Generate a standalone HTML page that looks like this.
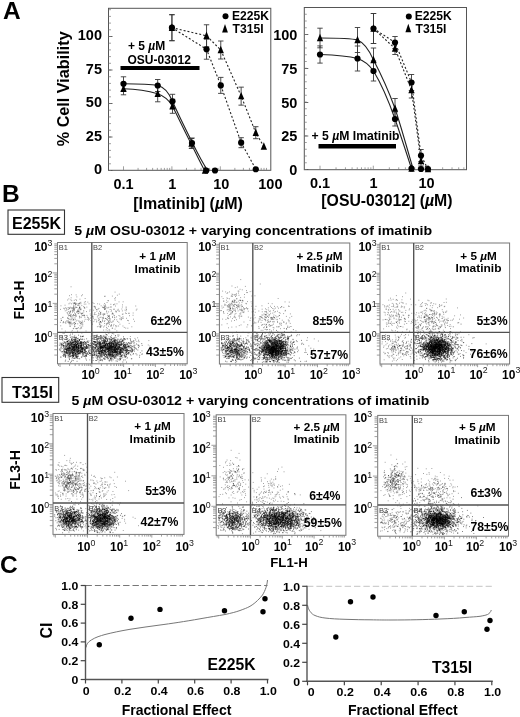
<!DOCTYPE html>
<html><head><meta charset="utf-8"><style>
html,body{margin:0;padding:0;background:#fff;overflow:hidden}
svg{display:block;font-family:"Liberation Sans",sans-serif;filter:blur(0.35px);}
</style></head><body>
<svg width="520" height="717" viewBox="0 0 520 717">
<rect width="520" height="717" fill="#fff"/>
<text x="3" y="19" font-size="24.5" font-weight="bold" text-anchor="start" fill="#000" >A</text>
<text x="2" y="201.5" font-size="24.5" font-weight="bold" text-anchor="start" fill="#000" >B</text>
<text x="0" y="573" font-size="24.5" font-weight="bold" text-anchor="start" fill="#000" >C</text>
<rect x="108.5" y="8.3" width="162.3" height="162.0" fill="none" stroke="#555" stroke-width="1"/>
<text x="102" y="40.3" font-size="14.5" font-weight="bold" text-anchor="end" fill="#000" >100</text>
<line x1="108.5" y1="36.5" x2="112.5" y2="36.5" stroke="#555" stroke-width="0.9" />
<text x="102" y="73.8" font-size="14.5" font-weight="bold" text-anchor="end" fill="#000" >75</text>
<line x1="108.5" y1="70" x2="112.5" y2="70" stroke="#555" stroke-width="0.9" />
<text x="102" y="107.3" font-size="14.5" font-weight="bold" text-anchor="end" fill="#000" >50</text>
<line x1="108.5" y1="103.5" x2="112.5" y2="103.5" stroke="#555" stroke-width="0.9" />
<text x="102" y="140.8" font-size="14.5" font-weight="bold" text-anchor="end" fill="#000" >25</text>
<line x1="108.5" y1="137" x2="112.5" y2="137" stroke="#555" stroke-width="0.9" />
<text x="102" y="174.3" font-size="14.5" font-weight="bold" text-anchor="end" fill="#000" >0</text>
<line x1="108.5" y1="170.5" x2="112.5" y2="170.5" stroke="#555" stroke-width="0.9" />
<line x1="108.5" y1="170.5" x2="111.0" y2="170.5" stroke="#777" stroke-width="0.7" />
<line x1="108.5" y1="163.8" x2="111.0" y2="163.8" stroke="#777" stroke-width="0.7" />
<line x1="108.5" y1="157.1" x2="111.0" y2="157.1" stroke="#777" stroke-width="0.7" />
<line x1="108.5" y1="150.4" x2="111.0" y2="150.4" stroke="#777" stroke-width="0.7" />
<line x1="108.5" y1="143.7" x2="111.0" y2="143.7" stroke="#777" stroke-width="0.7" />
<line x1="108.5" y1="137.0" x2="111.0" y2="137.0" stroke="#777" stroke-width="0.7" />
<line x1="108.5" y1="130.3" x2="111.0" y2="130.3" stroke="#777" stroke-width="0.7" />
<line x1="108.5" y1="123.6" x2="111.0" y2="123.6" stroke="#777" stroke-width="0.7" />
<line x1="108.5" y1="116.9" x2="111.0" y2="116.9" stroke="#777" stroke-width="0.7" />
<line x1="108.5" y1="110.19999999999999" x2="111.0" y2="110.19999999999999" stroke="#777" stroke-width="0.7" />
<line x1="108.5" y1="103.5" x2="111.0" y2="103.5" stroke="#777" stroke-width="0.7" />
<line x1="108.5" y1="96.8" x2="111.0" y2="96.8" stroke="#777" stroke-width="0.7" />
<line x1="108.5" y1="90.1" x2="111.0" y2="90.1" stroke="#777" stroke-width="0.7" />
<line x1="108.5" y1="83.39999999999999" x2="111.0" y2="83.39999999999999" stroke="#777" stroke-width="0.7" />
<line x1="108.5" y1="76.7" x2="111.0" y2="76.7" stroke="#777" stroke-width="0.7" />
<line x1="108.5" y1="70.0" x2="111.0" y2="70.0" stroke="#777" stroke-width="0.7" />
<line x1="108.5" y1="63.3" x2="111.0" y2="63.3" stroke="#777" stroke-width="0.7" />
<line x1="108.5" y1="56.599999999999994" x2="111.0" y2="56.599999999999994" stroke="#777" stroke-width="0.7" />
<line x1="108.5" y1="49.89999999999999" x2="111.0" y2="49.89999999999999" stroke="#777" stroke-width="0.7" />
<line x1="108.5" y1="43.2" x2="111.0" y2="43.2" stroke="#777" stroke-width="0.7" />
<line x1="108.5" y1="36.5" x2="111.0" y2="36.5" stroke="#777" stroke-width="0.7" />
<line x1="108.5" y1="29.799999999999983" x2="111.0" y2="29.799999999999983" stroke="#777" stroke-width="0.7" />
<line x1="108.5" y1="23.099999999999994" x2="111.0" y2="23.099999999999994" stroke="#777" stroke-width="0.7" />
<line x1="108.5" y1="16.400000000000006" x2="111.0" y2="16.400000000000006" stroke="#777" stroke-width="0.7" />
<line x1="108.5" y1="9.699999999999989" x2="111.0" y2="9.699999999999989" stroke="#777" stroke-width="0.7" />
<text x="123.5" y="189" font-size="14.5" font-weight="bold" text-anchor="middle" fill="#000" >0.1</text>
<text x="172.3" y="189" font-size="14.5" font-weight="bold" text-anchor="middle" fill="#000" >1</text>
<text x="221.3" y="189" font-size="14.5" font-weight="bold" text-anchor="middle" fill="#000" >10</text>
<text x="270.4" y="189" font-size="14.5" font-weight="bold" text-anchor="middle" fill="#000" >100</text>
<line x1="123.5" y1="170.3" x2="123.5" y2="166.3" stroke="#777" stroke-width="0.7" />
<line x1="138.06985179013668" y1="170.3" x2="138.06985179013668" y2="167.9" stroke="#777" stroke-width="0.7" />
<line x1="146.59266872843165" y1="170.3" x2="146.59266872843165" y2="167.9" stroke="#777" stroke-width="0.7" />
<line x1="152.6397035802734" y1="170.3" x2="152.6397035802734" y2="167.9" stroke="#777" stroke-width="0.7" />
<line x1="157.3301482098633" y1="170.3" x2="157.3301482098633" y2="167.9" stroke="#777" stroke-width="0.7" />
<line x1="161.16252051856836" y1="170.3" x2="161.16252051856836" y2="167.9" stroke="#777" stroke-width="0.7" />
<line x1="164.40274513669004" y1="170.3" x2="164.40274513669004" y2="167.9" stroke="#777" stroke-width="0.7" />
<line x1="167.20955537041007" y1="170.3" x2="167.20955537041007" y2="167.9" stroke="#777" stroke-width="0.7" />
<line x1="169.68533745686332" y1="170.3" x2="169.68533745686332" y2="167.9" stroke="#777" stroke-width="0.7" />
<line x1="171.9" y1="170.3" x2="171.9" y2="166.3" stroke="#777" stroke-width="0.7" />
<line x1="186.4698517901367" y1="170.3" x2="186.4698517901367" y2="167.9" stroke="#777" stroke-width="0.7" />
<line x1="194.99266872843168" y1="170.3" x2="194.99266872843168" y2="167.9" stroke="#777" stroke-width="0.7" />
<line x1="201.0397035802734" y1="170.3" x2="201.0397035802734" y2="167.9" stroke="#777" stroke-width="0.7" />
<line x1="205.73014820986333" y1="170.3" x2="205.73014820986333" y2="167.9" stroke="#777" stroke-width="0.7" />
<line x1="209.56252051856836" y1="170.3" x2="209.56252051856836" y2="167.9" stroke="#777" stroke-width="0.7" />
<line x1="212.80274513669002" y1="170.3" x2="212.80274513669002" y2="167.9" stroke="#777" stroke-width="0.7" />
<line x1="215.60955537041008" y1="170.3" x2="215.60955537041008" y2="167.9" stroke="#777" stroke-width="0.7" />
<line x1="218.08533745686333" y1="170.3" x2="218.08533745686333" y2="167.9" stroke="#777" stroke-width="0.7" />
<line x1="220.3" y1="170.3" x2="220.3" y2="166.3" stroke="#777" stroke-width="0.7" />
<line x1="234.8698517901367" y1="170.3" x2="234.8698517901367" y2="167.9" stroke="#777" stroke-width="0.7" />
<line x1="243.39266872843166" y1="170.3" x2="243.39266872843166" y2="167.9" stroke="#777" stroke-width="0.7" />
<line x1="249.4397035802734" y1="170.3" x2="249.4397035802734" y2="167.9" stroke="#777" stroke-width="0.7" />
<line x1="254.1301482098633" y1="170.3" x2="254.1301482098633" y2="167.9" stroke="#777" stroke-width="0.7" />
<line x1="257.96252051856834" y1="170.3" x2="257.96252051856834" y2="167.9" stroke="#777" stroke-width="0.7" />
<line x1="261.20274513669006" y1="170.3" x2="261.20274513669006" y2="167.9" stroke="#777" stroke-width="0.7" />
<line x1="264.00955537041006" y1="170.3" x2="264.00955537041006" y2="167.9" stroke="#777" stroke-width="0.7" />
<line x1="266.48533745686336" y1="170.3" x2="266.48533745686336" y2="167.9" stroke="#777" stroke-width="0.7" />
<text x="188" y="209" font-size="16" font-weight="bold" text-anchor="middle" fill="#000" >[Imatinib] (<tspan font-style="italic">µ</tspan>M)</text>
<text transform="translate(68.8,88.8) rotate(-90)" font-size="16.2" font-weight="bold" text-anchor="middle">% Cell Viability</text>
<polyline fill="none" stroke="#222" stroke-width="1.1" stroke-dasharray="2,2" points="171.9,27.7 206.5,49.2 220.8,85.4 241.2,142.7 255.8,169.2"/>
<polyline fill="none" stroke="#222" stroke-width="1.1" stroke-dasharray="2,2" points="171.9,27.7 206.5,35.8 220.8,50.0 241.2,96.2 255.8,132.7 263.8,146.5"/>
<path fill="none" stroke="#222" stroke-width="1.1" d="M123.5 83.8 C140 83.9,150 84.2,157.7 85.5 C165 87,169 93,172.5 101.3 C178 114,186 130,193 144 C198 154,203 163.5,207.5 170.3"/>
<path fill="none" stroke="#222" stroke-width="1.1" d="M123.5 88.8 C140 89.3,150 91.5,157.7 93.8 C164 96,169 100,172.5 106.3 C178 117,184 130,191 143.5 C196 153.5,200 162,204.5 170.3"/>
<line x1="171.9230769230769" y1="14.69230769230769" x2="171.9230769230769" y2="40.69230769230769" stroke="#383838" stroke-width="0.9" />
<line x1="169.22307692307692" y1="14.69230769230769" x2="174.6230769230769" y2="14.69230769230769" stroke="#383838" stroke-width="0.9" />
<line x1="169.22307692307692" y1="40.69230769230769" x2="174.6230769230769" y2="40.69230769230769" stroke="#383838" stroke-width="0.9" />
<line x1="206.53846153846155" y1="39.230769230769226" x2="206.53846153846155" y2="59.230769230769226" stroke="#383838" stroke-width="0.9" />
<line x1="203.83846153846156" y1="39.230769230769226" x2="209.23846153846154" y2="39.230769230769226" stroke="#383838" stroke-width="0.9" />
<line x1="203.83846153846156" y1="59.230769230769226" x2="209.23846153846154" y2="59.230769230769226" stroke="#383838" stroke-width="0.9" />
<line x1="220.76923076923077" y1="77.38461538461539" x2="220.76923076923077" y2="93.38461538461539" stroke="#383838" stroke-width="0.9" />
<line x1="218.06923076923078" y1="77.38461538461539" x2="223.46923076923076" y2="77.38461538461539" stroke="#383838" stroke-width="0.9" />
<line x1="218.06923076923078" y1="93.38461538461539" x2="223.46923076923076" y2="93.38461538461539" stroke="#383838" stroke-width="0.9" />
<line x1="241.15384615384616" y1="137.69230769230768" x2="241.15384615384616" y2="147.69230769230768" stroke="#383838" stroke-width="0.9" />
<line x1="238.45384615384617" y1="137.69230769230768" x2="243.85384615384615" y2="137.69230769230768" stroke="#383838" stroke-width="0.9" />
<line x1="238.45384615384617" y1="147.69230769230768" x2="243.85384615384615" y2="147.69230769230768" stroke="#383838" stroke-width="0.9" />
<line x1="171.9230769230769" y1="14.69230769230769" x2="171.9230769230769" y2="40.69230769230769" stroke="#383838" stroke-width="0.9" />
<line x1="169.22307692307692" y1="14.69230769230769" x2="174.6230769230769" y2="14.69230769230769" stroke="#383838" stroke-width="0.9" />
<line x1="169.22307692307692" y1="40.69230769230769" x2="174.6230769230769" y2="40.69230769230769" stroke="#383838" stroke-width="0.9" />
<line x1="206.53846153846155" y1="24.769230769230766" x2="206.53846153846155" y2="46.76923076923077" stroke="#383838" stroke-width="0.9" />
<line x1="203.83846153846156" y1="24.769230769230766" x2="209.23846153846154" y2="24.769230769230766" stroke="#383838" stroke-width="0.9" />
<line x1="203.83846153846156" y1="46.76923076923077" x2="209.23846153846154" y2="46.76923076923077" stroke="#383838" stroke-width="0.9" />
<line x1="220.76923076923077" y1="41.0" x2="220.76923076923077" y2="59.0" stroke="#383838" stroke-width="0.9" />
<line x1="218.06923076923078" y1="41.0" x2="223.46923076923076" y2="41.0" stroke="#383838" stroke-width="0.9" />
<line x1="218.06923076923078" y1="59.0" x2="223.46923076923076" y2="59.0" stroke="#383838" stroke-width="0.9" />
<line x1="241.15384615384616" y1="87.15384615384615" x2="241.15384615384616" y2="105.15384615384615" stroke="#383838" stroke-width="0.9" />
<line x1="238.45384615384617" y1="87.15384615384615" x2="243.85384615384615" y2="87.15384615384615" stroke="#383838" stroke-width="0.9" />
<line x1="238.45384615384617" y1="105.15384615384615" x2="243.85384615384615" y2="105.15384615384615" stroke="#383838" stroke-width="0.9" />
<line x1="255.76923076923077" y1="126.69230769230768" x2="255.76923076923077" y2="138.69230769230768" stroke="#383838" stroke-width="0.9" />
<line x1="253.06923076923078" y1="126.69230769230768" x2="258.46923076923076" y2="126.69230769230768" stroke="#383838" stroke-width="0.9" />
<line x1="253.06923076923078" y1="138.69230769230768" x2="258.46923076923076" y2="138.69230769230768" stroke="#383838" stroke-width="0.9" />
<line x1="123.5" y1="76.8" x2="123.5" y2="90.8" stroke="#383838" stroke-width="0.9" />
<line x1="120.8" y1="76.8" x2="126.2" y2="76.8" stroke="#383838" stroke-width="0.9" />
<line x1="120.8" y1="90.8" x2="126.2" y2="90.8" stroke="#383838" stroke-width="0.9" />
<line x1="157.7" y1="79.5" x2="157.7" y2="91.5" stroke="#383838" stroke-width="0.9" />
<line x1="155.0" y1="79.5" x2="160.39999999999998" y2="79.5" stroke="#383838" stroke-width="0.9" />
<line x1="155.0" y1="91.5" x2="160.39999999999998" y2="91.5" stroke="#383838" stroke-width="0.9" />
<line x1="172.5" y1="94.3" x2="172.5" y2="108.3" stroke="#383838" stroke-width="0.9" />
<line x1="169.8" y1="94.3" x2="175.2" y2="94.3" stroke="#383838" stroke-width="0.9" />
<line x1="169.8" y1="108.3" x2="175.2" y2="108.3" stroke="#383838" stroke-width="0.9" />
<line x1="192" y1="138" x2="192" y2="148" stroke="#383838" stroke-width="0.9" />
<line x1="189.3" y1="138" x2="194.7" y2="138" stroke="#383838" stroke-width="0.9" />
<line x1="189.3" y1="148" x2="194.7" y2="148" stroke="#383838" stroke-width="0.9" />
<line x1="123.5" y1="82.8" x2="123.5" y2="94.8" stroke="#383838" stroke-width="0.9" />
<line x1="120.8" y1="82.8" x2="126.2" y2="82.8" stroke="#383838" stroke-width="0.9" />
<line x1="120.8" y1="94.8" x2="126.2" y2="94.8" stroke="#383838" stroke-width="0.9" />
<line x1="157.7" y1="85.8" x2="157.7" y2="101.8" stroke="#383838" stroke-width="0.9" />
<line x1="155.0" y1="85.8" x2="160.39999999999998" y2="85.8" stroke="#383838" stroke-width="0.9" />
<line x1="155.0" y1="101.8" x2="160.39999999999998" y2="101.8" stroke="#383838" stroke-width="0.9" />
<line x1="172.5" y1="99.3" x2="172.5" y2="113.3" stroke="#383838" stroke-width="0.9" />
<line x1="169.8" y1="99.3" x2="175.2" y2="99.3" stroke="#383838" stroke-width="0.9" />
<line x1="169.8" y1="113.3" x2="175.2" y2="113.3" stroke="#383838" stroke-width="0.9" />
<line x1="191.5" y1="138.5" x2="191.5" y2="148.5" stroke="#383838" stroke-width="0.9" />
<line x1="188.8" y1="138.5" x2="194.2" y2="138.5" stroke="#383838" stroke-width="0.9" />
<line x1="188.8" y1="148.5" x2="194.2" y2="148.5" stroke="#383838" stroke-width="0.9" />
<circle cx="171.9230769230769" cy="27.69230769230769" r="3.1" fill="#000"/>
<circle cx="206.53846153846155" cy="49.230769230769226" r="3.1" fill="#000"/>
<circle cx="220.76923076923077" cy="85.38461538461539" r="3.1" fill="#000"/>
<circle cx="241.15384615384616" cy="142.69230769230768" r="3.1" fill="#000"/>
<circle cx="255.76923076923077" cy="169.23076923076923" r="3.1" fill="#000"/>
<path d="M171.9230769230769 23.49230769230769L175.06807692307692 30.89230769230769L168.7780769230769 30.89230769230769Z" fill="#000"/>
<path d="M206.53846153846155 31.569230769230764L209.68346153846156 38.96923076923077L203.39346153846154 38.96923076923077Z" fill="#000"/>
<path d="M220.76923076923077 45.8L223.91423076923078 53.2L217.62423076923076 53.2Z" fill="#000"/>
<path d="M241.15384615384616 91.95384615384614L244.29884615384617 99.35384615384615L238.00884615384615 99.35384615384615Z" fill="#000"/>
<path d="M255.76923076923077 128.4923076923077L258.91423076923076 135.89230769230767L252.62423076923076 135.89230769230767Z" fill="#000"/>
<path d="M263.8461538461538 142.33846153846156L266.9911538461538 149.73846153846154L260.70115384615383 149.73846153846154Z" fill="#000"/>
<circle cx="123.5" cy="83.8" r="3.1" fill="#000"/>
<circle cx="157.7" cy="85.5" r="3.1" fill="#000"/>
<circle cx="172.5" cy="101.3" r="3.1" fill="#000"/>
<circle cx="192" cy="143" r="3.1" fill="#000"/>
<circle cx="206.3" cy="170.5" r="3.1" fill="#000"/>
<circle cx="215" cy="170.5" r="3.1" fill="#000"/>
<path d="M123.5 84.6L126.645 92.0L120.355 92.0Z" fill="#000"/>
<path d="M157.7 89.6L160.845 97.0L154.55499999999998 97.0Z" fill="#000"/>
<path d="M172.5 102.1L175.645 109.5L169.355 109.5Z" fill="#000"/>
<path d="M191.5 139.3L194.645 146.7L188.355 146.7Z" fill="#000"/>
<path d="M205 166.3L208.145 173.7L201.855 173.7Z" fill="#000"/>
<rect x="120.5" y="66" width="79" height="4" fill="#000"/>
<text x="128" y="50" font-size="12" font-weight="bold" text-anchor="start" fill="#000" >+ 5 <tspan font-style="italic">µ</tspan>M</text>
<text x="127.5" y="64" font-size="12" font-weight="bold" text-anchor="start" fill="#000" >OSU-03012</text>
<circle cx="225.5" cy="16.2" r="3" fill="#000"/>
<text x="232" y="20.1" font-size="12.1" font-weight="bold" text-anchor="start" fill="#000" >E225K</text>
<path d="M225 24.1L227.9 32.5L222.1 32.5Z" fill="#000"/>
<text x="232.6" y="32.8" font-size="12.1" font-weight="bold" text-anchor="start" fill="#000" >T315I</text>
<rect x="304.3" y="7.5" width="162.2" height="162.2" fill="none" stroke="#555" stroke-width="1"/>
<text x="297.4" y="39.5" font-size="14.5" font-weight="bold" text-anchor="end" fill="#000" >100</text>
<line x1="304.3" y1="34.5" x2="308.3" y2="34.5" stroke="#555" stroke-width="0.9" />
<text x="297.4" y="73.5" font-size="14.5" font-weight="bold" text-anchor="end" fill="#000" >75</text>
<line x1="304.3" y1="68.5" x2="308.3" y2="68.5" stroke="#555" stroke-width="0.9" />
<text x="297.4" y="107.5" font-size="14.5" font-weight="bold" text-anchor="end" fill="#000" >50</text>
<line x1="304.3" y1="102.5" x2="308.3" y2="102.5" stroke="#555" stroke-width="0.9" />
<text x="297.4" y="141" font-size="14.5" font-weight="bold" text-anchor="end" fill="#000" >25</text>
<line x1="304.3" y1="136" x2="308.3" y2="136" stroke="#555" stroke-width="0.9" />
<text x="297.4" y="174.5" font-size="14.5" font-weight="bold" text-anchor="end" fill="#000" >0</text>
<line x1="304.3" y1="169.5" x2="308.3" y2="169.5" stroke="#555" stroke-width="0.9" />
<line x1="304.3" y1="169.5" x2="306.8" y2="169.5" stroke="#777" stroke-width="0.7" />
<line x1="304.3" y1="162.75" x2="306.8" y2="162.75" stroke="#777" stroke-width="0.7" />
<line x1="304.3" y1="156.0" x2="306.8" y2="156.0" stroke="#777" stroke-width="0.7" />
<line x1="304.3" y1="149.25" x2="306.8" y2="149.25" stroke="#777" stroke-width="0.7" />
<line x1="304.3" y1="142.5" x2="306.8" y2="142.5" stroke="#777" stroke-width="0.7" />
<line x1="304.3" y1="135.75" x2="306.8" y2="135.75" stroke="#777" stroke-width="0.7" />
<line x1="304.3" y1="129.0" x2="306.8" y2="129.0" stroke="#777" stroke-width="0.7" />
<line x1="304.3" y1="122.25" x2="306.8" y2="122.25" stroke="#777" stroke-width="0.7" />
<line x1="304.3" y1="115.5" x2="306.8" y2="115.5" stroke="#777" stroke-width="0.7" />
<line x1="304.3" y1="108.75" x2="306.8" y2="108.75" stroke="#777" stroke-width="0.7" />
<line x1="304.3" y1="102.0" x2="306.8" y2="102.0" stroke="#777" stroke-width="0.7" />
<line x1="304.3" y1="95.25" x2="306.8" y2="95.25" stroke="#777" stroke-width="0.7" />
<line x1="304.3" y1="88.5" x2="306.8" y2="88.5" stroke="#777" stroke-width="0.7" />
<line x1="304.3" y1="81.75" x2="306.8" y2="81.75" stroke="#777" stroke-width="0.7" />
<line x1="304.3" y1="75.0" x2="306.8" y2="75.0" stroke="#777" stroke-width="0.7" />
<line x1="304.3" y1="68.25" x2="306.8" y2="68.25" stroke="#777" stroke-width="0.7" />
<line x1="304.3" y1="61.5" x2="306.8" y2="61.5" stroke="#777" stroke-width="0.7" />
<line x1="304.3" y1="54.75" x2="306.8" y2="54.75" stroke="#777" stroke-width="0.7" />
<line x1="304.3" y1="48.0" x2="306.8" y2="48.0" stroke="#777" stroke-width="0.7" />
<line x1="304.3" y1="41.25" x2="306.8" y2="41.25" stroke="#777" stroke-width="0.7" />
<line x1="304.3" y1="34.5" x2="306.8" y2="34.5" stroke="#777" stroke-width="0.7" />
<line x1="304.3" y1="27.75" x2="306.8" y2="27.75" stroke="#777" stroke-width="0.7" />
<line x1="304.3" y1="21.0" x2="306.8" y2="21.0" stroke="#777" stroke-width="0.7" />
<line x1="304.3" y1="14.25" x2="306.8" y2="14.25" stroke="#777" stroke-width="0.7" />
<text x="320" y="188" font-size="14.5" font-weight="bold" text-anchor="middle" fill="#000" >0.1</text>
<text x="373.5" y="188" font-size="14.5" font-weight="bold" text-anchor="middle" fill="#000" >1</text>
<text x="426.5" y="188" font-size="14.5" font-weight="bold" text-anchor="middle" fill="#000" >10</text>
<line x1="320.0" y1="169.7" x2="320.0" y2="165.7" stroke="#777" stroke-width="0.7" />
<line x1="336.0448987688902" y1="169.7" x2="336.0448987688902" y2="167.29999999999998" stroke="#777" stroke-width="0.7" />
<line x1="345.430562876558" y1="169.7" x2="345.430562876558" y2="167.29999999999998" stroke="#777" stroke-width="0.7" />
<line x1="352.0897975377804" y1="169.7" x2="352.0897975377804" y2="167.29999999999998" stroke="#777" stroke-width="0.7" />
<line x1="357.2551012311098" y1="169.7" x2="357.2551012311098" y2="167.29999999999998" stroke="#777" stroke-width="0.7" />
<line x1="361.4754616454482" y1="169.7" x2="361.4754616454482" y2="167.29999999999998" stroke="#777" stroke-width="0.7" />
<line x1="365.0437255327599" y1="169.7" x2="365.0437255327599" y2="167.29999999999998" stroke="#777" stroke-width="0.7" />
<line x1="368.1346963066706" y1="169.7" x2="368.1346963066706" y2="167.29999999999998" stroke="#777" stroke-width="0.7" />
<line x1="370.861125753116" y1="169.7" x2="370.861125753116" y2="167.29999999999998" stroke="#777" stroke-width="0.7" />
<line x1="373.3" y1="169.7" x2="373.3" y2="165.7" stroke="#777" stroke-width="0.7" />
<line x1="389.34489876889023" y1="169.7" x2="389.34489876889023" y2="167.29999999999998" stroke="#777" stroke-width="0.7" />
<line x1="398.730562876558" y1="169.7" x2="398.730562876558" y2="167.29999999999998" stroke="#777" stroke-width="0.7" />
<line x1="405.3897975377804" y1="169.7" x2="405.3897975377804" y2="167.29999999999998" stroke="#777" stroke-width="0.7" />
<line x1="410.5551012311098" y1="169.7" x2="410.5551012311098" y2="167.29999999999998" stroke="#777" stroke-width="0.7" />
<line x1="414.7754616454482" y1="169.7" x2="414.7754616454482" y2="167.29999999999998" stroke="#777" stroke-width="0.7" />
<line x1="418.3437255327599" y1="169.7" x2="418.3437255327599" y2="167.29999999999998" stroke="#777" stroke-width="0.7" />
<line x1="421.4346963066706" y1="169.7" x2="421.4346963066706" y2="167.29999999999998" stroke="#777" stroke-width="0.7" />
<line x1="424.16112575311604" y1="169.7" x2="424.16112575311604" y2="167.29999999999998" stroke="#777" stroke-width="0.7" />
<line x1="426.6" y1="169.7" x2="426.6" y2="165.7" stroke="#777" stroke-width="0.7" />
<line x1="442.64489876889024" y1="169.7" x2="442.64489876889024" y2="167.29999999999998" stroke="#777" stroke-width="0.7" />
<line x1="452.030562876558" y1="169.7" x2="452.030562876558" y2="167.29999999999998" stroke="#777" stroke-width="0.7" />
<line x1="458.6897975377804" y1="169.7" x2="458.6897975377804" y2="167.29999999999998" stroke="#777" stroke-width="0.7" />
<line x1="463.8551012311098" y1="169.7" x2="463.8551012311098" y2="167.29999999999998" stroke="#777" stroke-width="0.7" />
<text x="386.9" y="206" font-size="15.8" font-weight="bold" text-anchor="middle" fill="#000" >[OSU-03012] (<tspan font-style="italic">µ</tspan>M)</text>
<polyline fill="none" stroke="#222" stroke-width="1.1" stroke-dasharray="2,2" points="373.5,28.5 395.0,42.5 411.5,82.5 421.0,155.5 428.0,169.0"/>
<polyline fill="none" stroke="#222" stroke-width="1.1" stroke-dasharray="2,2" points="373.5,28.5 395.0,48.5 411.5,90.0 421.0,161.0 428.0,169.0"/>
<path fill="none" stroke="#222" stroke-width="1.1" d="M320 54.5 C335 55,348 56,357.5 58.5 C365 61,370 66,373.5 71 C382 85,389 102,395 119 C401 136,407 155,411.5 168.5"/>
<path fill="none" stroke="#222" stroke-width="1.1" d="M320 38 C335 38,350 38,357.5 40 C365 43,370 52,373.5 60 C382 76,389 92,395 108.5 C401 126,408 152,413 168.5"/>
<line x1="373.5" y1="13.5" x2="373.5" y2="43.5" stroke="#383838" stroke-width="0.9" />
<line x1="370.8" y1="13.5" x2="376.2" y2="13.5" stroke="#383838" stroke-width="0.9" />
<line x1="370.8" y1="43.5" x2="376.2" y2="43.5" stroke="#383838" stroke-width="0.9" />
<line x1="395.0" y1="36.5" x2="395.0" y2="48.5" stroke="#383838" stroke-width="0.9" />
<line x1="392.3" y1="36.5" x2="397.7" y2="36.5" stroke="#383838" stroke-width="0.9" />
<line x1="392.3" y1="48.5" x2="397.7" y2="48.5" stroke="#383838" stroke-width="0.9" />
<line x1="411.5" y1="74.5" x2="411.5" y2="90.5" stroke="#383838" stroke-width="0.9" />
<line x1="408.8" y1="74.5" x2="414.2" y2="74.5" stroke="#383838" stroke-width="0.9" />
<line x1="408.8" y1="90.5" x2="414.2" y2="90.5" stroke="#383838" stroke-width="0.9" />
<line x1="421.0" y1="149.5" x2="421.0" y2="161.5" stroke="#383838" stroke-width="0.9" />
<line x1="418.3" y1="149.5" x2="423.7" y2="149.5" stroke="#383838" stroke-width="0.9" />
<line x1="418.3" y1="161.5" x2="423.7" y2="161.5" stroke="#383838" stroke-width="0.9" />
<line x1="373.5" y1="13.5" x2="373.5" y2="43.5" stroke="#383838" stroke-width="0.9" />
<line x1="370.8" y1="13.5" x2="376.2" y2="13.5" stroke="#383838" stroke-width="0.9" />
<line x1="370.8" y1="43.5" x2="376.2" y2="43.5" stroke="#383838" stroke-width="0.9" />
<line x1="395.0" y1="42.5" x2="395.0" y2="54.5" stroke="#383838" stroke-width="0.9" />
<line x1="392.3" y1="42.5" x2="397.7" y2="42.5" stroke="#383838" stroke-width="0.9" />
<line x1="392.3" y1="54.5" x2="397.7" y2="54.5" stroke="#383838" stroke-width="0.9" />
<line x1="411.5" y1="82.0" x2="411.5" y2="98.0" stroke="#383838" stroke-width="0.9" />
<line x1="408.8" y1="82.0" x2="414.2" y2="82.0" stroke="#383838" stroke-width="0.9" />
<line x1="408.8" y1="98.0" x2="414.2" y2="98.0" stroke="#383838" stroke-width="0.9" />
<line x1="421.0" y1="156.0" x2="421.0" y2="166.0" stroke="#383838" stroke-width="0.9" />
<line x1="418.3" y1="156.0" x2="423.7" y2="156.0" stroke="#383838" stroke-width="0.9" />
<line x1="418.3" y1="166.0" x2="423.7" y2="166.0" stroke="#383838" stroke-width="0.9" />
<line x1="320.0" y1="45.9" x2="320.0" y2="63.1" stroke="#383838" stroke-width="0.9" />
<line x1="317.3" y1="45.9" x2="322.7" y2="45.9" stroke="#383838" stroke-width="0.9" />
<line x1="317.3" y1="63.1" x2="322.7" y2="63.1" stroke="#383838" stroke-width="0.9" />
<line x1="357.5" y1="46.0" x2="357.5" y2="71.0" stroke="#383838" stroke-width="0.9" />
<line x1="354.8" y1="46.0" x2="360.2" y2="46.0" stroke="#383838" stroke-width="0.9" />
<line x1="354.8" y1="71.0" x2="360.2" y2="71.0" stroke="#383838" stroke-width="0.9" />
<line x1="373.5" y1="61.0" x2="373.5" y2="81.0" stroke="#383838" stroke-width="0.9" />
<line x1="370.8" y1="61.0" x2="376.2" y2="61.0" stroke="#383838" stroke-width="0.9" />
<line x1="370.8" y1="81.0" x2="376.2" y2="81.0" stroke="#383838" stroke-width="0.9" />
<line x1="395.0" y1="112.0" x2="395.0" y2="126.0" stroke="#383838" stroke-width="0.9" />
<line x1="392.3" y1="112.0" x2="397.7" y2="112.0" stroke="#383838" stroke-width="0.9" />
<line x1="392.3" y1="126.0" x2="397.7" y2="126.0" stroke="#383838" stroke-width="0.9" />
<line x1="320.0" y1="28.2" x2="320.0" y2="47.8" stroke="#383838" stroke-width="0.9" />
<line x1="317.3" y1="28.2" x2="322.7" y2="28.2" stroke="#383838" stroke-width="0.9" />
<line x1="317.3" y1="47.8" x2="322.7" y2="47.8" stroke="#383838" stroke-width="0.9" />
<line x1="357.5" y1="27.5" x2="357.5" y2="52.5" stroke="#383838" stroke-width="0.9" />
<line x1="354.8" y1="27.5" x2="360.2" y2="27.5" stroke="#383838" stroke-width="0.9" />
<line x1="354.8" y1="52.5" x2="360.2" y2="52.5" stroke="#383838" stroke-width="0.9" />
<line x1="373.5" y1="48.0" x2="373.5" y2="72.0" stroke="#383838" stroke-width="0.9" />
<line x1="370.8" y1="48.0" x2="376.2" y2="48.0" stroke="#383838" stroke-width="0.9" />
<line x1="370.8" y1="72.0" x2="376.2" y2="72.0" stroke="#383838" stroke-width="0.9" />
<line x1="395.0" y1="98.5" x2="395.0" y2="118.5" stroke="#383838" stroke-width="0.9" />
<line x1="392.3" y1="98.5" x2="397.7" y2="98.5" stroke="#383838" stroke-width="0.9" />
<line x1="392.3" y1="118.5" x2="397.7" y2="118.5" stroke="#383838" stroke-width="0.9" />
<circle cx="373.5" cy="28.5" r="3.1" fill="#000"/>
<circle cx="395.0" cy="42.5" r="3.1" fill="#000"/>
<circle cx="411.5" cy="82.5" r="3.1" fill="#000"/>
<circle cx="421.0" cy="155.5" r="3.1" fill="#000"/>
<circle cx="428.0" cy="169.0" r="3.1" fill="#000"/>
<path d="M373.5 24.3L376.645 31.700000000000003L370.355 31.700000000000003Z" fill="#000"/>
<path d="M395.0 44.3L398.145 51.7L391.855 51.7Z" fill="#000"/>
<path d="M411.5 85.8L414.645 93.2L408.355 93.2Z" fill="#000"/>
<path d="M421.0 156.8L424.145 164.2L417.855 164.2Z" fill="#000"/>
<path d="M428.0 164.8L431.145 172.2L424.855 172.2Z" fill="#000"/>
<circle cx="320.0" cy="54.5" r="3.1" fill="#000"/>
<circle cx="357.5" cy="58.5" r="3.1" fill="#000"/>
<circle cx="373.5" cy="71.0" r="3.1" fill="#000"/>
<circle cx="395.0" cy="119.0" r="3.1" fill="#000"/>
<circle cx="411.5" cy="168.5" r="3.1" fill="#000"/>
<path d="M320.0 33.8L323.145 41.2L316.855 41.2Z" fill="#000"/>
<path d="M357.5 35.8L360.645 43.2L354.355 43.2Z" fill="#000"/>
<path d="M373.5 55.8L376.645 63.2L370.355 63.2Z" fill="#000"/>
<path d="M395.0 104.3L398.145 111.7L391.855 111.7Z" fill="#000"/>
<path d="M411.5 164.3L414.645 171.7L408.355 171.7Z" fill="#000"/>
<circle cx="421" cy="169" r="3.1" fill="#000"/>
<rect x="318.5" y="144" width="77.5" height="4.5" fill="#000"/>
<text x="311.5" y="140" font-size="12.2" font-weight="bold" text-anchor="start" fill="#000" >+ 5 <tspan font-style="italic">µ</tspan>M Imatinib</text>
<circle cx="408.8" cy="16.6" r="3" fill="#000"/>
<text x="414.7" y="20.2" font-size="12.1" font-weight="bold" text-anchor="start" fill="#000" >E225K</text>
<path d="M408.3 23.799999999999997L411.2 32.2L405.40000000000003 32.2Z" fill="#000"/>
<text x="415.5" y="32.5" font-size="12.1" font-weight="bold" text-anchor="start" fill="#000" >T315I</text>
<rect x="8" y="210" width="56.5" height="24.3" fill="#fff" stroke="#333" stroke-width="1.1"/>
<text x="36.5" y="229.2" font-size="16" font-weight="bold" text-anchor="middle" fill="#000" >E255K</text>
<text transform="translate(74.3,234.5) scale(1.049,1)" font-size="13.5" font-weight="bold" text-anchor="start" fill="#000" >5 <tspan font-style="italic">µ</tspan>M OSU-03012 + varying concentrations of imatinib</text>
<path d="M76.0 350.0h.1M75.2 353.5h.1M74.4 349.3h.1M79.5 345.9h.1M76.4 344.4h.1M85.7 347.5h.1M73.2 356.5h.1M67.2 343.7h.1M83.8 351.0h.1M64.3 355.3h.1M74.3 346.7h.1M59.3 345.2h.1M74.7 353.6h.1M77.8 347.2h.1M73.7 341.7h.1M68.2 349.1h.1M73.8 341.5h.1M78.2 346.1h.1M83.5 344.9h.1M76.9 344.8h.1M85.2 352.3h.1M65.8 355.5h.1M61.1 346.2h.1M78.6 347.2h.1M81.1 344.6h.1M75.1 355.4h.1M78.9 353.5h.1M76.4 344.5h.1M68.2 343.4h.1M82.3 336.5h.1M75.2 354.0h.1M77.0 351.0h.1M82.2 349.3h.1M82.6 351.0h.1M78.3 356.0h.1M87.7 341.0h.1M69.7 349.4h.1M75.0 350.1h.1M72.5 347.3h.1M66.5 347.0h.1M70.7 345.6h.1M65.6 343.8h.1M80.6 341.5h.1M80.6 336.1h.1M68.7 348.4h.1M73.2 355.1h.1M79.7 345.8h.1M68.6 355.9h.1M67.2 345.1h.1M60.0 343.1h.1M80.3 342.6h.1M69.9 355.0h.1M80.9 343.5h.1M79.2 344.2h.1M83.8 346.1h.1M83.3 344.9h.1M69.3 347.2h.1M80.0 342.3h.1M73.1 356.6h.1M77.6 356.0h.1M72.9 345.7h.1M77.7 349.5h.1M77.0 351.5h.1M63.5 350.1h.1M80.8 346.0h.1M74.1 346.9h.1M79.3 340.5h.1M83.4 342.8h.1M82.2 344.4h.1M74.4 350.1h.1M75.1 338.2h.1M71.7 343.5h.1M85.2 356.1h.1M78.0 347.9h.1M65.8 348.8h.1M72.1 350.1h.1M72.1 350.3h.1M80.6 352.0h.1M85.5 348.8h.1M74.0 348.7h.1M80.9 342.9h.1M69.8 344.1h.1M74.6 344.9h.1M70.1 342.0h.1M85.3 349.6h.1M59.3 349.1h.1M73.5 350.2h.1M79.0 350.8h.1M72.5 348.5h.1M76.3 353.1h.1M78.0 343.4h.1M72.2 347.7h.1M62.4 337.6h.1M74.7 339.1h.1M73.2 352.3h.1M73.7 348.5h.1M80.9 342.1h.1M72.7 355.9h.1M69.3 358.9h.1M65.6 356.1h.1M75.9 351.1h.1M69.4 352.3h.1M78.4 350.6h.1M74.6 350.9h.1M66.9 341.3h.1M76.2 346.1h.1M78.3 348.1h.1M80.8 343.3h.1M81.2 346.1h.1M80.7 336.8h.1M76.3 339.2h.1M81.8 351.4h.1M68.7 344.1h.1M70.4 343.0h.1M67.4 341.6h.1M80.7 347.3h.1M73.3 347.3h.1M76.9 347.2h.1M72.1 338.2h.1M83.1 353.0h.1M70.5 353.4h.1M69.9 344.4h.1M66.2 353.1h.1M81.5 349.6h.1M88.4 345.8h.1M78.4 347.7h.1M79.8 351.9h.1M73.2 347.0h.1M71.7 343.7h.1M76.5 346.1h.1M69.2 349.0h.1M68.0 357.0h.1M75.4 346.0h.1M75.4 339.6h.1M76.5 350.6h.1M68.6 351.1h.1M72.8 355.0h.1M70.1 351.3h.1M86.7 342.1h.1M86.6 343.3h.1M81.0 345.6h.1M68.6 344.4h.1M75.6 353.5h.1M77.7 343.7h.1M66.7 352.0h.1M79.0 358.6h.1M89.9 345.6h.1M78.9 353.2h.1M78.9 353.2h.1M79.4 340.5h.1M64.6 349.8h.1M76.3 349.3h.1M71.8 342.3h.1M69.4 354.2h.1M80.1 341.8h.1M78.3 344.1h.1M71.9 353.6h.1M83.2 342.5h.1M67.9 349.1h.1M67.0 336.0h.1M76.8 348.2h.1M75.3 343.7h.1M68.6 345.9h.1M70.0 348.2h.1M74.4 352.0h.1M76.3 347.5h.1M65.6 351.9h.1M71.0 342.2h.1M67.4 345.0h.1M81.1 346.4h.1M67.7 347.6h.1M69.9 341.7h.1M72.1 351.8h.1M70.7 353.9h.1M77.5 356.6h.1M84.5 349.3h.1M79.4 348.5h.1M80.9 344.2h.1M86.4 346.5h.1M77.7 345.8h.1M65.1 354.4h.1M77.0 351.6h.1M84.1 352.2h.1M78.9 340.5h.1M63.7 354.5h.1M72.3 349.7h.1M76.5 342.7h.1M79.2 347.1h.1M78.3 347.0h.1M66.5 349.6h.1M82.0 352.1h.1M69.1 342.7h.1M82.0 345.9h.1M68.4 354.3h.1M80.5 348.1h.1M71.6 339.5h.1M71.0 349.5h.1M74.1 346.3h.1M65.6 357.3h.1M82.7 349.1h.1M69.6 343.9h.1M64.3 345.7h.1M77.3 341.3h.1M67.0 352.7h.1M76.6 356.7h.1M72.6 344.5h.1M76.1 347.7h.1M71.6 342.7h.1M83.0 336.3h.1M76.0 351.1h.1M70.5 342.9h.1M65.1 356.8h.1M75.2 349.1h.1M73.2 352.4h.1M68.1 343.8h.1M72.1 346.4h.1M77.4 347.0h.1M70.7 352.1h.1M84.5 356.2h.1M68.1 361.4h.1M65.8 349.6h.1M80.5 349.8h.1M87.6 354.0h.1M67.6 348.4h.1M84.0 352.5h.1M86.6 347.9h.1M70.9 350.4h.1M84.8 348.6h.1M83.2 348.6h.1M81.3 347.1h.1M73.1 349.3h.1M79.4 350.7h.1M79.0 342.2h.1M65.3 349.5h.1M72.3 342.2h.1M72.3 346.4h.1M75.0 349.4h.1M65.3 355.7h.1M65.3 345.5h.1M69.1 347.5h.1M72.4 342.6h.1M82.9 354.0h.1M69.8 348.7h.1M79.6 344.0h.1M75.3 349.6h.1M90.9 343.0h.1M82.4 352.8h.1M83.1 345.5h.1M86.1 346.8h.1M81.8 351.2h.1M67.5 352.9h.1M69.1 351.1h.1M81.3 357.0h.1M84.7 350.4h.1M67.6 344.8h.1M73.4 345.1h.1M80.1 353.9h.1M71.5 344.7h.1M83.5 347.1h.1M74.9 344.5h.1M82.2 348.5h.1M73.9 349.8h.1M77.6 350.6h.1M67.1 344.9h.1M74.8 355.7h.1M82.9 353.9h.1M72.4 343.3h.1M68.9 346.0h.1M74.8 347.5h.1M84.1 347.3h.1M83.0 354.9h.1M75.7 347.0h.1M63.2 345.8h.1M76.3 356.7h.1M77.3 341.0h.1M74.2 343.2h.1M66.6 351.6h.1M73.9 354.4h.1M77.5 340.2h.1M69.1 345.4h.1M74.5 344.6h.1M82.6 351.5h.1M81.6 342.5h.1M70.6 362.3h.1M64.0 333.4h.1M74.1 336.6h.1M68.9 342.0h.1M81.1 349.8h.1M87.0 354.0h.1M79.0 351.4h.1M66.0 337.6h.1M65.6 352.5h.1M90.3 347.1h.1M85.3 347.3h.1M82.6 342.7h.1M74.5 340.7h.1M76.6 346.6h.1M73.3 350.2h.1M69.8 346.9h.1M69.1 343.5h.1M64.2 351.3h.1M68.9 343.4h.1M82.7 349.4h.1M75.2 337.5h.1M64.0 348.4h.1M64.3 354.1h.1M77.8 349.4h.1M71.9 351.6h.1M71.6 339.6h.1M65.1 354.7h.1M82.5 350.8h.1M78.7 348.5h.1M78.9 349.4h.1M74.3 337.3h.1M77.1 357.9h.1M76.3 346.0h.1M70.8 348.1h.1M76.3 357.7h.1M80.1 345.0h.1M68.7 350.8h.1M84.4 350.8h.1M81.1 349.8h.1M76.0 337.2h.1M74.1 347.3h.1M72.3 353.0h.1M62.2 344.8h.1M64.0 350.0h.1M72.9 344.6h.1M76.2 337.4h.1M63.9 354.7h.1M73.1 343.0h.1M68.9 355.6h.1M62.2 343.0h.1M72.6 341.7h.1M86.9 348.4h.1M80.7 343.5h.1M63.2 345.4h.1M72.7 340.0h.1M81.7 352.3h.1M85.4 351.4h.1M78.5 353.4h.1M65.9 351.3h.1M74.8 358.5h.1M66.8 353.7h.1M81.7 357.2h.1M61.7 344.2h.1M73.9 351.7h.1M73.2 342.8h.1M81.4 348.5h.1M70.2 356.5h.1M84.8 352.3h.1M72.2 355.9h.1M67.3 341.4h.1M88.8 345.2h.1M82.2 347.2h.1M94.4 349.2h.1M76.3 355.0h.1M73.0 346.5h.1M81.8 348.7h.1M70.0 335.4h.1M81.1 348.4h.1M63.6 345.9h.1M73.6 355.3h.1M77.3 350.2h.1M67.8 348.5h.1M74.3 346.1h.1M77.4 346.9h.1M67.8 339.0h.1M73.4 347.2h.1M81.3 344.1h.1M73.6 348.2h.1M76.3 347.0h.1M70.2 343.6h.1M62.7 351.6h.1M75.4 341.5h.1M69.7 356.6h.1M83.7 344.1h.1M69.7 347.2h.1M80.6 346.0h.1M82.0 339.6h.1M66.5 339.1h.1M72.9 349.9h.1M81.2 352.6h.1M78.3 341.7h.1M72.2 340.7h.1M67.1 353.6h.1M87.3 347.4h.1M77.9 344.2h.1M70.6 350.6h.1M86.6 345.4h.1M76.6 348.6h.1M85.6 348.4h.1M86.2 351.6h.1M76.6 345.4h.1M85.7 355.6h.1M78.6 341.7h.1M60.3 344.8h.1M78.5 346.6h.1M74.2 345.9h.1M78.6 350.8h.1M75.5 353.6h.1M77.0 349.3h.1M66.8 341.7h.1M84.0 341.4h.1M85.3 357.0h.1M74.2 347.4h.1M74.9 340.0h.1M73.0 349.2h.1M81.3 341.7h.1M67.8 350.7h.1M90.1 345.8h.1M75.9 342.0h.1M72.4 334.0h.1M69.9 347.8h.1M77.5 343.7h.1M67.3 343.7h.1M75.5 340.3h.1M75.5 343.2h.1M84.5 341.6h.1M69.8 347.8h.1M68.4 349.0h.1M69.0 348.5h.1M73.2 356.4h.1M74.7 351.1h.1M96.4 351.1h.1M61.5 347.3h.1M75.0 348.6h.1M82.3 347.6h.1M77.3 351.5h.1M66.6 346.6h.1M78.0 348.4h.1M76.9 352.4h.1M78.7 343.1h.1M93.3 349.4h.1M78.1 352.4h.1M82.3 343.2h.1M62.7 332.9h.1M75.8 340.1h.1M64.2 349.9h.1M72.5 352.0h.1M77.4 354.4h.1M81.0 345.9h.1M77.9 356.4h.1M84.4 347.1h.1M80.7 342.5h.1M73.3 348.0h.1M79.0 353.7h.1M73.0 352.3h.1M72.2 352.5h.1M72.6 357.5h.1M89.3 352.8h.1M74.0 344.6h.1M72.4 355.3h.1M91.6 347.7h.1M74.7 349.3h.1M72.8 353.7h.1M69.6 353.5h.1M67.7 350.8h.1M73.2 353.6h.1M73.7 342.5h.1M71.5 346.2h.1M69.1 347.6h.1M67.2 346.2h.1M66.9 350.0h.1M75.4 346.9h.1M85.7 346.1h.1M77.0 361.3h.1M72.1 355.4h.1M67.4 349.5h.1M77.5 338.5h.1M66.3 348.6h.1M81.5 345.5h.1M66.3 346.9h.1M76.5 356.5h.1M78.3 345.1h.1M83.7 354.1h.1M66.2 345.5h.1M74.8 342.2h.1M66.9 349.9h.1M69.2 347.2h.1M70.7 344.5h.1M77.7 348.2h.1M69.9 356.8h.1M84.1 339.3h.1M84.9 344.4h.1M82.5 349.3h.1M67.1 351.9h.1M70.6 348.1h.1M82.4 339.1h.1M81.4 343.1h.1M71.4 350.8h.1M77.3 343.6h.1M71.9 349.1h.1M76.0 348.5h.1M64.1 351.7h.1M80.1 353.6h.1M68.8 352.9h.1M75.2 342.9h.1M72.3 349.6h.1M63.4 343.7h.1M75.4 356.5h.1M73.9 346.0h.1M68.9 352.9h.1M76.5 354.1h.1M81.3 346.1h.1M64.2 351.5h.1M82.8 348.7h.1M67.3 355.0h.1M81.1 339.3h.1M74.0 337.6h.1M74.2 341.0h.1M83.5 343.0h.1M75.6 345.1h.1M75.8 341.2h.1M67.1 346.0h.1M65.0 348.8h.1M73.2 343.0h.1M76.9 354.9h.1M84.2 349.2h.1M82.0 341.8h.1M80.9 345.6h.1M74.8 344.9h.1M74.6 347.4h.1M63.6 355.8h.1M76.4 342.4h.1M66.4 352.5h.1M85.1 343.4h.1M74.4 344.6h.1M79.0 346.3h.1M75.8 341.7h.1M77.6 331.1h.1M68.6 353.8h.1M68.5 350.1h.1M73.4 353.1h.1M76.6 344.5h.1M64.9 342.4h.1M66.9 352.0h.1M76.1 346.1h.1M76.0 348.2h.1M65.8 348.9h.1M77.3 343.1h.1M69.3 350.0h.1M82.8 355.8h.1M64.9 353.5h.1M64.2 342.1h.1M69.4 346.0h.1M75.1 350.3h.1M60.5 348.0h.1M80.6 350.3h.1M71.5 361.3h.1M75.9 345.7h.1M80.5 351.3h.1M74.2 350.7h.1M86.5 354.9h.1M75.7 355.1h.1M76.0 345.7h.1M76.5 347.0h.1M70.6 355.2h.1M73.5 358.3h.1M83.0 356.1h.1M72.3 353.5h.1M79.1 350.8h.1M71.3 350.6h.1M73.8 352.2h.1M68.9 348.2h.1M69.6 354.0h.1M73.0 350.8h.1M67.1 350.6h.1M77.3 352.1h.1M72.2 349.4h.1M83.1 336.2h.1M81.2 351.6h.1M62.9 355.6h.1M76.9 350.9h.1M85.8 358.8h.1M73.6 342.4h.1M73.5 354.3h.1M71.2 347.4h.1M65.3 342.3h.1M71.4 343.9h.1M75.1 342.8h.1M70.9 344.8h.1M77.7 354.1h.1M79.2 347.5h.1M77.4 344.3h.1M73.1 348.6h.1M73.9 339.6h.1M67.6 348.5h.1M80.4 351.7h.1M76.3 347.4h.1M64.1 341.9h.1M69.6 350.7h.1M75.4 345.4h.1M68.6 351.0h.1M65.2 361.2h.1M65.9 353.2h.1M78.2 347.9h.1M67.9 342.0h.1M70.9 352.3h.1M76.2 355.4h.1M76.1 355.0h.1M77.5 351.9h.1M81.2 344.1h.1M70.1 348.1h.1M75.6 352.2h.1M59.9 336.1h.1M74.0 355.8h.1M76.6 344.1h.1M78.2 338.3h.1M79.0 339.6h.1M78.3 348.6h.1M61.8 352.0h.1M71.7 346.6h.1M82.1 336.6h.1M69.8 350.8h.1M79.1 348.4h.1M81.4 347.7h.1M76.2 352.0h.1M80.6 338.9h.1M65.9 344.5h.1M64.0 343.2h.1M77.0 357.8h.1M70.6 353.8h.1M80.1 347.5h.1M89.8 345.7h.1M78.7 345.5h.1M75.1 345.0h.1M65.6 360.1h.1M72.1 345.3h.1M67.7 350.0h.1M63.2 345.6h.1M80.4 347.0h.1M76.0 348.0h.1M67.3 353.4h.1M74.7 349.6h.1M78.6 351.4h.1M70.2 342.6h.1M88.6 351.7h.1M73.0 347.5h.1M65.9 343.3h.1M82.2 353.9h.1M74.1 350.7h.1M72.5 347.1h.1M75.1 341.6h.1M69.0 350.7h.1M81.2 345.5h.1M81.4 344.9h.1M70.9 349.1h.1M75.0 344.3h.1M73.7 344.6h.1M84.4 352.8h.1M68.2 352.7h.1M82.2 348.0h.1M77.6 342.4h.1M66.6 351.2h.1M86.2 355.9h.1M64.9 352.0h.1M72.2 348.2h.1M75.1 357.8h.1M83.4 352.7h.1M64.5 348.1h.1M72.8 348.4h.1M83.2 348.2h.1M72.0 358.2h.1M74.8 347.0h.1M70.3 337.4h.1M75.9 344.5h.1M67.2 348.1h.1M62.7 344.9h.1M72.6 352.2h.1M74.4 348.1h.1M72.8 353.2h.1M69.1 348.8h.1M72.6 354.3h.1M71.2 346.7h.1M75.2 351.3h.1M61.6 344.2h.1M65.3 347.3h.1M75.0 346.3h.1M80.9 351.2h.1M72.7 355.3h.1M76.7 341.8h.1M80.2 345.7h.1M78.5 345.3h.1M75.3 343.4h.1M72.1 360.3h.1M65.6 348.0h.1M79.1 350.4h.1M65.2 346.4h.1M86.4 346.1h.1M76.5 346.3h.1M80.1 352.0h.1M83.1 347.5h.1M60.9 343.3h.1M70.2 349.8h.1M75.4 338.8h.1M78.2 348.0h.1M80.8 346.5h.1M71.1 340.3h.1M75.4 353.2h.1M80.8 350.6h.1M81.6 351.4h.1M74.7 341.7h.1M78.4 345.7h.1M61.5 345.3h.1M60.7 357.1h.1M80.6 348.0h.1M84.2 346.5h.1M86.2 344.0h.1M73.5 355.5h.1M75.8 345.6h.1M80.6 352.8h.1M79.3 343.6h.1M76.7 346.0h.1M83.3 349.9h.1M71.4 351.1h.1M88.8 344.4h.1M90.0 355.4h.1M79.8 352.8h.1M74.5 348.4h.1M76.5 338.1h.1M84.1 356.3h.1M77.8 349.3h.1M94.8 352.3h.1M82.3 348.4h.1M74.3 354.5h.1M71.2 345.3h.1M72.6 346.3h.1M84.6 343.1h.1M76.0 352.8h.1M66.4 350.6h.1M76.8 343.0h.1M61.9 336.1h.1M68.5 343.6h.1M76.1 349.7h.1M78.3 351.5h.1M80.4 350.9h.1M75.2 354.1h.1M77.2 341.0h.1M66.4 349.3h.1M87.9 347.3h.1M70.6 341.7h.1M60.6 350.8h.1M66.1 349.7h.1M69.5 354.3h.1M66.9 342.6h.1M82.6 348.5h.1M68.8 344.5h.1M68.4 346.8h.1M81.8 343.2h.1M78.0 342.4h.1M77.9 353.0h.1M63.5 347.6h.1M78.0 343.9h.1M76.1 341.1h.1M64.9 351.9h.1M70.2 352.1h.1M73.3 347.5h.1M71.0 356.5h.1M74.4 345.7h.1M72.2 344.2h.1M74.8 350.5h.1M65.4 356.8h.1M63.7 356.4h.1M85.4 353.2h.1M70.1 345.6h.1M62.0 351.5h.1M81.3 342.2h.1M70.7 345.7h.1M73.3 346.6h.1M72.9 337.9h.1M76.9 344.6h.1M77.8 343.8h.1M76.9 347.2h.1M73.9 347.6h.1M73.7 350.7h.1M78.4 345.6h.1M76.2 357.3h.1M74.1 351.0h.1M78.1 348.1h.1M72.3 351.5h.1M79.3 339.5h.1M73.1 348.1h.1M63.2 346.5h.1M82.5 351.6h.1M67.9 348.6h.1M69.5 359.6h.1M75.0 339.4h.1M69.7 348.8h.1M70.9 347.7h.1M79.2 349.4h.1M67.5 341.1h.1M69.5 345.4h.1M82.4 351.8h.1M79.2 339.9h.1M70.2 352.7h.1M86.0 354.9h.1M74.0 349.5h.1M68.2 352.0h.1M71.6 352.1h.1M81.3 347.9h.1M71.4 349.5h.1M70.4 344.4h.1M81.1 350.1h.1M89.0 346.1h.1M71.1 346.5h.1M71.2 352.5h.1M69.4 347.8h.1M80.0 343.4h.1M71.7 343.4h.1M78.3 345.5h.1M69.0 355.7h.1M74.3 346.5h.1M71.1 348.8h.1M73.1 350.3h.1M76.9 350.0h.1M68.4 349.0h.1M72.7 353.5h.1M66.6 350.2h.1M74.1 352.5h.1M74.2 352.6h.1M71.2 355.5h.1M77.6 358.2h.1M91.7 345.7h.1M68.4 340.7h.1M76.3 347.2h.1M68.4 348.4h.1M78.3 350.0h.1M75.1 341.4h.1M71.7 345.8h.1M73.2 339.6h.1M66.4 349.2h.1M64.3 352.5h.1M72.2 342.5h.1M78.7 353.8h.1M88.7 347.3h.1M69.6 339.7h.1M71.0 348.6h.1M83.0 345.1h.1M84.6 350.3h.1M85.2 344.5h.1M78.4 335.2h.1M71.5 344.0h.1M77.6 353.1h.1M89.9 351.2h.1M76.9 347.6h.1M63.1 353.1h.1M64.9 346.7h.1M79.7 339.7h.1M73.4 344.3h.1M74.3 339.8h.1M75.9 348.2h.1M62.0 348.5h.1M69.1 357.9h.1M75.6 355.0h.1M61.6 344.1h.1M82.1 347.6h.1M78.3 350.0h.1M68.9 340.6h.1M74.1 346.7h.1M79.0 352.5h.1M86.6 356.4h.1M76.3 347.2h.1M75.2 343.7h.1M85.3 342.6h.1M59.7 350.0h.1M67.5 341.6h.1M76.1 340.9h.1M89.0 350.0h.1M72.8 340.4h.1M88.1 348.6h.1M69.5 346.0h.1M71.2 341.1h.1M66.6 352.8h.1M71.1 336.9h.1M77.7 341.2h.1M67.9 347.8h.1M73.2 356.7h.1M78.4 351.2h.1M77.5 353.0h.1M84.8 349.5h.1M74.6 358.2h.1M69.7 352.7h.1M71.4 338.8h.1M115.7 347.3h.1M105.3 340.8h.1M111.6 345.8h.1M110.1 352.9h.1M86.3 353.3h.1M120.2 354.2h.1M92.1 346.7h.1M95.5 342.6h.1M107.6 339.4h.1M105.3 345.0h.1M109.3 360.9h.1M91.2 340.5h.1M115.4 352.3h.1M111.4 340.1h.1M99.7 354.0h.1M124.6 347.9h.1M111.8 343.5h.1M106.0 336.6h.1M105.7 340.9h.1M105.3 345.6h.1M112.9 353.8h.1M125.1 344.1h.1M125.5 348.1h.1M114.2 350.6h.1M93.0 346.7h.1M116.4 349.0h.1M99.0 357.6h.1M116.4 352.6h.1M111.6 348.3h.1M105.4 349.1h.1M101.4 341.0h.1M103.9 353.6h.1M122.6 341.1h.1M119.4 351.8h.1M104.0 340.0h.1M108.2 354.1h.1M101.1 345.0h.1M110.7 348.4h.1M120.6 342.4h.1M120.9 339.1h.1M127.9 350.8h.1M101.2 347.8h.1M113.5 346.2h.1M101.1 356.4h.1M100.8 351.4h.1M86.7 347.9h.1M99.3 343.1h.1M105.6 348.3h.1M128.3 352.8h.1M131.1 346.0h.1M107.0 345.6h.1M118.4 353.8h.1M126.6 342.8h.1M128.1 346.7h.1M96.6 344.5h.1M105.6 347.5h.1M108.8 356.2h.1M101.6 352.3h.1M104.5 343.6h.1M114.2 351.2h.1M108.5 348.5h.1M109.7 356.2h.1M122.8 362.0h.1M108.6 343.5h.1M113.4 343.3h.1M117.8 342.2h.1M119.4 352.8h.1M106.9 341.8h.1M116.5 347.0h.1M112.6 348.3h.1M115.9 352.5h.1M138.7 345.3h.1M103.8 343.7h.1M116.4 344.0h.1M106.9 353.8h.1M130.4 343.2h.1M114.4 349.6h.1M128.2 350.7h.1M115.8 343.3h.1M116.8 354.8h.1M100.3 346.7h.1M127.1 349.6h.1M91.4 344.6h.1M92.3 338.6h.1M127.6 338.9h.1M116.1 342.7h.1M125.9 353.7h.1M107.7 347.3h.1M113.9 354.6h.1M114.9 340.0h.1M124.2 345.1h.1M110.1 350.7h.1M116.1 351.2h.1M123.4 339.9h.1M108.2 351.5h.1M106.5 347.0h.1M85.2 342.2h.1M110.6 336.7h.1M107.4 358.8h.1M105.1 337.8h.1M99.9 344.1h.1M110.8 345.4h.1M111.2 350.3h.1M91.3 340.0h.1M105.6 344.7h.1M111.4 350.3h.1M117.9 347.5h.1M113.1 346.5h.1M100.3 346.7h.1M127.9 350.4h.1M126.6 347.3h.1M111.8 339.6h.1M115.0 347.9h.1M97.4 343.4h.1M123.2 349.6h.1M100.1 347.5h.1M126.1 355.1h.1M118.3 349.6h.1M101.6 350.8h.1M110.8 348.9h.1M114.6 357.1h.1M98.5 348.3h.1M115.5 344.2h.1M113.8 349.9h.1M111.5 345.0h.1M116.3 357.0h.1M109.2 352.9h.1M102.2 347.4h.1M113.2 338.9h.1M130.5 351.0h.1M117.7 349.5h.1M118.2 348.5h.1M114.9 352.2h.1M104.3 347.3h.1M96.4 349.8h.1M107.7 348.7h.1M99.0 351.7h.1M112.9 349.6h.1M114.6 338.8h.1M118.0 359.8h.1M123.2 352.8h.1M121.7 358.1h.1M110.9 349.9h.1M113.1 352.7h.1M95.0 347.5h.1M115.7 351.6h.1M99.3 360.2h.1M96.7 355.5h.1M117.0 355.5h.1M109.9 352.7h.1M111.8 345.6h.1M118.1 349.6h.1M103.3 345.1h.1M106.3 349.3h.1M109.1 339.0h.1M116.7 353.9h.1M114.6 348.1h.1M124.9 350.5h.1M109.7 341.9h.1M103.1 350.0h.1M105.7 337.6h.1M131.3 358.8h.1M112.9 350.5h.1M93.4 350.2h.1M103.7 343.5h.1M123.6 343.3h.1M104.3 340.9h.1M114.7 345.9h.1M96.6 360.5h.1M111.3 351.5h.1M115.9 344.8h.1M114.2 352.2h.1M111.8 353.1h.1M89.8 350.1h.1M113.4 352.7h.1M102.5 360.7h.1M109.8 338.9h.1M127.3 353.5h.1M115.1 347.6h.1M115.5 342.6h.1M107.7 345.2h.1M120.3 353.9h.1M109.4 355.1h.1M139.7 355.3h.1M114.1 358.1h.1M96.9 350.9h.1M115.4 350.8h.1M105.5 350.1h.1M98.3 353.7h.1M101.7 346.7h.1M100.0 349.6h.1M123.8 345.5h.1M113.7 339.0h.1M110.9 346.1h.1M109.0 350.0h.1M110.7 358.2h.1M121.8 344.6h.1M100.7 347.1h.1M122.0 348.5h.1M112.9 356.5h.1M112.2 333.4h.1M100.4 360.0h.1M110.0 348.1h.1M132.1 349.3h.1M120.9 356.2h.1M101.4 347.7h.1M128.2 354.0h.1M107.5 351.0h.1M98.9 342.6h.1M119.2 345.9h.1M108.4 353.4h.1M136.1 348.4h.1M100.2 346.8h.1M111.7 342.5h.1M124.7 355.4h.1M110.2 348.0h.1M120.1 353.6h.1M123.6 360.0h.1M109.8 354.4h.1M120.5 359.5h.1M101.7 346.4h.1M94.9 355.1h.1M126.4 362.1h.1M109.1 348.9h.1M107.8 349.1h.1M110.9 360.1h.1M100.5 355.8h.1M112.2 346.0h.1M126.8 344.2h.1M115.5 346.3h.1M102.1 353.2h.1M106.5 349.7h.1M111.6 350.6h.1M121.9 341.7h.1M105.7 351.7h.1M112.3 352.4h.1M111.8 347.5h.1M132.0 351.1h.1M119.4 346.1h.1M92.3 355.7h.1M121.2 347.4h.1M115.6 351.4h.1M115.2 355.3h.1M106.4 355.2h.1M119.0 351.8h.1M107.5 346.0h.1M112.8 344.9h.1M106.5 343.3h.1M114.7 343.1h.1M117.0 350.2h.1M125.8 348.4h.1M105.2 344.7h.1M117.0 340.4h.1M112.1 342.6h.1M117.1 349.7h.1M123.9 349.1h.1M113.6 349.0h.1M118.2 351.8h.1M98.2 343.5h.1M98.1 338.5h.1M118.9 347.4h.1M135.6 339.9h.1M115.9 345.6h.1M104.4 345.7h.1M100.6 354.3h.1M126.5 351.3h.1M110.9 345.5h.1M101.1 347.9h.1M102.3 340.5h.1M105.2 350.1h.1M132.4 349.2h.1M118.1 343.8h.1M86.6 338.8h.1M111.6 347.0h.1M100.3 347.8h.1M116.3 352.6h.1M106.0 352.5h.1M100.4 348.5h.1M109.9 351.9h.1M109.5 340.1h.1M97.9 353.7h.1M110.4 358.5h.1M129.5 343.6h.1M111.8 343.6h.1M96.1 351.0h.1M127.4 349.6h.1M103.5 339.1h.1M110.7 345.9h.1M127.1 346.3h.1M99.8 350.1h.1M111.6 349.8h.1M94.0 343.8h.1M104.8 342.8h.1M91.7 357.8h.1M101.2 359.9h.1M113.7 346.2h.1M115.3 349.1h.1M108.8 344.0h.1M106.2 343.5h.1M109.5 348.6h.1M115.9 344.9h.1M92.2 335.8h.1M114.5 349.5h.1M105.7 345.7h.1M95.4 337.5h.1M111.8 349.5h.1M137.8 350.0h.1M118.2 355.8h.1M119.2 346.1h.1M108.9 352.3h.1M108.0 346.5h.1M119.0 348.3h.1M100.5 347.9h.1M122.0 344.7h.1M112.1 348.2h.1M93.8 341.9h.1M137.9 344.9h.1M101.1 355.7h.1M117.8 335.0h.1M99.1 348.0h.1M113.5 352.7h.1M111.9 352.6h.1M119.4 347.1h.1M112.4 343.4h.1M123.4 350.2h.1M122.6 347.9h.1M108.5 348.9h.1M104.9 345.9h.1M95.7 360.5h.1M115.3 350.7h.1M95.4 344.3h.1M115.4 347.5h.1M117.2 352.1h.1M96.0 344.7h.1M102.1 359.6h.1M121.6 352.6h.1M115.2 350.9h.1M98.3 350.2h.1M116.3 349.0h.1M101.5 350.5h.1M97.8 346.7h.1M122.5 352.1h.1M105.5 338.1h.1M112.5 355.8h.1M104.8 339.9h.1M133.1 342.1h.1M100.2 344.6h.1M105.0 351.5h.1M92.1 349.0h.1M122.4 350.6h.1M131.9 351.7h.1M92.7 352.1h.1M116.0 351.9h.1M111.5 344.5h.1M112.1 343.5h.1M96.7 346.9h.1M119.3 358.2h.1M109.0 347.7h.1M124.7 346.9h.1M133.9 345.6h.1M131.3 349.8h.1M103.9 354.7h.1M105.3 342.0h.1M117.7 355.9h.1M112.9 355.6h.1M114.0 352.2h.1M133.1 341.3h.1M109.8 348.4h.1M131.0 341.3h.1M97.1 341.7h.1M87.3 353.1h.1M117.8 353.1h.1M119.3 347.3h.1M91.2 349.1h.1M106.8 350.1h.1M113.9 352.0h.1M100.4 351.1h.1M105.2 348.1h.1M110.5 346.0h.1M122.7 351.5h.1M101.6 348.4h.1M120.5 348.8h.1M117.7 348.7h.1M119.4 353.0h.1M108.7 347.9h.1M105.0 350.0h.1M102.9 342.4h.1M97.5 349.4h.1M126.0 352.5h.1M106.0 338.6h.1M106.8 350.1h.1M102.6 345.3h.1M125.2 347.5h.1M100.4 348.7h.1M100.8 345.6h.1M111.7 342.6h.1M112.7 346.5h.1M134.2 349.4h.1M119.4 353.8h.1M101.2 348.1h.1M104.5 355.0h.1M131.5 352.0h.1M110.9 350.1h.1M110.9 356.4h.1M101.2 354.9h.1M116.5 351.2h.1M110.4 344.0h.1M100.6 350.2h.1M98.2 356.0h.1M110.8 358.3h.1M98.6 348.8h.1M110.4 347.5h.1M97.6 356.7h.1M100.9 355.9h.1M102.4 343.8h.1M99.5 352.1h.1M110.2 341.6h.1M105.0 340.3h.1M106.0 344.6h.1M129.0 348.2h.1M124.4 344.6h.1M121.0 345.0h.1M102.2 356.6h.1M130.1 338.5h.1M93.1 360.4h.1M110.4 359.7h.1M114.1 347.6h.1M115.1 349.0h.1M107.0 348.6h.1M118.3 354.4h.1M110.0 353.6h.1M103.1 343.1h.1M104.3 345.5h.1M119.6 344.5h.1M99.4 347.0h.1M97.4 342.6h.1M108.5 354.6h.1M135.9 353.7h.1M115.5 351.0h.1M123.7 342.7h.1M87.7 346.4h.1M109.6 355.0h.1M109.9 342.2h.1M120.1 358.8h.1M128.1 350.6h.1M120.3 349.5h.1M95.5 350.1h.1M103.1 347.6h.1M88.5 354.3h.1M110.7 349.0h.1M99.0 348.0h.1M109.7 357.3h.1M97.9 359.7h.1M110.5 349.5h.1M109.1 347.4h.1M103.8 358.0h.1M106.0 348.9h.1M123.1 348.2h.1M92.9 349.1h.1M104.5 343.4h.1M114.5 351.2h.1M102.1 352.5h.1M107.5 347.7h.1M88.1 342.3h.1M97.9 356.3h.1M104.8 346.4h.1M114.7 340.8h.1M142.1 345.4h.1M112.0 352.4h.1M114.4 348.5h.1M111.4 340.0h.1M120.5 352.6h.1M112.2 350.1h.1M122.7 355.1h.1M131.2 342.3h.1M98.7 348.0h.1M115.2 339.4h.1M103.7 345.8h.1M116.2 349.5h.1M104.6 359.4h.1M113.3 342.2h.1M101.6 354.7h.1M91.0 353.3h.1M110.0 339.4h.1M105.0 357.7h.1M95.8 351.3h.1M82.0 349.4h.1M100.2 351.1h.1M103.5 347.3h.1M104.3 350.6h.1M110.3 355.6h.1M98.6 344.0h.1M116.5 349.3h.1M104.0 345.5h.1M122.8 357.2h.1M119.8 360.2h.1M120.4 356.7h.1M95.5 348.0h.1M134.9 345.2h.1M118.1 344.2h.1M114.1 350.3h.1M101.5 351.9h.1M112.4 351.3h.1M104.8 351.3h.1M114.8 345.7h.1M116.8 351.9h.1M107.6 357.5h.1M112.0 342.5h.1M115.6 350.3h.1M118.5 342.7h.1M94.4 351.9h.1M124.9 356.7h.1M87.6 352.9h.1M100.8 353.0h.1M93.2 347.9h.1M101.8 351.3h.1M111.0 357.5h.1M117.0 345.1h.1M101.8 352.1h.1M112.1 348.0h.1M112.7 344.3h.1M101.3 348.0h.1M109.5 350.9h.1M124.4 347.9h.1M127.1 348.8h.1M106.7 355.2h.1M110.5 351.2h.1M94.2 354.2h.1M94.7 348.9h.1M110.1 345.9h.1M111.5 347.1h.1M110.5 346.1h.1M117.3 347.6h.1M101.9 347.7h.1M115.5 351.0h.1M125.6 349.9h.1M116.7 345.2h.1M110.0 349.1h.1M121.2 351.5h.1M121.2 348.7h.1M112.3 351.0h.1M128.9 350.6h.1M120.4 345.2h.1M98.8 342.3h.1M108.4 354.3h.1M105.2 359.1h.1M105.9 346.6h.1M92.3 348.2h.1M107.9 348.8h.1M141.7 343.6h.1M109.2 343.5h.1M105.5 338.3h.1M116.1 349.7h.1M101.8 355.1h.1M115.5 349.4h.1M111.1 344.0h.1M92.1 354.6h.1M104.8 339.4h.1M107.0 356.8h.1M122.2 341.5h.1M110.7 348.7h.1M122.4 340.5h.1M94.5 352.9h.1M124.7 338.5h.1M108.7 349.8h.1M124.8 356.1h.1M106.9 352.5h.1M108.6 352.7h.1M119.7 352.3h.1M125.4 347.8h.1M128.4 352.6h.1M99.3 351.6h.1M117.5 352.9h.1M126.4 347.3h.1M91.6 340.4h.1M104.0 351.7h.1M96.0 342.5h.1M114.3 341.9h.1M112.5 351.5h.1M103.0 341.8h.1M117.5 341.1h.1M101.3 346.2h.1M109.2 344.2h.1M123.2 346.4h.1M131.7 348.6h.1M109.7 342.2h.1M125.2 356.6h.1M91.1 353.7h.1M118.1 339.8h.1M99.8 351.9h.1M93.6 353.1h.1M114.2 355.7h.1M100.9 352.7h.1M128.3 342.8h.1M117.0 351.0h.1M113.5 349.7h.1M112.6 355.1h.1M108.0 348.4h.1M124.4 346.8h.1M100.3 351.5h.1M121.3 349.7h.1M108.7 347.3h.1M111.9 345.2h.1M99.5 345.7h.1M97.8 336.8h.1M92.1 345.7h.1M129.5 346.9h.1M124.0 350.0h.1M114.8 346.9h.1M97.4 344.3h.1M117.0 344.5h.1M102.7 355.0h.1M118.2 349.0h.1M129.0 346.4h.1M128.3 353.0h.1M104.3 346.6h.1M119.9 354.3h.1M110.3 350.5h.1M123.6 345.9h.1M119.1 344.7h.1M112.5 346.8h.1M102.0 336.9h.1M112.9 347.1h.1M100.7 338.0h.1M108.6 358.6h.1M118.7 344.6h.1M115.1 348.0h.1M111.5 356.1h.1M99.7 347.7h.1M111.2 348.8h.1M120.9 349.7h.1M101.9 343.7h.1M108.9 350.6h.1M109.0 338.5h.1M112.8 346.4h.1M108.5 349.5h.1M116.5 348.2h.1M120.2 347.5h.1M105.5 344.3h.1M102.4 350.6h.1M114.6 349.4h.1M121.6 342.5h.1M106.0 337.8h.1M99.5 353.5h.1M116.1 345.0h.1M100.7 349.0h.1M107.4 340.4h.1M133.9 343.7h.1M117.9 351.1h.1M106.8 357.7h.1M127.0 351.3h.1M87.3 346.9h.1M98.2 344.8h.1M98.8 346.2h.1M92.8 355.4h.1M107.5 344.8h.1M106.7 357.3h.1M115.2 346.9h.1M104.2 355.5h.1M113.4 351.0h.1M102.8 347.8h.1M92.5 349.2h.1M115.8 356.5h.1M121.6 355.3h.1M105.6 345.0h.1M113.6 355.4h.1M96.0 346.8h.1M94.8 341.7h.1M126.7 352.4h.1M109.5 346.7h.1M123.4 346.0h.1M112.0 338.9h.1M104.5 351.2h.1M97.5 341.2h.1M101.0 353.3h.1M116.3 348.6h.1M109.1 360.7h.1M108.6 343.4h.1M112.8 354.6h.1M107.7 339.9h.1M106.7 341.5h.1M100.9 343.0h.1M112.2 353.8h.1M105.5 351.3h.1M112.8 347.5h.1M100.9 356.2h.1M107.5 349.1h.1M129.8 350.7h.1M107.3 351.5h.1M133.8 346.9h.1M124.0 347.0h.1M112.8 352.1h.1M102.6 349.5h.1M104.4 341.7h.1M120.8 341.6h.1M117.0 358.8h.1M135.3 348.0h.1M110.4 352.1h.1M90.3 353.7h.1M85.0 351.3h.1M115.3 346.3h.1M108.5 350.0h.1M109.7 346.7h.1M112.4 346.6h.1M86.4 360.1h.1M123.3 346.0h.1M132.6 351.7h.1M107.4 341.3h.1M124.9 346.5h.1M95.5 348.3h.1M102.2 352.6h.1M111.1 348.7h.1M122.5 352.3h.1M119.3 349.6h.1M119.3 345.9h.1M129.9 347.1h.1M114.7 344.5h.1M113.0 355.7h.1M110.7 343.6h.1M99.5 341.7h.1M128.1 347.1h.1M130.3 354.4h.1M121.2 343.7h.1M106.1 352.5h.1M125.6 350.3h.1M99.5 353.5h.1M109.3 344.8h.1M121.0 355.7h.1M114.5 351.8h.1M105.6 345.0h.1M106.9 348.5h.1M92.4 343.6h.1M113.8 344.6h.1M122.3 355.0h.1M101.6 337.1h.1M111.1 343.9h.1M86.4 345.7h.1M110.5 354.2h.1M96.1 349.7h.1M107.3 351.5h.1M103.0 350.2h.1M102.9 353.2h.1M121.3 350.3h.1M130.7 345.3h.1M105.6 345.3h.1M104.3 358.6h.1M127.5 346.9h.1M102.8 342.3h.1M123.7 349.7h.1M113.4 343.7h.1M112.6 349.6h.1M116.7 345.0h.1M100.0 349.8h.1M119.8 349.9h.1M125.5 346.1h.1M109.6 354.9h.1M108.1 353.6h.1M111.8 358.2h.1M96.2 353.0h.1M115.7 347.4h.1M121.5 348.2h.1M107.6 354.4h.1M91.7 352.6h.1M104.6 348.9h.1M105.5 347.1h.1M120.6 358.9h.1M97.9 345.7h.1M107.1 356.4h.1M119.3 344.5h.1M113.9 357.4h.1M105.5 356.3h.1M109.7 344.9h.1M117.5 343.0h.1M111.6 354.5h.1M93.4 346.5h.1M109.4 342.6h.1M112.3 353.9h.1M108.4 350.8h.1M119.8 340.5h.1M104.2 346.4h.1M125.8 349.7h.1M96.4 355.9h.1M106.0 347.4h.1M117.9 351.7h.1M101.5 351.0h.1M116.2 340.6h.1M119.1 347.6h.1M106.9 344.9h.1M113.8 343.7h.1M109.8 344.1h.1M108.7 355.4h.1M109.2 354.9h.1M102.5 349.9h.1M130.5 340.2h.1M100.4 342.2h.1M124.1 355.5h.1M99.8 350.3h.1M118.9 335.1h.1M116.5 345.7h.1M114.4 358.1h.1M110.5 347.0h.1M115.9 341.0h.1M109.3 346.8h.1M100.8 360.5h.1M110.7 355.7h.1M128.4 345.7h.1M90.9 349.9h.1M118.0 348.8h.1M107.2 338.4h.1M130.1 350.9h.1M104.1 352.3h.1M115.8 344.2h.1M97.6 358.9h.1M100.5 348.8h.1M102.4 349.9h.1M85.0 347.6h.1M138.5 347.6h.1M100.7 347.1h.1M112.1 341.2h.1M105.8 343.4h.1M104.0 350.4h.1M132.5 346.7h.1M96.0 355.2h.1M131.9 346.2h.1M127.9 353.9h.1M121.4 349.0h.1M113.4 356.1h.1M110.9 349.2h.1M93.5 344.5h.1M103.7 338.6h.1M117.2 354.2h.1M125.9 347.4h.1M110.9 342.7h.1M113.9 344.7h.1M103.3 353.2h.1M103.8 353.8h.1M117.2 361.3h.1M125.2 345.6h.1M126.7 347.2h.1M99.4 346.3h.1M124.0 348.1h.1M86.4 348.3h.1M120.2 351.0h.1M114.7 347.9h.1M103.8 352.5h.1M123.2 351.0h.1M105.4 354.5h.1M100.9 343.6h.1M117.1 344.8h.1M119.6 342.1h.1M84.1 349.2h.1M124.8 346.8h.1M125.2 350.8h.1M97.7 347.9h.1M110.2 346.7h.1M124.2 339.0h.1M117.0 343.3h.1M113.9 350.2h.1M122.6 349.3h.1M121.7 356.3h.1M100.1 358.8h.1M103.4 346.8h.1M125.1 357.5h.1M130.0 350.1h.1M110.0 356.6h.1M85.4 350.6h.1M103.8 355.0h.1M129.8 345.2h.1M102.7 347.8h.1M116.0 345.2h.1M87.7 344.7h.1M109.7 351.0h.1M102.0 343.6h.1M106.7 342.6h.1M117.9 349.9h.1M119.3 350.7h.1M93.9 350.5h.1M118.2 345.0h.1M114.5 345.8h.1M105.7 344.3h.1M91.8 351.8h.1M136.4 344.0h.1M108.0 343.6h.1M99.3 340.4h.1M115.6 346.6h.1M126.2 356.3h.1M124.7 342.5h.1M115.1 339.8h.1M123.7 352.9h.1M111.0 342.5h.1M120.3 353.2h.1M99.8 345.1h.1M124.7 339.2h.1M123.2 349.1h.1M108.8 351.8h.1M126.9 351.8h.1M99.0 344.2h.1M105.1 336.2h.1M114.4 340.2h.1M105.1 347.5h.1M128.9 353.1h.1M104.6 350.5h.1M102.1 349.1h.1M119.2 359.1h.1M124.3 348.9h.1M117.1 354.9h.1M108.8 343.3h.1M112.8 343.4h.1M117.2 343.2h.1M107.8 346.3h.1M120.5 352.5h.1M116.8 351.5h.1M98.6 353.2h.1M110.9 343.1h.1M118.0 346.4h.1M116.6 344.4h.1M106.1 348.9h.1M97.2 339.7h.1M134.4 351.1h.1M134.5 347.9h.1M112.0 358.3h.1M102.9 349.2h.1M100.9 344.4h.1M119.4 348.7h.1M102.1 346.8h.1M117.1 341.8h.1M116.0 355.2h.1M117.2 346.3h.1M102.8 347.9h.1M102.3 347.0h.1M111.8 351.7h.1M112.5 351.5h.1M114.2 337.6h.1M95.4 341.6h.1M125.2 344.5h.1M101.8 357.2h.1M100.1 345.6h.1M138.9 341.7h.1M104.7 350.8h.1M95.7 351.4h.1M99.1 349.2h.1M124.1 354.3h.1M93.7 347.8h.1M95.5 345.0h.1M100.1 357.3h.1M117.9 343.8h.1M99.4 353.1h.1M78.1 346.5h.1M104.2 342.2h.1M102.6 347.0h.1M102.1 350.7h.1M112.9 349.0h.1M111.7 359.5h.1M125.1 359.9h.1M109.7 343.5h.1M126.3 350.4h.1M104.6 346.8h.1M112.3 351.4h.1M100.0 343.0h.1M100.9 349.2h.1M115.6 342.2h.1M128.6 342.8h.1M115.9 349.8h.1M97.1 346.2h.1M114.9 347.5h.1M131.9 341.8h.1M117.0 354.2h.1M113.9 343.7h.1M127.8 344.7h.1M91.5 348.4h.1M110.6 351.4h.1M120.1 347.5h.1M117.1 353.2h.1M120.5 351.1h.1M101.1 353.0h.1M109.0 350.2h.1M112.0 347.4h.1M120.7 351.0h.1M138.3 345.9h.1M112.6 341.7h.1M102.7 346.3h.1M94.8 341.5h.1M118.3 348.0h.1M126.8 350.3h.1M96.8 345.7h.1M103.1 340.3h.1M109.4 349.5h.1M113.5 346.1h.1M113.8 346.2h.1M111.4 347.4h.1M118.4 346.2h.1M92.7 354.4h.1M104.0 353.3h.1M92.7 347.5h.1M97.3 347.7h.1M93.6 350.9h.1M127.4 343.7h.1M123.9 348.3h.1M92.5 355.6h.1M109.4 344.9h.1M120.9 354.7h.1M92.0 343.6h.1M110.4 346.9h.1M111.6 347.6h.1M113.8 353.9h.1M112.6 346.3h.1M111.4 343.9h.1M107.3 349.4h.1M103.7 345.2h.1M103.5 351.9h.1M110.8 337.8h.1M109.0 345.7h.1M114.0 346.1h.1M118.0 346.3h.1M116.8 351.4h.1M113.1 352.0h.1M114.9 340.2h.1M94.6 344.6h.1M118.1 348.6h.1M104.1 344.2h.1M103.8 340.9h.1M102.4 347.5h.1M103.0 347.6h.1M116.6 354.5h.1M101.0 351.2h.1M119.7 345.1h.1M100.0 344.0h.1M113.1 359.8h.1M96.9 343.7h.1M109.4 347.6h.1M123.5 345.4h.1M111.1 353.2h.1M100.7 342.0h.1M98.1 339.4h.1M102.0 351.6h.1M94.7 342.8h.1M115.2 355.9h.1M99.3 351.4h.1M120.3 350.1h.1M104.2 355.2h.1M97.7 350.3h.1M98.9 362.0h.1M114.3 346.0h.1M95.1 345.7h.1M110.9 341.5h.1M121.1 343.2h.1M136.9 354.9h.1M107.0 348.8h.1M108.9 348.2h.1M126.0 344.3h.1M120.8 341.7h.1M106.7 338.3h.1M99.7 357.9h.1M110.1 354.5h.1M126.6 354.5h.1M109.9 347.4h.1M79.5 353.0h.1M98.3 348.2h.1M107.5 344.4h.1M124.9 354.0h.1M112.5 349.7h.1M102.9 345.6h.1M97.2 357.4h.1M107.5 349.7h.1M119.2 346.6h.1M99.5 356.3h.1M104.3 350.0h.1M97.1 355.5h.1M100.1 344.3h.1M115.6 352.6h.1M109.0 351.8h.1M121.2 356.3h.1M115.0 348.4h.1M98.0 342.1h.1M115.1 348.8h.1M123.1 343.8h.1M97.9 351.3h.1M111.4 346.5h.1M138.6 340.2h.1M139.4 357.2h.1M93.7 341.3h.1M110.1 351.2h.1M99.0 343.1h.1M100.8 354.0h.1M99.5 344.8h.1M91.2 347.6h.1M108.1 358.0h.1M109.1 346.3h.1M105.1 351.5h.1M91.3 351.4h.1M128.7 346.4h.1M116.0 360.9h.1M92.3 350.0h.1M116.5 346.8h.1M126.5 349.4h.1M113.5 344.5h.1M130.4 347.7h.1M128.6 346.4h.1M114.4 352.7h.1M114.2 350.7h.1M114.3 342.1h.1M112.8 347.5h.1M98.7 353.4h.1M116.3 352.5h.1M120.0 339.5h.1M107.3 340.3h.1M133.3 350.2h.1M127.5 350.9h.1M115.5 345.1h.1M83.7 342.8h.1M92.0 348.2h.1M113.2 343.9h.1M95.8 348.3h.1M118.2 342.6h.1M113.8 341.3h.1M110.8 358.5h.1M93.2 357.8h.1M103.9 355.0h.1M97.4 349.1h.1M109.6 353.1h.1M119.6 356.2h.1M111.5 346.2h.1M106.0 351.2h.1M98.4 356.0h.1M103.4 346.9h.1M106.1 347.9h.1M101.6 346.6h.1M123.0 344.6h.1M110.1 345.7h.1M109.7 347.8h.1M89.5 348.1h.1M117.5 348.9h.1M110.5 355.0h.1M113.9 349.1h.1M117.4 353.2h.1M115.3 352.7h.1M88.5 344.8h.1M132.2 350.1h.1M103.0 350.6h.1M107.3 349.3h.1M100.5 344.3h.1M92.7 346.1h.1M98.3 346.7h.1M108.8 350.3h.1M97.6 343.5h.1M100.3 347.7h.1M104.4 351.9h.1M117.5 349.4h.1M108.0 346.9h.1M109.0 346.8h.1M96.5 345.8h.1M114.0 347.0h.1M101.9 347.2h.1M126.3 348.8h.1M88.0 344.5h.1M134.2 347.0h.1M96.5 345.9h.1M111.7 360.9h.1M102.4 338.1h.1M113.8 344.1h.1M111.3 355.5h.1M128.3 346.8h.1M118.6 352.9h.1M111.7 348.3h.1M126.4 352.3h.1M112.7 356.3h.1M113.1 350.6h.1M127.3 344.9h.1M104.1 345.2h.1M105.9 343.7h.1M105.8 349.1h.1M120.5 350.7h.1M109.9 347.1h.1M82.4 350.7h.1M114.6 351.3h.1M115.0 341.3h.1M115.2 343.8h.1M109.4 348.6h.1M113.1 344.7h.1M97.2 348.8h.1M106.4 343.8h.1M125.8 356.8h.1M109.1 359.8h.1M131.2 347.5h.1M109.1 350.3h.1M101.1 347.0h.1M111.5 351.7h.1M113.7 345.6h.1M113.8 340.6h.1M141.9 354.4h.1M116.6 345.6h.1M115.2 351.4h.1M106.3 354.6h.1M96.9 338.6h.1M115.1 342.8h.1M99.4 344.0h.1M102.9 348.5h.1M116.8 342.2h.1M93.3 343.9h.1M113.8 340.7h.1M109.6 344.9h.1M98.6 351.8h.1M100.2 345.9h.1M103.8 347.0h.1M119.4 342.3h.1M105.9 347.8h.1M123.6 338.4h.1M115.7 354.3h.1M111.1 355.1h.1M102.1 348.0h.1M120.3 354.7h.1M118.0 347.2h.1M129.8 352.0h.1M119.1 354.2h.1M116.7 353.1h.1M115.5 335.6h.1M121.0 352.7h.1M120.6 358.1h.1M112.3 354.2h.1M107.7 348.6h.1M100.1 343.4h.1M111.3 344.8h.1M113.6 357.0h.1M114.0 347.5h.1M107.0 355.4h.1M106.2 344.1h.1M122.2 343.7h.1M89.6 352.9h.1M88.0 342.4h.1M112.5 348.3h.1M105.0 354.3h.1M104.8 346.5h.1M104.8 341.5h.1M126.0 351.0h.1M111.8 356.5h.1M110.6 340.1h.1M129.1 352.9h.1M102.6 347.0h.1M105.5 340.1h.1M100.2 337.0h.1M122.7 346.9h.1M109.5 353.6h.1M108.1 351.1h.1M121.5 345.7h.1M116.3 355.0h.1M103.0 342.8h.1M113.8 344.7h.1M113.5 347.5h.1M100.5 347.7h.1M105.3 347.4h.1M105.9 352.0h.1M96.2 346.7h.1M113.0 351.6h.1M101.5 340.0h.1M93.1 351.2h.1M114.9 349.2h.1M115.9 337.6h.1M111.9 349.4h.1M114.6 352.6h.1M125.7 348.1h.1M112.4 341.4h.1M98.2 349.9h.1M103.4 341.3h.1M96.4 344.5h.1M111.0 346.7h.1M119.4 343.2h.1M103.4 350.5h.1M120.4 349.6h.1M111.8 341.0h.1M99.0 355.4h.1M125.7 346.5h.1M80.3 347.6h.1M121.1 351.4h.1M105.3 353.0h.1M121.5 341.1h.1M104.9 349.9h.1M120.1 349.6h.1M116.0 351.5h.1M99.7 345.0h.1M101.8 345.5h.1M114.1 352.6h.1M110.5 354.7h.1M104.5 342.7h.1M120.8 353.5h.1M118.9 347.4h.1M111.9 352.6h.1M117.5 352.1h.1M108.6 348.9h.1M102.7 352.7h.1M104.8 356.5h.1M125.2 339.6h.1M117.4 350.8h.1M109.7 345.9h.1M126.5 354.6h.1M119.9 347.0h.1M114.5 356.8h.1M100.6 343.1h.1M108.9 344.7h.1M117.0 348.1h.1M114.4 341.6h.1M124.3 344.3h.1M131.9 350.9h.1M113.6 341.1h.1M100.5 346.6h.1M105.8 353.8h.1M118.1 348.3h.1M107.4 344.6h.1M107.5 344.1h.1M108.8 345.3h.1M99.6 353.9h.1M106.1 346.4h.1M109.2 348.4h.1M94.7 347.2h.1M105.4 341.4h.1M120.7 345.3h.1M102.7 347.8h.1M141.9 350.9h.1M117.7 347.4h.1M104.0 337.0h.1M132.5 350.4h.1M123.4 336.8h.1M86.3 351.4h.1M95.1 345.5h.1M103.0 342.2h.1M113.7 348.7h.1M115.1 347.5h.1M118.1 353.8h.1M107.6 344.0h.1M121.7 352.5h.1M105.6 350.4h.1M109.8 349.2h.1M99.6 342.7h.1M111.7 347.1h.1M118.2 342.2h.1M111.7 354.6h.1M88.5 351.9h.1M107.5 347.6h.1M116.2 348.8h.1M89.4 353.5h.1M121.4 355.9h.1M100.5 345.9h.1M119.8 351.0h.1M96.9 354.3h.1M114.6 350.2h.1M119.1 341.4h.1M123.7 347.3h.1M121.0 350.4h.1M113.8 343.0h.1M117.5 345.9h.1M121.4 344.0h.1M109.5 350.3h.1M118.4 344.2h.1M86.3 355.6h.1M106.6 334.6h.1M116.1 345.8h.1M109.1 348.5h.1M106.6 354.8h.1M106.6 339.2h.1M126.0 345.4h.1M104.2 342.4h.1M99.1 342.6h.1M103.2 348.6h.1M131.2 343.5h.1M94.8 354.1h.1M110.6 347.5h.1M111.1 345.5h.1M107.1 343.5h.1M119.3 341.3h.1M93.8 351.5h.1M104.7 340.3h.1M117.8 350.7h.1M99.5 343.1h.1M104.1 348.3h.1M122.3 348.8h.1M87.2 341.6h.1M108.1 352.5h.1M111.1 346.4h.1M92.0 356.0h.1M116.8 343.6h.1M108.4 345.9h.1M102.5 351.4h.1M90.8 345.3h.1M110.2 352.6h.1M101.4 350.4h.1M101.6 346.7h.1M125.2 345.2h.1M88.9 341.0h.1M105.6 345.7h.1M120.8 344.1h.1M86.6 348.1h.1M111.2 349.1h.1M111.6 354.1h.1M115.3 358.2h.1M101.0 351.0h.1M107.0 345.7h.1M126.1 350.7h.1M114.7 354.1h.1M120.9 344.2h.1M93.6 341.5h.1M85.9 353.1h.1M94.6 341.6h.1M97.9 351.7h.1M116.3 348.6h.1M104.1 344.8h.1M106.9 348.4h.1M108.9 355.1h.1M122.5 340.0h.1M93.9 355.4h.1M112.3 356.9h.1M114.3 350.7h.1M111.4 337.4h.1M108.3 351.4h.1M100.1 342.0h.1M107.2 345.9h.1M94.3 347.8h.1M125.0 345.5h.1M86.7 348.0h.1M115.5 347.8h.1M116.0 346.6h.1M122.3 348.5h.1M96.6 336.4h.1M114.8 354.7h.1M120.7 350.9h.1M98.7 350.1h.1M112.6 354.3h.1M110.4 353.9h.1M115.1 343.2h.1M124.7 350.9h.1M101.3 347.8h.1M133.8 340.6h.1M105.4 345.1h.1M119.1 351.3h.1M105.4 353.1h.1M98.6 352.3h.1M120.5 348.7h.1M96.3 352.2h.1M101.7 344.7h.1M95.5 347.4h.1M117.1 343.2h.1M125.3 352.2h.1M89.9 353.1h.1M102.6 354.9h.1M123.6 342.1h.1M104.8 342.4h.1M104.8 337.5h.1M113.6 346.2h.1M100.0 354.9h.1M83.1 348.6h.1M115.1 341.1h.1M121.2 339.0h.1M108.7 348.4h.1M92.0 357.8h.1M100.6 343.7h.1M121.1 344.4h.1M133.0 354.2h.1M108.7 343.2h.1M111.7 339.2h.1M106.2 341.3h.1M112.3 355.8h.1M110.6 352.8h.1M118.0 348.6h.1M113.7 348.6h.1M95.0 344.6h.1M110.1 344.3h.1M108.8 350.6h.1M99.7 348.2h.1M106.6 347.5h.1M133.5 353.6h.1M113.4 355.7h.1M102.4 343.3h.1M121.9 348.0h.1M120.0 352.3h.1M122.2 349.0h.1M106.9 347.9h.1M112.4 338.4h.1M108.8 348.0h.1M105.8 345.7h.1M83.0 348.6h.1M101.1 353.2h.1M107.8 356.9h.1M98.5 336.7h.1M110.0 342.4h.1M115.5 353.2h.1M123.0 340.2h.1M104.8 342.2h.1M108.8 354.7h.1M119.2 352.8h.1M104.3 347.2h.1M120.2 352.2h.1M121.3 350.2h.1M117.0 339.4h.1M105.0 353.9h.1M103.5 358.7h.1M131.1 348.6h.1M94.8 354.2h.1M94.9 342.8h.1M119.9 347.8h.1M99.6 352.7h.1M103.8 346.0h.1" stroke="#000" stroke-width="0.9" stroke-linecap="round" stroke-opacity="0.6" fill="none"/>
<path d="M71.6 332.1h.1M75.0 307.1h.1M69.0 319.3h.1M73.5 306.9h.1M69.9 322.4h.1M75.6 323.5h.1M74.9 303.3h.1M81.1 316.9h.1M70.4 311.2h.1M68.2 321.5h.1M72.1 318.3h.1M76.8 311.7h.1M77.6 311.8h.1M66.7 310.2h.1M66.7 320.8h.1M79.6 308.7h.1M79.3 316.2h.1M81.8 305.6h.1M75.2 305.1h.1M70.2 326.3h.1M60.9 305.8h.1M78.4 321.0h.1M69.5 295.7h.1M62.9 317.3h.1M82.7 322.2h.1M69.9 326.2h.1M73.7 319.5h.1M73.7 328.3h.1M71.4 294.7h.1M72.8 315.7h.1M76.9 307.5h.1M73.4 303.8h.1M73.4 314.8h.1M76.7 328.8h.1M61.0 318.7h.1M78.0 303.6h.1M75.5 313.9h.1M68.0 320.5h.1M88.4 320.1h.1M80.4 323.6h.1M74.1 322.7h.1M69.3 315.6h.1M79.9 325.7h.1M73.0 311.4h.1M78.3 313.3h.1M76.0 321.2h.1M69.6 321.9h.1M77.7 311.6h.1M66.3 308.3h.1M74.7 322.4h.1M61.2 320.4h.1M76.3 303.9h.1M81.0 317.6h.1M78.0 305.2h.1M67.3 322.1h.1M84.8 317.3h.1M73.7 310.0h.1M63.0 322.8h.1M74.3 325.0h.1M70.0 323.4h.1M70.0 319.2h.1M84.6 307.7h.1M81.3 313.9h.1M68.5 315.8h.1M79.5 307.6h.1M73.1 308.9h.1M69.6 312.1h.1M80.7 309.6h.1M83.7 310.6h.1M70.2 323.6h.1M84.8 308.2h.1M79.1 303.6h.1M72.2 310.7h.1M79.9 302.8h.1M71.4 307.8h.1M75.7 303.0h.1M65.7 339.2h.1M76.5 300.6h.1M80.8 302.3h.1M61.9 328.9h.1M83.7 306.5h.1M67.4 318.2h.1M89.1 319.3h.1M79.6 303.4h.1M62.7 317.4h.1M82.0 315.2h.1M75.0 326.3h.1M69.2 323.8h.1M80.8 308.4h.1M75.9 315.0h.1M79.0 305.3h.1M73.4 314.8h.1M75.2 314.2h.1M76.7 312.3h.1M71.5 323.2h.1M70.6 311.2h.1M68.9 303.8h.1M78.1 313.6h.1M74.1 318.0h.1M73.8 320.0h.1M87.5 317.1h.1M73.2 328.7h.1M79.9 299.2h.1M84.2 315.9h.1M80.9 303.8h.1M69.1 308.2h.1M78.8 304.0h.1M70.1 322.4h.1M70.6 315.0h.1M68.8 298.9h.1M74.4 312.9h.1M65.1 322.6h.1M80.6 321.8h.1M71.5 303.8h.1M74.4 315.5h.1M73.8 308.8h.1M68.1 307.5h.1M74.4 309.7h.1M86.5 311.6h.1M78.1 309.9h.1M73.7 305.4h.1M71.7 300.7h.1M60.7 325.8h.1M67.7 317.8h.1M74.1 309.0h.1M80.0 309.1h.1M78.0 310.7h.1M81.7 322.4h.1M75.4 323.7h.1M78.5 327.7h.1M74.2 300.3h.1M76.4 316.1h.1M72.5 312.2h.1M73.1 302.9h.1M86.8 307.1h.1M67.6 300.0h.1M69.2 313.6h.1M85.1 319.3h.1M70.0 303.0h.1M67.3 313.3h.1M80.9 309.7h.1M86.0 331.0h.1M76.1 294.9h.1M82.5 313.1h.1M79.6 322.7h.1M68.1 314.6h.1M76.2 307.3h.1M79.8 312.8h.1M72.2 330.6h.1M76.1 328.4h.1M73.9 323.1h.1M69.8 315.3h.1M82.4 294.8h.1M78.7 311.6h.1M82.4 315.6h.1M74.5 302.7h.1M95.1 307.5h.1M72.8 307.6h.1M72.9 315.9h.1M65.8 323.3h.1M73.2 319.3h.1M60.5 309.4h.1M72.9 310.6h.1M70.4 316.7h.1M77.8 305.3h.1M61.5 320.4h.1M72.8 323.4h.1M80.9 313.1h.1M65.2 310.8h.1M70.0 324.9h.1M63.4 322.0h.1M64.4 308.9h.1M65.3 307.8h.1M71.9 317.2h.1M70.9 320.0h.1M86.9 315.4h.1M67.1 312.4h.1M74.3 310.8h.1M82.8 324.2h.1M88.7 318.6h.1M79.5 306.9h.1M70.9 322.0h.1M75.9 304.1h.1M71.0 286.8h.1M74.9 303.2h.1M74.6 303.5h.1M68.6 309.4h.1M94.0 303.5h.1M66.9 309.2h.1M82.2 321.0h.1M79.7 311.1h.1M75.8 307.2h.1M73.7 306.9h.1M65.0 305.2h.1M88.1 317.5h.1M69.8 313.0h.1M71.9 324.7h.1M74.8 308.4h.1M79.6 316.8h.1M70.3 307.2h.1M75.9 299.5h.1M68.7 322.9h.1M80.8 323.8h.1M71.9 308.7h.1M73.1 309.7h.1M83.7 312.0h.1M84.2 307.7h.1M77.5 328.3h.1M69.9 308.2h.1M70.8 299.8h.1M72.9 308.3h.1M90.0 309.8h.1M60.3 322.3h.1M81.4 313.7h.1M76.9 320.3h.1M71.1 314.3h.1M75.9 328.6h.1M84.6 315.4h.1M65.8 321.7h.1M74.6 324.3h.1M75.3 315.6h.1M79.4 307.5h.1M70.4 334.2h.1M69.0 322.2h.1M79.6 321.2h.1M84.3 302.2h.1M81.4 295.8h.1M75.3 316.9h.1M81.9 323.5h.1M68.6 311.6h.1M73.8 307.8h.1M69.3 308.1h.1M82.7 326.0h.1M80.0 328.8h.1M75.5 304.4h.1M70.5 315.8h.1M81.9 324.7h.1M68.8 322.4h.1M71.3 319.2h.1M81.2 327.0h.1M71.3 316.1h.1M77.8 310.3h.1M75.5 319.2h.1M63.7 308.3h.1M90.6 318.0h.1M71.1 297.8h.1M68.4 318.5h.1M79.5 317.9h.1M78.9 308.7h.1M85.8 304.1h.1M78.4 311.6h.1M63.3 321.9h.1M73.0 320.2h.1M83.6 315.4h.1M70.4 312.1h.1M74.4 326.7h.1M80.7 328.0h.1M80.1 307.2h.1M81.2 322.5h.1M107.5 320.1h.1M105.4 304.9h.1M107.9 322.7h.1M105.0 296.2h.1M100.3 325.6h.1M111.3 325.9h.1M100.8 312.3h.1M98.1 309.1h.1M114.3 317.2h.1M103.7 318.6h.1M94.9 312.5h.1M92.8 302.7h.1M94.3 306.3h.1M125.7 328.1h.1M122.3 310.9h.1M115.5 306.0h.1M103.0 318.1h.1M91.7 317.7h.1M115.4 297.7h.1M82.7 313.5h.1M107.5 317.3h.1M96.7 321.0h.1M110.1 309.5h.1M126.4 318.3h.1M116.8 332.4h.1M103.6 314.0h.1M90.2 314.0h.1M113.5 338.2h.1M114.8 317.8h.1M95.3 308.4h.1M89.0 303.8h.1M110.0 318.6h.1M99.0 314.1h.1M100.2 321.5h.1M115.7 311.0h.1M103.9 305.1h.1M103.8 335.4h.1M108.7 323.6h.1M115.0 329.1h.1M105.3 308.0h.1M119.9 324.2h.1M101.7 325.7h.1M108.7 315.6h.1M128.5 320.7h.1M112.2 313.2h.1M111.0 325.4h.1M113.7 309.3h.1M113.6 314.9h.1M112.1 314.3h.1M85.4 301.7h.1M104.7 296.4h.1M92.7 334.0h.1M116.2 311.9h.1M112.3 296.1h.1M111.5 324.7h.1M110.8 304.3h.1M119.2 311.3h.1M102.7 317.7h.1M105.6 334.1h.1M107.3 335.1h.1M113.7 304.9h.1M108.8 316.5h.1M124.2 327.4h.1M136.2 310.1h.1M104.1 336.8h.1M99.2 319.2h.1M126.1 307.0h.1M105.1 309.3h.1M114.5 319.6h.1M108.4 321.9h.1M100.4 312.6h.1M113.8 334.0h.1M108.4 316.5h.1M122.9 316.7h.1M122.8 318.1h.1M121.2 317.6h.1M98.9 308.4h.1M113.4 332.8h.1M128.9 313.2h.1M135.7 306.0h.1M99.7 324.3h.1M92.4 324.2h.1M112.9 321.6h.1M95.9 319.4h.1M118.9 315.5h.1M119.9 316.2h.1M112.5 313.2h.1M94.2 314.6h.1M114.2 309.2h.1M87.8 302.1h.1M123.0 314.0h.1M100.6 327.1h.1M107.0 302.5h.1M104.1 308.1h.1M106.8 307.8h.1M109.6 320.1h.1M102.7 314.2h.1M107.1 323.4h.1M101.1 322.7h.1M122.3 314.3h.1M98.4 313.2h.1M89.7 311.1h.1M95.9 314.5h.1M104.8 320.6h.1M110.1 319.8h.1M108.3 318.5h.1M96.6 321.9h.1M122.9 326.0h.1M94.3 319.8h.1M91.3 322.8h.1M106.6 311.9h.1M100.8 313.9h.1M108.8 307.3h.1M109.5 318.3h.1M114.5 315.6h.1M108.8 336.8h.1M119.7 318.9h.1M93.8 321.6h.1M115.0 292.1h.1M107.1 319.4h.1M109.2 316.9h.1M107.2 328.4h.1M113.0 313.5h.1M106.4 334.8h.1M99.5 311.3h.1M112.4 317.3h.1M112.1 328.2h.1M121.1 319.8h.1M109.3 315.4h.1M106.3 325.0h.1M95.2 306.7h.1M103.9 307.3h.1M100.9 326.7h.1M84.5 321.2h.1M94.6 313.8h.1M102.6 307.1h.1M92.8 316.6h.1M76.8 296.9h.1M104.6 325.9h.1M128.9 313.4h.1M100.2 313.4h.1M113.9 324.4h.1M98.5 320.3h.1M108.5 326.3h.1M104.4 314.1h.1M99.6 304.1h.1M111.8 322.4h.1M121.1 318.4h.1M103.9 307.7h.1M96.3 309.5h.1M112.5 316.8h.1M84.0 315.1h.1M105.7 306.6h.1M108.6 320.8h.1M97.6 303.8h.1M105.4 318.4h.1M106.1 329.9h.1M110.5 307.0h.1M117.3 310.2h.1M116.4 316.9h.1M122.3 307.0h.1M116.7 319.8h.1M99.1 322.3h.1M133.5 319.2h.1M100.6 314.6h.1M123.0 318.3h.1M125.0 310.1h.1M123.1 301.8h.1M107.1 313.3h.1M103.6 327.0h.1M102.3 319.2h.1M129.1 323.4h.1M104.4 309.4h.1M87.1 319.4h.1M118.6 326.0h.1M111.5 335.4h.1M117.3 295.2h.1M99.3 323.2h.1M104.6 323.5h.1M136.9 309.1h.1M133.0 315.3h.1M92.9 316.9h.1M118.8 310.8h.1M126.1 308.1h.1M106.8 324.3h.1M106.6 311.0h.1M108.7 321.9h.1M127.8 328.2h.1M129.4 315.7h.1M90.8 315.6h.1M104.4 307.0h.1M103.3 315.4h.1M109.5 324.3h.1M98.9 326.3h.1M109.4 322.6h.1M122.5 304.9h.1M126.4 309.5h.1M113.3 325.8h.1M119.0 301.9h.1M110.7 326.2h.1M107.6 315.3h.1M109.7 330.8h.1M103.0 307.5h.1M96.8 311.2h.1M106.4 319.1h.1M108.0 300.5h.1M91.7 322.1h.1M116.9 303.8h.1M119.2 294.1h.1M134.4 321.3h.1M90.8 320.6h.1M108.6 311.9h.1M104.9 314.0h.1M107.9 307.9h.1M102.7 321.0h.1M114.8 304.0h.1M103.6 330.1h.1M116.8 330.9h.1M94.1 306.6h.1M85.1 298.5h.1M104.8 306.5h.1M97.0 309.7h.1M106.9 323.5h.1M115.1 300.2h.1M125.4 313.0h.1M98.0 315.7h.1M104.6 303.5h.1M126.1 310.8h.1M102.4 320.9h.1M127.4 320.4h.1M99.1 320.0h.1M121.2 319.4h.1M116.1 311.7h.1M108.2 300.8h.1M101.1 305.8h.1M109.1 329.5h.1M84.2 304.1h.1M98.8 315.2h.1M121.8 309.0h.1M100.3 326.9h.1M113.1 320.8h.1M118.2 309.3h.1M111.5 310.1h.1M101.0 317.2h.1M113.8 304.5h.1M100.5 321.5h.1M110.8 322.0h.1M105.5 308.8h.1M117.6 321.4h.1M77.7 323.8h.1M100.6 322.0h.1M126.3 313.5h.1M98.3 318.3h.1M110.0 321.1h.1M93.5 318.2h.1M118.8 322.3h.1M115.9 326.8h.1M99.9 327.0h.1M111.3 307.0h.1M105.7 318.5h.1M112.6 328.2h.1M111.1 311.4h.1M133.1 313.0h.1M99.9 324.4h.1M104.4 308.9h.1M97.3 326.7h.1M97.3 316.9h.1M104.0 314.3h.1M100.0 317.4h.1M115.7 325.5h.1M105.0 305.5h.1M92.6 316.1h.1M81.6 328.0h.1M109.3 317.1h.1M93.6 310.2h.1M100.8 322.1h.1M104.5 321.6h.1M114.7 298.7h.1M106.4 327.4h.1M103.3 317.2h.1M97.2 336.2h.1M148.2 345.0h.1M114.1 342.4h.1M130.9 355.3h.1M126.1 353.7h.1M115.5 357.2h.1M108.9 347.1h.1M117.9 338.9h.1M103.4 340.4h.1M94.1 338.4h.1M81.4 347.6h.1M102.7 352.7h.1M98.0 351.1h.1M115.1 340.4h.1M62.7 340.6h.1M94.4 341.8h.1M148.8 340.6h.1M110.5 339.9h.1M115.2 336.0h.1M121.0 347.5h.1M91.2 336.5h.1M136.8 341.4h.1M131.8 326.8h.1M73.5 360.6h.1M139.4 346.2h.1M122.0 350.9h.1M92.1 347.1h.1M74.7 335.4h.1M102.7 351.9h.1M103.5 336.3h.1M118.7 346.8h.1M116.6 343.8h.1M94.1 354.5h.1M130.3 336.5h.1M75.6 353.8h.1M107.9 346.5h.1M78.4 354.2h.1M104.1 347.8h.1M108.5 341.9h.1M108.8 347.1h.1M115.9 349.1h.1M71.7 340.4h.1M94.1 355.4h.1M85.7 355.2h.1M123.8 353.1h.1M149.8 346.0h.1M107.1 355.8h.1M109.0 354.0h.1M97.1 357.4h.1M107.8 330.8h.1M123.9 344.6h.1M80.5 343.7h.1M93.8 355.3h.1M107.3 345.5h.1M99.7 338.9h.1M85.9 342.4h.1M95.0 336.8h.1M91.2 354.1h.1M110.0 346.1h.1M107.6 344.2h.1M73.8 353.1h.1M149.6 350.2h.1M73.3 350.3h.1M92.5 343.9h.1M63.4 345.5h.1M108.8 333.4h.1M95.1 342.2h.1M77.9 351.2h.1M136.3 349.4h.1M122.7 352.2h.1M98.6 350.7h.1M129.3 342.7h.1M96.7 335.1h.1M119.8 349.0h.1M105.7 356.6h.1M61.0 357.1h.1M101.8 352.3h.1M130.5 339.7h.1M80.8 349.3h.1M98.7 341.5h.1M97.2 340.4h.1M103.0 343.1h.1M137.6 337.8h.1M112.8 346.7h.1M134.9 338.4h.1M89.7 359.9h.1M85.5 343.1h.1M91.3 338.3h.1M127.0 358.2h.1M96.7 340.1h.1M70.1 351.4h.1M88.3 350.5h.1M113.9 349.4h.1M102.9 346.0h.1M92.5 342.6h.1M103.2 350.2h.1M120.6 344.4h.1M127.0 338.7h.1M142.2 353.7h.1M131.8 358.7h.1M73.6 345.2h.1M110.4 354.4h.1M101.7 335.8h.1M127.0 344.8h.1M109.7 343.6h.1M97.5 335.2h.1M114.8 341.1h.1M60.8 349.4h.1M99.2 353.7h.1M118.1 336.5h.1M96.1 346.1h.1M102.0 337.7h.1M101.7 353.9h.1M127.4 357.7h.1M116.8 326.1h.1M94.0 341.8h.1M120.1 346.0h.1M108.0 349.9h.1M95.2 357.0h.1M140.3 352.6h.1M87.7 348.1h.1M121.6 351.8h.1M84.9 353.7h.1M116.0 350.7h.1M90.8 345.9h.1M90.2 343.7h.1M93.8 343.6h.1M101.9 346.9h.1M86.5 345.0h.1M98.0 350.0h.1M109.7 343.3h.1M81.8 333.1h.1M72.4 349.3h.1M79.7 358.8h.1M96.5 343.0h.1M96.5 341.8h.1M86.1 346.6h.1M68.1 347.1h.1M98.0 338.9h.1M122.7 348.9h.1M123.9 340.8h.1M72.6 336.7h.1M65.3 331.1h.1M134.6 342.3h.1M104.3 341.9h.1M96.8 358.6h.1M61.7 338.3h.1M103.0 338.9h.1M115.3 356.3h.1M119.7 352.0h.1M96.4 354.0h.1" stroke="#000" stroke-width="0.9" stroke-linecap="round" stroke-opacity="0.45" fill="none"/>
<rect x="57.5" y="242.5" width="129.7" height="121.30000000000001" fill="none" stroke="#777" stroke-width="1"/>
<line x1="91.8" y1="242.5" x2="91.8" y2="363.8" stroke="#505050" stroke-width="1.35" />
<line x1="57.5" y1="332.3" x2="187.2" y2="332.3" stroke="#505050" stroke-width="1.35" />
<text transform="translate(58.7,249.8) scale(1.1,1)" font-size="6.8" font-weight="normal" text-anchor="start" fill="#444" >B1</text>
<text transform="translate(93.0,249.8) scale(1.1,1)" font-size="6.8" font-weight="normal" text-anchor="start" fill="#444" >B2</text>
<text transform="translate(58.7,340.1) scale(1.1,1)" font-size="6.8" font-weight="normal" text-anchor="start" fill="#444" >B3</text>
<text transform="translate(93.0,340.1) scale(1.1,1)" font-size="6.8" font-weight="normal" text-anchor="start" fill="#444" >B4</text>
<text transform="translate(157.5,260) scale(1.14,1)" font-size="10.3" font-weight="bold" text-anchor="middle" fill="#000" >+ 1 <tspan font-style="italic">µ</tspan>M</text>
<text transform="translate(157.5,272.6) scale(1.07,1)" font-size="11.2" font-weight="bold" text-anchor="middle" fill="#000" >Imatinib</text>
<text transform="translate(181.7,325) scale(1.02,1)" font-size="12" font-weight="bold" text-anchor="end" fill="#000" >6±2%</text>
<text transform="translate(184,355.8) scale(1.02,1)" font-size="12" font-weight="bold" text-anchor="end" fill="#000" >43±5%</text>
<text x="81.5" y="378.8" font-size="12" font-weight="bold">10<tspan dy="-5.3" dx="0" font-size="8.8" font-weight="normal" fill="#222">0</tspan></text>
<text x="113.7" y="378.8" font-size="12" font-weight="bold">10<tspan dy="-5.3" dx="0" font-size="8.8" font-weight="normal" fill="#222">1</tspan></text>
<text x="146.2" y="378.8" font-size="12" font-weight="bold">10<tspan dy="-5.3" dx="0" font-size="8.8" font-weight="normal" fill="#222">2</tspan></text>
<text x="179.2" y="378.8" font-size="12" font-weight="bold">10<tspan dy="-5.3" dx="0" font-size="8.8" font-weight="normal" fill="#222">3</tspan></text>
<text x="34.2" y="342.4" font-size="12" font-weight="bold">10<tspan dy="-5.3" dx="0" font-size="8.8" font-weight="normal" fill="#222">0</tspan></text>
<text x="34.2" y="312.4" font-size="12" font-weight="bold">10<tspan dy="-5.3" dx="0" font-size="8.8" font-weight="normal" fill="#222">1</tspan></text>
<text x="34.2" y="282.3" font-size="12" font-weight="bold">10<tspan dy="-5.3" dx="0" font-size="8.8" font-weight="normal" fill="#222">2</tspan></text>
<text x="34.2" y="251.2" font-size="12" font-weight="bold">10<tspan dy="-5.3" dx="0" font-size="8.8" font-weight="normal" fill="#222">3</tspan></text>
<line x1="58.5" y1="363.8" x2="58.5" y2="366.0" stroke="#888" stroke-width="0.8" />
<line x1="60.0" y1="363.8" x2="60.0" y2="367.0" stroke="#888" stroke-width="0.8" />
<line x1="69.6" y1="363.8" x2="69.6" y2="366.0" stroke="#888" stroke-width="0.8" />
<line x1="54.3" y1="355.1" x2="57.5" y2="355.1" stroke="#888" stroke-width="0.8" />
<line x1="75.2" y1="363.8" x2="75.2" y2="366.0" stroke="#888" stroke-width="0.8" />
<line x1="54.3" y1="349.7" x2="57.5" y2="349.7" stroke="#888" stroke-width="0.8" />
<line x1="79.1" y1="363.8" x2="79.1" y2="366.0" stroke="#888" stroke-width="0.8" />
<line x1="54.3" y1="345.9" x2="57.5" y2="345.9" stroke="#888" stroke-width="0.8" />
<line x1="82.2" y1="363.8" x2="82.2" y2="366.0" stroke="#888" stroke-width="0.8" />
<line x1="54.3" y1="343.0" x2="57.5" y2="343.0" stroke="#888" stroke-width="0.8" />
<line x1="84.7" y1="363.8" x2="84.7" y2="366.0" stroke="#888" stroke-width="0.8" />
<line x1="54.3" y1="340.6" x2="57.5" y2="340.6" stroke="#888" stroke-width="0.8" />
<line x1="86.9" y1="363.8" x2="86.9" y2="366.0" stroke="#888" stroke-width="0.8" />
<line x1="54.3" y1="338.5" x2="57.5" y2="338.5" stroke="#888" stroke-width="0.8" />
<line x1="88.7" y1="363.8" x2="88.7" y2="366.0" stroke="#888" stroke-width="0.8" />
<line x1="54.3" y1="336.7" x2="57.5" y2="336.7" stroke="#888" stroke-width="0.8" />
<line x1="90.3" y1="363.8" x2="90.3" y2="366.0" stroke="#888" stroke-width="0.8" />
<line x1="54.3" y1="335.2" x2="57.5" y2="335.2" stroke="#888" stroke-width="0.8" />
<line x1="91.8" y1="363.8" x2="91.8" y2="367.0" stroke="#888" stroke-width="0.8" />
<line x1="52.7" y1="333.8" x2="57.5" y2="333.8" stroke="#888" stroke-width="0.8" />
<line x1="101.4" y1="363.8" x2="101.4" y2="366.0" stroke="#888" stroke-width="0.8" />
<line x1="54.3" y1="324.6" x2="57.5" y2="324.6" stroke="#888" stroke-width="0.8" />
<line x1="107.0" y1="363.8" x2="107.0" y2="366.0" stroke="#888" stroke-width="0.8" />
<line x1="54.3" y1="319.3" x2="57.5" y2="319.3" stroke="#888" stroke-width="0.8" />
<line x1="110.9" y1="363.8" x2="110.9" y2="366.0" stroke="#888" stroke-width="0.8" />
<line x1="54.3" y1="315.5" x2="57.5" y2="315.5" stroke="#888" stroke-width="0.8" />
<line x1="114.0" y1="363.8" x2="114.0" y2="366.0" stroke="#888" stroke-width="0.8" />
<line x1="54.3" y1="312.5" x2="57.5" y2="312.5" stroke="#888" stroke-width="0.8" />
<line x1="116.5" y1="363.8" x2="116.5" y2="366.0" stroke="#888" stroke-width="0.8" />
<line x1="54.3" y1="310.1" x2="57.5" y2="310.1" stroke="#888" stroke-width="0.8" />
<line x1="118.7" y1="363.8" x2="118.7" y2="366.0" stroke="#888" stroke-width="0.8" />
<line x1="54.3" y1="308.1" x2="57.5" y2="308.1" stroke="#888" stroke-width="0.8" />
<line x1="120.5" y1="363.8" x2="120.5" y2="366.0" stroke="#888" stroke-width="0.8" />
<line x1="54.3" y1="306.3" x2="57.5" y2="306.3" stroke="#888" stroke-width="0.8" />
<line x1="122.1" y1="363.8" x2="122.1" y2="366.0" stroke="#888" stroke-width="0.8" />
<line x1="54.3" y1="304.8" x2="57.5" y2="304.8" stroke="#888" stroke-width="0.8" />
<line x1="123.6" y1="363.8" x2="123.6" y2="367.0" stroke="#888" stroke-width="0.8" />
<line x1="52.7" y1="303.4" x2="57.5" y2="303.4" stroke="#888" stroke-width="0.8" />
<line x1="133.2" y1="363.8" x2="133.2" y2="366.0" stroke="#888" stroke-width="0.8" />
<line x1="54.3" y1="294.2" x2="57.5" y2="294.2" stroke="#888" stroke-width="0.8" />
<line x1="138.8" y1="363.8" x2="138.8" y2="366.0" stroke="#888" stroke-width="0.8" />
<line x1="54.3" y1="288.8" x2="57.5" y2="288.8" stroke="#888" stroke-width="0.8" />
<line x1="142.7" y1="363.8" x2="142.7" y2="366.0" stroke="#888" stroke-width="0.8" />
<line x1="54.3" y1="285.0" x2="57.5" y2="285.0" stroke="#888" stroke-width="0.8" />
<line x1="145.8" y1="363.8" x2="145.8" y2="366.0" stroke="#888" stroke-width="0.8" />
<line x1="54.3" y1="282.1" x2="57.5" y2="282.1" stroke="#888" stroke-width="0.8" />
<line x1="148.3" y1="363.8" x2="148.3" y2="366.0" stroke="#888" stroke-width="0.8" />
<line x1="54.3" y1="279.7" x2="57.5" y2="279.7" stroke="#888" stroke-width="0.8" />
<line x1="150.5" y1="363.8" x2="150.5" y2="366.0" stroke="#888" stroke-width="0.8" />
<line x1="54.3" y1="277.6" x2="57.5" y2="277.6" stroke="#888" stroke-width="0.8" />
<line x1="152.3" y1="363.8" x2="152.3" y2="366.0" stroke="#888" stroke-width="0.8" />
<line x1="54.3" y1="275.9" x2="57.5" y2="275.9" stroke="#888" stroke-width="0.8" />
<line x1="153.9" y1="363.8" x2="153.9" y2="366.0" stroke="#888" stroke-width="0.8" />
<line x1="54.3" y1="274.3" x2="57.5" y2="274.3" stroke="#888" stroke-width="0.8" />
<line x1="155.4" y1="363.8" x2="155.4" y2="367.0" stroke="#888" stroke-width="0.8" />
<line x1="52.7" y1="272.9" x2="57.5" y2="272.9" stroke="#888" stroke-width="0.8" />
<line x1="165.0" y1="363.8" x2="165.0" y2="366.0" stroke="#888" stroke-width="0.8" />
<line x1="54.3" y1="263.8" x2="57.5" y2="263.8" stroke="#888" stroke-width="0.8" />
<line x1="170.6" y1="363.8" x2="170.6" y2="366.0" stroke="#888" stroke-width="0.8" />
<line x1="54.3" y1="258.4" x2="57.5" y2="258.4" stroke="#888" stroke-width="0.8" />
<line x1="174.5" y1="363.8" x2="174.5" y2="366.0" stroke="#888" stroke-width="0.8" />
<line x1="54.3" y1="254.6" x2="57.5" y2="254.6" stroke="#888" stroke-width="0.8" />
<line x1="177.6" y1="363.8" x2="177.6" y2="366.0" stroke="#888" stroke-width="0.8" />
<line x1="54.3" y1="251.7" x2="57.5" y2="251.7" stroke="#888" stroke-width="0.8" />
<line x1="180.1" y1="363.8" x2="180.1" y2="366.0" stroke="#888" stroke-width="0.8" />
<line x1="54.3" y1="249.3" x2="57.5" y2="249.3" stroke="#888" stroke-width="0.8" />
<line x1="182.3" y1="363.8" x2="182.3" y2="366.0" stroke="#888" stroke-width="0.8" />
<line x1="54.3" y1="247.2" x2="57.5" y2="247.2" stroke="#888" stroke-width="0.8" />
<line x1="184.1" y1="363.8" x2="184.1" y2="366.0" stroke="#888" stroke-width="0.8" />
<line x1="54.3" y1="245.4" x2="57.5" y2="245.4" stroke="#888" stroke-width="0.8" />
<line x1="185.7" y1="363.8" x2="185.7" y2="366.0" stroke="#888" stroke-width="0.8" />
<line x1="54.3" y1="243.9" x2="57.5" y2="243.9" stroke="#888" stroke-width="0.8" />
<path d="M227.5 343.6h.1M237.5 339.1h.1M239.6 339.3h.1M233.8 341.4h.1M226.0 356.3h.1M240.7 356.4h.1M238.1 352.7h.1M237.3 357.2h.1M231.7 350.4h.1M241.9 345.4h.1M246.7 340.0h.1M225.4 343.1h.1M245.0 351.5h.1M236.5 349.0h.1M241.5 355.9h.1M238.3 351.9h.1M237.4 336.9h.1M229.1 351.7h.1M247.1 347.5h.1M240.2 352.4h.1M234.4 351.4h.1M233.0 353.1h.1M238.2 354.1h.1M248.5 347.9h.1M241.7 344.4h.1M241.8 349.5h.1M237.9 349.8h.1M242.5 356.1h.1M237.2 355.9h.1M226.7 342.6h.1M238.3 345.3h.1M238.4 350.5h.1M238.1 349.9h.1M242.1 356.8h.1M237.9 352.3h.1M249.5 349.4h.1M231.0 343.6h.1M234.6 349.5h.1M235.3 349.3h.1M228.4 342.0h.1M231.2 361.4h.1M235.2 352.3h.1M232.0 349.5h.1M239.9 345.4h.1M230.6 339.8h.1M234.3 355.6h.1M228.9 353.7h.1M228.4 347.5h.1M230.1 353.1h.1M232.9 336.2h.1M239.1 338.3h.1M237.8 355.3h.1M229.8 355.7h.1M240.8 350.9h.1M231.1 348.7h.1M236.5 352.4h.1M241.0 342.8h.1M231.5 350.8h.1M224.8 349.9h.1M234.5 345.9h.1M229.0 353.2h.1M237.5 357.1h.1M230.2 352.3h.1M238.2 350.5h.1M225.4 356.5h.1M221.7 342.8h.1M230.8 356.5h.1M244.5 350.3h.1M222.2 350.5h.1M237.3 349.4h.1M228.1 356.6h.1M234.4 349.3h.1M238.5 359.3h.1M229.2 341.1h.1M238.8 339.1h.1M247.1 356.9h.1M227.4 353.8h.1M243.1 343.0h.1M236.2 353.3h.1M223.9 345.8h.1M234.7 353.3h.1M233.0 351.2h.1M232.9 345.7h.1M223.8 353.4h.1M235.7 345.3h.1M225.5 344.1h.1M221.2 348.4h.1M231.9 352.6h.1M230.8 350.5h.1M226.5 348.2h.1M242.4 351.2h.1M226.9 361.8h.1M224.5 342.2h.1M238.2 341.0h.1M243.4 338.8h.1M232.0 350.6h.1M234.0 355.7h.1M233.0 351.0h.1M229.0 351.8h.1M245.1 343.3h.1M226.3 345.7h.1M238.1 347.0h.1M232.0 350.9h.1M249.3 349.0h.1M224.1 357.4h.1M236.7 351.5h.1M230.9 352.4h.1M239.5 346.2h.1M232.7 345.3h.1M245.2 356.3h.1M235.6 359.8h.1M240.6 356.1h.1M232.9 342.9h.1M236.6 354.5h.1M230.7 356.8h.1M230.7 353.8h.1M243.7 350.1h.1M237.5 345.6h.1M225.6 353.0h.1M237.4 352.6h.1M235.7 349.7h.1M223.0 344.1h.1M226.5 352.3h.1M228.1 355.2h.1M227.1 348.4h.1M235.7 345.1h.1M247.8 340.6h.1M236.3 355.4h.1M235.1 340.2h.1M238.0 350.9h.1M243.5 347.5h.1M240.7 336.1h.1M222.4 352.7h.1M241.2 349.4h.1M228.4 338.7h.1M229.6 340.3h.1M247.9 335.8h.1M221.7 342.4h.1M229.1 357.2h.1M244.2 350.7h.1M234.0 344.8h.1M224.8 346.6h.1M236.6 349.6h.1M226.9 350.4h.1M241.7 343.2h.1M239.8 355.0h.1M238.4 344.6h.1M236.3 357.9h.1M235.3 362.3h.1M226.0 348.6h.1M234.7 341.1h.1M250.2 352.3h.1M225.8 345.5h.1M237.0 343.0h.1M237.3 340.2h.1M239.6 341.1h.1M239.5 357.4h.1M228.6 347.8h.1M240.8 350.6h.1M227.3 348.8h.1M228.5 353.8h.1M252.0 345.8h.1M232.8 347.8h.1M242.1 354.2h.1M249.7 350.6h.1M250.6 360.5h.1M244.6 357.4h.1M231.8 351.7h.1M227.9 347.3h.1M236.1 350.1h.1M234.7 343.2h.1M230.7 344.5h.1M233.5 349.4h.1M240.3 346.5h.1M233.6 351.9h.1M234.3 348.1h.1M243.6 343.4h.1M228.9 342.2h.1M236.9 347.7h.1M225.2 354.0h.1M221.0 350.1h.1M237.5 353.7h.1M234.2 338.9h.1M222.1 351.2h.1M228.3 356.6h.1M239.2 354.5h.1M230.8 350.5h.1M226.8 351.2h.1M236.5 355.8h.1M229.4 347.6h.1M236.0 341.1h.1M231.0 350.7h.1M227.3 348.9h.1M231.6 349.2h.1M233.4 357.1h.1M227.5 346.1h.1M227.2 350.6h.1M223.1 355.6h.1M227.7 340.3h.1M239.6 354.2h.1M221.7 338.8h.1M234.0 353.2h.1M235.4 351.5h.1M233.4 345.9h.1M241.2 352.4h.1M235.4 354.2h.1M228.5 347.6h.1M241.1 354.5h.1M236.6 346.6h.1M230.0 346.6h.1M225.0 356.1h.1M231.4 349.3h.1M239.8 346.9h.1M231.4 357.0h.1M223.8 346.9h.1M236.1 353.4h.1M229.4 345.6h.1M236.6 350.4h.1M234.2 343.5h.1M225.3 350.9h.1M227.6 350.4h.1M234.3 346.6h.1M234.6 349.5h.1M227.2 346.9h.1M230.1 344.8h.1M225.0 344.7h.1M227.7 347.8h.1M230.5 346.5h.1M249.2 342.1h.1M225.4 356.7h.1M236.6 357.1h.1M237.0 345.1h.1M248.3 347.1h.1M225.2 352.2h.1M221.5 340.1h.1M230.3 345.5h.1M238.9 353.9h.1M232.0 360.1h.1M237.6 347.6h.1M231.6 351.9h.1M222.4 347.9h.1M234.2 354.2h.1M244.7 348.1h.1M252.1 353.4h.1M235.0 344.1h.1M230.7 342.1h.1M231.2 349.1h.1M233.9 350.1h.1M235.7 353.6h.1M246.8 351.9h.1M231.3 354.7h.1M233.5 342.7h.1M240.8 348.2h.1M242.5 345.4h.1M246.0 348.2h.1M226.0 341.8h.1M232.2 343.8h.1M233.7 353.1h.1M245.7 353.0h.1M232.7 339.5h.1M230.0 351.3h.1M229.6 351.5h.1M243.6 342.2h.1M222.5 347.0h.1M231.6 345.0h.1M237.5 354.1h.1M236.1 351.5h.1M246.9 349.1h.1M238.3 355.6h.1M235.0 349.2h.1M225.6 350.5h.1M227.6 347.9h.1M222.9 343.3h.1M225.5 346.8h.1M225.0 347.4h.1M224.2 345.2h.1M232.7 352.8h.1M236.2 342.4h.1M230.3 351.8h.1M242.3 349.9h.1M229.7 356.4h.1M245.6 350.8h.1M249.3 350.5h.1M221.6 343.5h.1M235.1 351.2h.1M239.2 355.0h.1M233.2 335.6h.1M229.1 356.3h.1M229.1 358.3h.1M230.1 348.9h.1M235.9 352.5h.1M233.1 356.8h.1M231.4 361.6h.1M229.5 350.2h.1M234.4 349.7h.1M239.1 345.2h.1M227.6 353.9h.1M234.6 351.6h.1M246.7 346.6h.1M231.0 346.8h.1M252.2 348.7h.1M235.8 349.5h.1M238.2 345.6h.1M241.9 345.2h.1M232.7 352.3h.1M241.5 349.4h.1M223.1 345.6h.1M222.8 349.6h.1M241.8 340.4h.1M239.7 355.6h.1M241.0 338.9h.1M234.2 350.8h.1M232.5 343.4h.1M229.4 345.9h.1M224.9 348.9h.1M243.9 352.7h.1M231.5 354.4h.1M236.6 361.7h.1M236.1 347.0h.1M246.1 350.6h.1M230.2 343.8h.1M230.6 355.1h.1M239.8 346.3h.1M233.4 353.9h.1M238.3 354.2h.1M243.2 348.5h.1M228.9 354.2h.1M245.3 349.3h.1M225.0 355.5h.1M223.1 345.8h.1M235.5 352.5h.1M234.9 355.8h.1M241.4 353.6h.1M239.1 347.0h.1M242.9 359.3h.1M236.5 357.9h.1M228.3 358.4h.1M247.6 344.1h.1M242.0 348.8h.1M239.6 351.7h.1M233.2 338.8h.1M240.1 359.3h.1M238.0 339.4h.1M226.7 351.7h.1M243.4 347.2h.1M241.9 359.4h.1M232.8 342.7h.1M227.9 353.4h.1M228.6 349.5h.1M237.7 344.5h.1M229.9 343.7h.1M236.2 350.1h.1M236.9 344.6h.1M229.4 348.6h.1M234.5 346.3h.1M258.1 341.6h.1M239.7 348.6h.1M232.2 342.8h.1M237.8 351.4h.1M234.2 340.0h.1M241.6 344.3h.1M228.7 349.9h.1M237.9 358.1h.1M227.8 346.4h.1M226.3 349.8h.1M228.2 348.6h.1M239.0 358.8h.1M246.3 339.9h.1M228.1 349.1h.1M237.6 344.4h.1M238.6 350.7h.1M232.7 340.7h.1M234.0 345.5h.1M225.3 357.1h.1M237.1 349.9h.1M236.2 352.1h.1M232.9 341.8h.1M236.6 346.3h.1M241.0 357.5h.1M230.0 341.2h.1M235.1 348.2h.1M233.8 340.2h.1M239.8 350.9h.1M236.9 351.2h.1M237.1 351.8h.1M237.6 353.3h.1M239.2 348.3h.1M226.4 341.4h.1M235.6 350.1h.1M236.0 346.1h.1M243.9 357.9h.1M238.6 353.4h.1M228.1 350.6h.1M225.3 351.5h.1M237.0 359.6h.1M236.1 343.6h.1M239.3 354.5h.1M221.2 347.5h.1M230.4 350.0h.1M231.3 347.7h.1M235.0 350.0h.1M237.6 359.2h.1M236.8 354.5h.1M231.7 343.6h.1M230.1 347.8h.1M235.1 350.4h.1M228.8 342.5h.1M226.1 351.3h.1M235.7 346.5h.1M236.1 349.0h.1M240.2 349.6h.1M232.5 348.5h.1M226.9 348.0h.1M246.8 343.3h.1M232.7 349.4h.1M245.6 348.5h.1M237.1 338.4h.1M236.3 343.7h.1M231.6 347.9h.1M247.7 352.7h.1M242.9 353.2h.1M234.2 357.7h.1M244.0 346.5h.1M221.7 343.8h.1M229.1 346.3h.1M233.6 343.0h.1M237.2 343.9h.1M238.3 348.1h.1M232.2 347.0h.1M229.0 347.2h.1M237.2 358.0h.1M239.5 359.3h.1M239.1 350.6h.1M231.5 352.8h.1M241.3 345.0h.1M233.4 344.6h.1M229.7 355.7h.1M243.9 352.1h.1M240.9 345.9h.1M245.6 348.8h.1M237.2 334.9h.1M241.0 345.0h.1M241.5 344.1h.1M226.7 345.5h.1M230.4 343.7h.1M232.5 341.4h.1M230.0 342.9h.1M228.8 356.6h.1M238.0 352.8h.1M226.8 356.3h.1M237.1 345.9h.1M222.5 345.4h.1M232.9 360.0h.1M243.7 354.4h.1M227.7 350.8h.1M239.8 344.9h.1M230.4 344.1h.1M232.2 354.5h.1M232.6 342.4h.1M231.5 345.1h.1M237.2 350.9h.1M246.5 342.0h.1M237.2 343.6h.1M239.0 353.3h.1M236.2 358.1h.1M229.9 348.2h.1M237.1 348.9h.1M247.5 351.6h.1M243.8 356.0h.1M244.0 355.8h.1M235.6 348.5h.1M231.7 341.3h.1M223.8 349.0h.1M226.7 355.0h.1M236.6 347.7h.1M236.6 356.5h.1M232.6 359.4h.1M235.9 354.9h.1M239.5 349.8h.1M238.8 341.3h.1M226.5 358.4h.1M237.9 351.8h.1M228.2 339.2h.1M222.2 346.2h.1M233.4 356.9h.1M240.9 360.0h.1M244.4 346.1h.1M230.5 346.2h.1M243.3 350.6h.1M235.7 360.6h.1M227.6 347.5h.1M231.2 350.6h.1M232.4 352.1h.1M230.5 350.6h.1M241.2 348.8h.1M237.2 354.7h.1M225.4 361.2h.1M229.1 358.0h.1M237.6 352.9h.1M240.6 352.9h.1M240.3 344.9h.1M228.3 354.0h.1M225.8 344.8h.1M234.0 356.8h.1M229.5 345.4h.1M238.1 348.0h.1M243.5 346.4h.1M221.7 349.4h.1M234.3 339.1h.1M231.6 344.3h.1M239.3 338.2h.1M232.9 356.8h.1M235.6 349.7h.1M226.7 338.0h.1M242.3 346.5h.1M235.5 344.9h.1M227.5 358.1h.1M250.8 355.5h.1M246.2 343.5h.1M230.6 342.0h.1M244.7 357.8h.1M225.0 347.8h.1M236.3 348.3h.1M223.1 345.6h.1M245.0 353.1h.1M239.7 353.0h.1M234.2 338.9h.1M241.2 355.8h.1M233.4 346.7h.1M230.0 350.0h.1M239.6 356.5h.1M246.6 348.1h.1M239.9 355.9h.1M234.2 352.5h.1M243.9 358.0h.1M232.7 356.1h.1M239.8 353.8h.1M227.7 347.2h.1M239.9 342.7h.1M237.0 353.4h.1M240.8 348.3h.1M243.5 341.0h.1M223.4 349.9h.1M232.6 350.7h.1M230.5 361.4h.1M225.7 348.2h.1M237.9 339.4h.1M244.7 344.3h.1M244.1 353.9h.1M226.7 354.6h.1M237.9 346.5h.1M230.2 351.8h.1M232.7 356.7h.1M236.8 351.3h.1M239.8 338.5h.1M233.0 360.5h.1M233.0 355.7h.1M227.1 354.2h.1M232.4 332.7h.1M228.8 343.2h.1M231.8 341.1h.1M242.0 351.2h.1M226.6 345.5h.1M227.8 344.5h.1M245.8 351.5h.1M229.5 343.9h.1M230.2 352.6h.1M238.5 358.7h.1M235.2 349.6h.1M234.7 350.2h.1M239.0 349.9h.1M230.4 346.5h.1M226.7 353.6h.1M241.2 345.7h.1M230.8 355.6h.1M223.5 349.4h.1M232.6 350.4h.1M233.0 351.4h.1M269.2 346.9h.1M290.7 348.0h.1M278.0 341.6h.1M280.6 353.8h.1M274.6 341.8h.1M277.4 335.4h.1M281.8 347.7h.1M268.0 349.9h.1M240.8 345.3h.1M273.4 349.4h.1M273.9 347.5h.1M259.9 353.5h.1M285.2 349.0h.1M284.6 357.9h.1M297.1 341.6h.1M273.2 346.2h.1M270.4 352.5h.1M285.4 353.4h.1M290.2 349.5h.1M270.2 347.9h.1M267.5 359.7h.1M275.0 348.4h.1M276.1 357.3h.1M278.3 345.3h.1M271.4 349.4h.1M265.2 347.8h.1M277.9 354.5h.1M263.9 349.7h.1M276.9 348.9h.1M272.0 343.3h.1M268.7 359.8h.1M273.6 346.7h.1M275.9 356.2h.1M283.3 341.8h.1M292.1 348.6h.1M285.7 354.1h.1M268.0 344.8h.1M281.2 351.6h.1M267.7 352.1h.1M270.8 341.1h.1M281.0 358.1h.1M275.5 352.1h.1M272.0 347.1h.1M264.8 345.2h.1M273.5 344.7h.1M283.8 355.8h.1M277.5 343.0h.1M272.0 350.0h.1M274.3 348.8h.1M285.8 351.1h.1M286.7 350.7h.1M274.2 357.3h.1M285.9 344.2h.1M276.1 344.1h.1M266.7 354.5h.1M261.5 352.4h.1M273.1 348.1h.1M277.5 348.1h.1M272.8 351.5h.1M285.7 339.7h.1M275.5 355.3h.1M269.9 349.8h.1M274.4 340.7h.1M272.8 353.9h.1M277.1 336.2h.1M276.6 353.6h.1M253.9 353.0h.1M261.7 351.1h.1M247.7 324.8h.1M282.0 347.1h.1M263.5 338.9h.1M283.7 352.7h.1M276.2 345.8h.1M284.8 353.6h.1M272.4 342.6h.1M269.7 339.7h.1M263.4 355.6h.1M276.5 352.3h.1M278.2 341.4h.1M261.3 354.1h.1M280.5 348.8h.1M294.2 351.8h.1M281.7 337.2h.1M275.7 361.2h.1M276.5 357.7h.1M272.7 352.2h.1M288.7 357.8h.1M260.4 350.8h.1M274.7 347.0h.1M274.4 348.5h.1M272.6 338.4h.1M276.6 347.4h.1M279.6 340.4h.1M267.5 346.4h.1M264.9 354.0h.1M270.1 340.0h.1M273.7 354.9h.1M270.2 353.3h.1M271.8 353.3h.1M259.3 348.3h.1M272.3 353.9h.1M283.2 343.0h.1M285.6 343.3h.1M280.2 351.6h.1M286.6 354.2h.1M276.3 355.2h.1M280.1 347.2h.1M278.5 350.1h.1M277.8 348.8h.1M259.6 351.8h.1M277.7 350.3h.1M285.9 347.7h.1M270.1 353.4h.1M273.5 351.8h.1M288.2 339.1h.1M259.5 359.1h.1M274.7 349.0h.1M276.8 342.7h.1M265.6 349.6h.1M259.1 352.7h.1M285.5 348.3h.1M283.7 344.9h.1M278.1 355.9h.1M270.4 349.5h.1M283.6 347.4h.1M266.8 343.7h.1M273.2 352.3h.1M287.1 344.3h.1M271.7 355.4h.1M262.1 349.0h.1M281.8 352.4h.1M260.3 340.3h.1M279.9 353.1h.1M287.1 350.5h.1M270.4 350.4h.1M274.9 342.6h.1M269.5 340.7h.1M263.9 357.5h.1M275.6 343.1h.1M274.2 361.2h.1M273.2 350.4h.1M276.4 346.0h.1M273.9 350.0h.1M280.8 342.0h.1M280.2 348.2h.1M273.4 355.8h.1M280.1 353.1h.1M287.6 339.2h.1M258.8 349.8h.1M277.1 355.5h.1M271.9 354.6h.1M272.1 346.8h.1M282.5 351.0h.1M274.9 347.9h.1M280.7 354.9h.1M277.4 343.3h.1M270.1 346.8h.1M278.8 350.7h.1M278.2 353.3h.1M267.0 345.1h.1M268.3 345.0h.1M281.0 354.9h.1M286.5 343.1h.1M279.2 343.2h.1M284.0 343.7h.1M259.2 355.4h.1M273.3 349.7h.1M280.8 346.3h.1M299.2 334.8h.1M263.1 349.0h.1M281.7 333.5h.1M267.9 342.4h.1M270.7 353.9h.1M277.4 350.7h.1M286.7 349.6h.1M273.3 352.7h.1M265.3 344.0h.1M272.3 342.2h.1M271.3 332.1h.1M272.2 350.9h.1M280.5 355.4h.1M269.4 353.0h.1M264.0 347.9h.1M292.4 346.0h.1M267.8 348.9h.1M254.6 344.4h.1M265.1 329.3h.1M269.5 338.6h.1M276.7 345.0h.1M279.6 343.5h.1M265.9 344.4h.1M278.6 346.4h.1M263.3 347.3h.1M286.0 351.5h.1M267.1 359.3h.1M274.6 346.5h.1M274.7 340.9h.1M273.7 347.6h.1M283.9 350.7h.1M271.2 348.8h.1M278.3 352.4h.1M283.8 354.9h.1M278.8 359.3h.1M280.0 347.3h.1M267.3 347.9h.1M254.9 359.0h.1M266.4 357.0h.1M292.2 350.1h.1M260.8 348.3h.1M278.7 353.7h.1M282.4 341.9h.1M276.3 342.5h.1M275.1 357.7h.1M279.8 348.7h.1M275.3 344.8h.1M279.0 344.0h.1M271.6 356.4h.1M276.1 341.5h.1M269.0 340.1h.1M279.9 344.1h.1M277.4 346.0h.1M274.0 347.9h.1M266.9 347.3h.1M276.1 346.6h.1M273.7 350.9h.1M279.6 353.0h.1M270.7 349.8h.1M277.9 359.2h.1M272.6 346.4h.1M270.5 351.8h.1M269.5 345.4h.1M276.2 345.6h.1M267.6 347.8h.1M271.3 347.4h.1M253.6 357.5h.1M284.5 347.1h.1M282.2 345.3h.1M251.0 351.9h.1M305.3 349.0h.1M272.6 347.2h.1M267.7 351.0h.1M267.2 346.8h.1M264.6 358.2h.1M272.5 350.9h.1M272.4 356.6h.1M285.0 360.3h.1M286.3 354.1h.1M248.0 332.8h.1M275.0 349.4h.1M265.6 350.3h.1M278.9 350.4h.1M263.6 358.0h.1M291.4 352.4h.1M275.3 353.3h.1M272.9 352.4h.1M266.7 345.2h.1M273.7 351.1h.1M272.5 352.1h.1M283.2 346.5h.1M282.7 350.6h.1M282.1 342.2h.1M275.6 348.7h.1M244.3 352.9h.1M274.2 344.7h.1M279.7 352.5h.1M273.6 350.4h.1M278.7 350.9h.1M269.6 361.3h.1M258.2 335.0h.1M274.6 355.1h.1M284.5 344.5h.1M282.5 352.5h.1M295.3 360.8h.1M274.8 346.1h.1M266.3 345.8h.1M294.7 352.2h.1M264.6 347.8h.1M264.9 352.1h.1M276.5 330.4h.1M275.8 348.9h.1M283.8 350.5h.1M274.5 347.8h.1M260.8 347.7h.1M280.1 348.0h.1M273.1 353.7h.1M288.2 353.4h.1M273.2 319.3h.1M268.9 339.4h.1M270.3 350.6h.1M249.7 352.1h.1M265.0 343.7h.1M274.0 351.0h.1M270.3 350.7h.1M272.8 351.2h.1M277.1 351.8h.1M285.3 348.2h.1M283.6 338.6h.1M277.2 341.8h.1M282.9 344.4h.1M281.4 346.6h.1M285.5 349.2h.1M287.7 339.0h.1M277.2 355.2h.1M276.5 350.0h.1M270.0 350.0h.1M275.0 339.0h.1M274.6 339.5h.1M267.1 360.6h.1M274.6 358.1h.1M271.5 347.3h.1M275.6 351.2h.1M261.3 342.9h.1M276.0 345.7h.1M273.7 352.1h.1M278.2 337.1h.1M276.3 351.7h.1M264.2 356.6h.1M264.5 349.2h.1M269.1 352.9h.1M271.2 355.2h.1M274.0 350.8h.1M274.7 349.2h.1M270.7 325.7h.1M276.0 338.7h.1M279.8 349.7h.1M265.9 351.4h.1M274.6 349.9h.1M278.1 351.4h.1M277.1 345.7h.1M272.5 348.1h.1M276.0 345.2h.1M272.9 342.2h.1M263.9 348.2h.1M273.3 340.2h.1M267.5 351.0h.1M271.7 355.2h.1M272.8 351.5h.1M278.2 358.0h.1M267.1 355.6h.1M263.3 345.4h.1M273.4 347.1h.1M274.9 352.1h.1M272.5 349.9h.1M276.0 343.8h.1M273.5 348.3h.1M270.1 346.5h.1M280.5 348.8h.1M254.8 354.4h.1M284.2 350.3h.1M276.0 346.6h.1M268.7 349.5h.1M275.6 350.0h.1M275.4 349.7h.1M271.4 341.6h.1M275.0 347.3h.1M276.4 348.1h.1M267.8 349.4h.1M280.9 341.0h.1M266.6 352.1h.1M268.7 346.9h.1M264.6 347.9h.1M275.7 342.8h.1M264.0 346.6h.1M279.7 345.3h.1M262.6 347.7h.1M277.6 354.3h.1M270.9 349.9h.1M264.4 357.1h.1M272.4 356.1h.1M281.8 348.9h.1M280.7 336.2h.1M267.5 348.4h.1M277.5 343.8h.1M275.1 338.3h.1M271.1 348.4h.1M278.7 357.1h.1M280.3 354.0h.1M281.8 341.0h.1M267.2 347.8h.1M291.1 332.0h.1M273.6 355.8h.1M279.1 362.5h.1M280.3 351.4h.1M279.3 338.6h.1M282.3 355.9h.1M268.2 354.3h.1M264.8 341.9h.1M269.4 356.1h.1M262.4 349.8h.1M281.7 354.3h.1M262.4 341.7h.1M266.6 348.4h.1M269.5 355.2h.1M279.5 341.1h.1M282.8 334.8h.1M276.9 341.0h.1M274.3 349.0h.1M287.7 336.2h.1M287.8 327.5h.1M282.8 342.8h.1M281.4 352.2h.1M242.7 341.7h.1M277.9 350.0h.1M279.3 339.0h.1M290.3 351.6h.1M276.8 354.5h.1M263.2 349.4h.1M276.0 344.4h.1M283.5 343.7h.1M278.1 338.8h.1M260.8 347.4h.1M271.9 343.2h.1M266.7 327.2h.1M269.2 349.7h.1M272.4 352.1h.1M263.9 345.2h.1M290.3 346.5h.1M266.5 347.7h.1M272.0 353.1h.1M266.0 351.0h.1M283.5 348.3h.1M266.9 361.2h.1M266.9 350.6h.1M277.0 348.6h.1M262.1 350.0h.1M280.3 347.2h.1M265.4 352.7h.1M271.1 348.3h.1M274.0 348.5h.1M272.2 357.2h.1M278.2 349.7h.1M267.6 342.4h.1M290.6 345.3h.1M271.0 344.6h.1M277.5 353.5h.1M266.9 337.4h.1M264.3 348.6h.1M267.7 354.9h.1M271.3 354.5h.1M256.6 344.0h.1M275.9 354.0h.1M277.2 346.1h.1M275.4 357.8h.1M280.6 356.7h.1M279.2 340.4h.1M269.6 351.5h.1M275.8 336.7h.1M271.9 355.5h.1M271.3 336.0h.1M265.3 350.4h.1M278.7 347.2h.1M270.1 340.8h.1M282.0 354.3h.1M274.9 347.9h.1M280.6 338.0h.1M277.9 334.3h.1M277.2 350.2h.1M269.4 341.6h.1M264.9 355.1h.1M283.9 322.2h.1M281.2 347.3h.1M278.6 360.7h.1M270.5 333.8h.1M276.3 347.9h.1M257.3 343.3h.1M277.2 340.3h.1M280.9 346.5h.1M275.7 358.3h.1M278.1 349.4h.1M266.3 348.2h.1M282.9 345.1h.1M273.2 354.1h.1M260.3 354.2h.1M253.3 360.3h.1M273.4 346.2h.1M286.7 354.3h.1M278.5 337.6h.1M259.4 347.4h.1M313.7 349.1h.1M271.9 347.7h.1M273.9 348.5h.1M276.8 349.0h.1M274.9 344.2h.1M273.5 352.5h.1M272.1 360.2h.1M275.5 356.0h.1M280.3 351.4h.1M275.9 345.1h.1M271.0 344.0h.1M271.0 348.3h.1M278.2 347.3h.1M276.1 350.9h.1M282.2 339.4h.1M270.7 352.7h.1M271.7 354.3h.1M273.7 351.6h.1M273.9 348.4h.1M279.6 343.1h.1M279.0 348.3h.1M283.2 357.7h.1M281.5 343.4h.1M272.9 344.8h.1M265.8 342.4h.1M274.5 342.3h.1M281.4 352.4h.1M265.8 342.1h.1M265.3 351.8h.1M287.6 347.5h.1M272.9 350.2h.1M276.1 356.8h.1M275.9 347.4h.1M270.9 352.8h.1M278.1 343.8h.1M280.9 353.3h.1M278.8 352.1h.1M271.6 348.1h.1M274.4 337.7h.1M267.4 353.9h.1M274.7 360.3h.1M266.5 348.9h.1M273.6 340.8h.1M272.3 349.7h.1M282.1 353.9h.1M272.0 352.0h.1M276.2 359.5h.1M268.4 347.5h.1M267.7 345.3h.1M297.1 348.9h.1M277.5 359.0h.1M277.8 331.7h.1M277.6 355.9h.1M275.7 350.2h.1M279.7 346.5h.1M285.7 355.3h.1M249.4 357.3h.1M273.5 351.3h.1M273.6 341.7h.1M265.3 348.3h.1M266.1 346.1h.1M271.5 351.1h.1M276.5 345.4h.1M270.9 350.9h.1M285.5 350.8h.1M272.6 354.9h.1M267.4 345.9h.1M270.0 342.1h.1M272.6 348.2h.1M272.4 349.5h.1M275.8 346.5h.1M274.9 355.1h.1M273.5 354.5h.1M281.6 346.8h.1M274.1 345.7h.1M279.0 326.7h.1M274.1 339.6h.1M252.1 335.9h.1M264.9 355.2h.1M285.9 344.5h.1M279.9 334.1h.1M273.4 353.0h.1M269.5 349.7h.1M276.0 345.7h.1M272.0 348.5h.1M278.3 358.6h.1M266.4 349.0h.1M283.7 338.4h.1M263.0 345.2h.1M302.1 343.2h.1M257.5 332.9h.1M271.2 349.8h.1M285.2 348.3h.1M272.4 352.1h.1M272.4 354.7h.1M266.5 352.7h.1M266.2 348.9h.1M288.2 340.8h.1M271.8 354.4h.1M282.0 355.6h.1M268.4 343.4h.1M275.5 342.1h.1M286.0 348.4h.1M297.5 347.0h.1M281.7 346.8h.1M264.6 347.1h.1M272.7 357.7h.1M243.8 352.3h.1M281.3 345.1h.1M267.7 340.7h.1M288.9 359.0h.1M273.4 350.4h.1M281.5 354.2h.1M276.6 344.5h.1M278.3 351.6h.1M260.8 348.6h.1M276.5 352.3h.1M278.8 341.9h.1M265.2 354.6h.1M279.5 351.9h.1M269.4 349.8h.1M266.8 357.6h.1M277.4 350.3h.1M259.4 353.6h.1M273.5 354.0h.1M276.8 345.6h.1M267.9 352.9h.1M257.3 350.3h.1M286.0 350.2h.1M275.0 348.4h.1M273.9 356.7h.1M274.0 339.2h.1M281.4 353.6h.1M280.6 346.5h.1M268.3 348.1h.1M277.0 343.4h.1M283.9 354.3h.1M278.6 344.1h.1M281.5 350.6h.1M272.8 345.1h.1M266.7 359.2h.1M273.0 350.3h.1M291.0 341.3h.1M277.4 351.3h.1M280.6 349.8h.1M268.1 357.6h.1M280.3 348.8h.1M275.2 340.4h.1M257.4 361.9h.1M272.4 340.9h.1M268.4 345.0h.1M264.8 349.9h.1M265.6 359.6h.1M279.5 355.9h.1M275.9 347.7h.1M274.1 343.3h.1M258.1 349.7h.1M263.4 358.5h.1M283.7 353.5h.1M278.1 339.3h.1M275.7 352.8h.1M293.3 329.6h.1M272.7 344.0h.1M284.7 345.0h.1M282.3 357.1h.1M296.3 340.7h.1M273.3 349.0h.1M276.8 353.8h.1M267.8 339.2h.1M270.1 357.2h.1M274.0 358.8h.1M264.4 336.6h.1M272.3 357.5h.1M278.2 348.6h.1M275.3 337.4h.1M282.1 346.5h.1M269.4 347.7h.1M265.1 341.7h.1M287.2 337.5h.1M291.5 335.0h.1M290.9 344.0h.1M276.6 355.8h.1M267.0 351.7h.1M266.1 352.3h.1M272.6 344.4h.1M262.3 349.8h.1M273.9 345.1h.1M277.0 346.0h.1M271.4 348.1h.1M270.8 348.1h.1M266.4 349.3h.1M274.2 345.8h.1M274.1 339.1h.1M274.1 345.8h.1M283.0 348.3h.1M284.9 344.1h.1M265.6 351.9h.1M280.9 341.9h.1M281.5 351.0h.1M264.1 347.2h.1M280.3 348.9h.1M269.2 350.8h.1M275.7 354.8h.1M285.9 342.2h.1M281.8 345.5h.1M271.6 351.2h.1M272.0 346.6h.1M281.6 340.9h.1M274.5 349.2h.1M278.3 348.5h.1M263.8 351.9h.1M273.9 346.4h.1M275.7 344.2h.1M278.9 340.5h.1M283.2 345.6h.1M282.1 350.3h.1M268.4 350.7h.1M270.2 352.1h.1M278.7 343.4h.1M288.6 338.3h.1M278.3 352.3h.1M282.0 342.9h.1M266.3 340.7h.1M281.1 358.5h.1M266.3 351.0h.1M266.6 352.4h.1M272.2 354.0h.1M282.8 358.0h.1M275.1 348.5h.1M285.0 347.0h.1M273.5 342.7h.1M276.0 349.8h.1M258.6 356.2h.1M255.6 344.2h.1M276.9 344.2h.1M275.3 352.5h.1M269.5 351.3h.1M280.2 349.9h.1M277.7 340.0h.1M273.2 348.0h.1M262.4 333.7h.1M269.2 351.1h.1M274.8 343.0h.1M276.3 353.9h.1M258.2 353.7h.1M283.5 344.3h.1M280.7 355.4h.1M273.5 350.9h.1M287.8 348.4h.1M268.2 343.0h.1M290.9 326.5h.1M282.0 353.7h.1M288.1 338.7h.1M273.5 360.9h.1M262.0 352.0h.1M277.9 352.9h.1M271.2 352.8h.1M269.2 344.1h.1M267.4 358.8h.1M262.0 345.5h.1M261.6 352.8h.1M282.0 350.9h.1M285.1 344.3h.1M276.8 356.3h.1M268.4 351.8h.1M272.4 349.7h.1M274.4 350.0h.1M276.4 353.4h.1M285.2 348.4h.1M253.3 342.7h.1M281.0 349.1h.1M271.7 344.2h.1M284.7 360.2h.1M278.6 352.7h.1M278.3 356.2h.1M291.3 349.7h.1M288.2 337.5h.1M274.4 348.3h.1M277.2 341.1h.1M274.0 350.9h.1M266.5 341.7h.1M268.8 348.8h.1M285.4 349.2h.1M281.6 357.9h.1M269.5 340.6h.1M274.4 343.9h.1M257.0 348.2h.1M281.2 359.2h.1M285.6 352.2h.1M276.2 351.2h.1M271.0 340.3h.1M269.2 353.5h.1M270.2 361.5h.1M271.3 341.9h.1M266.5 343.3h.1M275.6 344.5h.1M262.4 351.1h.1M282.1 349.0h.1M282.9 360.0h.1M262.8 346.5h.1M277.9 353.8h.1M285.5 350.2h.1M262.2 350.4h.1M270.1 346.9h.1M274.3 344.1h.1M282.5 347.6h.1M265.0 343.0h.1M285.1 345.2h.1M280.2 349.3h.1M280.9 352.0h.1M276.7 354.9h.1M291.6 335.7h.1M275.2 354.7h.1M275.5 352.6h.1M290.2 349.7h.1M272.7 348.2h.1M274.3 341.0h.1M266.5 350.2h.1M278.4 352.1h.1M280.3 347.5h.1M289.1 350.2h.1M279.7 350.4h.1M269.8 346.1h.1M266.7 329.8h.1M284.6 353.7h.1M288.3 338.7h.1M279.8 344.3h.1M282.5 345.7h.1M287.9 344.6h.1M261.0 351.5h.1M250.6 346.4h.1M271.5 351.0h.1M265.4 344.9h.1M287.4 343.0h.1M281.2 342.9h.1M280.6 352.8h.1M264.2 350.3h.1M286.0 345.5h.1M275.0 339.5h.1M264.3 343.9h.1M294.1 355.6h.1M275.0 341.9h.1M270.9 354.4h.1M273.7 356.2h.1M281.8 345.7h.1M276.8 352.5h.1M278.2 352.2h.1M301.4 340.4h.1M264.1 324.3h.1M270.7 350.5h.1M290.4 346.1h.1M255.4 354.1h.1M269.7 329.7h.1M248.9 341.9h.1M277.7 343.9h.1M280.1 340.6h.1M268.9 349.5h.1M264.3 336.1h.1M297.6 351.7h.1M277.0 351.2h.1M273.1 361.0h.1M279.7 359.6h.1M284.0 341.4h.1M275.4 345.9h.1M282.0 333.9h.1M271.2 356.1h.1M254.1 349.5h.1M269.3 346.7h.1M280.4 344.0h.1M272.5 353.3h.1M278.5 353.6h.1M269.2 352.0h.1M278.8 345.9h.1M286.5 345.5h.1M266.8 337.7h.1M272.3 346.8h.1M264.5 350.9h.1M273.3 338.9h.1M271.1 348.4h.1M262.7 344.2h.1M277.5 341.5h.1M289.0 353.6h.1M275.9 341.1h.1M289.2 348.1h.1M276.8 357.6h.1M277.9 345.6h.1M263.6 359.3h.1M272.5 347.6h.1M268.6 354.3h.1M241.5 349.8h.1M273.6 343.6h.1M270.9 353.1h.1M261.9 349.4h.1M255.9 358.8h.1M287.1 350.9h.1M264.2 339.8h.1M291.7 347.2h.1M269.6 348.4h.1M270.3 346.6h.1M263.7 349.1h.1M284.4 331.7h.1M266.8 358.1h.1M277.6 360.9h.1M287.1 346.6h.1M271.1 348.5h.1M265.5 338.9h.1M270.0 354.1h.1M273.9 352.0h.1M279.6 350.3h.1M281.6 343.7h.1M269.7 355.8h.1M281.4 340.2h.1M267.7 348.3h.1M274.6 351.6h.1M283.4 346.2h.1M253.6 349.8h.1M264.3 347.6h.1M292.0 343.7h.1M279.0 354.5h.1M287.8 353.2h.1M268.6 347.6h.1M294.2 359.9h.1M254.4 358.8h.1M275.6 355.0h.1M273.3 350.7h.1M280.6 344.7h.1M263.3 350.9h.1M262.1 359.6h.1M275.9 352.3h.1M271.6 350.5h.1M280.8 344.4h.1M269.0 348.8h.1M272.0 353.6h.1M251.5 359.7h.1M272.6 351.8h.1M282.9 359.8h.1M273.4 342.5h.1M281.9 346.9h.1M266.2 347.1h.1M282.2 350.3h.1M267.9 354.6h.1M272.5 339.6h.1M280.6 346.2h.1M281.1 349.1h.1M276.2 338.4h.1M272.5 347.7h.1M276.4 346.6h.1M264.7 349.0h.1M260.1 354.9h.1M282.4 348.1h.1M272.9 360.1h.1M271.5 348.0h.1M283.8 347.7h.1M287.7 349.5h.1M281.2 358.0h.1M269.4 350.1h.1M262.3 362.3h.1M259.9 357.9h.1M274.0 352.5h.1M258.9 352.4h.1M267.8 355.7h.1M279.3 341.1h.1M273.3 358.3h.1M269.5 341.8h.1M271.4 348.2h.1M275.0 359.0h.1M270.2 341.5h.1M286.4 328.6h.1M274.5 342.2h.1M278.0 350.6h.1M285.8 354.9h.1M265.7 357.6h.1M273.3 346.7h.1M280.7 349.7h.1M265.3 361.2h.1M265.9 349.6h.1M255.6 358.2h.1M276.8 347.2h.1M276.0 349.0h.1M270.0 349.7h.1M278.8 359.2h.1M266.4 352.2h.1M271.6 348.9h.1M255.9 340.7h.1M278.1 350.8h.1M276.5 351.8h.1M278.8 342.7h.1M244.0 349.0h.1M288.0 359.6h.1M281.4 337.4h.1M279.0 351.0h.1M285.3 352.6h.1M266.9 354.9h.1M278.7 346.9h.1M277.5 361.5h.1M271.8 343.3h.1M270.2 346.7h.1M274.1 343.4h.1M280.9 344.9h.1M280.8 349.1h.1M273.2 351.3h.1M273.5 360.7h.1M264.2 358.5h.1M286.3 352.4h.1M270.8 351.6h.1M275.3 352.4h.1M287.8 344.2h.1M284.9 346.0h.1M269.0 348.2h.1M283.9 337.6h.1M285.9 341.5h.1M275.0 339.8h.1M274.6 350.5h.1M273.3 355.1h.1M269.4 351.4h.1M272.4 356.4h.1M285.4 342.3h.1M271.4 356.1h.1M278.0 342.6h.1M290.3 352.5h.1M265.0 354.3h.1M274.1 347.9h.1M287.1 350.4h.1M278.9 340.8h.1M270.5 357.6h.1M271.0 350.1h.1M269.6 353.7h.1M281.6 343.0h.1M264.8 347.5h.1M282.7 350.6h.1M277.7 346.0h.1M274.2 356.4h.1M284.9 354.5h.1M273.4 339.9h.1M272.9 343.2h.1M268.0 345.0h.1M264.5 356.7h.1M268.5 351.4h.1M274.1 347.5h.1M281.4 351.8h.1M276.8 340.6h.1M275.6 348.8h.1M267.4 343.3h.1M271.1 343.6h.1M271.4 353.9h.1M273.3 345.7h.1M285.8 344.6h.1M275.1 352.9h.1M279.1 348.4h.1M271.7 356.9h.1M279.2 346.4h.1M279.5 341.3h.1M284.9 341.3h.1M276.5 342.9h.1M268.6 345.1h.1M290.6 336.1h.1M267.1 347.0h.1M274.1 349.4h.1M275.3 352.0h.1M272.4 347.2h.1M277.4 344.2h.1M272.4 348.8h.1M276.9 335.4h.1M268.2 337.4h.1M242.1 354.7h.1M265.9 346.1h.1M267.9 352.7h.1M262.9 345.4h.1M281.6 351.7h.1M282.1 348.1h.1M276.6 345.4h.1M290.2 354.9h.1M266.4 344.3h.1M276.2 345.0h.1M268.8 350.7h.1M272.9 334.1h.1M268.7 353.2h.1M286.0 354.7h.1M268.9 344.8h.1M265.6 349.5h.1M272.0 352.4h.1M270.8 352.1h.1M272.3 345.3h.1M284.1 352.7h.1M267.9 341.9h.1M272.8 343.9h.1M280.7 345.7h.1M275.3 355.5h.1M256.3 333.7h.1M272.4 355.1h.1M269.0 348.2h.1M271.6 347.2h.1M283.3 353.1h.1M272.2 358.9h.1M268.2 349.8h.1M275.4 344.0h.1M278.7 356.2h.1M278.8 347.2h.1M269.9 351.5h.1M272.2 352.1h.1M271.7 349.8h.1M264.1 354.4h.1M277.0 351.4h.1M264.7 346.6h.1M282.5 351.1h.1M282.3 342.5h.1M274.5 351.9h.1M259.1 354.2h.1M272.0 356.5h.1M264.0 354.0h.1M280.6 343.7h.1M280.6 347.8h.1M301.6 344.1h.1M252.8 354.8h.1M270.0 359.2h.1M276.5 340.5h.1M284.2 355.4h.1M273.9 349.5h.1M266.5 343.8h.1M276.2 349.5h.1M278.9 349.6h.1M266.7 354.4h.1M267.0 348.2h.1M288.0 342.3h.1M274.3 351.0h.1M279.6 346.0h.1M277.4 342.6h.1M272.2 342.7h.1M253.9 343.2h.1M259.2 350.1h.1M271.2 342.8h.1M283.9 352.5h.1M287.4 338.5h.1M273.1 352.6h.1M272.9 344.9h.1M259.4 352.3h.1M272.5 349.2h.1M280.0 347.9h.1M280.3 348.2h.1M279.1 345.0h.1M273.2 351.4h.1M275.2 342.4h.1M273.2 342.1h.1M275.9 351.9h.1M277.0 345.7h.1M284.4 334.5h.1M283.1 355.6h.1M283.5 349.8h.1M279.2 341.4h.1M264.1 357.9h.1M271.0 349.5h.1M271.0 343.0h.1M283.8 350.9h.1M274.8 341.6h.1M262.3 334.6h.1M283.0 346.3h.1M264.2 355.5h.1M265.2 346.4h.1M283.1 348.3h.1M271.3 359.1h.1M279.0 340.5h.1M266.4 347.7h.1M274.0 349.6h.1M277.7 350.9h.1M275.4 351.1h.1M266.7 349.1h.1M268.6 339.8h.1M274.8 350.2h.1M252.0 345.9h.1M282.4 350.9h.1M274.8 353.0h.1M279.4 343.2h.1M270.9 351.9h.1M280.2 341.0h.1M265.3 358.8h.1M269.7 337.7h.1M275.6 344.4h.1M279.4 353.6h.1M270.0 353.6h.1M279.4 354.8h.1M275.0 354.5h.1M267.6 343.1h.1M278.2 336.9h.1M275.7 344.5h.1M294.3 344.5h.1M271.8 351.5h.1M293.3 342.4h.1M271.5 352.3h.1M283.7 348.8h.1M266.2 340.6h.1M274.7 354.0h.1M290.4 342.3h.1M269.8 355.5h.1M306.4 361.2h.1M275.7 349.1h.1M273.9 344.9h.1M275.0 343.4h.1M276.3 344.2h.1M281.8 351.4h.1M278.7 353.1h.1M307.4 354.4h.1M278.6 339.8h.1M260.6 339.5h.1M277.2 343.2h.1M278.1 348.7h.1M274.0 342.7h.1M294.8 352.7h.1M276.8 326.8h.1M272.4 337.6h.1M268.7 353.3h.1M286.3 355.7h.1M277.6 348.4h.1M268.9 345.8h.1M274.1 350.1h.1M262.8 346.7h.1M283.3 353.9h.1M280.1 343.4h.1M262.9 340.2h.1M277.7 354.8h.1M274.7 356.4h.1M274.5 349.1h.1M284.7 337.1h.1M256.1 350.7h.1M292.5 344.2h.1M278.8 347.1h.1M268.7 346.9h.1M260.5 342.9h.1M266.9 352.4h.1M276.0 349.0h.1M289.3 336.5h.1M271.3 346.8h.1M263.9 347.5h.1M282.7 345.7h.1M292.2 357.5h.1M284.1 348.5h.1M282.8 343.8h.1M269.7 346.1h.1M291.1 358.5h.1M277.2 352.1h.1M306.9 340.4h.1M281.6 343.9h.1M285.1 350.8h.1M276.1 355.1h.1M287.0 345.3h.1M282.6 348.5h.1M288.8 345.7h.1M280.6 352.7h.1M268.7 347.8h.1M272.6 352.5h.1M278.7 354.7h.1M276.7 350.7h.1M264.7 346.1h.1M276.3 348.0h.1M277.8 362.1h.1M286.3 357.3h.1M258.3 356.4h.1M270.1 352.4h.1M290.2 350.5h.1M270.6 347.8h.1M264.8 351.6h.1M272.3 355.1h.1M272.7 346.8h.1M259.3 357.4h.1M280.8 340.8h.1M266.1 348.5h.1M263.9 342.4h.1M267.8 344.5h.1M276.7 346.6h.1M299.3 358.1h.1M270.9 341.5h.1M275.0 344.7h.1M265.1 344.3h.1M268.3 354.6h.1M267.4 347.5h.1M273.2 350.4h.1M273.2 350.6h.1M282.2 346.9h.1M282.5 351.4h.1M282.7 350.7h.1M271.4 347.6h.1M274.0 348.6h.1M263.5 355.5h.1M276.7 351.1h.1M276.5 362.0h.1M272.0 353.5h.1M270.3 352.4h.1M285.5 337.3h.1M275.2 339.2h.1M255.8 322.9h.1M282.7 348.9h.1M266.6 361.5h.1M265.7 340.9h.1M258.0 359.3h.1M270.5 348.8h.1M269.8 348.1h.1M248.2 349.6h.1M262.1 343.2h.1M269.9 348.8h.1M275.7 337.3h.1M261.2 346.8h.1M272.0 357.8h.1M259.1 344.5h.1M268.7 352.3h.1M263.5 343.9h.1M270.9 340.7h.1M277.8 353.8h.1M275.4 348.1h.1M278.7 357.4h.1M268.5 347.8h.1M269.3 350.6h.1M285.2 342.3h.1M270.9 337.3h.1M265.4 342.8h.1M269.4 347.0h.1M279.2 351.0h.1M281.9 335.4h.1M256.9 336.3h.1M278.7 351.9h.1M271.1 347.8h.1M267.8 337.4h.1M259.5 347.5h.1M266.6 337.8h.1M272.3 351.7h.1M271.7 344.7h.1M260.0 351.3h.1M281.9 356.4h.1M266.5 346.1h.1M278.9 334.8h.1M273.2 357.7h.1M275.1 346.0h.1M272.8 349.0h.1M278.5 354.1h.1M300.6 361.4h.1M270.4 352.1h.1M253.1 356.1h.1M269.5 345.7h.1M270.1 350.8h.1M274.4 357.2h.1M269.5 341.5h.1M274.4 343.5h.1M287.7 358.2h.1M269.4 358.0h.1M292.1 350.1h.1M274.6 348.4h.1M249.3 350.1h.1M275.1 354.5h.1M272.2 351.6h.1M278.2 349.2h.1M279.5 342.2h.1M279.8 350.8h.1M296.7 335.8h.1M271.2 345.6h.1M265.2 347.4h.1M274.9 353.0h.1M271.8 353.5h.1M268.2 346.9h.1M265.5 345.6h.1M269.7 345.2h.1M267.2 342.5h.1M272.2 335.5h.1M273.2 355.6h.1M271.8 352.0h.1M285.4 347.1h.1M286.3 352.8h.1M277.3 345.8h.1M270.8 342.3h.1M272.8 337.6h.1M268.2 352.3h.1M285.4 350.4h.1M284.0 354.7h.1M278.1 346.2h.1M281.7 342.0h.1M276.9 336.5h.1M285.9 342.0h.1M278.4 359.3h.1M271.8 347.2h.1M282.0 345.7h.1M268.9 359.4h.1M279.3 350.9h.1M278.5 354.0h.1M271.4 345.2h.1M270.0 349.5h.1M263.6 355.1h.1M268.7 348.0h.1M280.2 353.8h.1M266.5 343.5h.1M290.5 346.5h.1M280.4 356.9h.1M270.5 345.3h.1M284.6 357.4h.1M282.0 354.8h.1M272.8 352.6h.1M273.4 348.3h.1M287.7 326.2h.1M278.2 352.0h.1M283.0 345.9h.1M275.6 340.2h.1M279.5 357.4h.1M268.0 344.9h.1M270.1 355.9h.1M275.7 346.8h.1M277.4 346.4h.1M275.2 351.3h.1M280.1 345.6h.1M265.2 362.1h.1M271.2 350.6h.1M271.0 358.5h.1M259.7 355.9h.1M276.1 343.3h.1M277.6 343.0h.1M277.4 352.4h.1M265.1 352.9h.1M266.9 344.9h.1M272.5 347.8h.1M270.6 346.9h.1M262.2 357.7h.1M256.5 354.8h.1M269.0 349.6h.1M270.4 361.7h.1M288.3 362.2h.1M259.0 328.3h.1M284.8 344.1h.1M263.4 350.8h.1M275.7 350.9h.1M288.0 353.2h.1M281.4 348.7h.1M284.4 351.9h.1M277.9 351.1h.1M285.2 340.3h.1M272.0 343.5h.1M275.3 350.8h.1M272.5 355.3h.1M266.7 346.5h.1M280.6 351.3h.1M272.8 333.3h.1M280.0 356.6h.1M267.9 350.0h.1M279.9 350.2h.1M261.5 348.8h.1M279.2 347.9h.1M272.0 351.1h.1M267.4 348.8h.1M276.2 340.5h.1M257.4 345.3h.1M279.9 346.7h.1M251.6 348.1h.1M269.8 361.6h.1M277.8 353.2h.1M270.6 353.3h.1M264.8 350.0h.1M266.8 348.0h.1M265.5 349.8h.1M277.6 350.9h.1M275.6 349.7h.1M275.0 347.9h.1M275.9 353.7h.1M285.9 353.4h.1M276.2 353.3h.1M269.1 340.4h.1M272.4 351.2h.1M268.0 340.8h.1M268.6 345.6h.1M271.1 349.6h.1M275.2 341.9h.1M287.9 336.7h.1M286.9 362.1h.1M270.9 348.0h.1M283.5 344.2h.1M275.2 345.2h.1M280.6 341.9h.1M267.6 350.3h.1M269.5 353.4h.1M276.7 351.4h.1M267.0 346.1h.1M268.5 347.9h.1M271.8 353.9h.1M270.2 353.6h.1M274.6 347.1h.1M274.7 354.6h.1M293.6 342.1h.1M255.9 348.7h.1M273.4 344.8h.1M275.2 355.0h.1M280.5 344.4h.1M273.6 360.5h.1M271.6 353.8h.1M278.0 352.6h.1M264.7 344.8h.1M277.5 360.5h.1M278.4 354.7h.1M283.9 341.5h.1M267.1 350.5h.1M286.0 356.1h.1M271.4 344.9h.1M294.1 341.7h.1M277.4 347.1h.1M271.1 341.2h.1M269.3 348.1h.1M267.1 341.8h.1M274.9 343.7h.1M270.1 341.5h.1M281.2 354.9h.1M274.5 334.9h.1M263.5 350.2h.1M281.3 356.6h.1M279.1 348.8h.1M264.3 338.8h.1M281.8 351.3h.1M270.9 346.0h.1M271.8 346.3h.1M270.4 342.5h.1M267.6 339.0h.1M280.3 337.3h.1M256.2 336.3h.1M271.1 338.9h.1M278.1 344.9h.1M266.1 359.8h.1M276.4 350.3h.1M265.2 351.9h.1M280.8 347.0h.1M276.2 350.1h.1M283.0 343.8h.1M265.6 345.4h.1M259.2 350.5h.1M273.6 346.8h.1M275.5 350.6h.1M257.5 355.0h.1M268.7 350.4h.1M275.6 353.9h.1M254.6 352.6h.1M276.6 348.7h.1M282.6 335.8h.1M291.6 353.3h.1M289.1 354.2h.1M268.1 340.3h.1M282.5 345.2h.1M279.4 340.9h.1M293.5 348.0h.1M272.1 350.3h.1M268.5 352.3h.1M276.6 359.1h.1M270.3 352.4h.1M292.9 339.3h.1M272.1 345.0h.1M280.5 348.9h.1M282.9 354.1h.1M269.3 357.1h.1M267.4 338.8h.1M271.7 349.4h.1M274.3 346.3h.1M285.9 353.0h.1M274.5 356.9h.1M283.6 341.9h.1M270.6 351.8h.1M267.7 357.6h.1M286.9 341.4h.1M286.3 350.8h.1M288.6 360.7h.1M271.9 352.7h.1M261.5 336.9h.1M279.4 347.4h.1M271.7 358.2h.1M266.1 357.4h.1M263.0 355.2h.1M277.2 355.7h.1M269.2 340.1h.1M279.4 356.2h.1M279.2 351.3h.1M270.8 348.7h.1M258.8 359.5h.1M280.5 340.6h.1M272.8 346.9h.1M303.6 344.3h.1M275.6 353.2h.1M274.2 351.2h.1M278.7 345.4h.1M285.9 339.2h.1M273.9 362.4h.1M294.9 349.2h.1M262.0 347.8h.1M289.2 360.0h.1M262.6 349.2h.1M266.8 362.2h.1M285.9 360.2h.1M257.0 349.4h.1M256.0 348.7h.1M262.3 351.7h.1M257.2 346.0h.1M265.3 336.0h.1M275.1 352.5h.1M268.1 340.8h.1M275.4 350.9h.1M276.2 349.1h.1M281.2 335.1h.1M272.3 350.8h.1M278.4 357.5h.1M270.5 340.3h.1M282.8 347.6h.1M276.1 345.1h.1M274.5 346.1h.1M280.8 341.3h.1M260.3 342.1h.1M282.1 344.6h.1M272.1 352.9h.1M282.8 346.2h.1M274.2 346.9h.1M274.9 346.7h.1M271.8 348.9h.1M253.4 358.9h.1M284.7 350.5h.1M271.0 356.6h.1M267.2 349.5h.1M261.6 346.3h.1M235.6 360.2h.1M283.3 353.2h.1M285.9 351.6h.1M271.2 336.4h.1M280.7 343.9h.1M276.0 353.3h.1M282.2 341.5h.1M276.6 348.6h.1M265.2 353.2h.1M273.5 347.5h.1M263.2 352.0h.1M273.4 347.9h.1M273.3 350.7h.1M252.1 340.3h.1M272.7 348.4h.1M266.8 361.8h.1M264.1 353.8h.1M284.1 328.4h.1M269.9 354.0h.1M268.2 340.2h.1M274.1 357.8h.1M277.5 344.9h.1M278.5 344.7h.1M284.9 350.7h.1M269.9 353.6h.1M263.3 351.1h.1M269.6 355.7h.1M269.0 347.2h.1M281.6 346.4h.1M270.9 349.3h.1M283.8 346.1h.1M276.9 345.9h.1M272.8 355.1h.1M281.4 348.5h.1M266.4 335.7h.1M276.2 351.0h.1M273.0 349.7h.1M275.5 340.8h.1M261.8 350.0h.1M285.2 346.5h.1M265.0 345.7h.1M280.5 345.0h.1M267.2 355.2h.1M277.0 358.3h.1M286.6 352.6h.1M271.4 337.0h.1M284.9 352.5h.1M290.7 354.9h.1M263.7 350.4h.1M265.3 354.0h.1M272.1 343.6h.1M280.0 343.2h.1M262.9 351.9h.1M275.2 350.1h.1M266.2 353.9h.1M261.7 325.2h.1M281.7 342.8h.1M268.7 346.1h.1M306.0 352.5h.1M269.4 341.2h.1M276.2 338.9h.1M282.5 335.0h.1M259.2 341.5h.1M268.9 347.2h.1M279.2 347.1h.1M279.8 343.8h.1M281.5 344.1h.1M272.2 350.8h.1M287.9 353.8h.1M271.4 353.4h.1M276.8 347.9h.1M266.2 347.2h.1M255.2 345.1h.1M269.0 352.8h.1M287.7 357.4h.1M284.3 355.5h.1M263.7 353.5h.1M269.3 340.5h.1M276.1 351.1h.1M264.5 342.9h.1M236.8 339.2h.1M283.9 335.6h.1M276.7 354.4h.1M271.5 347.5h.1M277.1 350.2h.1M276.5 342.1h.1M257.7 340.3h.1M287.8 360.3h.1M278.3 345.3h.1M280.9 345.9h.1M284.1 351.5h.1M273.1 346.8h.1M273.7 351.8h.1M276.2 359.0h.1M265.2 343.3h.1M277.4 347.2h.1M279.6 347.4h.1M272.6 353.1h.1M283.1 340.9h.1M266.9 347.8h.1M280.8 346.8h.1M268.5 346.2h.1M284.0 346.2h.1M278.3 347.3h.1M277.7 348.4h.1M272.9 353.3h.1M272.1 340.2h.1M271.8 340.3h.1M280.6 350.0h.1M270.3 357.2h.1M276.1 355.2h.1M269.4 335.1h.1M278.4 354.9h.1M280.6 352.8h.1M270.8 343.2h.1M281.7 345.2h.1M276.6 341.4h.1M272.3 354.8h.1M281.8 354.2h.1M279.3 337.4h.1M267.9 346.0h.1M274.1 348.9h.1M268.0 349.5h.1M278.3 353.0h.1M292.5 346.2h.1M310.8 348.2h.1M276.0 345.8h.1M265.1 333.1h.1M280.0 337.8h.1M272.2 345.3h.1M272.1 342.1h.1M275.1 349.5h.1M283.8 334.2h.1M279.9 348.3h.1M253.8 357.9h.1M272.7 347.3h.1M276.3 347.8h.1M283.8 346.5h.1M271.0 340.0h.1M278.8 351.7h.1M275.7 353.5h.1M268.8 355.1h.1M251.0 344.8h.1M285.1 342.4h.1M281.6 349.3h.1M278.5 349.0h.1M255.4 349.7h.1M290.0 358.2h.1M241.7 357.2h.1M271.2 350.1h.1M287.8 351.2h.1M273.4 343.7h.1M273.0 349.6h.1M283.8 345.7h.1M258.7 343.8h.1M280.3 349.5h.1M259.8 346.0h.1M263.7 361.7h.1M281.9 351.6h.1M266.5 353.0h.1M268.9 325.1h.1M281.4 353.3h.1" stroke="#000" stroke-width="0.9" stroke-linecap="round" stroke-opacity="0.6" fill="none"/>
<path d="M243.9 311.3h.1M235.6 317.8h.1M234.8 317.0h.1M241.0 324.9h.1M242.4 300.8h.1M238.8 316.0h.1M239.2 325.6h.1M236.3 302.2h.1M241.0 316.2h.1M233.8 310.6h.1M235.0 308.2h.1M236.9 302.3h.1M239.8 309.2h.1M247.8 308.6h.1M234.9 294.9h.1M252.0 303.8h.1M229.9 303.4h.1M234.0 305.0h.1M247.5 301.6h.1M232.1 301.9h.1M238.8 291.2h.1M241.9 302.6h.1M222.6 319.1h.1M223.4 312.2h.1M234.1 299.9h.1M240.0 305.2h.1M229.4 314.5h.1M234.3 306.5h.1M227.0 293.5h.1M230.2 308.4h.1M230.6 308.6h.1M231.9 303.7h.1M233.6 309.0h.1M232.3 301.8h.1M241.7 316.2h.1M243.1 312.3h.1M237.6 307.0h.1M240.0 299.9h.1M232.9 308.6h.1M232.8 294.6h.1M233.2 302.0h.1M228.8 311.3h.1M242.5 306.5h.1M224.7 304.2h.1M232.4 296.3h.1M229.1 307.0h.1M229.2 309.7h.1M223.4 311.6h.1M228.3 306.8h.1M234.1 301.1h.1M242.2 289.8h.1M235.5 311.4h.1M231.9 305.1h.1M224.7 305.3h.1M235.2 300.3h.1M234.0 302.4h.1M225.7 304.9h.1M227.6 313.4h.1M227.6 318.1h.1M233.7 305.4h.1M228.0 309.4h.1M225.6 291.9h.1M237.3 287.0h.1M243.0 300.9h.1M246.5 307.7h.1M247.0 292.6h.1M230.3 307.9h.1M229.4 306.2h.1M232.6 311.4h.1M245.3 286.4h.1M238.9 295.3h.1M247.0 292.5h.1M227.1 310.1h.1M232.5 311.6h.1M236.8 298.7h.1M232.1 304.6h.1M231.4 303.2h.1M228.0 306.0h.1M235.9 294.5h.1M221.1 310.5h.1M240.9 300.7h.1M232.5 301.1h.1M237.1 304.9h.1M229.4 298.8h.1M237.4 308.8h.1M230.4 309.1h.1M235.2 287.6h.1M229.1 307.6h.1M244.0 309.0h.1M223.9 313.4h.1M231.6 312.8h.1M222.6 291.1h.1M220.9 310.7h.1M243.4 307.7h.1M235.3 304.5h.1M235.4 296.5h.1M243.8 312.6h.1M241.6 304.8h.1M240.7 314.1h.1M254.2 315.1h.1M227.8 298.5h.1M240.9 309.9h.1M238.3 306.0h.1M227.3 306.8h.1M222.1 308.0h.1M252.3 311.9h.1M226.9 297.9h.1M253.4 311.2h.1M229.7 310.6h.1M231.2 296.2h.1M235.0 310.0h.1M244.4 294.5h.1M245.9 303.4h.1M242.0 310.2h.1M240.6 297.6h.1M238.1 291.1h.1M228.5 327.8h.1M247.4 309.0h.1M238.0 306.3h.1M239.0 307.3h.1M226.3 302.4h.1M232.5 308.9h.1M252.1 291.2h.1M251.1 301.8h.1M230.4 304.8h.1M251.8 296.0h.1M230.8 310.4h.1M241.7 309.0h.1M234.9 314.2h.1M225.9 319.4h.1M229.9 308.9h.1M226.4 300.2h.1M242.0 310.6h.1M232.4 312.7h.1M260.2 284.0h.1M227.2 305.5h.1M227.1 323.7h.1M246.4 290.6h.1M239.3 302.9h.1M245.9 308.5h.1M227.8 301.8h.1M234.4 320.5h.1M234.7 301.0h.1M230.7 313.0h.1M231.4 321.0h.1M241.2 306.9h.1M234.8 302.7h.1M246.3 303.8h.1M236.3 293.7h.1M232.3 307.2h.1M233.3 306.1h.1M242.1 311.9h.1M240.4 300.5h.1M229.8 305.6h.1M236.7 305.7h.1M234.6 316.1h.1M232.0 294.1h.1M239.4 318.0h.1M221.8 306.0h.1M241.9 306.0h.1M230.3 314.2h.1M228.6 305.0h.1M223.6 307.2h.1M244.1 309.6h.1M223.4 301.1h.1M227.7 292.6h.1M240.0 310.0h.1M232.5 318.6h.1M239.8 300.5h.1M234.3 304.4h.1M233.9 317.2h.1M244.3 297.2h.1M250.1 291.6h.1M231.8 327.1h.1M239.6 316.0h.1M235.1 310.2h.1M228.6 318.6h.1M232.3 301.0h.1M221.8 324.9h.1M221.8 296.7h.1M238.0 306.0h.1M248.2 311.2h.1M236.7 298.8h.1M238.5 293.1h.1M227.8 317.9h.1M236.2 295.6h.1M228.8 304.6h.1M236.6 307.5h.1M240.7 279.6h.1M240.0 289.3h.1M230.3 306.9h.1M242.6 300.3h.1M223.1 298.5h.1M236.1 326.9h.1M223.9 301.2h.1M228.2 315.7h.1M238.6 304.4h.1M236.5 319.7h.1M231.7 295.9h.1M234.2 294.9h.1M235.9 313.4h.1M231.0 313.9h.1M243.9 322.0h.1M231.1 310.9h.1M240.7 312.9h.1M241.9 310.1h.1M239.7 313.9h.1M238.1 310.9h.1M236.4 305.3h.1M234.4 301.0h.1M230.4 316.9h.1M231.9 286.0h.1M229.8 304.8h.1M244.2 308.5h.1M238.3 301.1h.1M229.4 291.9h.1M239.2 306.1h.1M262.8 318.4h.1M281.4 325.2h.1M278.2 326.9h.1M272.6 317.9h.1M270.1 321.7h.1M252.7 320.1h.1M270.5 311.0h.1M264.4 327.0h.1M266.1 317.2h.1M285.3 310.4h.1M269.7 314.6h.1M264.8 316.5h.1M275.7 315.8h.1M279.7 323.7h.1M259.2 318.4h.1M268.3 307.8h.1M252.0 325.8h.1M273.1 327.4h.1M286.0 323.9h.1M273.9 327.9h.1M268.8 314.9h.1M280.0 323.0h.1M264.9 314.7h.1M257.2 334.2h.1M266.3 314.1h.1M264.0 313.9h.1M271.4 318.2h.1M278.1 298.5h.1M271.5 330.9h.1M270.6 313.3h.1M290.3 313.9h.1M277.1 319.8h.1M268.6 310.1h.1M271.7 319.5h.1M288.5 306.1h.1M254.4 322.2h.1M254.9 295.8h.1M266.7 326.8h.1M251.6 306.2h.1M285.1 311.0h.1M261.1 316.6h.1M286.3 316.4h.1M278.0 316.6h.1M259.2 319.9h.1M251.7 325.9h.1M253.7 318.9h.1M248.3 317.1h.1M274.2 312.1h.1M289.7 317.8h.1M274.5 306.4h.1M264.9 319.6h.1M277.6 322.4h.1M255.9 306.3h.1M258.7 326.6h.1M252.3 308.3h.1M271.2 317.4h.1M269.3 311.4h.1M273.5 316.9h.1M268.1 319.6h.1M267.7 316.3h.1M281.4 323.3h.1M270.8 318.9h.1M283.8 307.4h.1M250.5 318.1h.1M252.6 309.5h.1M272.2 319.4h.1M266.5 311.9h.1M255.2 312.3h.1M261.7 317.5h.1M279.3 315.5h.1M258.5 321.1h.1M282.2 320.2h.1M265.4 314.8h.1M266.7 309.7h.1M279.2 315.4h.1M289.4 327.2h.1M265.0 337.7h.1M265.1 311.7h.1M252.1 317.8h.1M273.9 315.0h.1M268.8 321.4h.1M262.0 317.4h.1M267.3 329.5h.1M276.7 317.0h.1M259.6 316.7h.1M261.9 315.0h.1M273.5 324.1h.1M280.1 313.3h.1M271.8 317.5h.1M278.4 334.8h.1M280.1 324.8h.1M272.4 321.8h.1M250.0 320.4h.1M268.4 317.5h.1M277.2 342.1h.1M272.7 308.5h.1M266.1 324.2h.1M277.0 319.3h.1M275.5 311.7h.1M285.0 301.9h.1M266.5 312.0h.1M265.3 319.6h.1M271.1 325.4h.1M289.0 321.8h.1M260.7 318.0h.1M262.2 311.8h.1M265.9 325.2h.1M262.0 320.4h.1M262.4 324.6h.1M281.6 306.8h.1M277.4 311.2h.1M273.3 317.2h.1M278.5 308.2h.1M289.0 320.6h.1M263.5 327.7h.1M283.6 321.9h.1M265.0 311.7h.1M261.1 330.3h.1M270.6 317.7h.1M266.4 327.3h.1M266.4 324.5h.1M252.2 311.9h.1M273.3 310.5h.1M289.2 302.1h.1M273.9 322.0h.1M274.5 317.4h.1M268.9 345.2h.1M272.7 313.1h.1M243.0 332.3h.1M269.8 331.8h.1M269.8 326.4h.1M283.6 313.6h.1M246.9 327.0h.1M289.2 306.4h.1M265.0 317.3h.1M267.4 322.6h.1M268.9 322.5h.1M261.9 305.8h.1M288.2 319.9h.1M274.0 309.0h.1M274.6 317.6h.1M274.9 318.9h.1M280.5 328.7h.1M266.5 315.0h.1M277.3 306.8h.1M262.9 315.1h.1M249.0 332.8h.1M267.3 316.3h.1M258.2 322.2h.1M265.5 308.8h.1M273.4 329.8h.1M255.1 317.7h.1M291.7 316.4h.1M262.9 330.3h.1M272.3 325.1h.1M286.5 323.0h.1M273.3 332.8h.1M255.0 309.2h.1M267.8 313.2h.1M268.3 303.4h.1M253.9 323.5h.1M268.1 321.2h.1M266.1 317.8h.1M254.9 331.6h.1M280.5 307.6h.1M265.5 320.7h.1M265.8 317.6h.1M272.1 303.7h.1M277.5 321.6h.1M260.3 316.5h.1M269.1 315.9h.1M270.5 306.2h.1M270.6 321.2h.1M273.9 321.4h.1M264.3 319.1h.1M279.6 318.6h.1M272.2 318.5h.1M275.3 308.1h.1M269.4 324.6h.1M261.0 322.4h.1M265.4 314.7h.1M258.8 311.0h.1M281.7 306.7h.1M271.4 307.5h.1M290.2 323.4h.1M262.1 309.2h.1M267.2 320.6h.1M286.6 329.3h.1M260.2 319.8h.1M279.2 312.5h.1M251.6 353.2h.1M231.6 346.3h.1M260.4 343.8h.1M262.5 333.4h.1M280.1 342.5h.1M305.0 361.4h.1M251.9 361.0h.1M293.1 339.7h.1M256.3 355.3h.1M246.0 343.3h.1M236.3 340.5h.1M246.0 348.0h.1M267.6 343.2h.1M232.0 347.9h.1M275.5 345.6h.1M292.2 342.5h.1M280.5 348.1h.1M291.0 358.6h.1M236.5 332.0h.1M284.6 348.5h.1M269.6 342.6h.1M245.6 355.3h.1M272.3 341.8h.1M263.0 348.3h.1M233.3 341.1h.1M273.1 347.1h.1M231.8 348.4h.1M305.6 350.8h.1M233.1 342.4h.1M248.4 340.0h.1M243.9 341.5h.1M260.1 336.4h.1M282.2 348.5h.1M304.7 352.5h.1M283.0 350.0h.1M259.6 337.7h.1M276.6 346.8h.1M247.7 349.2h.1M269.2 341.0h.1M293.8 342.3h.1M264.8 354.3h.1M250.6 343.6h.1M272.0 343.5h.1M251.0 337.3h.1M267.1 343.1h.1M280.1 353.9h.1M261.6 352.0h.1M246.6 358.4h.1M249.9 345.1h.1M254.0 342.3h.1M279.5 346.1h.1M242.7 352.0h.1M262.9 350.5h.1M266.7 342.6h.1M222.6 343.8h.1M242.7 355.4h.1M257.3 357.5h.1M312.3 355.1h.1M314.2 338.9h.1M251.1 338.1h.1M232.7 336.2h.1M281.5 340.0h.1M254.9 350.5h.1M253.1 358.1h.1M288.1 351.6h.1M298.5 350.2h.1M266.2 354.6h.1M284.9 335.7h.1M286.3 354.0h.1M265.7 357.0h.1M236.5 347.8h.1M247.0 339.7h.1M268.1 335.0h.1M261.6 351.5h.1M245.8 337.8h.1M274.4 353.2h.1M282.1 342.0h.1M253.3 356.7h.1M281.3 348.7h.1M267.2 344.9h.1M275.4 351.6h.1M263.1 348.3h.1M231.9 345.1h.1M296.8 347.9h.1M232.3 342.6h.1M264.1 357.3h.1M308.8 345.9h.1M258.8 347.2h.1M238.0 356.3h.1M236.1 351.8h.1M252.2 338.2h.1M269.3 359.0h.1M235.8 347.9h.1M247.0 354.4h.1M230.1 336.4h.1M253.8 336.3h.1M283.5 334.8h.1M263.5 342.4h.1M283.6 342.2h.1M257.9 359.2h.1M276.2 355.9h.1M293.1 350.0h.1M268.9 333.4h.1M224.5 343.1h.1M268.4 354.8h.1M245.3 343.7h.1M307.4 337.7h.1M258.0 345.4h.1M246.9 357.7h.1M227.4 344.0h.1M225.6 340.8h.1M295.9 330.8h.1M225.6 346.3h.1M269.9 340.6h.1M271.7 344.7h.1M253.6 346.9h.1M288.8 337.2h.1M280.8 348.4h.1M257.5 340.6h.1M269.5 352.4h.1M241.6 351.9h.1M262.8 352.6h.1M267.9 344.7h.1M266.7 351.2h.1M230.5 346.3h.1M251.6 346.4h.1M283.7 353.4h.1M293.2 353.4h.1M257.4 340.1h.1M318.3 341.0h.1M254.3 349.5h.1M244.2 347.4h.1M266.6 342.1h.1M239.5 346.5h.1M271.4 338.7h.1M265.0 347.0h.1M242.7 349.4h.1M232.3 353.2h.1M246.6 354.1h.1M264.3 346.7h.1M232.9 352.0h.1M271.5 347.8h.1M262.7 351.5h.1M272.0 349.3h.1M281.1 345.1h.1M297.3 334.6h.1M226.2 350.7h.1M261.6 334.6h.1M235.8 340.7h.1M289.7 351.2h.1M225.9 335.9h.1M265.0 336.8h.1M248.6 341.7h.1M263.1 350.7h.1M246.7 342.2h.1M267.9 358.7h.1" stroke="#000" stroke-width="0.9" stroke-linecap="round" stroke-opacity="0.45" fill="none"/>
<rect x="219.4" y="243" width="130.4" height="121" fill="none" stroke="#777" stroke-width="1"/>
<line x1="252.8" y1="243" x2="252.8" y2="364" stroke="#505050" stroke-width="1.35" />
<line x1="219.4" y1="332.4" x2="349.8" y2="332.4" stroke="#505050" stroke-width="1.35" />
<text transform="translate(220.6,250.3) scale(1.1,1)" font-size="6.8" font-weight="normal" text-anchor="start" fill="#444" >B1</text>
<text transform="translate(254.0,250.3) scale(1.1,1)" font-size="6.8" font-weight="normal" text-anchor="start" fill="#444" >B2</text>
<text transform="translate(220.6,340.2) scale(1.1,1)" font-size="6.8" font-weight="normal" text-anchor="start" fill="#444" >B3</text>
<text transform="translate(254.0,340.2) scale(1.1,1)" font-size="6.8" font-weight="normal" text-anchor="start" fill="#444" >B4</text>
<text transform="translate(319.5,259.5) scale(1.14,1)" font-size="10.3" font-weight="bold" text-anchor="middle" fill="#000" >+ 2.5 <tspan font-style="italic">µ</tspan>M</text>
<text transform="translate(319.5,271.8) scale(1.07,1)" font-size="11.2" font-weight="bold" text-anchor="middle" fill="#000" >Imatinib</text>
<text transform="translate(343.8,325) scale(1.02,1)" font-size="12" font-weight="bold" text-anchor="end" fill="#000" >8±5%</text>
<text transform="translate(348.1,358.6) scale(1.02,1)" font-size="12" font-weight="bold" text-anchor="end" fill="#000" >57±7%</text>
<text x="244.2" y="379.0" font-size="12" font-weight="bold">10<tspan dy="-5.3" dx="0" font-size="8.8" font-weight="normal" fill="#222">0</tspan></text>
<text x="277.0" y="379.0" font-size="12" font-weight="bold">10<tspan dy="-5.3" dx="0" font-size="8.8" font-weight="normal" fill="#222">1</tspan></text>
<text x="309.7" y="379.0" font-size="12" font-weight="bold">10<tspan dy="-5.3" dx="0" font-size="8.8" font-weight="normal" fill="#222">2</tspan></text>
<text x="342.1" y="379.0" font-size="12" font-weight="bold">10<tspan dy="-5.3" dx="0" font-size="8.8" font-weight="normal" fill="#222">3</tspan></text>
<text x="198.2" y="342.4" font-size="12" font-weight="bold">10<tspan dy="-5.3" dx="0" font-size="8.8" font-weight="normal" fill="#222">0</tspan></text>
<text x="198.2" y="312.4" font-size="12" font-weight="bold">10<tspan dy="-5.3" dx="0" font-size="8.8" font-weight="normal" fill="#222">1</tspan></text>
<text x="198.2" y="282.3" font-size="12" font-weight="bold">10<tspan dy="-5.3" dx="0" font-size="8.8" font-weight="normal" fill="#222">2</tspan></text>
<text x="198.2" y="251.2" font-size="12" font-weight="bold">10<tspan dy="-5.3" dx="0" font-size="8.8" font-weight="normal" fill="#222">3</tspan></text>
<line x1="220.5" y1="364" x2="220.5" y2="367.2" stroke="#888" stroke-width="0.8" />
<line x1="230.2" y1="364" x2="230.2" y2="366.2" stroke="#888" stroke-width="0.8" />
<line x1="216.20000000000002" y1="355.1" x2="219.4" y2="355.1" stroke="#888" stroke-width="0.8" />
<line x1="235.9" y1="364" x2="235.9" y2="366.2" stroke="#888" stroke-width="0.8" />
<line x1="216.20000000000002" y1="349.7" x2="219.4" y2="349.7" stroke="#888" stroke-width="0.8" />
<line x1="239.9" y1="364" x2="239.9" y2="366.2" stroke="#888" stroke-width="0.8" />
<line x1="216.20000000000002" y1="346.0" x2="219.4" y2="346.0" stroke="#888" stroke-width="0.8" />
<line x1="243.1" y1="364" x2="243.1" y2="366.2" stroke="#888" stroke-width="0.8" />
<line x1="216.20000000000002" y1="343.0" x2="219.4" y2="343.0" stroke="#888" stroke-width="0.8" />
<line x1="245.6" y1="364" x2="245.6" y2="366.2" stroke="#888" stroke-width="0.8" />
<line x1="216.20000000000002" y1="340.6" x2="219.4" y2="340.6" stroke="#888" stroke-width="0.8" />
<line x1="247.8" y1="364" x2="247.8" y2="366.2" stroke="#888" stroke-width="0.8" />
<line x1="216.20000000000002" y1="338.6" x2="219.4" y2="338.6" stroke="#888" stroke-width="0.8" />
<line x1="249.7" y1="364" x2="249.7" y2="366.2" stroke="#888" stroke-width="0.8" />
<line x1="216.20000000000002" y1="336.8" x2="219.4" y2="336.8" stroke="#888" stroke-width="0.8" />
<line x1="251.3" y1="364" x2="251.3" y2="366.2" stroke="#888" stroke-width="0.8" />
<line x1="216.20000000000002" y1="335.3" x2="219.4" y2="335.3" stroke="#888" stroke-width="0.8" />
<line x1="252.8" y1="364" x2="252.8" y2="367.2" stroke="#888" stroke-width="0.8" />
<line x1="214.6" y1="333.9" x2="219.4" y2="333.9" stroke="#888" stroke-width="0.8" />
<line x1="262.5" y1="364" x2="262.5" y2="366.2" stroke="#888" stroke-width="0.8" />
<line x1="216.20000000000002" y1="324.8" x2="219.4" y2="324.8" stroke="#888" stroke-width="0.8" />
<line x1="268.2" y1="364" x2="268.2" y2="366.2" stroke="#888" stroke-width="0.8" />
<line x1="216.20000000000002" y1="319.4" x2="219.4" y2="319.4" stroke="#888" stroke-width="0.8" />
<line x1="272.3" y1="364" x2="272.3" y2="366.2" stroke="#888" stroke-width="0.8" />
<line x1="216.20000000000002" y1="315.7" x2="219.4" y2="315.7" stroke="#888" stroke-width="0.8" />
<line x1="275.4" y1="364" x2="275.4" y2="366.2" stroke="#888" stroke-width="0.8" />
<line x1="216.20000000000002" y1="312.7" x2="219.4" y2="312.7" stroke="#888" stroke-width="0.8" />
<line x1="278.0" y1="364" x2="278.0" y2="366.2" stroke="#888" stroke-width="0.8" />
<line x1="216.20000000000002" y1="310.3" x2="219.4" y2="310.3" stroke="#888" stroke-width="0.8" />
<line x1="280.1" y1="364" x2="280.1" y2="366.2" stroke="#888" stroke-width="0.8" />
<line x1="216.20000000000002" y1="308.3" x2="219.4" y2="308.3" stroke="#888" stroke-width="0.8" />
<line x1="282.0" y1="364" x2="282.0" y2="366.2" stroke="#888" stroke-width="0.8" />
<line x1="216.20000000000002" y1="306.5" x2="219.4" y2="306.5" stroke="#888" stroke-width="0.8" />
<line x1="283.7" y1="364" x2="283.7" y2="366.2" stroke="#888" stroke-width="0.8" />
<line x1="216.20000000000002" y1="305.0" x2="219.4" y2="305.0" stroke="#888" stroke-width="0.8" />
<line x1="285.1" y1="364" x2="285.1" y2="367.2" stroke="#888" stroke-width="0.8" />
<line x1="214.6" y1="303.6" x2="219.4" y2="303.6" stroke="#888" stroke-width="0.8" />
<line x1="294.9" y1="364" x2="294.9" y2="366.2" stroke="#888" stroke-width="0.8" />
<line x1="216.20000000000002" y1="294.5" x2="219.4" y2="294.5" stroke="#888" stroke-width="0.8" />
<line x1="300.6" y1="364" x2="300.6" y2="366.2" stroke="#888" stroke-width="0.8" />
<line x1="216.20000000000002" y1="289.1" x2="219.4" y2="289.1" stroke="#888" stroke-width="0.8" />
<line x1="304.6" y1="364" x2="304.6" y2="366.2" stroke="#888" stroke-width="0.8" />
<line x1="216.20000000000002" y1="285.4" x2="219.4" y2="285.4" stroke="#888" stroke-width="0.8" />
<line x1="307.7" y1="364" x2="307.7" y2="366.2" stroke="#888" stroke-width="0.8" />
<line x1="216.20000000000002" y1="282.4" x2="219.4" y2="282.4" stroke="#888" stroke-width="0.8" />
<line x1="310.3" y1="364" x2="310.3" y2="366.2" stroke="#888" stroke-width="0.8" />
<line x1="216.20000000000002" y1="280.0" x2="219.4" y2="280.0" stroke="#888" stroke-width="0.8" />
<line x1="312.5" y1="364" x2="312.5" y2="366.2" stroke="#888" stroke-width="0.8" />
<line x1="216.20000000000002" y1="278.0" x2="219.4" y2="278.0" stroke="#888" stroke-width="0.8" />
<line x1="314.3" y1="364" x2="314.3" y2="366.2" stroke="#888" stroke-width="0.8" />
<line x1="216.20000000000002" y1="276.2" x2="219.4" y2="276.2" stroke="#888" stroke-width="0.8" />
<line x1="316.0" y1="364" x2="316.0" y2="366.2" stroke="#888" stroke-width="0.8" />
<line x1="216.20000000000002" y1="274.7" x2="219.4" y2="274.7" stroke="#888" stroke-width="0.8" />
<line x1="317.5" y1="364" x2="317.5" y2="367.2" stroke="#888" stroke-width="0.8" />
<line x1="214.6" y1="273.3" x2="219.4" y2="273.3" stroke="#888" stroke-width="0.8" />
<line x1="327.2" y1="364" x2="327.2" y2="366.2" stroke="#888" stroke-width="0.8" />
<line x1="216.20000000000002" y1="264.2" x2="219.4" y2="264.2" stroke="#888" stroke-width="0.8" />
<line x1="332.9" y1="364" x2="332.9" y2="366.2" stroke="#888" stroke-width="0.8" />
<line x1="216.20000000000002" y1="258.8" x2="219.4" y2="258.8" stroke="#888" stroke-width="0.8" />
<line x1="336.9" y1="364" x2="336.9" y2="366.2" stroke="#888" stroke-width="0.8" />
<line x1="216.20000000000002" y1="255.1" x2="219.4" y2="255.1" stroke="#888" stroke-width="0.8" />
<line x1="340.1" y1="364" x2="340.1" y2="366.2" stroke="#888" stroke-width="0.8" />
<line x1="216.20000000000002" y1="252.1" x2="219.4" y2="252.1" stroke="#888" stroke-width="0.8" />
<line x1="342.6" y1="364" x2="342.6" y2="366.2" stroke="#888" stroke-width="0.8" />
<line x1="216.20000000000002" y1="249.7" x2="219.4" y2="249.7" stroke="#888" stroke-width="0.8" />
<line x1="344.8" y1="364" x2="344.8" y2="366.2" stroke="#888" stroke-width="0.8" />
<line x1="216.20000000000002" y1="247.7" x2="219.4" y2="247.7" stroke="#888" stroke-width="0.8" />
<line x1="346.7" y1="364" x2="346.7" y2="366.2" stroke="#888" stroke-width="0.8" />
<line x1="216.20000000000002" y1="245.9" x2="219.4" y2="245.9" stroke="#888" stroke-width="0.8" />
<line x1="348.3" y1="364" x2="348.3" y2="366.2" stroke="#888" stroke-width="0.8" />
<line x1="216.20000000000002" y1="244.4" x2="219.4" y2="244.4" stroke="#888" stroke-width="0.8" />
<path d="M443.7 349.6h.1M443.0 347.5h.1M438.7 348.4h.1M429.0 351.1h.1M450.0 344.8h.1M426.0 350.5h.1M437.6 351.6h.1M436.2 338.6h.1M440.2 348.3h.1M442.0 350.3h.1M425.5 348.9h.1M448.7 334.7h.1M448.3 353.0h.1M429.3 349.8h.1M444.9 334.5h.1M437.9 353.8h.1M450.6 336.7h.1M443.8 352.6h.1M435.0 335.1h.1M423.3 349.7h.1M442.9 344.3h.1M447.6 347.4h.1M444.5 348.3h.1M435.2 348.7h.1M427.8 354.7h.1M436.5 341.0h.1M440.7 337.5h.1M436.6 349.3h.1M442.6 349.3h.1M425.7 353.8h.1M439.1 341.9h.1M439.7 345.5h.1M447.1 342.3h.1M442.6 336.6h.1M440.9 355.6h.1M431.1 344.8h.1M438.4 338.7h.1M427.2 345.9h.1M433.0 348.2h.1M436.7 336.2h.1M432.0 353.0h.1M456.1 337.0h.1M437.4 340.1h.1M429.7 351.1h.1M441.0 352.4h.1M432.6 353.3h.1M421.9 346.5h.1M428.9 353.1h.1M455.6 360.7h.1M444.6 344.6h.1M430.6 355.8h.1M439.6 340.8h.1M433.9 354.4h.1M421.3 338.7h.1M443.0 342.1h.1M435.1 354.5h.1M423.2 355.3h.1M439.7 352.9h.1M435.7 344.4h.1M429.7 349.1h.1M446.6 346.9h.1M435.3 350.5h.1M439.2 346.9h.1M443.6 352.1h.1M427.5 346.3h.1M472.8 338.0h.1M449.2 345.5h.1M431.8 345.4h.1M431.7 348.9h.1M441.5 346.4h.1M426.4 347.8h.1M444.6 351.5h.1M442.1 348.0h.1M441.4 346.1h.1M425.3 351.3h.1M430.7 347.5h.1M437.6 337.1h.1M433.5 346.4h.1M440.4 345.6h.1M442.5 348.1h.1M430.2 346.4h.1M411.3 339.8h.1M437.2 354.4h.1M435.3 343.5h.1M423.2 347.0h.1M455.8 342.5h.1M436.4 347.7h.1M426.0 352.2h.1M425.7 319.8h.1M431.6 353.9h.1M415.9 349.0h.1M423.6 331.6h.1M438.2 346.4h.1M431.4 352.8h.1M433.4 359.3h.1M420.0 345.1h.1M439.9 347.6h.1M437.8 346.6h.1M431.7 352.7h.1M428.3 333.1h.1M436.6 317.4h.1M442.3 349.6h.1M433.7 351.9h.1M437.6 358.1h.1M428.5 336.0h.1M439.4 342.9h.1M427.8 355.1h.1M447.1 343.4h.1M441.1 348.6h.1M435.9 343.2h.1M435.9 348.3h.1M421.3 340.9h.1M458.2 354.1h.1M426.6 344.9h.1M441.0 342.3h.1M439.8 351.8h.1M433.0 353.8h.1M432.6 352.8h.1M441.7 347.9h.1M432.7 339.4h.1M434.1 351.2h.1M439.4 344.7h.1M427.8 356.9h.1M432.2 345.3h.1M423.1 345.7h.1M417.9 351.6h.1M433.2 354.2h.1M451.4 346.9h.1M435.5 345.7h.1M423.9 343.2h.1M440.5 341.6h.1M448.0 344.0h.1M449.2 350.4h.1M439.3 346.2h.1M439.6 344.9h.1M445.8 341.5h.1M430.5 349.8h.1M450.8 353.2h.1M444.0 342.1h.1M434.4 350.3h.1M438.4 339.0h.1M437.1 346.5h.1M439.6 346.6h.1M437.8 346.3h.1M418.5 349.9h.1M445.1 351.7h.1M444.5 350.4h.1M429.2 352.3h.1M436.0 348.9h.1M443.2 332.2h.1M431.7 351.0h.1M434.4 346.9h.1M442.5 345.8h.1M440.6 347.5h.1M428.7 358.1h.1M435.1 353.4h.1M434.1 347.0h.1M431.6 349.0h.1M447.3 344.6h.1M434.9 352.7h.1M441.0 358.5h.1M436.2 346.6h.1M448.7 345.5h.1M436.2 353.3h.1M437.9 340.3h.1M435.4 346.8h.1M447.3 359.8h.1M424.2 348.8h.1M435.7 353.3h.1M429.2 339.4h.1M425.6 338.8h.1M434.4 355.8h.1M448.1 344.1h.1M418.9 350.4h.1M435.4 346.1h.1M424.5 353.6h.1M448.6 338.4h.1M434.9 356.1h.1M440.1 340.0h.1M435.4 344.1h.1M463.2 355.6h.1M443.6 343.8h.1M438.4 339.7h.1M439.4 350.1h.1M427.9 345.8h.1M420.1 349.7h.1M452.6 344.8h.1M434.5 349.6h.1M439.5 353.4h.1M444.0 351.7h.1M457.2 334.8h.1M421.2 349.8h.1M444.4 346.9h.1M444.9 341.5h.1M437.5 349.8h.1M439.2 354.2h.1M428.0 355.1h.1M440.7 347.6h.1M436.8 343.1h.1M447.5 356.7h.1M432.8 350.5h.1M441.1 353.4h.1M457.8 344.8h.1M427.8 351.4h.1M431.6 350.6h.1M448.7 348.5h.1M430.7 355.0h.1M420.0 349.7h.1M449.8 350.4h.1M436.1 342.6h.1M440.4 345.2h.1M433.9 348.7h.1M434.4 349.0h.1M438.5 345.9h.1M436.5 345.8h.1M439.6 356.5h.1M443.7 354.6h.1M433.7 347.4h.1M430.4 352.0h.1M442.5 340.5h.1M430.3 340.4h.1M439.7 359.1h.1M428.1 342.4h.1M439.7 350.1h.1M430.8 347.1h.1M437.0 345.2h.1M433.6 348.4h.1M413.7 334.8h.1M428.7 347.3h.1M420.7 355.6h.1M431.8 349.3h.1M435.9 355.4h.1M443.2 344.7h.1M443.0 345.8h.1M431.4 347.6h.1M439.1 356.8h.1M453.2 326.8h.1M432.8 352.4h.1M432.9 347.6h.1M442.2 354.1h.1M435.2 341.8h.1M428.4 345.1h.1M449.5 356.5h.1M445.3 358.7h.1M439.6 351.5h.1M453.9 337.6h.1M445.0 343.1h.1M443.4 345.3h.1M468.8 349.1h.1M443.4 343.1h.1M430.6 351.4h.1M435.2 343.9h.1M448.6 347.5h.1M435.9 359.8h.1M430.5 351.3h.1M443.5 340.8h.1M440.9 339.7h.1M449.7 355.0h.1M441.3 359.9h.1M435.5 350.3h.1M436.6 351.7h.1M430.3 357.2h.1M454.5 351.4h.1M434.8 357.5h.1M430.7 351.9h.1M455.7 348.0h.1M426.5 342.3h.1M447.9 348.9h.1M424.6 346.8h.1M440.2 350.7h.1M421.4 342.2h.1M474.0 337.6h.1M460.2 347.6h.1M448.2 348.1h.1M445.1 349.8h.1M451.5 354.3h.1M406.4 342.0h.1M445.3 352.1h.1M445.0 358.0h.1M442.9 350.5h.1M452.9 347.4h.1M438.5 349.3h.1M436.5 342.6h.1M442.8 347.8h.1M432.0 346.8h.1M438.9 341.9h.1M430.5 356.2h.1M439.3 341.1h.1M431.5 337.6h.1M445.4 345.8h.1M445.9 348.0h.1M440.8 345.1h.1M431.1 340.0h.1M432.2 348.0h.1M436.5 347.7h.1M439.1 344.6h.1M442.9 360.6h.1M442.3 346.3h.1M430.9 338.1h.1M444.5 345.6h.1M446.6 347.7h.1M430.8 351.9h.1M436.8 338.9h.1M468.9 346.4h.1M433.0 353.1h.1M431.2 350.5h.1M438.1 346.1h.1M433.0 351.6h.1M423.9 342.7h.1M440.6 326.9h.1M428.5 343.8h.1M429.9 342.5h.1M446.5 347.8h.1M435.6 355.2h.1M429.8 343.8h.1M439.9 348.1h.1M440.0 343.4h.1M448.4 336.4h.1M449.1 339.2h.1M434.5 349.3h.1M445.1 348.4h.1M446.2 348.5h.1M424.8 341.8h.1M424.6 357.2h.1M447.9 347.2h.1M446.5 359.1h.1M438.8 358.3h.1M433.0 360.6h.1M445.5 337.2h.1M436.8 350.9h.1M425.4 345.4h.1M441.8 344.4h.1M423.6 349.4h.1M430.3 349.1h.1M433.8 348.7h.1M459.1 346.4h.1M435.0 345.7h.1M434.2 351.2h.1M434.6 341.2h.1M440.8 343.9h.1M442.2 343.2h.1M435.9 346.2h.1M421.0 353.6h.1M416.7 328.1h.1M440.0 356.5h.1M431.4 344.0h.1M438.2 353.6h.1M433.5 345.9h.1M445.2 343.1h.1M441.6 326.2h.1M436.4 350.6h.1M434.9 342.9h.1M435.4 351.8h.1M419.3 343.1h.1M449.2 346.5h.1M433.0 347.4h.1M436.9 348.1h.1M444.7 350.2h.1M447.7 356.4h.1M432.2 354.3h.1M428.6 350.4h.1M439.9 350.1h.1M418.6 333.1h.1M430.0 345.4h.1M432.7 347.8h.1M427.5 349.4h.1M444.3 344.5h.1M450.7 340.6h.1M447.5 348.6h.1M445.5 343.4h.1M429.3 333.7h.1M436.9 357.8h.1M437.0 359.2h.1M438.1 339.4h.1M437.1 350.7h.1M431.8 349.1h.1M427.9 340.1h.1M440.8 356.3h.1M427.9 344.2h.1M457.7 344.6h.1M438.6 351.5h.1M428.0 355.1h.1M435.1 350.1h.1M432.3 351.2h.1M441.3 337.3h.1M436.0 339.8h.1M442.5 339.1h.1M442.3 340.4h.1M427.6 349.9h.1M443.4 353.0h.1M436.9 345.8h.1M447.6 350.8h.1M441.8 354.7h.1M457.0 334.1h.1M440.5 359.8h.1M434.3 344.5h.1M444.5 331.5h.1M443.2 341.1h.1M452.0 350.9h.1M439.4 353.8h.1M442.8 346.4h.1M451.3 347.6h.1M435.2 345.8h.1M428.7 351.7h.1M442.3 341.7h.1M432.9 343.9h.1M457.9 337.9h.1M439.4 343.5h.1M440.7 347.4h.1M433.2 346.2h.1M435.5 341.1h.1M430.8 331.3h.1M440.3 351.4h.1M445.8 342.1h.1M445.6 354.1h.1M434.6 342.1h.1M424.2 332.5h.1M446.7 336.6h.1M426.2 354.5h.1M455.6 344.8h.1M425.6 348.4h.1M435.4 346.7h.1M420.9 346.4h.1M427.9 346.5h.1M431.7 349.5h.1M430.5 344.6h.1M443.1 346.9h.1M431.5 349.2h.1M449.0 355.9h.1M414.2 360.4h.1M431.6 339.8h.1M434.5 343.1h.1M430.2 350.0h.1M429.5 338.2h.1M444.0 344.0h.1M427.2 350.9h.1M425.9 350.1h.1M426.5 346.6h.1M458.2 344.9h.1M435.0 344.7h.1M434.2 359.7h.1M432.0 341.8h.1M427.1 347.1h.1M435.1 362.0h.1M448.8 345.5h.1M441.2 334.3h.1M440.6 352.1h.1M441.4 354.7h.1M414.9 343.0h.1M429.4 353.0h.1M434.7 340.1h.1M448.9 344.0h.1M428.0 349.7h.1M447.3 347.7h.1M442.6 342.2h.1M430.7 344.1h.1M423.2 345.8h.1M455.7 342.1h.1M437.9 347.0h.1M424.5 354.4h.1M438.6 338.2h.1M427.9 345.8h.1M431.1 346.8h.1M446.5 349.4h.1M434.7 340.6h.1M432.3 341.2h.1M425.6 347.9h.1M432.1 352.6h.1M439.5 359.3h.1M441.6 352.6h.1M433.3 357.4h.1M439.7 348.5h.1M434.1 351.3h.1M433.4 352.0h.1M445.2 345.7h.1M438.1 345.8h.1M436.7 339.6h.1M434.6 349.0h.1M433.1 349.1h.1M437.5 355.5h.1M428.8 345.7h.1M424.8 353.5h.1M452.5 348.4h.1M438.2 339.1h.1M429.5 328.6h.1M435.3 345.0h.1M450.6 344.7h.1M437.3 355.1h.1M439.6 348.7h.1M451.5 349.9h.1M437.2 352.3h.1M431.6 350.7h.1M435.2 351.8h.1M446.8 345.6h.1M441.0 345.4h.1M447.7 338.1h.1M444.1 345.0h.1M452.6 348.6h.1M439.0 342.7h.1M449.6 343.9h.1M448.1 357.5h.1M421.8 344.7h.1M440.8 344.2h.1M429.2 352.7h.1M434.1 353.5h.1M436.0 356.1h.1M440.8 346.0h.1M437.3 348.7h.1M450.0 362.1h.1M444.2 357.2h.1M445.3 327.6h.1M429.9 353.0h.1M436.3 353.0h.1M446.7 343.6h.1M430.5 346.6h.1M439.8 343.3h.1M436.0 346.7h.1M438.7 353.9h.1M437.8 351.3h.1M434.5 347.1h.1M448.1 350.7h.1M433.6 346.7h.1M445.3 349.9h.1M428.4 344.2h.1M433.1 346.9h.1M433.9 347.4h.1M443.1 349.5h.1M440.9 341.4h.1M439.3 344.3h.1M448.1 353.4h.1M433.1 343.8h.1M437.9 340.5h.1M431.2 357.4h.1M443.9 347.2h.1M429.3 347.4h.1M448.0 344.1h.1M429.2 342.5h.1M424.6 346.6h.1M433.5 352.2h.1M436.2 348.1h.1M446.5 346.8h.1M438.5 349.2h.1M430.3 344.6h.1M429.7 357.9h.1M440.3 350.4h.1M439.0 345.1h.1M438.4 353.3h.1M438.4 362.1h.1M431.4 343.6h.1M432.0 350.1h.1M445.1 351.6h.1M439.8 347.8h.1M427.0 344.2h.1M445.4 348.9h.1M426.5 346.7h.1M438.8 352.7h.1M450.9 346.5h.1M420.4 334.0h.1M434.0 357.2h.1M458.2 347.5h.1M433.0 333.6h.1M445.8 346.3h.1M437.4 353.1h.1M433.5 340.4h.1M416.0 336.5h.1M434.8 343.9h.1M437.6 352.3h.1M425.5 344.5h.1M431.3 337.1h.1M441.0 354.7h.1M440.8 342.2h.1M431.1 346.6h.1M443.7 353.3h.1M441.7 355.9h.1M437.7 349.9h.1M430.4 348.1h.1M436.0 348.1h.1M432.0 356.6h.1M429.8 341.7h.1M435.5 342.3h.1M432.9 351.9h.1M427.9 351.5h.1M437.6 354.9h.1M436.3 357.8h.1M441.8 344.1h.1M434.3 347.3h.1M437.8 352.7h.1M443.7 345.1h.1M431.8 355.5h.1M440.3 360.6h.1M438.8 346.3h.1M432.3 346.6h.1M425.5 343.1h.1M435.7 353.8h.1M427.0 338.0h.1M441.7 349.1h.1M426.9 353.8h.1M439.4 347.5h.1M423.1 349.3h.1M439.8 339.6h.1M437.4 340.2h.1M431.0 356.9h.1M436.6 347.8h.1M440.8 359.2h.1M438.2 344.6h.1M427.0 343.1h.1M447.8 351.6h.1M442.3 340.9h.1M413.2 352.2h.1M440.9 347.7h.1M443.9 359.7h.1M436.6 325.3h.1M432.2 321.5h.1M437.8 345.7h.1M449.4 343.1h.1M430.6 349.2h.1M434.0 341.1h.1M441.8 347.2h.1M430.6 341.8h.1M435.3 347.1h.1M419.3 340.7h.1M447.8 350.7h.1M438.0 346.4h.1M432.5 349.8h.1M452.3 338.7h.1M442.5 336.0h.1M463.8 355.5h.1M434.9 354.0h.1M423.5 335.1h.1M430.0 355.5h.1M439.8 350.3h.1M433.1 349.1h.1M446.3 353.6h.1M441.0 340.5h.1M432.6 351.9h.1M439.0 342.5h.1M436.1 351.4h.1M452.4 332.8h.1M444.5 355.6h.1M453.8 356.6h.1M433.8 346.9h.1M420.7 346.2h.1M435.4 354.8h.1M430.8 340.4h.1M434.6 336.5h.1M434.4 359.2h.1M440.6 351.6h.1M438.9 348.1h.1M431.1 344.8h.1M439.3 345.2h.1M429.5 348.0h.1M424.1 357.6h.1M439.5 358.5h.1M449.0 348.2h.1M432.1 355.3h.1M429.9 347.8h.1M437.3 347.5h.1M423.6 347.6h.1M443.3 347.0h.1M435.0 349.2h.1M443.3 348.7h.1M428.4 338.7h.1M439.1 344.6h.1M442.9 339.6h.1M437.3 346.2h.1M435.3 358.6h.1M446.1 340.2h.1M433.1 345.6h.1M420.0 343.4h.1M442.8 351.6h.1M453.4 348.4h.1M427.5 343.7h.1M425.3 356.6h.1M441.8 338.3h.1M451.0 344.9h.1M443.6 344.4h.1M432.3 351.3h.1M417.9 343.4h.1M427.0 355.1h.1M443.0 350.0h.1M420.0 345.9h.1M431.7 337.3h.1M423.3 346.3h.1M434.0 351.5h.1M416.4 353.2h.1M445.8 349.9h.1M432.0 345.8h.1M427.9 352.0h.1M433.7 352.4h.1M456.2 359.4h.1M440.8 345.6h.1M439.2 351.3h.1M424.6 345.1h.1M421.1 349.7h.1M447.3 343.3h.1M431.7 357.5h.1M441.9 342.3h.1M437.7 350.6h.1M440.3 342.2h.1M437.4 347.4h.1M428.9 339.8h.1M435.7 353.0h.1M442.3 347.5h.1M451.5 338.6h.1M417.4 333.7h.1M427.0 352.4h.1M442.4 361.1h.1M436.1 354.0h.1M446.5 352.2h.1M434.4 344.6h.1M415.1 343.8h.1M438.4 355.5h.1M439.4 349.5h.1M445.5 344.7h.1M434.6 349.2h.1M434.9 351.1h.1M446.5 342.8h.1M441.4 362.0h.1M423.6 345.0h.1M425.6 344.0h.1M446.4 344.3h.1M461.0 324.1h.1M439.4 351.5h.1M430.5 356.7h.1M450.3 348.9h.1M438.1 344.0h.1M425.0 337.3h.1M438.7 346.2h.1M424.0 344.2h.1M445.3 348.8h.1M433.7 350.4h.1M432.2 349.0h.1M437.7 348.9h.1M441.5 355.1h.1M441.0 350.1h.1M429.1 359.2h.1M444.6 346.1h.1M430.9 337.7h.1M448.2 354.5h.1M428.9 335.5h.1M435.0 352.3h.1M438.2 345.3h.1M439.0 350.8h.1M441.1 348.6h.1M433.5 355.7h.1M434.2 346.3h.1M436.8 347.7h.1M438.3 349.0h.1M445.6 348.9h.1M451.1 351.0h.1M419.7 342.2h.1M441.2 345.2h.1M444.6 347.7h.1M445.5 339.2h.1M449.9 349.3h.1M430.4 353.2h.1M442.1 342.3h.1M439.1 351.7h.1M434.6 348.0h.1M427.2 342.9h.1M437.3 344.7h.1M439.9 356.7h.1M447.5 353.8h.1M434.5 339.2h.1M438.8 351.4h.1M437.8 354.6h.1M453.9 337.0h.1M434.4 335.3h.1M444.7 351.1h.1M442.9 348.3h.1M406.6 351.8h.1M420.3 349.9h.1M434.7 345.5h.1M426.0 348.9h.1M450.5 342.8h.1M446.0 356.4h.1M436.7 348.0h.1M438.2 348.6h.1M437.7 351.5h.1M436.8 340.8h.1M431.2 351.9h.1M442.5 344.5h.1M423.1 344.3h.1M438.6 342.1h.1M434.7 355.5h.1M433.4 359.7h.1M433.1 344.5h.1M435.5 351.4h.1M438.2 348.8h.1M432.9 351.6h.1M444.6 342.6h.1M437.7 341.4h.1M447.0 353.6h.1M434.4 353.4h.1M430.2 354.9h.1M423.5 342.8h.1M422.8 339.0h.1M426.7 345.1h.1M428.7 344.2h.1M431.8 336.6h.1M460.8 340.6h.1M434.8 339.8h.1M430.3 349.5h.1M433.0 349.9h.1M405.6 334.6h.1M454.4 344.9h.1M427.0 346.5h.1M416.7 356.1h.1M432.5 352.1h.1M436.6 351.0h.1M444.2 357.0h.1M431.6 358.0h.1M432.1 346.4h.1M419.7 343.2h.1M431.8 344.6h.1M415.8 348.5h.1M435.2 342.2h.1M430.5 338.9h.1M447.2 348.4h.1M439.6 344.2h.1M447.8 342.9h.1M441.4 337.8h.1M437.6 352.6h.1M437.9 347.7h.1M438.9 350.8h.1M426.1 351.8h.1M436.1 346.4h.1M435.3 350.5h.1M433.6 351.4h.1M438.1 342.9h.1M432.9 338.8h.1M430.4 337.1h.1M439.8 347.2h.1M442.8 351.1h.1M456.1 342.0h.1M438.5 360.4h.1M422.8 344.5h.1M434.1 347.7h.1M432.2 353.0h.1M437.6 347.2h.1M433.4 356.9h.1M452.0 350.1h.1M436.6 339.5h.1M438.2 345.0h.1M440.6 352.6h.1M434.3 358.3h.1M439.9 345.1h.1M447.5 357.7h.1M424.2 347.8h.1M432.7 351.7h.1M440.0 348.9h.1M441.2 347.9h.1M430.1 351.0h.1M435.2 338.0h.1M447.2 346.6h.1M432.5 353.8h.1M441.4 344.0h.1M428.1 345.4h.1M435.8 344.5h.1M407.0 351.5h.1M439.5 348.4h.1M444.6 351.4h.1M445.0 352.3h.1M435.5 344.6h.1M441.5 346.5h.1M449.9 333.5h.1M434.9 350.0h.1M450.9 352.3h.1M413.5 358.1h.1M436.1 346.4h.1M435.0 357.2h.1M426.6 349.5h.1M430.0 344.9h.1M438.4 345.4h.1M436.0 356.8h.1M432.7 343.4h.1M429.5 346.3h.1M438.3 345.3h.1M424.8 347.4h.1M433.6 339.2h.1M434.0 347.0h.1M445.6 349.0h.1M423.1 348.8h.1M430.4 344.4h.1M433.7 344.7h.1M445.6 358.4h.1M423.4 343.4h.1M435.0 348.8h.1M430.9 352.8h.1M431.5 346.9h.1M436.4 341.2h.1M431.7 349.9h.1M427.7 345.8h.1M430.7 358.3h.1M448.8 349.3h.1M433.1 346.3h.1M432.1 353.1h.1M430.5 342.4h.1M445.0 347.6h.1M444.2 346.5h.1M438.7 338.2h.1M451.6 342.0h.1M425.8 344.7h.1M430.2 341.2h.1M442.3 349.7h.1M437.2 340.9h.1M447.2 345.4h.1M432.8 340.3h.1M423.3 356.5h.1M423.5 350.0h.1M448.2 341.7h.1M451.2 340.8h.1M440.4 340.5h.1M444.1 357.5h.1M435.3 348.1h.1M442.7 346.5h.1M436.6 347.4h.1M431.0 348.4h.1M440.3 351.3h.1M434.9 345.8h.1M446.6 347.0h.1M457.6 348.9h.1M442.5 334.8h.1M442.2 339.9h.1M432.5 351.0h.1M447.7 352.8h.1M429.8 349.9h.1M431.9 352.5h.1M435.9 354.4h.1M445.0 349.4h.1M435.8 349.5h.1M440.7 345.5h.1M439.7 353.1h.1M425.4 351.2h.1M452.5 337.7h.1M438.8 354.1h.1M462.0 341.1h.1M437.7 359.3h.1M432.6 341.6h.1M439.4 353.5h.1M440.7 349.8h.1M429.4 349.4h.1M450.0 339.5h.1M442.2 334.1h.1M433.9 348.3h.1M447.9 350.3h.1M443.6 342.3h.1M442.3 348.2h.1M446.0 355.1h.1M439.4 350.0h.1M426.1 349.6h.1M418.1 352.1h.1M443.2 348.1h.1M441.9 343.9h.1M437.7 343.9h.1M418.7 335.6h.1M437.7 344.4h.1M437.7 346.3h.1M445.1 344.5h.1M434.8 346.3h.1M410.2 356.5h.1M432.0 343.9h.1M425.0 346.4h.1M431.9 342.2h.1M427.5 347.3h.1M439.1 353.0h.1M436.3 344.5h.1M436.9 354.9h.1M442.7 350.5h.1M442.8 341.1h.1M432.5 349.0h.1M451.0 345.0h.1M439.6 341.6h.1M463.9 350.9h.1M430.3 330.0h.1M440.3 351.0h.1M430.6 345.2h.1M431.3 343.4h.1M429.3 343.5h.1M430.7 335.2h.1M439.9 345.5h.1M431.1 352.5h.1M430.8 337.4h.1M437.8 351.5h.1M435.4 347.5h.1M438.5 343.7h.1M437.0 355.9h.1M439.6 349.5h.1M432.4 334.8h.1M438.3 344.9h.1M426.7 349.2h.1M440.7 337.9h.1M434.8 343.0h.1M454.4 343.6h.1M447.4 355.3h.1M432.2 350.9h.1M438.9 352.1h.1M435.8 346.8h.1M429.3 343.5h.1M439.7 345.9h.1M428.2 348.9h.1M436.6 360.4h.1M434.1 348.0h.1M425.9 345.1h.1M447.1 349.2h.1M439.3 345.4h.1M458.5 350.1h.1M443.0 349.9h.1M436.5 343.0h.1M436.5 348.0h.1M433.9 356.2h.1M438.9 349.9h.1M435.4 347.9h.1M445.0 347.6h.1M440.4 347.5h.1M438.7 346.9h.1M428.4 354.2h.1M443.7 352.8h.1M434.5 348.1h.1M433.5 349.3h.1M419.0 353.1h.1M434.6 354.4h.1M441.0 344.2h.1M436.4 346.7h.1M436.3 347.0h.1M424.2 345.4h.1M440.0 344.3h.1M432.9 344.3h.1M447.2 341.6h.1M422.9 347.2h.1M438.2 347.0h.1M418.0 340.3h.1M443.6 352.0h.1M438.0 358.9h.1M439.0 351.0h.1M432.2 355.2h.1M429.4 343.1h.1M435.6 347.3h.1M433.8 353.8h.1M427.6 349.3h.1M447.7 345.6h.1M433.9 346.9h.1M432.5 344.6h.1M436.5 351.8h.1M441.5 350.9h.1M449.0 355.8h.1M407.2 332.5h.1M436.8 343.6h.1M439.5 340.2h.1M429.1 350.3h.1M432.3 349.0h.1M451.4 343.1h.1M440.9 336.4h.1M427.9 343.7h.1M453.0 349.3h.1M435.1 342.2h.1M445.4 345.2h.1M442.3 348.7h.1M455.7 341.9h.1M445.7 335.6h.1M432.6 348.7h.1M440.5 349.3h.1M421.8 337.3h.1M438.9 346.2h.1M434.3 342.5h.1M429.3 345.9h.1M431.1 350.4h.1M430.7 346.8h.1M437.1 342.7h.1M441.3 350.5h.1M444.1 343.9h.1M426.8 342.2h.1M441.8 348.8h.1M445.8 349.2h.1M440.8 348.3h.1M441.4 345.5h.1M425.8 340.9h.1M437.1 343.1h.1M443.4 342.2h.1M436.5 345.7h.1M426.3 329.4h.1M437.1 359.9h.1M430.9 347.8h.1M442.9 346.0h.1M435.8 348.7h.1M438.8 349.0h.1M442.1 345.4h.1M432.9 351.8h.1M449.7 348.6h.1M439.6 347.1h.1M450.0 331.5h.1M448.2 351.1h.1M436.8 347.8h.1M422.1 350.5h.1M436.6 344.8h.1M443.8 361.3h.1M432.5 352.2h.1M432.9 359.6h.1M432.4 347.4h.1M443.8 355.6h.1M431.2 346.8h.1M448.6 346.1h.1M426.6 347.2h.1M428.4 347.8h.1M435.6 344.8h.1M445.4 344.6h.1M424.8 342.9h.1M442.0 339.4h.1M431.8 345.6h.1M433.2 347.3h.1M445.7 351.2h.1M438.1 348.8h.1M444.0 345.2h.1M432.4 349.1h.1M434.3 338.2h.1M443.0 341.9h.1M439.2 348.0h.1M445.8 345.7h.1M428.1 344.7h.1M436.5 332.9h.1M437.4 350.8h.1M433.6 352.7h.1M430.3 339.8h.1M432.5 349.4h.1M442.2 353.6h.1M439.8 341.8h.1M450.3 352.3h.1M457.3 338.0h.1M439.5 344.7h.1M429.8 344.1h.1M426.4 348.6h.1M431.9 340.2h.1M430.5 345.8h.1M423.1 347.9h.1M444.4 355.8h.1M440.2 349.5h.1M452.2 348.4h.1M447.9 351.3h.1M448.3 350.6h.1M428.7 348.0h.1M438.9 348.6h.1M426.4 356.5h.1M447.8 354.6h.1M439.6 341.3h.1M434.3 357.9h.1M449.1 347.0h.1M439.8 338.1h.1M426.9 355.8h.1M436.1 345.3h.1M437.8 350.6h.1M439.0 354.7h.1M458.0 340.6h.1M441.4 345.0h.1M438.8 358.7h.1M439.5 346.5h.1M454.2 352.6h.1M439.6 351.4h.1M435.7 345.8h.1M437.6 343.0h.1M439.7 352.4h.1M439.8 355.7h.1M434.0 341.2h.1M462.9 354.6h.1M427.6 350.8h.1M446.2 337.9h.1M430.9 348.8h.1M437.4 344.8h.1M441.8 345.0h.1M439.1 349.0h.1M448.1 345.1h.1M427.5 355.3h.1M429.8 355.0h.1M435.6 343.9h.1M429.9 350.1h.1M437.9 345.3h.1M435.0 350.2h.1M445.4 343.6h.1M434.4 351.5h.1M439.9 340.8h.1M431.0 342.5h.1M437.3 340.1h.1M435.9 359.2h.1M432.0 342.6h.1M450.6 348.6h.1M431.7 342.1h.1M436.7 348.2h.1M444.7 350.0h.1M437.2 354.8h.1M438.4 347.9h.1M438.3 354.9h.1M455.9 350.8h.1M432.7 343.3h.1M427.1 334.4h.1M439.4 350.0h.1M438.0 353.9h.1M440.0 345.1h.1M415.7 324.2h.1M452.7 352.1h.1M430.4 345.6h.1M445.6 345.4h.1M434.1 343.3h.1M434.7 342.3h.1M440.8 345.8h.1M428.0 356.0h.1M434.1 351.3h.1M433.7 349.9h.1M428.7 336.5h.1M439.7 348.1h.1M441.3 340.4h.1M447.4 359.4h.1M438.6 342.8h.1M428.4 349.6h.1M435.2 348.5h.1M461.0 337.3h.1M435.5 337.0h.1M434.6 349.0h.1M435.0 355.5h.1M431.5 340.9h.1M432.8 335.5h.1M415.9 327.4h.1M444.3 350.9h.1M433.7 336.8h.1M453.5 353.8h.1M432.4 350.4h.1M445.6 349.4h.1M440.8 348.1h.1M457.3 352.1h.1M426.4 345.6h.1M436.2 344.2h.1M430.1 346.7h.1M439.3 341.6h.1M441.6 352.1h.1M434.2 346.3h.1M447.9 343.0h.1M439.7 354.9h.1M449.4 359.0h.1M442.5 335.0h.1M437.5 346.0h.1M444.2 339.2h.1M421.5 338.7h.1M444.5 343.8h.1M433.2 348.0h.1M445.5 348.9h.1M434.8 352.6h.1M444.1 347.0h.1M415.7 352.1h.1M436.1 353.2h.1M434.9 337.7h.1M455.3 343.4h.1M432.5 348.6h.1M450.8 354.6h.1M438.8 352.9h.1M436.7 343.5h.1M436.8 344.5h.1M441.0 346.7h.1M434.1 348.2h.1M436.2 361.3h.1M460.3 348.0h.1M448.4 345.6h.1M450.8 350.1h.1M432.3 346.5h.1M420.2 345.7h.1M441.5 346.4h.1M436.8 337.2h.1M439.1 354.2h.1M440.1 355.8h.1M447.4 355.2h.1M438.2 352.0h.1M425.3 358.9h.1M433.1 357.2h.1M435.8 349.1h.1M435.4 359.5h.1M438.0 342.2h.1M435.9 347.6h.1M447.3 355.9h.1M432.2 345.9h.1M438.4 341.9h.1M430.0 331.3h.1M430.7 338.6h.1M425.7 356.5h.1M435.4 345.2h.1M451.8 353.8h.1M441.3 339.6h.1M445.0 341.8h.1M426.4 346.4h.1M427.1 346.7h.1M446.4 346.5h.1M434.6 335.4h.1M442.7 350.7h.1M439.0 344.5h.1M435.7 342.6h.1M437.7 348.4h.1M441.0 343.8h.1M427.8 356.2h.1M438.8 354.9h.1M437.5 333.3h.1M437.8 334.9h.1M429.8 342.2h.1M457.4 358.2h.1M441.1 338.2h.1M438.7 348.0h.1M441.9 353.6h.1M434.0 326.0h.1M438.5 351.8h.1M449.6 345.8h.1M442.4 345.7h.1M422.2 346.8h.1M429.5 344.6h.1M439.8 353.2h.1M445.3 353.8h.1M432.8 351.4h.1M439.4 355.1h.1M442.2 349.3h.1M441.3 350.1h.1M432.0 346.0h.1M436.9 347.1h.1M440.1 351.3h.1M429.9 355.2h.1M444.2 351.4h.1M428.6 348.4h.1M429.2 353.5h.1M439.3 354.3h.1M418.7 352.0h.1M434.6 354.5h.1M433.6 347.4h.1M420.4 351.6h.1M440.2 351.7h.1M438.4 343.4h.1M443.4 349.7h.1M443.2 347.1h.1M450.7 346.3h.1M442.3 348.7h.1M431.6 345.5h.1M420.3 342.4h.1M428.2 352.0h.1M429.4 349.5h.1M437.8 340.7h.1M424.1 347.7h.1M442.6 338.6h.1M431.4 343.2h.1M441.1 346.7h.1M439.6 348.2h.1M439.7 352.1h.1M431.4 347.0h.1M444.3 341.9h.1M461.8 339.4h.1M451.7 351.9h.1M434.4 345.6h.1M433.3 342.8h.1M431.9 352.1h.1M455.3 334.0h.1M447.5 345.1h.1M421.1 349.1h.1M431.5 346.2h.1M433.0 353.3h.1M415.8 337.3h.1M429.8 356.0h.1M430.7 347.1h.1M448.9 348.1h.1M433.0 350.2h.1M444.6 352.1h.1M424.3 346.3h.1M431.0 348.3h.1M452.1 349.2h.1M417.2 341.5h.1M429.2 343.0h.1M437.9 345.4h.1M436.8 355.5h.1M433.5 345.6h.1M436.6 346.1h.1M426.8 348.7h.1M433.9 346.3h.1M443.0 350.9h.1M446.8 347.2h.1M442.3 334.2h.1M424.6 348.7h.1M434.5 355.0h.1M436.8 349.5h.1M446.0 347.8h.1M436.9 344.0h.1M426.5 334.7h.1M451.7 350.1h.1M425.1 350.2h.1M432.7 347.6h.1M452.2 355.3h.1M435.2 335.8h.1M424.2 348.7h.1M442.3 346.1h.1M430.7 341.0h.1M429.7 341.7h.1M431.9 355.8h.1M437.2 354.6h.1M428.1 354.2h.1M437.0 354.3h.1M451.1 347.5h.1M433.5 343.3h.1M433.5 344.4h.1M439.9 344.5h.1M431.4 343.7h.1M440.1 344.1h.1M421.2 346.9h.1M444.0 351.6h.1M420.3 346.4h.1M444.8 342.0h.1M437.8 349.7h.1M426.5 339.0h.1M437.1 344.7h.1M437.9 337.2h.1M440.6 341.3h.1M422.9 321.7h.1M444.7 345.5h.1M438.4 342.2h.1M432.1 350.6h.1M443.2 353.1h.1M440.2 354.5h.1M439.8 350.1h.1M424.5 335.8h.1M431.6 345.4h.1M435.6 350.8h.1M450.7 353.7h.1M453.8 342.6h.1M435.2 359.7h.1M443.0 341.4h.1M431.1 344.9h.1M451.8 341.0h.1M423.9 349.3h.1M416.4 348.5h.1M445.0 337.0h.1M430.5 351.5h.1M438.4 346.4h.1M425.7 347.0h.1M423.2 350.8h.1M420.3 351.6h.1M447.3 332.7h.1M437.9 342.4h.1M439.5 344.8h.1M444.7 352.4h.1M448.9 349.2h.1M441.8 344.8h.1M445.1 344.2h.1M446.3 350.9h.1M428.5 360.7h.1M435.1 341.7h.1M441.6 358.9h.1M435.2 347.2h.1M448.2 352.1h.1M434.8 348.5h.1M441.3 346.6h.1M436.4 343.6h.1M418.5 345.9h.1M433.1 353.4h.1M438.7 353.5h.1M438.4 350.3h.1M428.9 348.0h.1M452.8 350.8h.1M437.6 351.6h.1M421.6 346.4h.1M430.3 341.4h.1M437.8 343.8h.1M438.0 348.7h.1M445.1 357.7h.1M438.0 358.6h.1M445.8 342.4h.1M435.0 346.6h.1M438.4 348.3h.1M434.6 347.6h.1M432.0 349.5h.1M430.0 349.1h.1M446.3 348.9h.1M425.7 350.1h.1M420.5 345.0h.1M444.7 339.6h.1M443.9 350.1h.1M440.0 349.8h.1M429.1 343.9h.1M433.7 348.9h.1M424.5 349.6h.1M438.8 351.4h.1M463.7 342.6h.1M436.0 355.0h.1M423.5 337.9h.1M452.3 342.1h.1M429.1 347.9h.1M437.6 349.1h.1M411.3 348.1h.1M428.8 348.5h.1M440.6 345.2h.1M431.3 348.9h.1M437.4 339.2h.1M428.3 348.2h.1M444.4 358.7h.1M451.8 360.7h.1M436.7 339.9h.1M435.2 348.1h.1M434.5 344.5h.1M436.7 344.5h.1M432.3 339.7h.1M436.4 338.0h.1M432.7 359.8h.1M437.7 341.7h.1M438.1 347.6h.1M446.7 349.4h.1M434.3 359.6h.1M430.8 349.5h.1M451.3 349.5h.1M453.3 345.2h.1M406.3 355.3h.1M443.8 357.0h.1M443.0 353.6h.1M453.2 354.1h.1M455.4 335.3h.1M445.4 352.7h.1M434.0 350.4h.1M445.7 352.1h.1M442.7 347.3h.1M445.4 357.8h.1M437.4 346.8h.1M444.2 337.3h.1M419.3 340.2h.1M417.7 347.4h.1M444.1 348.4h.1M435.6 351.8h.1M435.0 340.8h.1M441.2 354.0h.1M424.1 339.3h.1M433.4 353.6h.1M440.3 344.9h.1M455.1 360.1h.1M429.8 349.1h.1M435.2 354.1h.1M442.5 351.5h.1M422.0 355.8h.1M435.1 346.4h.1M444.6 345.8h.1M438.2 342.3h.1M437.5 352.0h.1M429.5 347.5h.1M429.9 352.7h.1M441.0 353.5h.1M446.2 349.3h.1M433.7 350.0h.1M444.2 346.3h.1M444.7 344.7h.1M433.6 336.8h.1M432.5 351.6h.1M441.1 344.7h.1M426.2 348.3h.1M439.1 348.8h.1M431.9 341.3h.1M439.8 353.1h.1M432.4 345.1h.1M428.7 346.0h.1M434.0 354.2h.1M434.7 345.7h.1M438.5 345.3h.1M439.6 347.6h.1M437.3 341.4h.1M439.6 343.8h.1M453.7 341.0h.1M433.6 348.3h.1M435.8 345.4h.1M430.0 342.6h.1M445.1 355.1h.1M429.7 333.7h.1M445.5 342.9h.1M463.6 357.3h.1M448.6 349.6h.1M443.1 349.0h.1M442.7 346.7h.1M441.3 347.5h.1M452.0 352.4h.1M419.3 340.3h.1M434.9 354.3h.1M434.7 340.0h.1M436.1 352.4h.1M434.7 348.5h.1M440.2 335.4h.1M429.6 349.7h.1M436.8 347.8h.1M455.2 347.6h.1M432.0 348.2h.1M438.7 350.1h.1M437.2 344.5h.1M428.9 361.9h.1M442.5 343.9h.1M434.6 347.6h.1M433.9 347.4h.1M423.9 349.3h.1M430.7 346.1h.1M442.1 352.1h.1M439.9 356.8h.1M457.0 337.9h.1M439.5 348.6h.1M450.3 345.4h.1M444.4 340.7h.1M440.1 345.0h.1M438.3 341.7h.1M433.1 341.0h.1M436.3 340.5h.1M444.4 349.9h.1M437.6 325.7h.1M425.1 348.6h.1M441.5 345.0h.1M450.4 339.9h.1M461.6 345.3h.1M432.7 342.1h.1M435.7 348.5h.1M445.2 342.3h.1M425.3 345.5h.1M432.8 350.4h.1M433.4 349.4h.1M448.8 341.9h.1M436.6 354.1h.1M439.3 342.0h.1M427.6 343.3h.1M454.2 356.6h.1M439.7 352.4h.1M442.0 359.2h.1M447.8 342.9h.1M439.3 346.8h.1M443.2 347.5h.1M417.8 343.6h.1M441.0 341.2h.1M429.7 352.9h.1M435.9 355.2h.1M450.1 360.1h.1M440.7 351.7h.1M429.3 341.1h.1M436.3 352.0h.1M435.0 347.5h.1M438.6 338.1h.1M450.7 339.9h.1M431.2 346.2h.1M415.3 340.3h.1M436.9 351.7h.1M429.2 346.7h.1M425.3 336.9h.1M436.9 346.7h.1M440.5 347.7h.1M435.4 356.8h.1M425.8 356.8h.1M435.1 349.5h.1M394.6 346.1h.1M432.6 353.7h.1M450.2 331.9h.1M428.4 348.4h.1M444.0 356.8h.1M444.9 348.2h.1M456.2 339.2h.1M414.5 335.7h.1M444.5 351.0h.1M442.0 355.9h.1M453.0 357.9h.1M456.6 344.4h.1M409.6 331.2h.1M431.2 350.3h.1M447.8 344.7h.1M432.0 346.3h.1M429.2 331.7h.1M427.8 346.4h.1M423.0 347.3h.1M438.4 356.6h.1M426.3 340.4h.1M441.3 344.1h.1M443.6 346.8h.1M448.3 345.5h.1M435.0 345.9h.1M424.7 346.3h.1M463.3 342.6h.1M428.3 335.7h.1M429.5 339.5h.1M440.5 350.3h.1M444.6 341.9h.1M435.8 342.7h.1M440.3 346.2h.1M440.3 347.3h.1M445.6 351.5h.1M428.0 345.6h.1M431.3 351.2h.1M424.5 336.4h.1M445.1 345.1h.1M425.7 349.2h.1M431.3 349.7h.1M432.6 351.5h.1M436.3 347.6h.1M448.4 347.9h.1M443.1 341.8h.1M439.4 341.2h.1M438.0 344.2h.1M440.1 344.6h.1M447.9 338.9h.1M428.7 348.0h.1M439.0 352.8h.1M463.5 358.2h.1M442.9 352.0h.1M428.0 343.5h.1M435.9 344.8h.1M429.5 349.1h.1M431.1 347.8h.1M448.1 348.7h.1M437.9 348.8h.1M442.4 353.0h.1M429.6 350.5h.1M437.1 347.1h.1M433.2 345.3h.1M447.3 344.0h.1M446.6 353.5h.1M441.8 355.1h.1M436.0 345.7h.1M448.1 347.1h.1M435.6 350.0h.1M432.8 345.2h.1M436.7 348.3h.1M447.6 349.3h.1M414.7 342.3h.1M439.9 351.0h.1M424.8 344.1h.1M416.9 359.2h.1M427.5 343.9h.1M435.3 339.9h.1M444.2 341.1h.1M434.6 357.6h.1M441.7 342.6h.1M441.6 344.2h.1M430.8 348.2h.1M434.5 346.8h.1M434.1 350.7h.1M443.1 341.3h.1M443.3 356.9h.1M446.6 351.2h.1M441.4 342.6h.1M440.9 344.4h.1M432.1 333.8h.1M423.9 347.4h.1M442.4 355.3h.1M452.1 342.1h.1M431.3 354.7h.1M422.2 348.9h.1M448.0 354.3h.1M435.0 338.2h.1M434.0 355.6h.1M428.8 345.9h.1M445.3 351.2h.1M436.9 337.5h.1M431.4 342.2h.1M435.3 351.6h.1M437.8 343.3h.1M431.6 351.9h.1M445.9 342.9h.1M433.6 349.9h.1M437.2 358.7h.1M450.8 352.8h.1M448.7 349.9h.1M438.9 343.2h.1M446.4 360.0h.1M433.4 338.5h.1M426.7 346.9h.1M447.6 343.7h.1M437.2 340.0h.1M433.5 341.6h.1M428.7 345.4h.1M441.7 340.6h.1M451.4 348.4h.1M445.6 334.4h.1M428.0 347.7h.1M432.5 355.6h.1M435.1 346.9h.1M447.8 346.6h.1M414.5 343.1h.1M440.9 342.7h.1M435.8 346.8h.1M436.3 344.9h.1M432.3 347.2h.1M436.5 359.0h.1M443.7 355.9h.1M443.9 355.4h.1M433.7 337.3h.1M438.3 344.5h.1M433.6 338.7h.1M446.3 356.1h.1M413.5 352.5h.1M438.7 347.0h.1M433.8 342.3h.1M432.6 355.0h.1M413.9 351.8h.1M428.5 349.2h.1M434.8 350.4h.1M460.3 332.0h.1M438.3 349.7h.1M431.1 346.4h.1M434.2 342.4h.1M444.1 356.4h.1M428.5 347.1h.1M422.5 357.9h.1M439.8 341.9h.1M430.4 346.2h.1M440.6 349.6h.1M431.3 341.9h.1M428.9 342.3h.1M431.5 345.4h.1M439.9 349.8h.1M431.5 342.8h.1M434.3 350.6h.1M440.2 343.4h.1M440.0 346.6h.1M430.9 351.3h.1M457.9 322.9h.1M447.6 352.1h.1M435.2 353.6h.1M451.5 340.4h.1M422.6 346.5h.1M451.5 350.8h.1M443.8 341.8h.1M428.2 353.7h.1M427.1 346.6h.1M433.1 357.4h.1M430.1 346.3h.1M446.2 344.0h.1M435.2 348.9h.1M430.9 341.8h.1M429.5 349.7h.1M445.6 349.1h.1M434.8 344.6h.1M431.3 356.4h.1M435.7 340.9h.1M444.5 339.8h.1M437.3 350.1h.1M418.6 352.0h.1M433.7 342.9h.1M442.2 347.6h.1M438.4 349.1h.1M448.8 348.6h.1M432.9 357.5h.1M441.2 333.7h.1M435.0 353.8h.1M448.7 352.2h.1M441.2 341.6h.1M432.6 355.3h.1M442.8 338.1h.1M430.8 351.5h.1M440.9 348.8h.1M441.2 340.2h.1M432.1 340.5h.1M416.0 352.6h.1M440.8 344.4h.1M444.3 348.4h.1M428.3 348.5h.1M444.5 340.0h.1M440.7 357.1h.1M425.4 346.3h.1M429.0 348.8h.1M433.4 348.3h.1M431.5 342.7h.1M448.4 336.4h.1M432.6 351.4h.1M443.9 350.1h.1M441.1 354.9h.1M429.9 336.6h.1M430.6 352.0h.1M434.6 351.0h.1M446.2 349.1h.1M440.8 354.1h.1M439.5 350.0h.1M447.0 343.9h.1M428.9 350.5h.1M432.9 347.5h.1M441.3 353.3h.1M431.4 345.9h.1M422.0 352.9h.1M442.0 352.1h.1M442.4 340.4h.1M413.9 350.1h.1M439.6 349.0h.1M449.5 344.5h.1M440.4 357.3h.1M435.7 339.8h.1M441.0 349.6h.1M437.4 354.0h.1M431.4 347.5h.1M461.4 350.5h.1M437.0 347.5h.1M444.9 346.2h.1M451.1 351.1h.1M440.1 346.9h.1M446.8 338.9h.1M458.9 354.3h.1M452.3 336.6h.1M433.0 347.8h.1M428.0 344.5h.1M460.5 356.4h.1M436.7 343.6h.1M436.0 343.3h.1M433.4 355.3h.1M445.7 347.6h.1M447.4 352.6h.1M426.9 353.0h.1M438.5 358.5h.1M449.7 344.9h.1M444.1 335.3h.1M441.0 339.3h.1M436.8 344.4h.1M434.2 335.4h.1M437.5 349.8h.1M435.4 348.3h.1M453.5 352.5h.1M419.9 355.0h.1M446.3 346.4h.1M441.7 350.2h.1M432.8 344.1h.1M427.8 352.0h.1M438.0 342.6h.1M440.1 349.3h.1M433.5 346.6h.1M438.2 341.0h.1M447.0 357.5h.1M434.4 348.8h.1M424.0 354.2h.1M432.3 357.5h.1M447.9 355.1h.1M428.6 346.3h.1M437.0 351.7h.1M422.6 343.9h.1M448.8 350.8h.1M422.8 355.7h.1M426.7 346.9h.1M436.8 339.6h.1M456.8 348.8h.1M443.6 349.5h.1M436.6 342.8h.1M428.2 349.9h.1M431.8 343.8h.1M433.5 345.6h.1M450.6 360.8h.1M426.0 341.1h.1M428.5 344.3h.1M471.8 343.6h.1M426.1 337.4h.1M433.6 350.4h.1M430.2 349.1h.1M430.7 353.9h.1M442.2 341.8h.1M425.0 338.7h.1M422.9 354.3h.1M423.9 348.7h.1M432.5 337.7h.1M442.7 336.2h.1M436.9 344.5h.1M430.4 349.2h.1M441.5 349.9h.1M429.6 343.6h.1M432.9 339.6h.1M440.0 344.2h.1M427.1 354.5h.1M429.1 347.0h.1M432.1 338.1h.1" stroke="#000" stroke-width="0.9" stroke-linecap="round" stroke-opacity="0.6" fill="none"/>
<path d="M399.7 345.9h.1M404.4 347.3h.1M383.8 352.3h.1M410.6 341.2h.1M402.9 340.5h.1M395.3 347.4h.1M392.9 347.5h.1M402.1 345.0h.1M394.0 346.3h.1M398.5 344.1h.1M403.0 350.1h.1M390.7 340.2h.1M393.7 354.5h.1M401.7 348.2h.1M414.1 357.8h.1M400.7 356.9h.1M393.8 345.9h.1M398.1 336.4h.1M396.3 345.0h.1M408.1 351.7h.1M410.0 345.3h.1M409.2 349.1h.1M400.8 350.7h.1M384.8 353.8h.1M392.0 352.1h.1M395.6 342.0h.1M393.3 350.0h.1M393.4 358.7h.1M406.9 348.7h.1M392.8 357.2h.1M396.4 355.4h.1M383.9 335.7h.1M402.9 353.9h.1M394.6 347.1h.1M400.2 351.4h.1M395.4 348.3h.1M398.2 354.9h.1M402.4 332.0h.1M399.2 346.2h.1M405.7 352.6h.1M391.4 347.6h.1M386.3 348.9h.1M389.7 355.9h.1M407.6 345.9h.1M388.2 356.2h.1M384.0 345.9h.1M392.7 349.7h.1M396.5 342.4h.1M403.9 350.5h.1M399.0 358.0h.1M412.9 349.7h.1M392.4 346.4h.1M395.0 341.4h.1M389.8 344.9h.1M400.7 352.8h.1M390.6 341.4h.1M395.8 337.1h.1M394.0 349.4h.1M399.6 345.4h.1M399.8 352.8h.1M392.9 341.5h.1M391.5 349.9h.1M398.5 337.5h.1M382.7 338.0h.1M412.2 350.8h.1M397.6 340.7h.1M401.6 332.7h.1M410.4 350.5h.1M395.6 349.7h.1M404.1 335.6h.1M398.6 340.1h.1M392.4 346.8h.1M392.2 343.4h.1M397.6 345.6h.1M398.4 352.8h.1M388.4 346.9h.1M388.4 353.2h.1M402.6 354.5h.1M405.5 348.8h.1M387.1 343.3h.1M406.9 348.9h.1M403.2 344.5h.1M394.0 360.1h.1M404.8 338.2h.1M389.9 349.0h.1M405.4 354.1h.1M403.7 355.8h.1M402.3 353.4h.1M388.2 340.5h.1M391.5 356.0h.1M408.1 341.3h.1M393.5 348.6h.1M401.2 350.2h.1M409.3 349.7h.1M394.1 346.5h.1M405.8 346.5h.1M400.8 345.5h.1M385.6 334.7h.1M393.4 343.1h.1M403.3 345.7h.1M387.7 352.6h.1M392.3 361.1h.1M392.0 348.6h.1M389.1 357.6h.1M398.6 346.6h.1M395.2 335.1h.1M407.3 348.1h.1M406.4 342.8h.1M408.9 344.0h.1M396.3 360.7h.1M391.6 348.2h.1M394.6 348.8h.1M397.4 347.1h.1M399.9 345.4h.1M407.9 352.4h.1M385.9 344.8h.1M393.1 354.0h.1M388.4 345.9h.1M403.1 353.9h.1M395.1 346.8h.1M387.3 355.4h.1M382.0 343.9h.1M402.2 359.5h.1M393.2 350.8h.1M390.5 349.4h.1M391.3 350.8h.1M394.8 342.0h.1M382.2 341.9h.1M395.6 352.6h.1M406.0 354.1h.1M414.4 354.3h.1M412.1 353.1h.1M398.9 337.3h.1M404.7 347.2h.1M392.6 339.8h.1M407.3 348.0h.1M392.2 343.2h.1M395.2 350.9h.1M401.4 348.8h.1M398.0 348.5h.1M392.2 355.3h.1M394.8 344.5h.1M411.4 342.2h.1M392.0 348.8h.1M394.5 347.5h.1M404.6 354.4h.1M384.1 359.8h.1M385.5 341.6h.1M402.1 341.8h.1M385.3 353.3h.1M400.5 350.5h.1M408.6 354.6h.1M391.9 345.1h.1M399.7 345.5h.1M398.3 353.6h.1M398.4 339.3h.1M410.7 347.7h.1M399.1 337.9h.1M395.7 340.1h.1M410.2 345.1h.1M383.6 347.3h.1M387.7 348.5h.1M387.6 337.3h.1M383.0 319.9h.1M391.3 321.9h.1M399.1 322.0h.1M393.1 309.3h.1M394.0 318.7h.1M389.4 319.8h.1M396.0 315.2h.1M406.7 323.5h.1M413.1 328.9h.1M397.7 306.9h.1M389.0 317.8h.1M405.8 310.4h.1M401.2 319.7h.1M390.4 323.4h.1M391.6 330.1h.1M392.2 303.4h.1M390.5 298.2h.1M399.4 303.2h.1M399.4 316.6h.1M397.8 316.1h.1M399.4 323.1h.1M387.0 319.6h.1M384.1 312.2h.1M386.5 326.3h.1M399.0 310.9h.1M393.6 305.7h.1M401.2 307.2h.1M400.5 326.5h.1M402.9 327.0h.1M388.7 300.1h.1M393.1 312.0h.1M396.8 304.2h.1M415.1 320.8h.1M399.3 317.1h.1M391.0 300.0h.1M387.9 312.3h.1M407.0 329.1h.1M388.3 323.0h.1M396.1 321.9h.1M395.9 309.8h.1M385.1 319.5h.1M389.1 307.8h.1M401.5 334.6h.1M409.1 309.9h.1M410.5 299.1h.1M401.4 317.2h.1M393.9 317.8h.1M386.3 306.9h.1M382.9 304.7h.1M386.0 309.1h.1M396.4 299.6h.1M398.2 314.3h.1M391.5 311.6h.1M401.9 299.8h.1M396.2 312.3h.1M399.0 319.4h.1M411.7 313.3h.1M402.6 302.8h.1M384.7 306.9h.1M393.3 306.6h.1M396.4 327.1h.1M389.6 315.8h.1M406.7 329.8h.1M402.7 312.3h.1M399.3 315.1h.1M389.3 305.0h.1M397.4 300.3h.1M387.2 305.9h.1M402.7 306.7h.1M391.9 306.5h.1M396.5 322.3h.1M414.6 325.4h.1M397.7 305.0h.1M405.7 293.0h.1M408.8 315.0h.1M388.7 321.1h.1M400.3 319.6h.1M393.1 299.3h.1M404.3 318.3h.1M390.4 316.2h.1M408.3 315.8h.1M404.3 324.2h.1M391.0 317.0h.1M390.7 319.2h.1M397.3 321.6h.1M396.6 313.7h.1M396.2 319.2h.1M402.4 296.7h.1M392.9 323.4h.1M389.4 319.0h.1M399.3 320.3h.1M399.9 311.1h.1M406.1 303.9h.1M404.2 307.9h.1M394.2 323.4h.1M393.1 315.2h.1M397.4 306.8h.1M396.3 295.6h.1M390.4 312.3h.1M401.3 312.4h.1M385.2 312.8h.1M409.0 315.6h.1M399.2 314.8h.1M395.0 307.3h.1M395.7 315.8h.1M388.1 323.1h.1M397.2 328.2h.1M396.4 322.6h.1M385.7 319.4h.1M394.6 312.1h.1M386.9 324.5h.1M397.6 323.9h.1M404.6 306.8h.1M393.5 304.2h.1M394.1 310.9h.1M389.2 314.9h.1M391.3 314.9h.1M405.5 321.6h.1M398.9 326.7h.1M396.6 316.1h.1M396.0 300.1h.1M396.2 303.6h.1M408.4 317.6h.1M389.8 323.3h.1M396.4 307.0h.1M404.6 321.2h.1M401.0 326.5h.1M384.6 305.7h.1M393.4 315.9h.1M388.3 310.0h.1M400.3 336.1h.1M401.2 302.3h.1M404.3 318.6h.1M398.6 309.6h.1M388.0 306.3h.1M411.0 323.4h.1M387.6 314.6h.1M386.2 309.2h.1M397.6 331.6h.1M383.6 328.9h.1M403.2 303.1h.1M388.7 326.3h.1M412.2 322.4h.1M398.1 320.1h.1M390.5 309.5h.1M388.4 312.9h.1M392.3 316.2h.1M392.1 325.4h.1M386.3 323.0h.1M397.7 325.6h.1M395.3 330.7h.1M392.7 330.8h.1M388.3 320.7h.1M398.4 313.1h.1M398.2 314.1h.1M398.8 318.1h.1M385.2 315.0h.1M401.4 306.1h.1M399.8 319.9h.1M403.7 315.4h.1M388.7 309.8h.1M391.5 324.2h.1M405.2 319.2h.1M426.0 326.8h.1M418.6 327.8h.1M427.9 319.1h.1M420.6 325.6h.1M438.2 328.5h.1M427.3 335.6h.1M405.0 319.1h.1M436.5 324.0h.1M424.6 319.8h.1M425.8 322.9h.1M433.9 311.5h.1M441.8 305.0h.1M427.9 322.8h.1M409.6 308.8h.1M450.9 326.3h.1M419.9 317.8h.1M435.0 340.9h.1M433.3 323.6h.1M434.9 314.0h.1M431.2 317.0h.1M429.0 317.9h.1M424.1 310.7h.1M433.9 323.3h.1M449.8 335.6h.1M428.8 317.9h.1M435.7 322.6h.1M426.7 314.3h.1M463.6 318.0h.1M414.0 313.2h.1M437.4 318.2h.1M421.0 312.4h.1M457.4 307.9h.1M444.3 319.3h.1M446.6 320.0h.1M442.1 316.3h.1M428.3 327.0h.1M420.6 304.8h.1M438.4 320.0h.1M426.2 321.5h.1M431.9 310.4h.1M428.9 324.7h.1M421.1 337.4h.1M429.7 309.2h.1M446.0 319.2h.1M435.8 332.1h.1M432.2 317.5h.1M453.4 319.0h.1M425.2 316.9h.1M438.9 328.5h.1M425.3 312.8h.1M435.5 322.4h.1M429.5 314.6h.1M415.8 324.4h.1M430.3 305.7h.1M442.0 318.5h.1M419.3 324.4h.1M444.7 323.4h.1M460.4 314.9h.1M421.3 321.2h.1M435.6 326.6h.1M430.9 310.1h.1M422.2 328.2h.1M432.1 317.6h.1M442.9 311.7h.1M439.3 305.9h.1M432.5 314.0h.1M441.2 324.9h.1M432.1 318.7h.1M413.5 313.8h.1M437.8 337.3h.1M451.0 331.9h.1M431.1 311.2h.1M418.9 315.8h.1M418.7 327.7h.1M427.5 304.8h.1M420.2 331.6h.1M440.9 321.2h.1M422.6 311.9h.1M447.6 325.5h.1M437.6 307.7h.1M439.3 331.7h.1M425.1 303.5h.1M419.2 316.8h.1M416.0 320.6h.1M428.9 322.3h.1M426.8 318.8h.1M438.9 331.5h.1M452.4 320.1h.1M422.5 302.6h.1M426.4 308.4h.1M434.5 322.1h.1M444.7 306.3h.1M439.5 337.8h.1M422.0 306.1h.1M432.9 310.9h.1M425.0 321.7h.1M439.7 326.8h.1M417.8 328.7h.1M430.0 321.5h.1M444.4 320.3h.1M454.6 315.8h.1M421.6 306.6h.1M450.8 320.3h.1M425.6 314.9h.1M448.4 320.5h.1M443.8 322.0h.1M447.3 320.0h.1M458.7 322.6h.1M432.4 315.4h.1M459.4 319.2h.1M441.0 305.6h.1M412.2 320.0h.1M430.6 303.1h.1M431.1 321.3h.1M417.5 319.9h.1M443.5 312.6h.1M432.4 319.9h.1M444.5 335.1h.1M448.0 318.3h.1M443.7 314.3h.1M442.2 309.7h.1M423.1 322.4h.1M439.1 319.9h.1M447.4 322.9h.1M431.8 317.8h.1M429.2 319.0h.1M424.4 313.7h.1M426.7 315.3h.1M446.0 312.1h.1M431.5 302.8h.1M428.8 319.0h.1M418.8 313.1h.1M432.2 307.7h.1M424.8 317.2h.1M434.1 321.4h.1M422.0 328.7h.1M443.0 321.3h.1M428.1 315.9h.1M456.8 332.4h.1M432.8 313.7h.1M443.9 317.2h.1M438.9 333.5h.1M425.7 321.7h.1M403.0 315.1h.1M432.2 328.8h.1M429.6 317.6h.1M439.5 322.1h.1M432.7 305.6h.1M444.6 324.4h.1M434.3 313.4h.1M417.7 317.4h.1M425.7 314.9h.1M426.8 308.4h.1M439.5 316.9h.1M433.3 322.2h.1M426.2 310.9h.1M415.9 314.8h.1M440.4 327.6h.1M445.0 325.9h.1M436.2 314.3h.1M426.9 315.7h.1M430.2 309.8h.1M435.9 324.7h.1M426.5 303.9h.1M428.0 329.7h.1M420.3 325.7h.1M424.5 317.5h.1M432.9 319.0h.1M439.8 315.6h.1M421.6 303.7h.1M417.5 326.9h.1M433.7 329.7h.1M421.1 312.1h.1M433.9 314.7h.1M418.4 326.0h.1M429.9 314.5h.1M430.1 319.4h.1M429.0 318.1h.1M445.3 312.2h.1M434.7 315.2h.1M426.6 320.4h.1M420.5 324.4h.1M446.2 299.0h.1M421.0 329.9h.1M444.0 302.5h.1M432.2 331.8h.1M445.5 322.1h.1M439.2 314.8h.1M423.3 326.7h.1M422.8 327.7h.1M435.7 320.2h.1M438.7 320.0h.1M424.2 316.5h.1M418.3 331.6h.1M427.8 300.2h.1M440.1 314.7h.1M438.9 327.1h.1M434.0 313.3h.1M428.8 320.3h.1M436.2 312.0h.1M415.7 322.1h.1M443.2 320.7h.1M420.4 332.3h.1M446.7 323.1h.1M424.3 316.1h.1M446.3 302.3h.1M415.7 335.9h.1M416.6 312.7h.1M425.5 321.0h.1M447.7 320.8h.1M420.3 320.5h.1M411.4 321.6h.1M440.4 332.3h.1M421.5 317.9h.1M417.0 326.8h.1M421.3 315.8h.1M432.5 326.9h.1M422.6 313.8h.1M421.4 323.7h.1M414.8 319.3h.1M429.7 325.4h.1M431.8 321.1h.1M434.2 310.5h.1M450.5 328.6h.1M432.0 322.3h.1M415.7 304.8h.1M426.8 319.0h.1M431.2 310.6h.1M433.7 303.7h.1M442.3 318.1h.1M439.4 304.6h.1M430.8 333.7h.1M425.6 327.0h.1M423.8 317.7h.1M424.2 317.5h.1M421.5 343.7h.1M418.5 326.3h.1M427.1 326.7h.1M427.9 316.7h.1M425.2 310.2h.1M431.2 314.6h.1M431.7 322.8h.1M424.2 333.3h.1M434.5 312.3h.1M428.8 323.7h.1M433.8 316.7h.1M418.8 300.2h.1M422.9 330.5h.1M426.6 324.0h.1M428.7 322.4h.1M430.3 318.5h.1M444.2 306.7h.1M439.8 313.8h.1M428.8 317.5h.1M455.5 339.2h.1M431.2 331.1h.1M437.1 312.8h.1M439.6 306.6h.1M436.4 313.8h.1M405.4 312.7h.1M439.8 314.1h.1M434.4 318.3h.1M433.2 326.1h.1M428.9 300.7h.1M427.5 328.5h.1M408.8 321.3h.1M433.0 329.2h.1M420.1 306.4h.1M435.7 304.1h.1M442.1 325.0h.1M433.6 326.9h.1M449.3 326.4h.1M427.2 328.3h.1M425.4 305.3h.1M426.9 316.2h.1M425.8 334.1h.1M411.2 304.7h.1M418.1 322.7h.1M450.1 324.6h.1M446.7 311.1h.1M439.0 347.9h.1M433.7 352.6h.1M431.5 336.5h.1M444.1 345.1h.1M417.0 330.6h.1M393.6 351.7h.1M426.5 349.8h.1M396.5 350.1h.1M443.3 330.2h.1M443.0 333.1h.1M445.8 341.2h.1M434.7 333.4h.1M442.6 351.1h.1M449.7 358.3h.1M441.6 345.3h.1M425.8 345.3h.1M410.0 345.7h.1M414.9 339.5h.1M436.3 351.7h.1M439.9 341.0h.1M440.6 342.4h.1M434.4 344.7h.1M394.8 358.1h.1M433.8 361.1h.1M455.2 346.5h.1M426.5 343.5h.1M458.9 333.8h.1M416.1 338.3h.1M422.1 337.9h.1M425.0 347.3h.1M407.0 353.2h.1M422.2 344.9h.1M410.9 354.1h.1M461.9 345.6h.1M431.4 332.1h.1M466.3 345.2h.1M438.4 345.6h.1M387.4 338.2h.1M410.9 342.6h.1M471.9 351.3h.1M425.5 337.8h.1M443.3 340.2h.1M397.4 347.6h.1M436.5 346.1h.1M410.0 346.5h.1M434.9 329.2h.1M457.6 348.6h.1M439.2 341.3h.1M401.0 347.8h.1M455.8 344.5h.1M398.1 349.3h.1M440.1 347.3h.1M426.1 353.3h.1M425.4 359.6h.1M419.0 330.0h.1M431.3 350.1h.1M468.8 334.7h.1M424.0 349.8h.1M403.4 343.1h.1M405.4 337.4h.1M424.8 337.8h.1M433.6 348.1h.1M448.3 349.5h.1M429.9 345.7h.1M403.5 342.7h.1M402.5 346.2h.1M446.2 352.1h.1M458.5 346.4h.1M422.0 355.5h.1M398.9 351.0h.1M416.4 343.4h.1M442.2 355.0h.1M402.6 341.6h.1M439.5 331.5h.1M414.0 346.9h.1M466.0 352.6h.1M406.3 346.0h.1M407.6 345.5h.1M413.4 341.1h.1M428.0 351.2h.1M410.8 358.1h.1M418.9 346.6h.1M414.0 332.9h.1M443.5 352.8h.1M426.6 344.7h.1M434.6 340.6h.1M397.5 359.4h.1M439.9 351.4h.1M440.4 344.5h.1M396.8 344.1h.1M433.8 340.3h.1M447.9 351.1h.1M440.1 350.0h.1M416.5 345.3h.1M435.6 328.9h.1M441.9 358.3h.1M434.2 339.4h.1M425.7 357.1h.1M441.3 346.6h.1M470.5 354.2h.1M419.8 358.2h.1M422.2 349.6h.1M411.5 339.3h.1M446.7 346.8h.1M429.8 337.1h.1M418.2 343.5h.1M440.8 334.3h.1M421.0 352.7h.1M435.9 341.0h.1M438.9 345.9h.1M422.1 357.0h.1M396.0 339.1h.1M451.2 354.3h.1M436.9 340.5h.1M432.5 350.6h.1M440.7 358.1h.1M394.6 346.5h.1M454.4 346.7h.1M447.7 351.2h.1M460.1 353.5h.1M450.1 334.3h.1M400.5 348.4h.1M418.8 351.9h.1M430.1 340.0h.1M431.2 340.9h.1M413.3 348.6h.1M437.5 355.7h.1M436.8 348.0h.1M432.2 342.9h.1M438.9 329.3h.1M452.6 337.7h.1M444.1 348.7h.1M460.4 345.1h.1M408.5 335.0h.1M445.6 359.1h.1M407.8 346.5h.1M486.1 343.9h.1M432.6 355.1h.1M402.8 346.0h.1M405.9 343.5h.1M437.3 335.5h.1M434.6 355.2h.1M430.4 346.0h.1M410.6 344.4h.1M450.8 349.8h.1M463.7 337.3h.1" stroke="#000" stroke-width="0.9" stroke-linecap="round" stroke-opacity="0.45" fill="none"/>
<rect x="380" y="243" width="129.60000000000002" height="121" fill="none" stroke="#777" stroke-width="1"/>
<line x1="413.7" y1="243" x2="413.7" y2="364" stroke="#505050" stroke-width="1.35" />
<line x1="380" y1="332.4" x2="509.6" y2="332.4" stroke="#505050" stroke-width="1.35" />
<text transform="translate(381.2,250.3) scale(1.1,1)" font-size="6.8" font-weight="normal" text-anchor="start" fill="#444" >B1</text>
<text transform="translate(414.9,250.3) scale(1.1,1)" font-size="6.8" font-weight="normal" text-anchor="start" fill="#444" >B2</text>
<text transform="translate(381.2,340.2) scale(1.1,1)" font-size="6.8" font-weight="normal" text-anchor="start" fill="#444" >B3</text>
<text transform="translate(414.9,340.2) scale(1.1,1)" font-size="6.8" font-weight="normal" text-anchor="start" fill="#444" >B4</text>
<text transform="translate(478.5,259.5) scale(1.14,1)" font-size="10.3" font-weight="bold" text-anchor="middle" fill="#000" >+ 5 <tspan font-style="italic">µ</tspan>M</text>
<text transform="translate(478.5,271.8) scale(1.07,1)" font-size="11.2" font-weight="bold" text-anchor="middle" fill="#000" >Imatinib</text>
<text transform="translate(507.6,325) scale(1.02,1)" font-size="12" font-weight="bold" text-anchor="end" fill="#000" >5±3%</text>
<text transform="translate(507.6,357.5) scale(1.02,1)" font-size="12" font-weight="bold" text-anchor="end" fill="#000" >76±6%</text>
<text x="404.8" y="378.5" font-size="12" font-weight="bold">10<tspan dy="-5.3" dx="0" font-size="8.8" font-weight="normal" fill="#222">0</tspan></text>
<text x="437.2" y="378.5" font-size="12" font-weight="bold">10<tspan dy="-5.3" dx="0" font-size="8.8" font-weight="normal" fill="#222">1</tspan></text>
<text x="469.4" y="378.5" font-size="12" font-weight="bold">10<tspan dy="-5.3" dx="0" font-size="8.8" font-weight="normal" fill="#222">2</tspan></text>
<text x="502.1" y="378.5" font-size="12" font-weight="bold">10<tspan dy="-5.3" dx="0" font-size="8.8" font-weight="normal" fill="#222">3</tspan></text>
<text x="358.4" y="342.4" font-size="12" font-weight="bold">10<tspan dy="-5.3" dx="0" font-size="8.8" font-weight="normal" fill="#222">0</tspan></text>
<text x="358.4" y="312.4" font-size="12" font-weight="bold">10<tspan dy="-5.3" dx="0" font-size="8.8" font-weight="normal" fill="#222">1</tspan></text>
<text x="358.4" y="282.3" font-size="12" font-weight="bold">10<tspan dy="-5.3" dx="0" font-size="8.8" font-weight="normal" fill="#222">2</tspan></text>
<text x="358.4" y="251.2" font-size="12" font-weight="bold">10<tspan dy="-5.3" dx="0" font-size="8.8" font-weight="normal" fill="#222">3</tspan></text>
<line x1="380.3" y1="364" x2="380.3" y2="366.2" stroke="#888" stroke-width="0.8" />
<line x1="381.7" y1="364" x2="381.7" y2="367.2" stroke="#888" stroke-width="0.8" />
<line x1="391.4" y1="364" x2="391.4" y2="366.2" stroke="#888" stroke-width="0.8" />
<line x1="376.8" y1="355.1" x2="380" y2="355.1" stroke="#888" stroke-width="0.8" />
<line x1="397.0" y1="364" x2="397.0" y2="366.2" stroke="#888" stroke-width="0.8" />
<line x1="376.8" y1="349.7" x2="380" y2="349.7" stroke="#888" stroke-width="0.8" />
<line x1="401.0" y1="364" x2="401.0" y2="366.2" stroke="#888" stroke-width="0.8" />
<line x1="376.8" y1="346.0" x2="380" y2="346.0" stroke="#888" stroke-width="0.8" />
<line x1="404.1" y1="364" x2="404.1" y2="366.2" stroke="#888" stroke-width="0.8" />
<line x1="376.8" y1="343.0" x2="380" y2="343.0" stroke="#888" stroke-width="0.8" />
<line x1="406.6" y1="364" x2="406.6" y2="366.2" stroke="#888" stroke-width="0.8" />
<line x1="376.8" y1="340.6" x2="380" y2="340.6" stroke="#888" stroke-width="0.8" />
<line x1="408.7" y1="364" x2="408.7" y2="366.2" stroke="#888" stroke-width="0.8" />
<line x1="376.8" y1="338.6" x2="380" y2="338.6" stroke="#888" stroke-width="0.8" />
<line x1="410.6" y1="364" x2="410.6" y2="366.2" stroke="#888" stroke-width="0.8" />
<line x1="376.8" y1="336.8" x2="380" y2="336.8" stroke="#888" stroke-width="0.8" />
<line x1="412.2" y1="364" x2="412.2" y2="366.2" stroke="#888" stroke-width="0.8" />
<line x1="376.8" y1="335.3" x2="380" y2="335.3" stroke="#888" stroke-width="0.8" />
<line x1="413.7" y1="364" x2="413.7" y2="367.2" stroke="#888" stroke-width="0.8" />
<line x1="375.2" y1="333.9" x2="380" y2="333.9" stroke="#888" stroke-width="0.8" />
<line x1="423.3" y1="364" x2="423.3" y2="366.2" stroke="#888" stroke-width="0.8" />
<line x1="376.8" y1="324.8" x2="380" y2="324.8" stroke="#888" stroke-width="0.8" />
<line x1="429.0" y1="364" x2="429.0" y2="366.2" stroke="#888" stroke-width="0.8" />
<line x1="376.8" y1="319.4" x2="380" y2="319.4" stroke="#888" stroke-width="0.8" />
<line x1="432.9" y1="364" x2="432.9" y2="366.2" stroke="#888" stroke-width="0.8" />
<line x1="376.8" y1="315.7" x2="380" y2="315.7" stroke="#888" stroke-width="0.8" />
<line x1="436.0" y1="364" x2="436.0" y2="366.2" stroke="#888" stroke-width="0.8" />
<line x1="376.8" y1="312.7" x2="380" y2="312.7" stroke="#888" stroke-width="0.8" />
<line x1="438.6" y1="364" x2="438.6" y2="366.2" stroke="#888" stroke-width="0.8" />
<line x1="376.8" y1="310.3" x2="380" y2="310.3" stroke="#888" stroke-width="0.8" />
<line x1="440.7" y1="364" x2="440.7" y2="366.2" stroke="#888" stroke-width="0.8" />
<line x1="376.8" y1="308.3" x2="380" y2="308.3" stroke="#888" stroke-width="0.8" />
<line x1="442.6" y1="364" x2="442.6" y2="366.2" stroke="#888" stroke-width="0.8" />
<line x1="376.8" y1="306.5" x2="380" y2="306.5" stroke="#888" stroke-width="0.8" />
<line x1="444.2" y1="364" x2="444.2" y2="366.2" stroke="#888" stroke-width="0.8" />
<line x1="376.8" y1="305.0" x2="380" y2="305.0" stroke="#888" stroke-width="0.8" />
<line x1="445.7" y1="364" x2="445.7" y2="367.2" stroke="#888" stroke-width="0.8" />
<line x1="375.2" y1="303.6" x2="380" y2="303.6" stroke="#888" stroke-width="0.8" />
<line x1="455.3" y1="364" x2="455.3" y2="366.2" stroke="#888" stroke-width="0.8" />
<line x1="376.8" y1="294.5" x2="380" y2="294.5" stroke="#888" stroke-width="0.8" />
<line x1="460.9" y1="364" x2="460.9" y2="366.2" stroke="#888" stroke-width="0.8" />
<line x1="376.8" y1="289.1" x2="380" y2="289.1" stroke="#888" stroke-width="0.8" />
<line x1="464.9" y1="364" x2="464.9" y2="366.2" stroke="#888" stroke-width="0.8" />
<line x1="376.8" y1="285.4" x2="380" y2="285.4" stroke="#888" stroke-width="0.8" />
<line x1="468.0" y1="364" x2="468.0" y2="366.2" stroke="#888" stroke-width="0.8" />
<line x1="376.8" y1="282.4" x2="380" y2="282.4" stroke="#888" stroke-width="0.8" />
<line x1="470.5" y1="364" x2="470.5" y2="366.2" stroke="#888" stroke-width="0.8" />
<line x1="376.8" y1="280.0" x2="380" y2="280.0" stroke="#888" stroke-width="0.8" />
<line x1="472.7" y1="364" x2="472.7" y2="366.2" stroke="#888" stroke-width="0.8" />
<line x1="376.8" y1="278.0" x2="380" y2="278.0" stroke="#888" stroke-width="0.8" />
<line x1="474.5" y1="364" x2="474.5" y2="366.2" stroke="#888" stroke-width="0.8" />
<line x1="376.8" y1="276.2" x2="380" y2="276.2" stroke="#888" stroke-width="0.8" />
<line x1="476.2" y1="364" x2="476.2" y2="366.2" stroke="#888" stroke-width="0.8" />
<line x1="376.8" y1="274.7" x2="380" y2="274.7" stroke="#888" stroke-width="0.8" />
<line x1="477.6" y1="364" x2="477.6" y2="367.2" stroke="#888" stroke-width="0.8" />
<line x1="375.2" y1="273.3" x2="380" y2="273.3" stroke="#888" stroke-width="0.8" />
<line x1="487.3" y1="364" x2="487.3" y2="366.2" stroke="#888" stroke-width="0.8" />
<line x1="376.8" y1="264.2" x2="380" y2="264.2" stroke="#888" stroke-width="0.8" />
<line x1="492.9" y1="364" x2="492.9" y2="366.2" stroke="#888" stroke-width="0.8" />
<line x1="376.8" y1="258.8" x2="380" y2="258.8" stroke="#888" stroke-width="0.8" />
<line x1="496.9" y1="364" x2="496.9" y2="366.2" stroke="#888" stroke-width="0.8" />
<line x1="376.8" y1="255.1" x2="380" y2="255.1" stroke="#888" stroke-width="0.8" />
<line x1="500.0" y1="364" x2="500.0" y2="366.2" stroke="#888" stroke-width="0.8" />
<line x1="376.8" y1="252.1" x2="380" y2="252.1" stroke="#888" stroke-width="0.8" />
<line x1="502.5" y1="364" x2="502.5" y2="366.2" stroke="#888" stroke-width="0.8" />
<line x1="376.8" y1="249.7" x2="380" y2="249.7" stroke="#888" stroke-width="0.8" />
<line x1="504.6" y1="364" x2="504.6" y2="366.2" stroke="#888" stroke-width="0.8" />
<line x1="376.8" y1="247.7" x2="380" y2="247.7" stroke="#888" stroke-width="0.8" />
<line x1="506.5" y1="364" x2="506.5" y2="366.2" stroke="#888" stroke-width="0.8" />
<line x1="376.8" y1="245.9" x2="380" y2="245.9" stroke="#888" stroke-width="0.8" />
<line x1="508.1" y1="364" x2="508.1" y2="366.2" stroke="#888" stroke-width="0.8" />
<line x1="376.8" y1="244.4" x2="380" y2="244.4" stroke="#888" stroke-width="0.8" />
<text transform="translate(23.6,300) rotate(-90)" font-size="13.8" font-weight="bold" text-anchor="middle">FL3-H</text>
<rect x="2" y="377.5" width="56.7" height="24.8" fill="#fff" stroke="#333" stroke-width="1.1"/>
<text x="32.5" y="398" font-size="16" font-weight="bold" text-anchor="middle" fill="#000" >T315I</text>
<text transform="translate(71.5,404.5) scale(1.049,1)" font-size="13.5" font-weight="bold" text-anchor="start" fill="#000" >5 <tspan font-style="italic">µ</tspan>M OSU-03012 + varying concentrations of imatinib</text>
<path d="M73.4 520.7h.1M74.1 522.0h.1M70.1 512.6h.1M71.8 513.7h.1M64.6 517.0h.1M74.0 522.2h.1M72.6 520.2h.1M65.3 522.6h.1M68.6 526.7h.1M68.1 523.3h.1M64.8 517.4h.1M69.5 515.7h.1M71.0 518.4h.1M71.8 517.1h.1M63.3 529.8h.1M72.4 522.8h.1M80.7 521.8h.1M75.7 516.7h.1M77.1 517.2h.1M68.2 508.8h.1M73.8 520.8h.1M80.5 526.8h.1M68.9 532.1h.1M72.2 523.9h.1M67.9 517.7h.1M74.3 517.1h.1M74.1 516.7h.1M65.6 512.3h.1M68.1 518.4h.1M61.0 525.2h.1M81.6 521.0h.1M73.3 515.8h.1M78.4 515.4h.1M82.2 521.1h.1M70.4 519.4h.1M75.8 514.2h.1M73.3 518.4h.1M70.8 521.8h.1M70.1 522.7h.1M82.5 527.1h.1M67.3 521.1h.1M71.4 516.2h.1M73.4 526.7h.1M66.6 513.6h.1M64.1 518.3h.1M71.0 511.0h.1M68.1 513.7h.1M72.2 522.8h.1M63.2 522.0h.1M81.6 512.4h.1M64.8 527.1h.1M74.8 516.0h.1M70.0 512.2h.1M69.3 515.3h.1M82.0 521.4h.1M69.6 517.0h.1M82.3 515.6h.1M62.1 517.8h.1M69.6 516.2h.1M79.2 522.9h.1M71.4 520.6h.1M62.3 527.2h.1M66.3 520.8h.1M63.4 514.9h.1M67.6 512.2h.1M75.5 519.5h.1M75.3 515.3h.1M66.4 522.8h.1M71.1 528.2h.1M66.7 517.9h.1M75.7 526.8h.1M69.8 522.4h.1M73.2 514.5h.1M67.2 523.5h.1M71.8 520.2h.1M69.4 521.3h.1M82.8 527.0h.1M67.3 515.7h.1M66.1 519.0h.1M67.0 511.4h.1M66.6 518.7h.1M67.1 524.7h.1M69.5 519.7h.1M60.5 516.1h.1M81.8 521.7h.1M76.5 516.2h.1M68.8 524.5h.1M73.0 519.0h.1M70.1 518.4h.1M70.6 527.9h.1M67.9 521.6h.1M69.0 523.6h.1M60.1 516.9h.1M66.6 517.9h.1M66.1 523.9h.1M68.2 526.1h.1M77.2 514.5h.1M67.1 519.1h.1M82.9 513.0h.1M68.6 525.8h.1M75.5 521.3h.1M72.6 511.9h.1M70.5 518.3h.1M70.9 521.3h.1M76.2 513.4h.1M69.5 529.8h.1M76.1 511.3h.1M78.5 512.0h.1M77.7 514.5h.1M59.0 519.8h.1M74.1 513.8h.1M66.5 513.7h.1M76.0 526.6h.1M78.1 521.2h.1M71.7 520.5h.1M71.4 520.7h.1M69.8 514.7h.1M83.9 517.9h.1M61.5 513.8h.1M66.6 525.0h.1M74.6 513.4h.1M59.9 516.6h.1M67.0 513.2h.1M69.2 517.1h.1M72.4 512.4h.1M75.7 521.1h.1M74.5 516.1h.1M73.6 517.5h.1M71.9 517.9h.1M66.3 523.0h.1M68.4 524.5h.1M79.3 520.2h.1M69.4 510.5h.1M74.1 513.0h.1M71.2 520.2h.1M66.5 523.1h.1M70.7 518.2h.1M59.0 514.8h.1M76.0 511.6h.1M56.6 510.4h.1M60.6 521.3h.1M70.2 515.7h.1M70.3 528.7h.1M66.9 527.0h.1M64.7 523.6h.1M64.5 519.4h.1M59.2 517.1h.1M68.0 522.7h.1M67.2 517.7h.1M80.9 515.8h.1M80.3 515.0h.1M66.2 525.8h.1M59.1 529.4h.1M62.8 512.0h.1M67.2 530.3h.1M61.7 519.9h.1M81.6 528.8h.1M77.6 520.5h.1M74.3 520.0h.1M65.0 508.6h.1M70.5 506.3h.1M71.5 521.4h.1M65.4 520.4h.1M72.7 517.9h.1M65.0 514.1h.1M66.0 521.9h.1M74.4 525.9h.1M75.2 515.8h.1M58.7 524.2h.1M63.7 526.4h.1M65.2 522.5h.1M79.3 517.0h.1M80.5 519.2h.1M82.4 520.0h.1M67.0 516.8h.1M69.1 519.0h.1M67.5 518.2h.1M58.1 521.4h.1M61.0 514.9h.1M73.7 509.6h.1M70.8 522.8h.1M73.4 519.5h.1M81.1 521.1h.1M68.9 527.5h.1M73.4 516.8h.1M73.2 530.0h.1M73.6 517.3h.1M73.0 523.5h.1M67.3 514.3h.1M70.1 523.6h.1M64.7 511.5h.1M57.7 514.4h.1M79.5 516.4h.1M75.4 523.8h.1M70.5 518.0h.1M71.3 521.0h.1M54.7 514.7h.1M72.9 519.5h.1M64.5 517.7h.1M82.8 518.3h.1M72.3 513.2h.1M58.1 513.5h.1M71.4 501.5h.1M72.6 521.2h.1M72.3 518.9h.1M63.8 517.1h.1M69.8 528.9h.1M78.1 515.7h.1M71.1 521.1h.1M71.9 526.2h.1M61.6 508.1h.1M70.6 515.6h.1M69.9 520.2h.1M56.8 512.2h.1M69.9 516.1h.1M63.0 520.1h.1M69.8 514.9h.1M68.3 525.5h.1M66.4 509.9h.1M67.3 521.6h.1M65.3 520.2h.1M74.7 513.8h.1M65.4 522.0h.1M73.3 518.2h.1M68.9 516.6h.1M64.8 514.9h.1M71.0 511.1h.1M66.3 519.0h.1M79.8 526.0h.1M78.4 517.1h.1M62.8 514.8h.1M65.2 521.6h.1M80.5 517.6h.1M68.4 520.4h.1M80.7 508.6h.1M65.3 524.7h.1M59.0 521.1h.1M77.1 527.6h.1M87.4 523.5h.1M72.8 520.1h.1M69.1 521.8h.1M60.0 521.4h.1M71.0 524.6h.1M72.4 514.0h.1M63.6 522.0h.1M69.2 523.8h.1M65.2 521.5h.1M74.3 527.8h.1M72.6 520.4h.1M62.8 527.5h.1M80.5 525.0h.1M80.2 513.6h.1M63.4 520.8h.1M74.7 519.6h.1M72.7 506.1h.1M74.7 524.4h.1M71.0 525.7h.1M59.0 525.5h.1M69.7 526.0h.1M65.8 517.4h.1M74.1 527.0h.1M77.2 514.8h.1M59.9 518.2h.1M77.7 524.1h.1M78.3 519.7h.1M61.1 512.9h.1M80.5 526.1h.1M65.6 518.4h.1M68.5 515.0h.1M55.8 528.4h.1M83.1 516.9h.1M71.2 514.9h.1M67.0 521.4h.1M73.9 520.4h.1M63.7 512.7h.1M63.8 519.4h.1M77.2 517.4h.1M79.0 514.3h.1M66.6 527.2h.1M65.2 517.6h.1M72.2 527.4h.1M80.0 515.8h.1M67.8 518.3h.1M66.3 521.0h.1M70.9 518.9h.1M67.6 520.5h.1M83.7 524.8h.1M64.4 530.4h.1M73.8 520.0h.1M76.5 511.3h.1M81.2 519.3h.1M68.5 526.0h.1M56.4 529.8h.1M72.2 519.9h.1M68.3 524.9h.1M66.3 521.4h.1M70.0 513.6h.1M75.2 523.3h.1M68.7 521.5h.1M67.8 517.4h.1M65.0 510.3h.1M68.2 516.2h.1M65.8 513.9h.1M63.2 509.6h.1M78.6 513.9h.1M74.7 518.8h.1M68.3 525.4h.1M71.9 515.0h.1M74.3 512.3h.1M63.4 524.4h.1M70.3 526.8h.1M69.7 517.3h.1M66.5 522.0h.1M68.8 520.8h.1M64.3 523.7h.1M75.0 504.9h.1M63.0 526.4h.1M70.1 507.2h.1M60.6 522.4h.1M78.1 518.0h.1M66.6 514.8h.1M72.2 520.2h.1M79.7 518.4h.1M74.1 516.7h.1M68.9 521.7h.1M64.8 530.5h.1M69.9 513.3h.1M78.3 519.5h.1M76.1 528.8h.1M73.1 516.1h.1M64.4 514.9h.1M79.8 515.8h.1M66.6 517.3h.1M55.8 520.7h.1M69.4 526.7h.1M68.5 516.2h.1M69.3 523.3h.1M75.8 516.0h.1M78.4 515.7h.1M67.5 521.0h.1M74.5 512.7h.1M80.1 522.7h.1M79.7 519.6h.1M61.7 524.2h.1M74.0 507.5h.1M73.0 517.1h.1M78.2 524.9h.1M58.7 511.6h.1M67.2 510.4h.1M74.5 511.8h.1M74.3 531.0h.1M66.7 524.8h.1M59.5 526.1h.1M74.8 512.3h.1M70.8 512.1h.1M70.7 509.9h.1M60.8 517.7h.1M68.0 516.1h.1M79.5 514.8h.1M74.2 512.6h.1M66.0 518.8h.1M72.0 507.6h.1M67.4 515.8h.1M73.1 522.2h.1M76.1 526.6h.1M71.5 524.8h.1M72.9 523.3h.1M73.8 528.6h.1M68.3 524.6h.1M76.1 522.2h.1M70.5 524.7h.1M80.0 519.2h.1M64.7 516.3h.1M70.9 522.0h.1M66.5 517.4h.1M66.4 518.8h.1M56.9 511.3h.1M78.8 520.5h.1M76.9 519.1h.1M67.0 526.3h.1M64.7 517.8h.1M81.4 508.3h.1M80.4 516.3h.1M72.9 508.5h.1M59.8 515.0h.1M74.7 514.2h.1M73.7 521.3h.1M75.4 526.1h.1M63.5 515.8h.1M69.6 520.8h.1M82.1 517.1h.1M86.8 514.5h.1M74.5 526.9h.1M70.7 513.0h.1M68.9 521.6h.1M77.1 519.7h.1M62.2 523.0h.1M74.5 521.4h.1M72.9 518.9h.1M71.1 515.7h.1M68.9 514.1h.1M73.8 517.3h.1M79.4 519.0h.1M64.4 519.2h.1M65.5 514.0h.1M75.6 521.4h.1M73.1 518.7h.1M69.0 512.4h.1M76.6 526.3h.1M71.8 524.8h.1M73.0 522.5h.1M82.7 517.3h.1M64.0 518.9h.1M79.3 518.8h.1M57.1 522.8h.1M66.1 529.9h.1M77.2 512.6h.1M61.6 520.6h.1M68.3 521.9h.1M65.0 523.7h.1M74.9 520.2h.1M74.9 520.6h.1M76.8 523.3h.1M76.2 526.0h.1M77.0 509.7h.1M60.9 517.8h.1M72.4 521.3h.1M78.6 525.1h.1M65.0 518.8h.1M70.7 510.3h.1M82.0 521.8h.1M77.1 511.6h.1M67.5 508.3h.1M78.3 518.7h.1M67.6 511.8h.1M72.0 522.5h.1M72.0 518.0h.1M69.7 517.6h.1M68.2 516.1h.1M62.9 512.7h.1M67.5 525.6h.1M75.9 520.2h.1M69.5 527.5h.1M70.1 519.7h.1M62.6 511.6h.1M78.7 504.3h.1M70.9 513.5h.1M83.0 522.2h.1M69.4 510.3h.1M73.6 509.5h.1M81.2 527.5h.1M78.4 510.7h.1M78.6 522.3h.1M64.0 523.9h.1M71.7 526.9h.1M76.0 521.2h.1M71.4 511.5h.1M64.8 519.2h.1M67.8 519.2h.1M75.0 519.3h.1M57.5 517.6h.1M69.9 507.9h.1M73.1 520.3h.1M59.8 513.6h.1M79.0 510.2h.1M63.3 516.3h.1M66.2 521.5h.1M68.1 521.6h.1M74.2 520.1h.1M75.2 511.9h.1M71.0 530.6h.1M69.2 522.9h.1M77.0 515.3h.1M63.0 527.4h.1M63.2 514.2h.1M66.2 517.2h.1M77.0 526.8h.1M67.6 528.4h.1M69.6 517.3h.1M69.4 516.8h.1M57.6 514.9h.1M78.0 510.0h.1M63.1 513.4h.1M63.3 519.5h.1M72.4 518.7h.1M67.8 522.0h.1M75.0 522.2h.1M71.0 513.8h.1M59.7 515.6h.1M66.1 513.9h.1M70.1 517.6h.1M70.4 522.8h.1M66.8 510.2h.1M71.9 515.3h.1M58.1 519.7h.1M71.2 518.6h.1M71.1 518.1h.1M66.5 522.0h.1M59.9 514.1h.1M63.6 521.5h.1M66.8 521.5h.1M65.4 514.8h.1M70.1 528.3h.1M70.8 521.6h.1M69.7 524.3h.1M69.7 516.6h.1M59.5 517.7h.1M70.9 518.0h.1M59.9 517.5h.1M57.5 514.7h.1M71.7 509.4h.1M74.5 509.8h.1M69.1 522.4h.1M65.6 511.8h.1M71.3 517.1h.1M76.7 520.5h.1M86.5 521.0h.1M76.3 529.7h.1M73.5 517.0h.1M75.8 527.4h.1M63.4 520.3h.1M68.1 522.6h.1M66.3 511.9h.1M63.9 522.7h.1M69.5 519.6h.1M74.6 520.9h.1M72.8 508.9h.1M58.6 518.9h.1M73.5 511.4h.1M64.3 521.3h.1M67.4 520.1h.1M70.9 512.8h.1M66.6 512.5h.1M63.7 513.8h.1M75.8 522.5h.1M72.2 518.5h.1M60.2 511.5h.1M81.8 519.9h.1M73.0 520.3h.1M72.9 521.5h.1M63.1 517.4h.1M63.7 519.5h.1M63.2 516.9h.1M76.2 522.9h.1M71.6 520.0h.1M69.9 516.0h.1M61.3 520.2h.1M68.0 511.9h.1M67.9 518.2h.1M72.8 521.0h.1M68.4 510.5h.1M82.1 526.7h.1M72.1 517.4h.1M71.7 518.1h.1M78.2 511.8h.1M76.1 518.0h.1M65.0 524.7h.1M77.4 520.8h.1M73.7 516.7h.1M67.7 514.6h.1M54.7 516.2h.1M61.1 522.4h.1M71.2 521.4h.1M71.7 524.9h.1M67.2 520.2h.1M70.3 514.3h.1M79.7 518.4h.1M59.2 521.8h.1M67.6 510.7h.1M69.1 515.0h.1M72.8 520.9h.1M75.7 512.3h.1M69.1 516.9h.1M75.9 526.4h.1M76.0 524.1h.1M78.7 519.8h.1M72.9 520.6h.1M69.6 515.7h.1M69.6 527.8h.1M67.3 515.5h.1M69.3 515.7h.1M82.6 516.2h.1M66.1 518.9h.1M68.1 517.8h.1M59.2 522.6h.1M63.2 523.0h.1M64.1 511.8h.1M64.7 520.7h.1M70.0 518.5h.1M65.9 519.0h.1M71.5 525.1h.1M74.9 512.4h.1M66.2 521.6h.1M69.8 521.2h.1M56.2 511.9h.1M65.0 509.9h.1M65.9 523.0h.1M68.3 512.7h.1M80.8 524.1h.1M76.5 520.3h.1M67.7 515.7h.1M70.3 509.1h.1M63.6 511.7h.1M78.2 513.2h.1M78.5 526.0h.1M62.1 514.4h.1M82.3 521.0h.1M61.8 525.3h.1M71.5 514.7h.1M60.4 513.3h.1M75.6 526.7h.1M85.2 516.5h.1M62.4 520.8h.1M81.4 511.2h.1M80.0 521.7h.1M72.8 521.6h.1M73.8 519.4h.1M61.0 514.2h.1M61.4 519.8h.1M68.1 515.9h.1M66.0 522.1h.1M70.3 517.5h.1M88.6 526.3h.1M68.1 520.7h.1M70.3 525.4h.1M64.1 529.4h.1M66.6 521.5h.1M68.3 523.6h.1M59.1 517.3h.1M79.9 517.0h.1M65.8 513.8h.1M68.9 515.8h.1M69.7 510.1h.1M66.1 513.0h.1M79.6 518.5h.1M73.3 530.1h.1M67.5 513.9h.1M80.6 507.7h.1M65.7 510.3h.1M63.2 521.5h.1M77.6 522.9h.1M71.0 513.9h.1M72.3 526.8h.1M70.3 519.3h.1M78.3 515.5h.1M70.1 515.6h.1M72.9 520.5h.1M67.9 514.1h.1M63.0 515.4h.1M65.9 524.0h.1M71.4 515.6h.1M73.0 530.1h.1M66.0 520.7h.1M74.9 516.1h.1M76.2 521.6h.1M73.5 509.5h.1M77.1 518.9h.1M66.0 523.3h.1M76.3 511.7h.1M63.4 519.9h.1M72.4 520.0h.1M62.4 517.3h.1M65.8 518.0h.1M67.2 525.0h.1M62.6 532.8h.1M74.6 521.5h.1M66.5 526.6h.1M70.0 518.2h.1M76.5 518.7h.1M66.8 513.6h.1M65.3 521.3h.1M67.6 519.3h.1M69.7 519.7h.1M77.7 517.9h.1M81.9 510.3h.1M68.4 521.7h.1M81.3 526.6h.1M65.9 529.0h.1M63.6 520.3h.1M70.5 509.5h.1M72.0 519.7h.1M76.4 515.5h.1M64.2 525.6h.1M69.3 519.6h.1M81.7 512.9h.1M69.4 519.9h.1M81.2 517.4h.1M58.2 513.5h.1M66.5 518.7h.1M71.9 515.0h.1M79.3 518.0h.1M60.7 520.7h.1M62.8 521.0h.1M68.5 516.0h.1M65.9 519.0h.1M63.0 509.5h.1M75.4 522.2h.1M75.4 512.7h.1M79.0 520.5h.1M77.4 517.2h.1M76.8 511.8h.1M66.3 523.7h.1M80.3 515.4h.1M76.7 515.7h.1M62.3 519.0h.1M69.2 519.8h.1M60.6 516.5h.1M61.3 519.2h.1M75.1 518.2h.1M70.0 512.6h.1M66.1 519.0h.1M73.0 517.8h.1M77.7 527.4h.1M79.9 512.5h.1M75.5 518.4h.1M72.0 523.2h.1M66.7 519.7h.1M78.7 520.1h.1M73.7 519.1h.1M76.3 516.1h.1M69.9 525.2h.1M75.0 520.7h.1M71.6 519.2h.1M74.0 508.4h.1M68.0 521.5h.1M69.4 514.1h.1M61.3 509.4h.1M65.5 516.9h.1M62.2 524.1h.1M61.2 516.1h.1M64.0 519.9h.1M74.5 523.8h.1M79.0 518.3h.1M64.4 522.5h.1M62.7 510.9h.1M60.9 521.4h.1M70.0 508.1h.1M65.7 515.9h.1M80.3 524.9h.1M62.9 516.9h.1M63.1 514.1h.1M62.5 518.1h.1M79.7 514.5h.1M67.0 518.9h.1M65.4 519.4h.1M68.4 512.5h.1M64.6 518.7h.1M71.4 521.1h.1M71.2 523.7h.1M77.9 518.1h.1M69.6 518.1h.1M74.4 516.8h.1M72.1 516.4h.1M70.6 514.7h.1M74.9 519.4h.1M78.0 517.9h.1M73.5 521.1h.1M69.0 528.6h.1M66.7 517.0h.1M81.0 510.9h.1M71.7 516.9h.1M74.2 523.5h.1M81.5 521.7h.1M74.6 516.6h.1M62.9 520.9h.1M78.0 514.7h.1M78.7 516.5h.1M73.1 523.8h.1M60.7 517.3h.1M65.0 515.5h.1M57.4 526.1h.1M69.0 521.2h.1M79.9 521.0h.1M81.4 519.3h.1M71.4 516.3h.1M75.0 523.9h.1M78.8 513.6h.1M74.8 511.5h.1M64.9 516.3h.1M64.5 514.4h.1M67.2 512.6h.1M71.1 517.6h.1M71.0 517.3h.1M63.4 516.1h.1M63.4 523.1h.1M60.3 518.8h.1M74.2 519.4h.1M73.3 512.5h.1M62.4 521.1h.1M67.9 523.9h.1M64.8 516.9h.1M64.9 528.4h.1M58.3 525.6h.1M66.1 518.5h.1M72.6 525.8h.1M77.0 522.0h.1M55.9 517.8h.1M78.0 524.5h.1M70.9 514.9h.1M70.7 516.4h.1M67.9 513.4h.1M71.4 513.7h.1M65.7 515.7h.1M78.1 519.8h.1M73.1 513.2h.1M67.4 518.2h.1M66.5 511.5h.1M75.3 514.7h.1M68.4 516.8h.1M63.8 520.1h.1M61.6 526.7h.1M65.4 520.5h.1M73.5 522.3h.1M67.6 518.4h.1M75.5 524.1h.1M66.8 512.8h.1M72.3 506.7h.1M108.9 515.8h.1M107.8 518.7h.1M101.6 523.6h.1M103.9 514.0h.1M97.4 519.8h.1M105.7 514.2h.1M99.3 520.5h.1M108.1 521.7h.1M113.0 527.0h.1M105.3 511.2h.1M107.9 512.1h.1M99.4 521.2h.1M99.9 525.1h.1M112.2 516.2h.1M105.8 513.9h.1M92.8 511.4h.1M103.9 523.1h.1M94.5 522.4h.1M111.6 522.8h.1M99.2 514.6h.1M100.1 517.7h.1M99.0 525.7h.1M98.6 523.5h.1M95.2 516.9h.1M103.3 519.9h.1M105.7 525.2h.1M90.8 516.8h.1M114.2 509.2h.1M116.8 517.9h.1M102.7 518.9h.1M101.4 517.3h.1M112.8 509.7h.1M100.3 511.7h.1M97.2 521.1h.1M107.3 517.6h.1M94.3 514.0h.1M87.9 518.2h.1M102.6 531.4h.1M106.0 508.8h.1M88.7 515.7h.1M113.4 518.1h.1M93.1 521.2h.1M116.2 512.4h.1M98.0 518.1h.1M115.4 510.9h.1M87.5 513.1h.1M105.6 516.5h.1M90.6 520.4h.1M99.5 522.5h.1M102.8 505.1h.1M108.1 522.6h.1M102.0 526.3h.1M104.2 519.0h.1M101.3 529.7h.1M89.4 530.9h.1M93.7 510.7h.1M105.2 517.9h.1M102.9 526.6h.1M106.7 520.9h.1M91.4 516.2h.1M112.4 518.3h.1M97.5 528.3h.1M97.2 520.4h.1M103.1 518.1h.1M98.7 515.9h.1M90.1 513.1h.1M93.3 526.9h.1M106.5 517.4h.1M101.3 519.9h.1M104.4 522.4h.1M108.9 516.3h.1M100.6 521.9h.1M106.1 523.6h.1M97.7 522.2h.1M98.3 520.7h.1M95.6 522.0h.1M109.7 518.8h.1M112.1 517.8h.1M100.4 518.7h.1M108.8 510.9h.1M95.3 521.8h.1M102.7 522.6h.1M104.7 516.6h.1M104.1 522.7h.1M94.5 517.0h.1M94.8 518.9h.1M98.8 506.5h.1M113.4 518.6h.1M94.5 524.5h.1M104.1 520.5h.1M103.8 517.3h.1M106.2 513.4h.1M97.7 520.3h.1M98.2 527.5h.1M100.6 511.2h.1M107.9 519.1h.1M102.3 517.4h.1M104.8 513.4h.1M115.6 521.5h.1M99.8 516.9h.1M113.4 516.7h.1M97.4 509.2h.1M106.5 520.9h.1M94.1 515.3h.1M97.1 524.9h.1M85.7 525.2h.1M103.4 505.8h.1M103.5 522.5h.1M100.3 518.4h.1M115.5 520.0h.1M107.4 520.3h.1M100.6 513.2h.1M99.0 519.3h.1M85.7 519.9h.1M109.8 521.7h.1M100.5 526.4h.1M103.4 521.1h.1M105.9 513.4h.1M100.9 515.6h.1M101.6 520.8h.1M101.7 511.0h.1M109.1 516.6h.1M107.3 526.1h.1M98.9 508.4h.1M102.0 527.8h.1M92.7 524.4h.1M115.2 513.4h.1M100.4 520.8h.1M96.5 525.9h.1M90.3 515.3h.1M105.8 521.8h.1M98.0 519.7h.1M98.6 517.4h.1M106.0 519.4h.1M104.7 528.4h.1M105.3 525.1h.1M95.8 528.1h.1M105.3 519.4h.1M106.9 529.5h.1M95.2 513.1h.1M104.8 516.2h.1M100.1 523.5h.1M107.5 528.4h.1M109.2 524.9h.1M90.7 517.7h.1M117.1 521.7h.1M110.3 513.0h.1M104.0 520.0h.1M103.6 522.9h.1M104.7 522.3h.1M97.3 526.3h.1M101.1 514.9h.1M106.1 530.0h.1M103.8 521.3h.1M113.4 520.4h.1M100.2 520.6h.1M100.6 514.4h.1M118.2 523.4h.1M104.6 521.8h.1M104.5 509.5h.1M105.9 508.5h.1M101.9 518.9h.1M104.0 523.4h.1M96.4 516.2h.1M107.1 510.8h.1M107.0 523.1h.1M93.3 525.2h.1M92.8 530.4h.1M102.1 512.7h.1M104.7 519.0h.1M106.3 526.0h.1M108.6 525.8h.1M101.9 530.6h.1M101.0 523.4h.1M108.5 524.6h.1M102.1 509.4h.1M100.1 528.0h.1M107.8 520.0h.1M106.9 514.4h.1M110.9 509.6h.1M99.2 512.0h.1M92.1 510.3h.1M94.2 521.4h.1M97.9 517.9h.1M104.7 509.5h.1M89.7 521.9h.1M101.3 516.5h.1M88.6 513.5h.1M95.7 519.8h.1M101.5 526.9h.1M88.9 517.6h.1M104.3 515.5h.1M110.1 503.5h.1M99.4 524.2h.1M96.1 519.0h.1M105.0 513.9h.1M95.9 507.2h.1M117.6 515.5h.1M96.5 521.8h.1M92.6 523.5h.1M108.7 519.9h.1M89.5 514.5h.1M102.7 519.9h.1M106.9 520.9h.1M108.7 522.6h.1M112.3 509.0h.1M94.0 517.8h.1M98.5 513.6h.1M106.5 510.7h.1M103.9 518.8h.1M103.3 530.6h.1M103.3 513.8h.1M103.7 519.8h.1M104.7 525.2h.1M110.0 527.1h.1M97.8 519.6h.1M101.7 529.0h.1M95.9 524.4h.1M104.5 509.5h.1M100.3 519.1h.1M124.4 515.7h.1M106.5 527.8h.1M96.7 517.2h.1M99.0 509.1h.1M97.2 520.7h.1M100.3 515.4h.1M102.3 523.8h.1M107.4 518.1h.1M102.8 515.7h.1M107.3 510.4h.1M101.8 518.9h.1M88.6 526.4h.1M97.8 532.3h.1M94.8 513.0h.1M100.4 519.2h.1M102.7 517.9h.1M108.0 518.4h.1M90.6 528.2h.1M106.8 518.5h.1M100.9 517.3h.1M104.7 517.6h.1M113.0 516.0h.1M103.9 514.0h.1M113.2 524.9h.1M96.4 523.0h.1M110.1 525.2h.1M100.6 521.5h.1M89.4 515.0h.1M96.9 518.4h.1M94.5 515.1h.1M91.8 516.0h.1M101.9 519.8h.1M104.3 514.1h.1M99.0 521.2h.1M102.2 508.2h.1M105.7 520.7h.1M102.9 530.0h.1M98.4 519.8h.1M102.9 521.1h.1M96.2 517.2h.1M113.7 516.6h.1M110.5 517.6h.1M99.3 521.6h.1M99.6 519.5h.1M94.4 511.5h.1M98.9 517.8h.1M91.8 511.4h.1M101.1 521.0h.1M103.5 509.4h.1M105.1 510.0h.1M106.4 511.0h.1M109.2 523.1h.1M106.4 516.0h.1M100.8 518.3h.1M109.3 523.1h.1M105.2 522.3h.1M93.7 511.7h.1M87.0 521.1h.1M109.6 517.2h.1M101.7 520.7h.1M109.6 518.8h.1M112.5 523.4h.1M101.1 521.2h.1M105.1 526.4h.1M106.4 509.9h.1M102.2 518.8h.1M111.8 526.8h.1M99.0 522.3h.1M102.6 504.9h.1M102.2 518.9h.1M106.5 512.5h.1M100.5 526.0h.1M109.3 518.9h.1M93.1 523.4h.1M105.5 517.5h.1M98.3 524.1h.1M107.3 527.2h.1M89.0 505.7h.1M105.1 513.9h.1M110.4 532.4h.1M109.0 523.7h.1M94.9 527.0h.1M100.7 512.8h.1M99.4 516.8h.1M92.8 516.0h.1M97.8 508.6h.1M100.2 527.1h.1M104.4 509.8h.1M97.6 513.8h.1M104.4 518.6h.1M112.3 516.2h.1M107.4 512.7h.1M104.7 509.1h.1M110.0 509.4h.1M112.2 521.0h.1M92.3 517.4h.1M102.8 519.7h.1M105.2 519.7h.1M112.1 518.5h.1M101.6 523.0h.1M103.9 529.2h.1M109.0 518.9h.1M114.7 516.8h.1M101.1 517.7h.1M104.2 518.4h.1M98.2 526.2h.1M98.5 526.9h.1M104.2 524.5h.1M96.5 507.1h.1M104.3 517.1h.1M103.4 526.2h.1M110.1 519.1h.1M112.0 520.7h.1M110.8 520.5h.1M95.0 523.3h.1M96.9 521.3h.1M94.3 520.6h.1M93.5 517.0h.1M101.4 525.7h.1M101.8 524.5h.1M103.2 513.7h.1M114.8 519.7h.1M101.9 532.2h.1M109.0 520.4h.1M103.3 524.6h.1M97.4 527.9h.1M99.4 516.9h.1M109.4 515.7h.1M114.1 527.6h.1M97.0 524.7h.1M93.9 516.6h.1M96.5 523.5h.1M106.3 523.0h.1M94.4 520.5h.1M107.9 521.9h.1M98.1 513.0h.1M113.2 519.4h.1M96.7 522.8h.1M98.7 518.1h.1M110.9 526.3h.1M93.9 524.7h.1M108.9 526.9h.1M96.5 511.9h.1M100.4 515.4h.1M99.6 527.5h.1M96.8 522.2h.1M91.3 527.9h.1M97.1 521.1h.1M110.3 518.0h.1M94.5 518.2h.1M86.2 523.2h.1M107.1 513.1h.1M108.9 516.8h.1M93.6 522.3h.1M100.3 521.1h.1M98.7 515.6h.1M113.3 525.4h.1M108.1 525.3h.1M108.9 518.2h.1M95.8 526.3h.1M112.2 515.8h.1M100.3 510.2h.1M106.1 511.2h.1M113.4 523.3h.1M104.0 521.9h.1M107.9 518.9h.1M106.9 521.5h.1M110.9 518.0h.1M107.2 520.1h.1M102.6 506.6h.1M95.5 522.3h.1M108.5 511.7h.1M97.9 525.0h.1M97.1 514.0h.1M105.0 514.4h.1M111.3 518.3h.1M91.0 526.4h.1M96.9 526.7h.1M111.9 520.2h.1M105.9 520.8h.1M90.1 523.6h.1M93.4 520.0h.1M82.2 521.3h.1M84.8 521.0h.1M103.7 508.7h.1M108.6 516.6h.1M108.4 516.7h.1M90.7 517.1h.1M114.7 519.3h.1M100.0 521.1h.1M107.1 510.6h.1M104.0 516.2h.1M108.0 517.8h.1M97.4 519.9h.1M105.7 523.3h.1M98.6 521.4h.1M111.2 523.9h.1M112.9 532.6h.1M97.1 513.4h.1M101.5 519.8h.1M111.1 516.3h.1M89.4 507.9h.1M107.1 521.6h.1M105.8 526.3h.1M102.6 518.7h.1M95.9 522.6h.1M105.5 522.5h.1M109.1 524.3h.1M109.2 516.8h.1M102.3 524.5h.1M100.5 522.7h.1M105.8 523.7h.1M93.3 515.0h.1M100.8 524.2h.1M106.1 517.7h.1M112.6 519.9h.1M108.1 511.9h.1M105.5 521.5h.1M101.1 525.1h.1M109.4 517.6h.1M106.2 510.6h.1M105.0 522.2h.1M92.5 520.3h.1M99.6 527.8h.1M98.9 523.1h.1M93.8 526.9h.1M94.8 525.4h.1M111.5 525.0h.1M100.3 520.5h.1M104.9 516.4h.1M95.5 521.6h.1M110.5 524.4h.1M104.2 507.0h.1M115.3 510.6h.1M120.0 522.3h.1M96.0 517.3h.1M103.6 517.2h.1M104.4 524.2h.1M97.0 524.2h.1M100.0 517.7h.1M102.6 510.9h.1M99.9 517.4h.1M100.0 519.2h.1M101.9 528.6h.1M95.4 523.1h.1M102.2 512.4h.1M102.7 523.2h.1M90.1 521.5h.1M95.5 522.3h.1M114.5 521.7h.1M99.5 508.5h.1M104.5 511.3h.1M98.3 517.2h.1M104.2 520.9h.1M97.0 527.7h.1M103.7 516.2h.1M105.4 520.6h.1M102.1 521.4h.1M87.0 512.9h.1M97.7 518.5h.1M117.1 518.6h.1M100.0 522.2h.1M100.2 516.5h.1M98.2 518.6h.1M104.1 516.5h.1M99.5 519.8h.1M101.9 518.6h.1M103.8 516.5h.1M108.1 511.9h.1M96.9 524.4h.1M101.8 521.7h.1M95.4 522.4h.1M100.8 521.6h.1M95.4 519.8h.1M110.1 516.0h.1M93.8 516.8h.1M98.6 512.0h.1M89.3 515.0h.1M108.0 518.1h.1M104.7 516.2h.1M94.5 523.6h.1M99.7 527.7h.1M107.8 525.1h.1M104.4 517.7h.1M112.0 522.2h.1M104.7 514.9h.1M100.5 517.0h.1M96.9 520.3h.1M92.6 518.7h.1M98.3 515.4h.1M102.2 521.7h.1M105.0 512.7h.1M102.6 523.9h.1M93.8 512.2h.1M107.0 523.8h.1M102.7 525.9h.1M104.2 525.7h.1M100.4 515.3h.1M112.2 505.2h.1M101.3 518.2h.1M105.5 518.8h.1M105.6 518.9h.1M100.3 530.9h.1M112.8 524.8h.1M110.6 521.7h.1M111.2 530.0h.1M99.1 516.6h.1M110.6 519.8h.1M108.1 529.1h.1M109.2 519.6h.1M113.2 522.0h.1M105.1 517.4h.1M93.1 515.6h.1M98.3 529.0h.1M95.7 522.0h.1M111.2 524.3h.1M96.3 518.8h.1M96.9 510.1h.1M99.1 519.4h.1M102.6 525.2h.1M91.3 523.1h.1M108.4 507.8h.1M104.7 521.0h.1M94.3 525.2h.1M99.3 507.4h.1M111.7 515.4h.1M101.9 514.2h.1M102.0 526.0h.1M98.6 521.8h.1M104.7 512.5h.1M103.7 517.6h.1M95.8 524.4h.1M102.8 518.5h.1M116.5 520.0h.1M104.3 515.7h.1M115.5 518.8h.1M95.3 522.4h.1M105.0 514.4h.1M105.3 516.4h.1M110.7 519.1h.1M99.8 509.6h.1M105.3 523.4h.1M94.2 516.2h.1M99.6 529.7h.1M102.8 528.4h.1M111.4 510.5h.1M116.9 510.6h.1M105.2 524.5h.1M95.3 517.3h.1M95.3 522.2h.1M97.0 517.3h.1M103.9 523.6h.1M97.7 518.8h.1M106.8 517.2h.1M103.1 514.3h.1M106.0 526.3h.1M107.4 524.7h.1M107.2 512.5h.1M97.4 523.5h.1M104.4 523.0h.1M94.7 530.3h.1M105.8 516.5h.1M106.0 512.4h.1M99.9 510.5h.1M97.8 516.1h.1M94.7 511.0h.1M87.7 522.2h.1M114.6 520.6h.1M92.0 517.2h.1M103.1 521.4h.1M97.6 521.9h.1M101.7 514.8h.1M113.5 523.0h.1M104.1 523.7h.1M109.4 518.5h.1M103.7 516.4h.1M106.5 514.3h.1M107.6 523.3h.1M109.8 516.3h.1M96.7 513.0h.1M100.2 523.3h.1M116.8 509.4h.1M110.3 523.4h.1M100.7 517.9h.1M121.4 513.6h.1M105.2 515.6h.1M109.9 512.2h.1M91.6 515.8h.1M92.5 524.6h.1M96.6 511.7h.1M116.5 524.5h.1M92.2 527.5h.1M114.1 511.5h.1M101.7 528.1h.1M95.7 524.1h.1M104.9 532.0h.1M96.5 517.8h.1M97.4 514.0h.1M97.3 516.9h.1M93.1 515.9h.1M93.8 522.6h.1M105.1 517.3h.1M110.4 507.2h.1M102.9 515.6h.1M108.0 515.4h.1M112.4 521.3h.1M100.4 520.5h.1M82.7 513.0h.1M111.8 530.0h.1M99.6 525.9h.1M97.4 523.9h.1M104.9 519.7h.1M104.5 518.5h.1M101.0 525.2h.1M99.7 514.7h.1M96.2 518.1h.1M102.5 514.9h.1M102.5 523.8h.1M94.1 515.4h.1M97.8 526.2h.1M104.0 525.2h.1M90.4 521.2h.1M102.4 515.9h.1M98.7 515.6h.1M99.7 511.7h.1M93.5 522.9h.1M104.3 524.3h.1M87.9 516.1h.1M99.8 515.1h.1M100.5 521.2h.1M107.8 517.3h.1M118.2 523.0h.1M101.3 505.2h.1M103.3 516.0h.1M98.9 526.8h.1M111.6 524.5h.1M95.0 516.6h.1M107.3 521.4h.1M102.1 514.9h.1M100.1 528.9h.1M102.3 523.4h.1M98.3 515.5h.1M100.6 520.1h.1M92.8 515.7h.1M117.5 520.4h.1M107.1 524.4h.1M106.7 524.4h.1M96.6 517.9h.1M96.2 526.9h.1M94.8 522.7h.1M102.2 525.5h.1M92.9 516.8h.1M90.6 522.2h.1M104.8 524.1h.1M104.7 518.0h.1M104.0 520.8h.1M104.9 522.3h.1M104.7 517.9h.1M103.8 517.5h.1M105.5 521.1h.1M99.0 514.4h.1M83.4 521.8h.1M100.6 515.7h.1M95.2 506.4h.1M94.3 520.1h.1M94.3 519.2h.1M108.0 527.2h.1M96.2 520.1h.1M90.9 530.6h.1M105.2 514.9h.1M99.7 520.3h.1M111.9 511.1h.1M107.2 529.7h.1M98.0 522.2h.1M100.8 517.3h.1M99.3 504.6h.1M102.2 523.6h.1M105.0 516.3h.1M97.6 516.3h.1M96.2 519.5h.1M92.4 526.0h.1M99.2 525.0h.1M108.5 511.0h.1M90.8 524.0h.1M105.6 516.6h.1M89.4 509.1h.1M94.3 516.3h.1M90.4 523.4h.1M95.8 524.3h.1M106.4 521.9h.1M93.5 515.7h.1M101.3 511.7h.1M100.9 519.9h.1M101.6 530.3h.1M99.1 514.3h.1M107.4 526.3h.1M107.8 528.9h.1M99.3 511.4h.1M105.9 525.2h.1M93.3 521.8h.1M106.1 515.9h.1M100.6 519.1h.1M87.1 515.8h.1M96.3 517.3h.1M94.9 517.7h.1M108.7 516.3h.1M92.6 513.8h.1M103.9 516.5h.1M104.1 527.1h.1M103.9 513.8h.1M108.7 527.1h.1M106.7 520.2h.1M102.8 519.6h.1M107.3 513.7h.1M99.6 518.3h.1M114.5 512.9h.1M95.2 517.8h.1M91.0 519.1h.1M109.4 516.3h.1M110.5 518.1h.1M98.8 523.2h.1M108.7 508.4h.1M101.9 518.2h.1M109.1 520.9h.1M111.4 519.5h.1M108.2 518.3h.1M102.4 518.1h.1M99.8 510.8h.1M97.6 526.8h.1M106.1 521.1h.1M99.0 522.0h.1M97.5 519.0h.1M100.2 509.9h.1M105.8 524.2h.1M104.5 524.2h.1M102.7 508.6h.1M103.6 517.3h.1M91.0 510.7h.1M94.5 518.7h.1M100.8 518.7h.1M107.6 520.2h.1M108.7 518.7h.1M85.9 517.6h.1M106.0 527.8h.1M97.5 531.0h.1M105.7 520.3h.1M105.4 513.3h.1M99.1 520.4h.1M112.6 512.2h.1M93.0 527.5h.1M100.0 515.3h.1M97.1 516.7h.1M94.4 529.6h.1M98.0 528.5h.1M91.4 524.7h.1M110.7 519.6h.1M94.4 517.0h.1M97.0 521.4h.1M104.2 521.5h.1M109.0 520.9h.1M101.8 521.0h.1M111.8 515.8h.1M109.9 524.7h.1M91.2 512.5h.1M112.1 522.4h.1M92.8 506.6h.1M102.4 512.1h.1M106.8 523.7h.1M92.2 512.3h.1M93.2 528.5h.1M103.8 524.8h.1M92.3 520.9h.1M96.5 527.1h.1M107.0 519.7h.1M95.3 516.1h.1M105.3 521.6h.1M88.9 526.7h.1M96.9 524.1h.1M106.3 518.1h.1M114.2 524.2h.1M114.6 519.6h.1M93.6 514.3h.1M107.7 519.9h.1M116.1 516.3h.1M118.4 519.3h.1M105.8 507.3h.1M98.7 524.3h.1M106.3 508.5h.1M102.4 527.7h.1M95.0 516.5h.1M91.7 526.9h.1M95.8 517.1h.1M111.9 510.9h.1M109.2 514.3h.1M102.9 524.1h.1M100.6 514.5h.1M95.3 517.9h.1M106.0 510.2h.1M109.4 520.0h.1M101.8 514.5h.1M98.3 520.4h.1M102.4 509.5h.1M120.4 515.3h.1M93.9 520.1h.1M95.9 517.3h.1M96.1 517.6h.1M102.5 527.2h.1M93.0 525.7h.1M96.2 522.2h.1M114.7 517.5h.1M114.0 517.3h.1M109.8 525.1h.1M100.7 520.2h.1M97.0 511.1h.1M107.3 521.0h.1M98.5 515.4h.1M99.8 518.2h.1M105.8 511.6h.1M102.4 514.1h.1M96.4 521.2h.1M102.3 521.0h.1M100.0 524.6h.1M115.5 516.6h.1M105.8 529.2h.1M97.8 523.9h.1M99.6 526.3h.1M109.2 519.6h.1M102.8 518.3h.1M118.7 525.0h.1M107.7 517.5h.1M102.6 509.3h.1M96.8 524.8h.1M109.6 526.0h.1M89.4 517.7h.1M105.0 511.4h.1M92.3 515.2h.1M111.2 523.4h.1M110.4 522.4h.1M113.4 524.0h.1M109.6 521.4h.1M109.8 514.3h.1M97.8 516.4h.1M87.9 517.5h.1M95.6 514.4h.1M104.0 517.0h.1M101.5 516.1h.1M95.6 512.4h.1M100.9 520.4h.1M109.1 519.5h.1M106.2 512.7h.1M98.2 518.2h.1M108.3 512.6h.1M107.2 521.6h.1M97.4 510.3h.1M102.3 517.1h.1M107.9 521.8h.1M103.5 524.5h.1M102.3 516.9h.1M103.4 512.3h.1M106.3 518.5h.1M101.3 514.6h.1M103.7 523.7h.1M99.9 509.1h.1M105.1 516.8h.1M106.9 513.7h.1M94.7 525.5h.1M109.9 532.6h.1M110.1 514.6h.1M110.2 524.8h.1M102.1 526.7h.1M98.3 514.8h.1M97.0 515.9h.1M97.9 519.1h.1M97.5 521.2h.1M99.2 510.4h.1M100.4 520.2h.1M90.4 520.3h.1M95.0 516.5h.1M108.8 529.8h.1M109.2 524.5h.1M105.5 514.8h.1M102.1 524.6h.1M106.6 516.2h.1M93.9 519.3h.1M107.7 510.2h.1M100.0 513.9h.1M103.1 519.8h.1M96.2 517.3h.1M111.0 519.1h.1M106.0 518.0h.1M98.1 520.7h.1M104.3 515.0h.1M94.9 510.8h.1M107.5 513.5h.1M97.7 509.8h.1M98.0 511.1h.1M94.0 525.4h.1M95.0 525.4h.1M99.9 523.2h.1M116.4 527.7h.1M93.7 526.1h.1M115.2 520.3h.1M100.7 514.2h.1M109.6 525.2h.1M97.0 532.2h.1M108.1 525.2h.1M109.7 515.1h.1M100.4 521.8h.1M115.0 530.1h.1M99.5 519.8h.1M90.4 519.9h.1M107.5 509.6h.1M97.5 512.4h.1M95.8 515.8h.1M93.5 506.8h.1M98.1 516.8h.1M88.3 509.4h.1M108.1 522.3h.1M114.2 522.2h.1M105.2 519.8h.1M102.6 516.0h.1M110.3 528.7h.1M99.2 529.6h.1M93.8 519.7h.1M110.6 514.3h.1M102.2 515.7h.1M107.5 515.9h.1M96.7 511.9h.1M102.9 514.1h.1M110.4 514.9h.1M110.6 512.6h.1M104.1 526.8h.1M111.2 515.7h.1M91.6 514.4h.1M99.4 513.9h.1M96.0 512.5h.1M104.6 525.3h.1M98.5 526.3h.1M103.7 507.0h.1M96.0 511.3h.1M107.5 518.5h.1M107.2 512.5h.1M105.2 524.0h.1M106.2 518.3h.1M93.9 521.1h.1M100.7 525.4h.1M98.2 523.0h.1M98.3 524.9h.1M97.0 519.0h.1M114.8 522.3h.1M106.1 517.8h.1M104.2 514.0h.1M97.6 518.1h.1M113.3 517.5h.1M99.2 515.4h.1M96.1 519.9h.1M107.7 523.5h.1M92.8 523.5h.1M95.7 518.5h.1M102.9 523.9h.1M104.0 515.5h.1M95.8 511.2h.1M97.6 518.8h.1M101.4 510.6h.1M108.5 516.0h.1M95.8 525.8h.1M106.2 516.3h.1M101.6 523.7h.1M93.4 523.7h.1M97.9 508.7h.1M113.9 519.2h.1M107.4 521.8h.1M104.0 517.9h.1M102.9 521.4h.1M97.9 526.9h.1M113.5 512.6h.1M97.7 513.6h.1M105.0 516.0h.1M95.0 530.8h.1M113.9 513.3h.1M103.7 518.6h.1M101.0 514.2h.1M104.6 512.1h.1M102.8 515.8h.1M117.1 515.9h.1M96.4 530.8h.1M99.9 527.7h.1M103.1 514.1h.1M101.9 520.6h.1M111.5 517.6h.1M96.7 521.3h.1M109.4 516.4h.1M107.2 508.1h.1M107.7 529.5h.1M97.3 510.1h.1M111.2 527.1h.1M99.9 525.4h.1M96.5 521.5h.1M93.3 521.7h.1M105.1 521.5h.1M98.0 511.7h.1M109.2 522.0h.1M96.9 516.7h.1M114.5 518.8h.1M98.4 521.0h.1M103.8 517.0h.1M109.9 522.6h.1M92.8 520.8h.1M107.3 515.4h.1M107.1 516.2h.1M102.9 522.9h.1M94.4 531.3h.1M111.5 520.8h.1M97.7 517.2h.1M103.9 522.5h.1M108.2 516.2h.1M106.0 515.1h.1M97.4 518.4h.1M100.0 515.6h.1M102.3 527.7h.1M86.8 512.7h.1M86.2 523.8h.1M99.0 509.3h.1M111.6 523.3h.1M108.1 507.3h.1M106.6 512.0h.1M90.9 517.8h.1M101.4 506.3h.1M107.0 508.6h.1M104.9 517.1h.1M86.7 516.2h.1M102.2 515.3h.1M85.4 520.7h.1M107.0 521.7h.1M104.7 514.1h.1M104.4 505.8h.1M104.3 517.1h.1M107.3 522.2h.1M97.7 532.7h.1M92.9 522.9h.1M100.4 518.6h.1M107.6 517.0h.1M110.0 518.4h.1M101.2 522.9h.1M99.1 511.5h.1M110.1 519.2h.1M112.8 523.2h.1M110.5 515.0h.1M98.6 508.9h.1M107.8 515.3h.1M115.0 523.2h.1M106.2 526.1h.1M91.0 511.9h.1M112.9 524.7h.1M92.4 521.6h.1M99.8 518.7h.1M98.7 519.8h.1M93.3 521.8h.1M114.4 520.6h.1M101.4 510.3h.1M92.8 523.6h.1M101.8 525.1h.1M106.7 520.4h.1M115.4 521.4h.1M103.7 523.5h.1M103.0 515.7h.1M104.0 510.1h.1M103.1 513.6h.1M106.7 517.7h.1M110.0 531.5h.1M104.1 518.4h.1M111.9 513.2h.1M96.0 509.8h.1M107.2 518.5h.1M102.2 507.6h.1M106.6 530.5h.1M108.2 515.5h.1M98.7 521.3h.1M99.7 532.8h.1M96.8 523.8h.1M104.9 526.0h.1M95.2 525.3h.1M104.6 524.6h.1M95.6 513.7h.1M118.2 510.8h.1M92.4 508.6h.1M110.1 525.0h.1M100.0 515.4h.1M105.4 510.3h.1M102.4 513.7h.1M103.9 509.2h.1M87.0 526.9h.1M116.0 517.8h.1M107.0 521.7h.1M95.1 522.7h.1M97.2 520.3h.1M106.8 523.6h.1M113.6 521.2h.1M107.2 516.7h.1M104.4 511.6h.1M90.9 515.6h.1M91.6 511.4h.1M105.3 514.4h.1M92.1 521.3h.1M101.6 521.6h.1M103.5 526.7h.1M99.5 516.1h.1M107.5 518.9h.1M106.2 523.9h.1M108.6 521.2h.1M99.2 519.2h.1M93.2 511.8h.1M97.1 514.3h.1M102.2 514.2h.1M99.5 512.4h.1M95.4 518.7h.1M104.2 524.1h.1M105.0 515.4h.1M107.1 526.2h.1M102.0 518.7h.1M97.1 519.9h.1M110.2 523.3h.1M102.9 521.6h.1M98.6 515.9h.1M94.3 514.3h.1M100.1 520.9h.1M99.1 507.0h.1" stroke="#000" stroke-width="0.9" stroke-linecap="round" stroke-opacity="0.6" fill="none"/>
<path d="M59.7 466.1h.1M74.5 483.2h.1M69.6 472.0h.1M70.1 489.6h.1M69.6 480.3h.1M74.2 471.7h.1M80.6 492.1h.1M67.5 483.3h.1M64.9 490.1h.1M78.8 477.7h.1M64.6 489.5h.1M65.6 479.1h.1M61.8 470.1h.1M71.3 474.8h.1M69.9 484.0h.1M73.4 490.1h.1M79.7 472.7h.1M61.6 469.6h.1M76.5 487.7h.1M78.6 481.4h.1M75.4 484.3h.1M75.7 476.8h.1M80.0 483.5h.1M60.7 476.2h.1M60.6 496.4h.1M70.1 477.8h.1M70.3 475.9h.1M67.9 476.0h.1M72.3 483.6h.1M79.1 487.2h.1M67.7 474.3h.1M69.7 471.0h.1M61.5 474.5h.1M68.2 483.9h.1M67.6 492.1h.1M75.2 488.2h.1M69.1 478.6h.1M63.8 487.0h.1M62.7 475.2h.1M68.9 483.8h.1M73.8 484.0h.1M78.9 478.7h.1M76.5 476.2h.1M65.4 486.5h.1M71.1 480.9h.1M56.2 478.7h.1M80.5 496.5h.1M67.3 487.1h.1M66.6 474.7h.1M76.4 493.8h.1M61.8 474.2h.1M77.5 491.6h.1M68.0 473.7h.1M70.1 482.8h.1M77.5 482.8h.1M70.3 458.3h.1M63.1 479.2h.1M66.7 474.6h.1M75.6 472.1h.1M77.4 485.5h.1M75.6 465.0h.1M70.8 482.1h.1M61.8 474.0h.1M79.0 472.6h.1M73.2 467.2h.1M64.4 477.7h.1M80.5 468.6h.1M81.3 476.5h.1M62.4 485.1h.1M61.3 477.4h.1M68.2 477.2h.1M80.9 468.3h.1M65.4 475.9h.1M61.9 470.5h.1M92.0 480.1h.1M73.2 482.2h.1M59.8 481.3h.1M67.8 489.3h.1M58.2 482.8h.1M59.6 474.5h.1M79.0 480.0h.1M69.4 485.5h.1M64.5 488.5h.1M69.0 478.6h.1M64.8 465.4h.1M66.6 487.4h.1M65.6 482.3h.1M71.9 485.0h.1M70.9 475.3h.1M82.0 487.9h.1M76.7 479.2h.1M67.7 484.7h.1M84.4 491.4h.1M65.3 465.3h.1M62.5 493.8h.1M63.4 484.0h.1M64.7 474.7h.1M77.7 466.2h.1M63.7 472.7h.1M72.2 480.5h.1M63.3 475.1h.1M68.8 475.6h.1M66.8 486.6h.1M58.7 469.5h.1M81.1 480.2h.1M83.6 480.7h.1M71.0 468.5h.1M70.3 484.3h.1M79.9 491.7h.1M66.1 485.3h.1M70.1 475.4h.1M82.1 475.9h.1M79.5 475.9h.1M69.7 480.1h.1M72.6 486.9h.1M76.0 473.8h.1M68.0 492.5h.1M83.6 469.3h.1M57.8 474.9h.1M75.1 480.1h.1M67.6 476.4h.1M58.2 496.1h.1M67.9 468.4h.1M63.9 480.4h.1M73.0 474.8h.1M66.1 493.9h.1M58.4 498.4h.1M71.4 475.3h.1M74.3 471.4h.1M65.7 498.9h.1M79.9 487.3h.1M84.3 470.2h.1M68.8 482.6h.1M74.8 476.6h.1M69.7 480.0h.1M64.6 455.4h.1M81.4 489.9h.1M75.9 483.6h.1M64.3 490.9h.1M69.7 471.7h.1M67.9 482.8h.1M61.1 480.6h.1M72.1 493.6h.1M76.0 480.4h.1M63.6 473.8h.1M80.0 480.0h.1M59.3 477.4h.1M63.2 489.1h.1M65.5 486.2h.1M80.0 492.6h.1M64.4 483.2h.1M69.5 482.4h.1M67.6 477.7h.1M68.9 500.7h.1M57.8 496.7h.1M71.2 477.1h.1M72.4 474.5h.1M82.1 483.9h.1M84.7 474.3h.1M67.8 472.0h.1M63.2 485.9h.1M72.9 491.4h.1M65.9 485.5h.1M75.1 478.1h.1M72.4 469.1h.1M74.1 491.6h.1M76.6 496.1h.1M70.1 491.1h.1M60.4 505.5h.1M77.6 489.2h.1M75.3 479.2h.1M55.8 494.9h.1M80.0 481.1h.1M70.2 474.9h.1M69.7 488.0h.1M61.9 482.7h.1M58.3 465.1h.1M75.2 477.9h.1M71.2 477.1h.1M59.0 462.6h.1M77.9 481.4h.1M76.6 472.5h.1M76.3 490.2h.1M76.5 472.0h.1M57.3 480.3h.1M81.8 468.5h.1M65.9 480.7h.1M88.4 491.5h.1M55.9 469.5h.1M63.7 483.2h.1M83.5 470.5h.1M64.0 475.5h.1M67.6 480.8h.1M68.6 491.4h.1M73.8 484.1h.1M77.3 488.5h.1M76.9 499.1h.1M60.8 477.7h.1M82.8 469.8h.1M71.4 464.2h.1M75.5 489.7h.1M73.4 480.4h.1M67.1 491.1h.1M73.4 462.6h.1M63.8 487.8h.1M80.9 462.7h.1M70.6 482.0h.1M83.3 483.5h.1M78.9 475.6h.1M62.3 476.0h.1M68.7 478.9h.1M91.4 475.2h.1M74.7 466.2h.1M81.8 473.2h.1M66.7 486.2h.1M62.5 469.2h.1M76.9 482.1h.1M71.5 487.2h.1M66.7 465.6h.1M75.1 486.8h.1M67.2 471.2h.1M62.9 466.8h.1M71.9 490.1h.1M62.8 493.2h.1M71.9 478.6h.1M70.9 463.2h.1M74.3 488.1h.1M61.8 477.5h.1M75.0 489.6h.1M73.2 478.0h.1M66.2 470.2h.1M76.8 492.3h.1M63.8 481.7h.1M78.0 489.4h.1M65.8 477.3h.1M77.1 475.1h.1M70.3 481.9h.1M64.6 487.2h.1M94.7 486.6h.1M79.2 485.2h.1M57.9 482.2h.1M80.8 494.0h.1M69.4 480.1h.1M68.1 469.5h.1M69.5 486.7h.1M85.1 489.2h.1M65.3 476.5h.1M59.1 490.8h.1M66.9 482.3h.1M83.0 464.6h.1M79.7 487.4h.1M56.9 477.5h.1M77.5 484.4h.1M64.1 474.0h.1M83.5 480.9h.1M68.2 478.2h.1M74.5 487.9h.1M75.9 484.3h.1M76.2 483.3h.1M80.4 501.6h.1M81.2 486.9h.1M65.4 484.8h.1M55.3 493.0h.1M59.9 475.2h.1M68.4 475.8h.1M73.7 490.7h.1M71.7 478.4h.1M72.9 494.5h.1M73.2 492.3h.1M81.9 489.8h.1M69.3 474.3h.1M59.3 483.1h.1M64.9 470.1h.1M61.6 476.7h.1M76.5 462.3h.1M66.4 472.5h.1M69.1 479.8h.1M72.4 473.7h.1M72.0 483.9h.1M64.9 489.8h.1M69.1 491.1h.1M69.0 486.5h.1M66.0 496.1h.1M58.1 491.4h.1M69.7 462.1h.1M81.0 487.7h.1M70.7 489.3h.1M68.4 487.6h.1M77.3 469.6h.1M79.2 473.3h.1M64.4 473.8h.1M76.9 477.3h.1M64.2 469.4h.1M79.0 488.4h.1M80.4 472.2h.1M77.7 479.9h.1M74.2 476.6h.1M80.7 484.5h.1M64.3 482.3h.1M58.8 478.1h.1M68.0 472.7h.1M71.4 491.1h.1M85.6 463.7h.1M82.7 477.5h.1M66.4 484.1h.1M71.9 468.7h.1M85.9 486.2h.1M80.9 485.8h.1M58.0 464.9h.1M66.8 485.9h.1M68.6 476.8h.1M78.9 476.7h.1M82.0 480.9h.1M55.2 476.1h.1M86.7 483.9h.1M84.4 490.2h.1M82.9 495.1h.1M68.7 488.9h.1M67.9 477.7h.1M75.1 481.7h.1M72.1 463.4h.1M72.5 475.1h.1M62.2 483.1h.1M78.3 472.7h.1M79.9 473.1h.1M82.0 487.7h.1M74.4 480.8h.1M60.0 486.2h.1M66.1 479.4h.1M68.1 478.2h.1M76.1 473.9h.1M60.4 495.0h.1M62.7 481.7h.1M78.4 486.3h.1M79.3 488.2h.1M62.4 471.5h.1M75.5 483.9h.1M71.4 468.1h.1M79.3 474.5h.1M66.4 477.9h.1M84.9 475.4h.1M76.1 489.7h.1M58.2 479.0h.1M69.9 469.7h.1M69.9 478.2h.1M65.8 474.1h.1M75.8 475.3h.1M68.8 475.7h.1M72.6 475.9h.1M75.0 493.7h.1M65.1 487.3h.1M69.0 473.1h.1M69.8 460.3h.1M67.4 481.9h.1M63.0 495.1h.1M73.2 490.4h.1M85.7 491.3h.1M75.0 484.3h.1M55.9 476.4h.1M68.1 489.3h.1M67.3 488.5h.1M57.1 495.2h.1M66.3 485.7h.1M63.2 494.0h.1M56.3 480.8h.1M77.2 476.9h.1M72.1 471.9h.1M78.3 479.1h.1M75.5 485.3h.1M79.7 483.6h.1M69.0 484.2h.1M65.7 469.7h.1M75.9 480.4h.1M61.9 473.5h.1M75.9 485.1h.1M64.9 490.7h.1M75.7 478.6h.1M61.2 499.3h.1M67.5 477.8h.1M68.7 483.3h.1M77.5 478.7h.1M69.9 498.9h.1M56.5 478.1h.1M72.6 484.9h.1M72.0 483.4h.1M76.4 491.8h.1M80.2 490.8h.1M78.4 489.5h.1M67.6 479.2h.1M87.2 472.5h.1M69.6 477.8h.1M78.8 484.1h.1M81.0 490.7h.1M58.4 485.8h.1M68.1 483.2h.1M78.5 475.9h.1M58.8 481.2h.1M75.6 476.9h.1M65.6 481.4h.1M73.4 492.4h.1M67.8 498.5h.1M76.3 473.1h.1M58.7 478.9h.1M68.1 482.1h.1M72.6 481.3h.1M66.8 479.2h.1M73.3 485.6h.1M81.6 499.2h.1M78.2 488.6h.1M56.3 470.3h.1M58.3 476.8h.1M61.7 472.2h.1M72.5 482.3h.1M79.5 492.7h.1M69.5 482.5h.1M76.3 478.8h.1M63.6 490.5h.1M75.7 468.6h.1M70.7 476.6h.1M75.4 478.9h.1M60.8 492.4h.1M66.4 487.8h.1M66.3 483.1h.1M67.9 483.4h.1M73.4 482.7h.1M59.2 483.8h.1M87.3 485.1h.1M70.1 478.2h.1M57.3 476.0h.1M62.2 485.9h.1M71.5 483.3h.1M72.5 495.9h.1M76.9 472.7h.1M70.7 477.0h.1M69.9 475.1h.1M57.0 494.2h.1M61.9 483.8h.1M80.1 462.8h.1M72.1 486.9h.1M84.2 484.8h.1M73.1 475.5h.1M67.4 485.2h.1M75.8 489.7h.1M71.3 487.3h.1M59.6 480.0h.1M63.6 481.3h.1M64.8 484.5h.1M64.5 483.1h.1M70.4 481.7h.1M74.2 488.9h.1M70.2 478.8h.1M82.9 494.2h.1M66.3 481.3h.1M63.8 484.0h.1M60.9 471.6h.1M64.2 476.5h.1M66.6 484.8h.1M71.3 493.8h.1M70.3 482.8h.1M73.4 485.8h.1M66.8 460.6h.1M65.8 485.4h.1M71.1 479.2h.1M65.7 487.1h.1M76.4 484.2h.1M68.0 482.8h.1M61.4 466.3h.1M67.2 488.7h.1M80.1 478.2h.1M69.0 478.5h.1M73.8 481.8h.1M73.6 495.9h.1M103.8 495.1h.1M99.0 499.0h.1M95.6 487.7h.1M114.2 483.6h.1M105.8 487.7h.1M99.2 491.4h.1M104.3 496.3h.1M94.4 476.1h.1M95.4 501.5h.1M97.6 502.3h.1M96.6 503.1h.1M103.6 493.9h.1M86.1 485.9h.1M90.0 493.3h.1M82.5 492.9h.1M71.9 482.3h.1M86.8 467.2h.1M94.8 488.7h.1M105.0 495.4h.1M88.8 483.9h.1M114.9 486.5h.1M92.8 499.2h.1M106.1 494.2h.1M90.6 494.9h.1M104.7 484.2h.1M102.6 482.9h.1M82.0 494.9h.1M125.4 481.2h.1M92.9 492.7h.1M98.6 488.8h.1M112.9 491.5h.1M93.3 480.7h.1M83.3 485.6h.1M93.6 483.5h.1M91.8 510.7h.1M107.3 507.8h.1M107.0 492.1h.1M104.7 477.8h.1M96.5 496.2h.1M91.6 503.6h.1M95.3 477.4h.1M102.1 484.6h.1M93.0 504.2h.1M107.7 485.5h.1M105.2 484.5h.1M96.8 488.7h.1M100.4 495.3h.1M94.3 505.3h.1M106.9 482.0h.1M101.8 484.2h.1M87.6 478.0h.1M82.8 497.6h.1M108.9 486.6h.1M96.5 495.3h.1M102.9 488.0h.1M95.9 484.1h.1M102.2 491.3h.1M85.7 489.6h.1M95.6 497.7h.1M113.3 480.2h.1M102.6 486.3h.1M105.0 481.8h.1M101.6 478.8h.1M101.5 498.0h.1M106.6 499.5h.1M128.6 490.6h.1M104.9 487.9h.1M89.5 484.6h.1M86.7 472.3h.1M89.3 499.3h.1M96.8 500.6h.1M96.3 493.5h.1M111.8 494.8h.1M104.5 488.5h.1M100.1 481.4h.1M116.4 487.4h.1M108.2 490.7h.1M90.6 480.0h.1M95.2 499.1h.1M104.9 493.9h.1M107.6 484.6h.1M94.7 496.1h.1M99.5 489.5h.1M84.3 482.7h.1M93.7 476.4h.1M99.8 496.8h.1M93.2 490.6h.1M99.4 496.5h.1M111.0 477.7h.1M98.7 488.4h.1M112.7 498.5h.1M83.4 496.1h.1M102.8 490.5h.1M91.1 499.6h.1M109.8 476.9h.1M104.8 508.0h.1M99.3 492.3h.1M108.9 487.7h.1M101.6 480.9h.1M100.1 492.2h.1M96.6 493.6h.1M94.0 482.5h.1M109.6 484.9h.1M110.2 484.0h.1M114.1 494.5h.1M117.3 477.0h.1M100.8 477.9h.1M93.2 490.2h.1M90.8 486.2h.1M94.2 497.9h.1M102.2 478.5h.1M96.9 481.0h.1M92.8 500.8h.1M103.5 496.8h.1M97.7 482.7h.1M105.2 482.1h.1M94.7 483.6h.1M100.2 487.7h.1M114.7 472.3h.1M99.3 496.5h.1M89.6 488.1h.1M100.9 485.6h.1M96.7 503.7h.1M91.0 490.7h.1M98.8 488.3h.1M91.0 494.2h.1M91.2 495.5h.1M110.5 499.9h.1M86.2 488.7h.1M84.1 485.6h.1M80.1 523.1h.1M88.0 524.1h.1M107.0 510.9h.1M116.2 527.7h.1M101.9 511.5h.1M107.2 515.4h.1M106.9 506.1h.1M78.6 530.2h.1M103.7 512.7h.1M65.5 515.4h.1M90.0 517.3h.1M94.7 531.6h.1M138.5 525.7h.1M116.3 528.7h.1M87.5 514.7h.1M71.6 507.4h.1M99.4 518.0h.1M116.8 512.6h.1M92.1 523.1h.1M88.9 526.0h.1M103.0 522.7h.1M80.7 522.0h.1M88.1 529.4h.1M122.1 518.4h.1M124.6 519.3h.1M114.5 510.1h.1M66.1 508.9h.1M68.6 508.9h.1M98.8 513.7h.1M106.9 505.9h.1M73.8 504.6h.1M103.5 511.3h.1M123.2 530.5h.1M88.4 526.3h.1M65.1 507.6h.1M112.5 517.3h.1M83.3 530.9h.1M106.0 518.5h.1M85.9 528.0h.1M85.6 518.7h.1M70.8 516.3h.1M83.2 522.6h.1M107.2 520.4h.1M99.7 527.3h.1M87.4 515.5h.1M124.6 521.1h.1M98.0 513.2h.1M112.5 510.1h.1M79.1 525.6h.1M91.2 512.5h.1M85.0 526.6h.1M106.7 515.3h.1M64.0 524.1h.1M112.3 523.2h.1M90.4 518.8h.1M97.9 518.7h.1M82.9 517.9h.1M64.3 517.1h.1M102.0 515.6h.1M85.8 508.6h.1M109.3 514.2h.1M94.8 505.8h.1M77.7 510.7h.1M98.2 513.4h.1M62.7 529.4h.1M101.5 522.7h.1M73.6 516.5h.1M120.4 502.8h.1M96.2 519.7h.1M68.9 529.9h.1M59.3 512.2h.1M76.3 516.3h.1M119.4 504.8h.1M104.6 523.3h.1M90.3 511.0h.1M101.8 509.9h.1M77.6 524.1h.1M78.5 523.4h.1M113.4 509.1h.1M109.1 514.5h.1M118.0 503.6h.1M122.7 516.6h.1M114.2 520.4h.1M111.5 509.8h.1M65.3 521.8h.1M96.4 505.2h.1M97.0 522.3h.1M118.4 524.3h.1M104.1 505.1h.1M74.2 513.4h.1M58.5 513.0h.1M92.7 525.6h.1M91.6 513.0h.1M99.5 510.7h.1M76.6 515.9h.1M91.5 529.4h.1M97.9 513.2h.1M115.6 524.1h.1M102.0 512.9h.1M108.0 520.4h.1M106.0 518.7h.1M86.0 519.9h.1M97.7 521.4h.1M103.0 503.8h.1M82.8 523.4h.1M82.4 518.7h.1M125.6 523.2h.1M112.6 521.7h.1M135.1 518.4h.1M61.0 511.2h.1M75.3 502.4h.1M96.6 508.8h.1M108.5 528.1h.1M62.8 525.4h.1M118.1 509.6h.1M94.3 519.8h.1M105.9 517.1h.1M73.8 518.7h.1M133.0 517.2h.1M122.2 516.2h.1M97.7 514.6h.1M69.8 530.5h.1M74.3 521.8h.1M58.5 516.9h.1M91.8 516.3h.1M88.0 520.1h.1M60.3 524.0h.1M91.5 518.5h.1M80.0 514.7h.1M92.2 524.1h.1M114.4 518.1h.1M93.3 521.3h.1M94.9 515.6h.1M114.9 497.1h.1M96.6 525.5h.1M100.1 504.1h.1M109.7 508.9h.1M125.0 515.3h.1M112.8 501.3h.1M90.9 519.8h.1M71.9 513.3h.1M91.4 514.0h.1M59.7 513.7h.1" stroke="#000" stroke-width="0.9" stroke-linecap="round" stroke-opacity="0.45" fill="none"/>
<rect x="53" y="413.5" width="131" height="120.89999999999998" fill="none" stroke="#777" stroke-width="1"/>
<line x1="87.5" y1="413.5" x2="87.5" y2="534.4" stroke="#505050" stroke-width="1.35" />
<line x1="53" y1="503" x2="184" y2="503" stroke="#505050" stroke-width="1.35" />
<text transform="translate(54.2,420.8) scale(1.1,1)" font-size="6.8" font-weight="normal" text-anchor="start" fill="#444" >B1</text>
<text transform="translate(88.7,420.8) scale(1.1,1)" font-size="6.8" font-weight="normal" text-anchor="start" fill="#444" >B2</text>
<text transform="translate(54.2,510.8) scale(1.1,1)" font-size="6.8" font-weight="normal" text-anchor="start" fill="#444" >B3</text>
<text transform="translate(88.7,510.8) scale(1.1,1)" font-size="6.8" font-weight="normal" text-anchor="start" fill="#444" >B4</text>
<text transform="translate(152.5,430) scale(1.14,1)" font-size="10.3" font-weight="bold" text-anchor="middle" fill="#000" >+ 1 <tspan font-style="italic">µ</tspan>M</text>
<text transform="translate(152.5,442.5) scale(1.07,1)" font-size="11.2" font-weight="bold" text-anchor="middle" fill="#000" >Imatinib</text>
<text transform="translate(176.5,495) scale(1.02,1)" font-size="12" font-weight="bold" text-anchor="end" fill="#000" >5±3%</text>
<text transform="translate(178.5,526.3) scale(1.02,1)" font-size="12" font-weight="bold" text-anchor="end" fill="#000" >42±7%</text>
<text x="77.2" y="550.8" font-size="12" font-weight="bold">10<tspan dy="-5.3" dx="0" font-size="8.8" font-weight="normal" fill="#222">0</tspan></text>
<text x="110.0" y="550.8" font-size="12" font-weight="bold">10<tspan dy="-5.3" dx="0" font-size="8.8" font-weight="normal" fill="#222">1</tspan></text>
<text x="142.7" y="550.8" font-size="12" font-weight="bold">10<tspan dy="-5.3" dx="0" font-size="8.8" font-weight="normal" fill="#222">2</tspan></text>
<text x="175.6" y="550.8" font-size="12" font-weight="bold">10<tspan dy="-5.3" dx="0" font-size="8.8" font-weight="normal" fill="#222">3</tspan></text>
<text x="30.8" y="513.0" font-size="12" font-weight="bold">10<tspan dy="-5.3" dx="0" font-size="8.8" font-weight="normal" fill="#222">0</tspan></text>
<text x="30.8" y="483.0" font-size="12" font-weight="bold">10<tspan dy="-5.3" dx="0" font-size="8.8" font-weight="normal" fill="#222">1</tspan></text>
<text x="30.8" y="453.4" font-size="12" font-weight="bold">10<tspan dy="-5.3" dx="0" font-size="8.8" font-weight="normal" fill="#222">2</tspan></text>
<text x="30.8" y="422.3" font-size="12" font-weight="bold">10<tspan dy="-5.3" dx="0" font-size="8.8" font-weight="normal" fill="#222">3</tspan></text>
<line x1="53.9" y1="534.4" x2="53.9" y2="536.6" stroke="#888" stroke-width="0.8" />
<line x1="55.3" y1="534.4" x2="55.3" y2="537.6" stroke="#888" stroke-width="0.8" />
<line x1="65.0" y1="534.4" x2="65.0" y2="536.6" stroke="#888" stroke-width="0.8" />
<line x1="49.8" y1="525.7" x2="53" y2="525.7" stroke="#888" stroke-width="0.8" />
<line x1="70.7" y1="534.4" x2="70.7" y2="536.6" stroke="#888" stroke-width="0.8" />
<line x1="49.8" y1="520.4" x2="53" y2="520.4" stroke="#888" stroke-width="0.8" />
<line x1="74.7" y1="534.4" x2="74.7" y2="536.6" stroke="#888" stroke-width="0.8" />
<line x1="49.8" y1="516.6" x2="53" y2="516.6" stroke="#888" stroke-width="0.8" />
<line x1="77.8" y1="534.4" x2="77.8" y2="536.6" stroke="#888" stroke-width="0.8" />
<line x1="49.8" y1="513.6" x2="53" y2="513.6" stroke="#888" stroke-width="0.8" />
<line x1="80.4" y1="534.4" x2="80.4" y2="536.6" stroke="#888" stroke-width="0.8" />
<line x1="49.8" y1="511.2" x2="53" y2="511.2" stroke="#888" stroke-width="0.8" />
<line x1="82.5" y1="534.4" x2="82.5" y2="536.6" stroke="#888" stroke-width="0.8" />
<line x1="49.8" y1="509.2" x2="53" y2="509.2" stroke="#888" stroke-width="0.8" />
<line x1="84.4" y1="534.4" x2="84.4" y2="536.6" stroke="#888" stroke-width="0.8" />
<line x1="49.8" y1="507.4" x2="53" y2="507.4" stroke="#888" stroke-width="0.8" />
<line x1="86.0" y1="534.4" x2="86.0" y2="536.6" stroke="#888" stroke-width="0.8" />
<line x1="49.8" y1="505.9" x2="53" y2="505.9" stroke="#888" stroke-width="0.8" />
<line x1="87.5" y1="534.4" x2="87.5" y2="537.6" stroke="#888" stroke-width="0.8" />
<line x1="48.2" y1="504.5" x2="53" y2="504.5" stroke="#888" stroke-width="0.8" />
<line x1="97.2" y1="534.4" x2="97.2" y2="536.6" stroke="#888" stroke-width="0.8" />
<line x1="49.8" y1="495.4" x2="53" y2="495.4" stroke="#888" stroke-width="0.8" />
<line x1="102.8" y1="534.4" x2="102.8" y2="536.6" stroke="#888" stroke-width="0.8" />
<line x1="49.8" y1="490.0" x2="53" y2="490.0" stroke="#888" stroke-width="0.8" />
<line x1="106.9" y1="534.4" x2="106.9" y2="536.6" stroke="#888" stroke-width="0.8" />
<line x1="49.8" y1="486.2" x2="53" y2="486.2" stroke="#888" stroke-width="0.8" />
<line x1="110.0" y1="534.4" x2="110.0" y2="536.6" stroke="#888" stroke-width="0.8" />
<line x1="49.8" y1="483.3" x2="53" y2="483.3" stroke="#888" stroke-width="0.8" />
<line x1="112.5" y1="534.4" x2="112.5" y2="536.6" stroke="#888" stroke-width="0.8" />
<line x1="49.8" y1="480.9" x2="53" y2="480.9" stroke="#888" stroke-width="0.8" />
<line x1="114.7" y1="534.4" x2="114.7" y2="536.6" stroke="#888" stroke-width="0.8" />
<line x1="49.8" y1="478.9" x2="53" y2="478.9" stroke="#888" stroke-width="0.8" />
<line x1="116.5" y1="534.4" x2="116.5" y2="536.6" stroke="#888" stroke-width="0.8" />
<line x1="49.8" y1="477.1" x2="53" y2="477.1" stroke="#888" stroke-width="0.8" />
<line x1="118.2" y1="534.4" x2="118.2" y2="536.6" stroke="#888" stroke-width="0.8" />
<line x1="49.8" y1="475.6" x2="53" y2="475.6" stroke="#888" stroke-width="0.8" />
<line x1="119.7" y1="534.4" x2="119.7" y2="537.6" stroke="#888" stroke-width="0.8" />
<line x1="48.2" y1="474.2" x2="53" y2="474.2" stroke="#888" stroke-width="0.8" />
<line x1="129.3" y1="534.4" x2="129.3" y2="536.6" stroke="#888" stroke-width="0.8" />
<line x1="49.8" y1="465.0" x2="53" y2="465.0" stroke="#888" stroke-width="0.8" />
<line x1="135.0" y1="534.4" x2="135.0" y2="536.6" stroke="#888" stroke-width="0.8" />
<line x1="49.8" y1="459.7" x2="53" y2="459.7" stroke="#888" stroke-width="0.8" />
<line x1="139.0" y1="534.4" x2="139.0" y2="536.6" stroke="#888" stroke-width="0.8" />
<line x1="49.8" y1="455.9" x2="53" y2="455.9" stroke="#888" stroke-width="0.8" />
<line x1="142.2" y1="534.4" x2="142.2" y2="536.6" stroke="#888" stroke-width="0.8" />
<line x1="49.8" y1="453.0" x2="53" y2="453.0" stroke="#888" stroke-width="0.8" />
<line x1="144.7" y1="534.4" x2="144.7" y2="536.6" stroke="#888" stroke-width="0.8" />
<line x1="49.8" y1="450.6" x2="53" y2="450.6" stroke="#888" stroke-width="0.8" />
<line x1="146.9" y1="534.4" x2="146.9" y2="536.6" stroke="#888" stroke-width="0.8" />
<line x1="49.8" y1="448.5" x2="53" y2="448.5" stroke="#888" stroke-width="0.8" />
<line x1="148.7" y1="534.4" x2="148.7" y2="536.6" stroke="#888" stroke-width="0.8" />
<line x1="49.8" y1="446.8" x2="53" y2="446.8" stroke="#888" stroke-width="0.8" />
<line x1="150.4" y1="534.4" x2="150.4" y2="536.6" stroke="#888" stroke-width="0.8" />
<line x1="49.8" y1="445.2" x2="53" y2="445.2" stroke="#888" stroke-width="0.8" />
<line x1="151.8" y1="534.4" x2="151.8" y2="537.6" stroke="#888" stroke-width="0.8" />
<line x1="48.2" y1="443.8" x2="53" y2="443.8" stroke="#888" stroke-width="0.8" />
<line x1="161.5" y1="534.4" x2="161.5" y2="536.6" stroke="#888" stroke-width="0.8" />
<line x1="49.8" y1="434.7" x2="53" y2="434.7" stroke="#888" stroke-width="0.8" />
<line x1="167.2" y1="534.4" x2="167.2" y2="536.6" stroke="#888" stroke-width="0.8" />
<line x1="49.8" y1="429.4" x2="53" y2="429.4" stroke="#888" stroke-width="0.8" />
<line x1="171.2" y1="534.4" x2="171.2" y2="536.6" stroke="#888" stroke-width="0.8" />
<line x1="49.8" y1="425.6" x2="53" y2="425.6" stroke="#888" stroke-width="0.8" />
<line x1="174.3" y1="534.4" x2="174.3" y2="536.6" stroke="#888" stroke-width="0.8" />
<line x1="49.8" y1="422.6" x2="53" y2="422.6" stroke="#888" stroke-width="0.8" />
<line x1="176.9" y1="534.4" x2="176.9" y2="536.6" stroke="#888" stroke-width="0.8" />
<line x1="49.8" y1="420.2" x2="53" y2="420.2" stroke="#888" stroke-width="0.8" />
<line x1="179.0" y1="534.4" x2="179.0" y2="536.6" stroke="#888" stroke-width="0.8" />
<line x1="49.8" y1="418.2" x2="53" y2="418.2" stroke="#888" stroke-width="0.8" />
<line x1="180.9" y1="534.4" x2="180.9" y2="536.6" stroke="#888" stroke-width="0.8" />
<line x1="49.8" y1="416.4" x2="53" y2="416.4" stroke="#888" stroke-width="0.8" />
<line x1="182.5" y1="534.4" x2="182.5" y2="536.6" stroke="#888" stroke-width="0.8" />
<line x1="49.8" y1="414.9" x2="53" y2="414.9" stroke="#888" stroke-width="0.8" />
<path d="M229.0 528.1h.1M232.2 523.3h.1M233.5 522.3h.1M235.9 515.3h.1M243.5 526.3h.1M219.0 518.6h.1M233.3 517.6h.1M229.3 521.1h.1M234.1 523.4h.1M224.3 520.1h.1M229.7 521.5h.1M235.4 515.0h.1M235.9 524.6h.1M238.0 517.1h.1M244.2 509.8h.1M238.0 520.7h.1M240.2 519.2h.1M234.8 515.1h.1M223.2 514.4h.1M246.3 522.0h.1M228.5 526.3h.1M227.0 520.9h.1M222.5 513.5h.1M240.2 516.8h.1M226.3 514.8h.1M229.0 525.0h.1M239.5 517.6h.1M237.4 513.3h.1M230.5 519.9h.1M229.8 522.5h.1M231.6 522.2h.1M232.4 521.7h.1M224.1 523.5h.1M236.7 512.1h.1M232.2 520.4h.1M232.2 522.8h.1M236.9 526.1h.1M242.4 519.0h.1M232.2 524.6h.1M233.0 522.4h.1M239.8 525.2h.1M233.4 521.5h.1M229.3 516.9h.1M238.3 519.4h.1M239.3 516.8h.1M237.0 519.6h.1M241.4 525.4h.1M226.1 523.3h.1M237.5 516.4h.1M238.3 517.2h.1M228.7 518.0h.1M231.4 519.9h.1M219.1 511.8h.1M247.7 523.6h.1M229.8 524.4h.1M247.4 520.2h.1M227.5 517.4h.1M244.4 526.2h.1M235.2 513.9h.1M232.0 524.7h.1M229.5 512.0h.1M235.5 516.6h.1M233.7 523.0h.1M238.9 523.0h.1M233.1 522.4h.1M238.1 513.5h.1M230.3 526.6h.1M219.7 518.7h.1M232.1 527.2h.1M222.4 518.5h.1M239.0 530.2h.1M231.8 516.0h.1M225.0 516.0h.1M243.1 526.5h.1M236.6 516.0h.1M243.4 521.4h.1M218.9 517.6h.1M232.9 527.2h.1M236.3 525.3h.1M232.6 524.1h.1M235.4 517.9h.1M229.3 513.5h.1M240.4 517.9h.1M230.3 521.8h.1M242.8 524.7h.1M234.7 518.0h.1M232.1 524.5h.1M240.0 525.2h.1M223.7 524.3h.1M232.2 514.0h.1M240.8 514.8h.1M233.2 513.6h.1M236.0 517.7h.1M236.4 521.4h.1M225.3 518.3h.1M243.5 522.8h.1M233.2 525.7h.1M243.4 513.3h.1M251.5 520.6h.1M232.1 525.5h.1M231.4 522.3h.1M219.3 518.0h.1M237.0 516.3h.1M218.8 520.0h.1M248.6 513.2h.1M223.9 524.8h.1M243.2 516.7h.1M232.8 520.8h.1M234.7 517.8h.1M224.5 513.6h.1M235.1 521.0h.1M241.6 523.7h.1M229.5 514.4h.1M234.3 529.4h.1M237.3 520.5h.1M229.3 521.6h.1M241.6 527.8h.1M226.2 520.6h.1M240.0 523.9h.1M230.6 515.0h.1M241.3 524.7h.1M235.1 520.2h.1M232.4 513.5h.1M222.7 525.2h.1M229.7 514.0h.1M241.3 517.8h.1M227.3 519.3h.1M229.0 525.9h.1M231.2 518.2h.1M219.9 524.8h.1M232.8 528.9h.1M233.0 518.1h.1M231.9 518.0h.1M227.1 517.3h.1M230.7 523.2h.1M232.7 529.4h.1M241.8 519.2h.1M240.2 524.9h.1M230.2 517.1h.1M232.4 525.7h.1M230.7 515.6h.1M221.9 530.3h.1M236.4 527.1h.1M234.9 519.0h.1M229.8 524.3h.1M241.0 517.8h.1M225.6 521.8h.1M225.8 516.6h.1M245.5 518.9h.1M239.2 514.4h.1M233.2 518.2h.1M238.3 530.2h.1M232.4 520.4h.1M231.5 530.8h.1M239.6 525.5h.1M232.7 532.6h.1M218.6 526.8h.1M232.8 522.4h.1M226.4 515.0h.1M240.1 521.4h.1M237.5 511.6h.1M235.4 518.8h.1M240.1 528.7h.1M232.3 515.2h.1M223.8 515.7h.1M232.6 520.4h.1M218.3 528.3h.1M239.2 530.7h.1M224.3 511.2h.1M240.6 515.9h.1M220.9 514.8h.1M217.9 525.5h.1M234.9 521.8h.1M230.7 517.3h.1M234.0 518.2h.1M230.0 515.7h.1M227.0 516.2h.1M236.1 526.4h.1M232.4 521.3h.1M226.6 515.3h.1M226.2 524.8h.1M244.3 519.4h.1M237.2 517.9h.1M242.5 514.9h.1M229.4 529.7h.1M237.5 527.5h.1M244.6 518.1h.1M218.5 517.1h.1M229.7 511.5h.1M236.6 520.9h.1M227.6 527.5h.1M229.9 515.3h.1M236.6 520.9h.1M233.0 513.9h.1M237.2 521.7h.1M246.3 515.8h.1M226.1 521.2h.1M220.7 522.4h.1M236.1 518.1h.1M237.2 518.5h.1M229.9 512.7h.1M235.7 513.3h.1M234.8 522.0h.1M241.1 526.6h.1M223.6 522.3h.1M227.2 522.1h.1M228.9 514.6h.1M242.0 522.3h.1M224.6 527.2h.1M222.8 521.0h.1M240.9 512.8h.1M232.0 523.3h.1M231.9 528.3h.1M234.0 522.5h.1M238.9 516.0h.1M248.0 519.0h.1M236.0 519.0h.1M230.8 526.8h.1M234.0 528.5h.1M239.0 521.9h.1M227.0 520.3h.1M229.4 515.8h.1M232.5 528.9h.1M231.4 520.3h.1M239.7 517.6h.1M229.5 518.9h.1M237.9 515.4h.1M229.1 524.3h.1M227.2 517.5h.1M226.8 517.1h.1M227.1 523.0h.1M248.1 516.9h.1M228.6 523.2h.1M241.0 515.5h.1M229.1 513.4h.1M221.9 525.4h.1M238.0 522.2h.1M229.7 513.4h.1M234.6 520.5h.1M231.6 528.6h.1M231.3 528.6h.1M237.5 521.5h.1M226.3 515.2h.1M235.5 512.7h.1M239.5 523.9h.1M236.2 514.8h.1M237.8 514.3h.1M230.1 509.9h.1M233.0 524.1h.1M232.5 513.7h.1M231.4 526.3h.1M232.0 523.4h.1M240.5 524.0h.1M229.9 526.4h.1M239.0 518.7h.1M232.0 521.0h.1M226.2 524.1h.1M232.4 527.5h.1M222.5 504.0h.1M237.1 515.4h.1M226.3 517.9h.1M245.4 522.1h.1M234.3 521.3h.1M234.4 525.0h.1M230.8 523.4h.1M238.6 526.3h.1M231.7 519.6h.1M237.3 524.5h.1M233.2 516.6h.1M235.4 527.5h.1M229.4 524.1h.1M230.2 518.3h.1M235.8 510.4h.1M230.5 528.0h.1M239.1 520.7h.1M236.0 520.4h.1M237.5 523.4h.1M236.1 516.6h.1M239.7 514.5h.1M223.5 519.1h.1M234.9 519.8h.1M232.6 509.0h.1M229.5 525.4h.1M226.1 523.7h.1M236.4 529.0h.1M229.4 517.0h.1M242.7 517.7h.1M239.9 508.3h.1M222.1 521.3h.1M224.5 520.0h.1M220.8 526.1h.1M230.3 518.5h.1M230.9 510.2h.1M240.2 522.9h.1M235.2 519.3h.1M223.4 513.3h.1M233.8 519.6h.1M236.9 517.9h.1M227.8 527.1h.1M240.6 528.8h.1M220.7 515.7h.1M224.6 519.9h.1M227.7 527.8h.1M220.7 513.3h.1M232.7 520.3h.1M235.4 517.7h.1M236.3 523.7h.1M244.1 519.7h.1M235.0 530.0h.1M233.7 513.0h.1M240.1 530.5h.1M226.1 521.9h.1M228.2 522.1h.1M221.9 516.9h.1M227.1 518.8h.1M229.8 525.8h.1M234.6 513.1h.1M224.9 516.3h.1M237.1 512.5h.1M225.4 531.0h.1M230.5 521.8h.1M224.1 529.8h.1M239.4 524.0h.1M241.0 524.8h.1M230.1 511.3h.1M226.4 507.6h.1M227.7 511.8h.1M247.7 514.7h.1M241.2 519.1h.1M236.2 527.0h.1M227.0 520.4h.1M250.3 514.1h.1M227.7 517.7h.1M233.6 517.9h.1M236.4 519.3h.1M224.9 525.0h.1M219.5 513.9h.1M221.3 517.9h.1M226.5 516.8h.1M236.3 520.5h.1M238.4 527.6h.1M227.9 522.4h.1M220.0 520.9h.1M235.0 518.8h.1M236.6 518.2h.1M231.2 521.0h.1M235.6 526.4h.1M226.9 518.6h.1M233.9 519.8h.1M233.9 509.5h.1M232.2 506.5h.1M229.4 514.3h.1M238.5 521.7h.1M233.1 527.7h.1M229.0 514.8h.1M231.7 522.3h.1M231.2 526.0h.1M242.8 524.4h.1M219.1 520.2h.1M225.7 518.8h.1M234.4 516.2h.1M244.8 518.3h.1M230.7 521.3h.1M236.7 517.5h.1M240.8 522.9h.1M242.2 518.4h.1M225.1 515.5h.1M241.9 520.4h.1M239.3 517.7h.1M232.1 518.6h.1M226.5 524.7h.1M238.2 520.7h.1M224.5 518.9h.1M232.5 524.9h.1M225.6 517.8h.1M234.2 519.2h.1M231.8 521.5h.1M242.7 513.9h.1M226.6 522.9h.1M229.4 518.7h.1M236.9 519.0h.1M243.3 510.2h.1M234.7 522.2h.1M222.8 516.7h.1M228.8 522.8h.1M226.5 515.3h.1M226.3 516.0h.1M238.8 526.5h.1M233.4 516.7h.1M236.4 515.7h.1M233.3 528.5h.1M242.0 511.9h.1M233.3 517.3h.1M229.4 520.6h.1M245.8 516.5h.1M232.8 522.8h.1M234.1 524.4h.1M234.9 523.2h.1M238.6 519.9h.1M244.9 519.2h.1M231.4 523.9h.1M245.3 523.2h.1M234.0 511.5h.1M239.4 518.4h.1M239.0 526.8h.1M239.0 516.6h.1M237.8 520.3h.1M232.8 516.9h.1M228.7 525.9h.1M231.7 513.1h.1M229.4 528.6h.1M229.3 523.7h.1M235.1 520.2h.1M221.8 522.2h.1M227.0 526.9h.1M222.5 518.2h.1M229.8 516.8h.1M231.2 519.4h.1M230.6 522.6h.1M245.0 520.7h.1M230.5 519.7h.1M243.0 522.5h.1M238.6 516.2h.1M233.9 516.8h.1M235.9 514.6h.1M233.6 514.8h.1M227.7 519.9h.1M234.2 519.1h.1M240.9 511.0h.1M246.3 521.6h.1M218.7 515.6h.1M231.4 517.4h.1M240.2 520.4h.1M234.3 528.0h.1M244.7 525.8h.1M240.1 518.1h.1M221.8 511.1h.1M239.2 524.8h.1M235.8 529.3h.1M228.5 514.3h.1M234.9 525.0h.1M232.3 507.7h.1M237.8 524.0h.1M227.7 519.2h.1M238.8 522.1h.1M226.3 518.0h.1M220.1 522.8h.1M231.9 516.2h.1M239.5 528.7h.1M231.5 527.4h.1M240.6 515.2h.1M228.9 524.9h.1M232.5 518.7h.1M239.4 519.2h.1M240.4 521.5h.1M236.7 519.6h.1M229.7 512.2h.1M235.6 524.4h.1M240.8 513.6h.1M220.9 514.5h.1M237.9 515.4h.1M234.4 518.1h.1M240.6 523.8h.1M234.5 519.7h.1M237.8 521.4h.1M235.0 526.7h.1M226.9 518.3h.1M233.9 522.7h.1M248.2 515.6h.1M231.5 525.4h.1M234.1 519.9h.1M221.1 527.4h.1M220.2 517.5h.1M226.8 515.0h.1M243.8 517.2h.1M232.8 516.3h.1M232.2 517.0h.1M227.1 518.9h.1M238.6 523.1h.1M223.6 522.6h.1M225.4 518.1h.1M229.1 520.2h.1M245.7 523.9h.1M232.8 528.8h.1M238.1 516.1h.1M235.9 528.6h.1M236.9 527.5h.1M231.3 520.6h.1M218.8 518.0h.1M233.7 511.9h.1M222.4 515.1h.1M237.2 517.3h.1M236.7 517.7h.1M239.1 525.3h.1M227.8 519.7h.1M232.0 518.2h.1M234.6 520.9h.1M231.1 513.5h.1M234.7 515.6h.1M233.2 511.9h.1M240.2 515.1h.1M234.6 512.7h.1M250.0 519.0h.1M237.7 513.8h.1M233.0 527.5h.1M228.8 512.3h.1M247.1 524.6h.1M239.1 520.1h.1M243.2 507.3h.1M228.5 527.0h.1M229.9 516.7h.1M234.2 518.9h.1M246.7 518.6h.1M242.6 519.4h.1M223.4 529.9h.1M230.8 528.2h.1M247.0 518.0h.1M237.9 522.3h.1M232.9 515.7h.1M228.9 518.5h.1M238.0 521.9h.1M232.3 523.4h.1M230.3 519.7h.1M228.7 519.9h.1M236.3 514.2h.1M232.6 518.4h.1M220.4 530.0h.1M233.3 524.9h.1M229.3 520.3h.1M237.0 512.9h.1M222.6 515.9h.1M222.4 509.3h.1M233.6 522.9h.1M242.8 529.7h.1M227.4 516.3h.1M227.4 524.1h.1M243.7 529.4h.1M232.5 531.8h.1M232.4 510.3h.1M237.7 529.7h.1M226.6 515.9h.1M237.0 521.1h.1M228.7 524.3h.1M226.0 524.7h.1M240.8 524.0h.1M231.4 516.5h.1M237.5 528.2h.1M232.8 516.1h.1M245.6 524.3h.1M233.3 525.3h.1M230.0 515.1h.1M237.2 517.4h.1M223.6 513.7h.1M226.6 525.3h.1M237.1 518.7h.1M222.2 512.2h.1M234.3 519.0h.1M233.7 526.9h.1M237.0 512.3h.1M238.9 521.0h.1M232.8 516.8h.1M233.7 521.7h.1M227.3 520.1h.1M240.6 516.3h.1M237.0 525.9h.1M230.1 528.9h.1M225.1 516.5h.1M219.5 515.8h.1M223.6 528.7h.1M240.6 519.3h.1M219.3 515.7h.1M228.8 522.3h.1M221.5 521.5h.1M228.8 521.6h.1M245.0 525.3h.1M230.0 518.8h.1M237.9 518.5h.1M240.5 520.8h.1M225.1 524.7h.1M230.5 517.6h.1M222.8 519.6h.1M218.7 522.9h.1M235.1 528.1h.1M235.7 515.3h.1M221.6 510.8h.1M232.8 529.8h.1M235.1 512.1h.1M234.5 523.0h.1M240.9 514.0h.1M246.8 511.2h.1M292.0 523.6h.1M278.0 515.2h.1M278.3 525.4h.1M282.3 515.6h.1M298.8 513.8h.1M273.4 517.7h.1M301.5 520.0h.1M259.2 523.7h.1M277.5 517.6h.1M278.2 516.1h.1M266.0 519.3h.1M269.0 515.7h.1M298.2 519.6h.1M281.5 521.5h.1M282.2 518.0h.1M271.4 509.2h.1M293.3 515.6h.1M271.8 522.3h.1M289.0 510.8h.1M283.1 517.9h.1M262.3 514.2h.1M263.8 518.2h.1M272.8 511.0h.1M285.2 512.7h.1M308.0 523.0h.1M301.9 513.9h.1M303.6 512.4h.1M299.3 508.1h.1M291.1 518.5h.1M278.7 515.3h.1M276.5 518.6h.1M297.0 520.1h.1M284.9 512.4h.1M267.2 518.5h.1M284.6 519.4h.1M304.4 516.8h.1M293.2 513.4h.1M275.5 523.9h.1M282.3 518.1h.1M289.5 514.4h.1M291.6 523.9h.1M273.2 512.6h.1M255.7 531.9h.1M272.2 520.8h.1M277.9 511.6h.1M298.2 520.5h.1M257.8 524.3h.1M286.2 524.2h.1M290.2 525.4h.1M306.1 513.8h.1M283.2 526.4h.1M258.9 518.2h.1M283.8 530.6h.1M289.7 521.5h.1M268.9 528.5h.1M262.5 521.2h.1M267.2 525.7h.1M285.8 519.1h.1M290.1 530.5h.1M298.7 518.8h.1M302.1 526.1h.1M275.6 520.4h.1M267.7 510.8h.1M280.6 520.9h.1M272.4 522.4h.1M260.0 510.0h.1M261.7 517.6h.1M260.9 512.3h.1M282.8 513.0h.1M285.1 527.0h.1M271.9 519.5h.1M256.9 521.8h.1M275.8 517.6h.1M288.7 524.6h.1M266.2 513.4h.1M269.7 524.1h.1M277.9 520.3h.1M272.0 520.0h.1M305.6 513.9h.1M283.1 517.1h.1M300.2 514.3h.1M301.3 513.2h.1M297.9 516.1h.1M273.5 520.4h.1M268.3 521.2h.1M259.9 518.9h.1M295.0 522.9h.1M258.0 519.0h.1M263.9 511.3h.1M300.0 521.8h.1M255.3 515.9h.1M288.3 502.5h.1M296.6 524.7h.1M275.0 518.6h.1M286.1 518.8h.1M290.2 516.2h.1M284.3 523.9h.1M293.8 510.0h.1M270.5 529.7h.1M287.3 517.6h.1M295.0 532.8h.1M278.5 510.8h.1M289.9 528.9h.1M296.7 516.6h.1M278.9 520.9h.1M292.9 517.4h.1M277.8 516.2h.1M282.6 519.3h.1M269.8 511.7h.1M299.4 523.8h.1M291.3 520.3h.1M290.8 520.0h.1M293.0 526.4h.1M268.6 519.6h.1M267.6 515.2h.1M290.2 517.4h.1M288.6 520.4h.1M269.4 516.0h.1M276.1 514.0h.1M287.2 532.9h.1M284.0 514.8h.1M279.5 522.8h.1M289.3 520.3h.1M294.8 521.5h.1M267.1 510.2h.1M283.9 515.6h.1M285.5 520.7h.1M269.4 520.8h.1M297.5 522.2h.1M274.6 514.7h.1M272.3 510.4h.1M281.1 523.0h.1M276.6 522.2h.1M267.2 522.1h.1M264.3 513.4h.1M290.2 518.3h.1M291.4 526.2h.1M290.5 523.8h.1M284.8 513.9h.1M290.4 523.9h.1M269.0 521.4h.1M293.7 526.0h.1M268.3 523.8h.1M294.3 520.4h.1M288.3 522.1h.1M308.4 517.3h.1M283.8 525.8h.1M288.4 521.0h.1M285.4 508.6h.1M287.9 523.2h.1M293.6 514.9h.1M272.6 512.3h.1M290.2 524.3h.1M286.6 517.3h.1M284.6 513.3h.1M277.8 530.0h.1M272.7 514.7h.1M259.2 515.2h.1M291.4 520.8h.1M287.3 525.3h.1M302.7 516.2h.1M271.0 515.7h.1M296.4 521.1h.1M273.8 513.4h.1M263.3 513.5h.1M269.7 514.5h.1M269.4 521.8h.1M299.2 511.2h.1M296.5 522.3h.1M294.5 524.9h.1M261.4 517.8h.1M268.4 526.5h.1M290.3 513.7h.1M281.5 516.7h.1M285.8 522.2h.1M296.0 519.4h.1M295.2 525.0h.1M274.1 523.4h.1M245.8 527.3h.1M280.1 519.0h.1M279.8 512.9h.1M288.3 522.4h.1M281.4 507.0h.1M296.5 524.3h.1M293.0 517.4h.1M278.2 514.7h.1M283.8 523.7h.1M275.2 533.5h.1M268.0 518.5h.1M299.4 527.4h.1M259.2 526.0h.1M283.8 523.9h.1M286.3 521.6h.1M276.1 521.1h.1M292.8 524.3h.1M263.6 519.2h.1M256.8 518.3h.1M272.6 519.8h.1M297.5 523.7h.1M277.5 529.2h.1M271.6 514.8h.1M274.6 517.9h.1M273.2 522.2h.1M273.5 510.3h.1M270.6 527.1h.1M286.0 515.4h.1M260.4 530.7h.1M311.2 517.0h.1M282.0 513.3h.1M280.4 521.0h.1M280.8 528.9h.1M281.0 512.6h.1M290.0 518.5h.1M259.8 528.7h.1M285.7 513.4h.1M294.0 531.4h.1M262.2 514.3h.1M298.3 525.2h.1M285.7 518.3h.1M281.3 512.4h.1M276.8 518.4h.1M269.2 516.5h.1M267.0 516.0h.1M293.3 518.6h.1M292.9 522.6h.1M257.3 516.3h.1M270.7 516.1h.1M287.9 524.9h.1M271.0 526.0h.1M303.8 503.7h.1M282.7 532.7h.1M271.6 525.5h.1M269.4 529.4h.1M273.5 508.8h.1M269.4 525.9h.1M295.3 517.2h.1M264.0 520.1h.1M290.2 527.0h.1M266.4 513.9h.1M272.7 514.6h.1M260.7 521.7h.1M279.6 516.6h.1M275.7 524.6h.1M278.4 518.8h.1M260.8 513.0h.1M270.8 517.0h.1M301.0 523.4h.1M270.2 519.2h.1M283.6 514.8h.1M289.1 514.1h.1M268.7 507.4h.1M287.5 516.1h.1M284.7 524.1h.1M282.7 519.8h.1M290.0 516.4h.1M271.8 520.9h.1M276.0 518.8h.1M265.2 515.3h.1M276.3 519.2h.1M273.2 519.9h.1M280.4 523.0h.1M275.0 515.9h.1M246.7 518.5h.1M291.5 524.2h.1M287.7 522.7h.1M271.7 509.7h.1M280.5 524.1h.1M269.7 514.9h.1M262.7 518.2h.1M283.2 516.5h.1M281.5 517.3h.1M290.5 524.7h.1M276.2 514.2h.1M276.3 509.8h.1M270.5 510.5h.1M265.5 520.6h.1M290.1 520.0h.1M261.5 516.4h.1M299.2 530.4h.1M289.9 524.0h.1M282.9 515.0h.1M264.6 514.4h.1M295.7 516.8h.1M296.2 518.5h.1M276.3 513.0h.1M279.8 515.4h.1M278.8 519.5h.1M279.4 519.9h.1M262.0 514.9h.1M293.8 523.6h.1M273.9 526.7h.1M283.1 518.7h.1M266.5 517.4h.1M259.3 518.1h.1M288.6 517.9h.1M274.6 516.4h.1M289.0 519.2h.1M281.1 526.4h.1M292.6 516.9h.1M276.5 514.1h.1M279.9 526.4h.1M280.1 521.7h.1M282.4 526.0h.1M287.6 513.3h.1M288.9 529.3h.1M282.4 527.0h.1M267.3 515.4h.1M285.9 524.4h.1M273.0 529.3h.1M289.6 515.6h.1M290.2 523.5h.1M288.6 511.2h.1M279.3 528.1h.1M260.0 524.6h.1M269.0 518.1h.1M265.4 517.3h.1M297.2 523.3h.1M290.3 509.9h.1M293.0 526.8h.1M265.6 518.0h.1M280.5 522.5h.1M281.1 518.0h.1M295.5 519.2h.1M292.6 516.2h.1M274.9 522.6h.1M293.0 520.0h.1M285.6 506.3h.1M278.7 522.7h.1M267.1 520.4h.1M283.1 518.4h.1M275.0 518.4h.1M278.6 512.9h.1M266.6 523.1h.1M269.7 522.7h.1M282.0 518.0h.1M270.2 521.3h.1M274.8 520.2h.1M284.8 521.1h.1M279.0 516.8h.1M269.2 525.2h.1M282.7 521.4h.1M271.0 516.1h.1M272.9 521.4h.1M282.6 523.0h.1M289.4 513.2h.1M279.6 514.6h.1M297.1 519.4h.1M265.8 525.0h.1M275.9 517.9h.1M291.0 512.7h.1M298.0 510.6h.1M292.8 523.6h.1M265.0 516.6h.1M283.4 518.9h.1M261.5 520.1h.1M289.8 515.0h.1M259.1 519.0h.1M269.4 514.5h.1M280.0 521.8h.1M269.8 522.3h.1M270.7 518.4h.1M266.5 531.0h.1M269.1 529.1h.1M278.2 518.3h.1M263.6 513.6h.1M275.8 513.1h.1M279.7 518.5h.1M276.9 516.8h.1M287.5 511.9h.1M270.1 511.2h.1M283.0 524.9h.1M278.3 507.4h.1M274.1 519.4h.1M279.0 531.8h.1M315.2 527.7h.1M271.0 532.1h.1M285.1 512.1h.1M276.4 512.6h.1M296.2 529.0h.1M293.5 524.6h.1M303.4 520.0h.1M268.4 520.8h.1M311.3 511.6h.1M282.9 518.5h.1M293.1 520.2h.1M276.1 529.6h.1M254.6 516.3h.1M284.1 518.4h.1M278.8 522.6h.1M293.3 516.8h.1M287.6 522.2h.1M272.1 527.0h.1M303.8 512.7h.1M274.7 525.9h.1M269.7 509.3h.1M259.6 522.5h.1M265.5 511.0h.1M291.2 527.9h.1M288.6 518.6h.1M257.4 527.9h.1M271.4 509.3h.1M274.9 514.0h.1M276.2 526.9h.1M273.3 526.7h.1M276.8 508.3h.1M300.6 515.6h.1M313.5 520.7h.1M282.3 524.6h.1M288.9 524.9h.1M288.2 511.4h.1M281.8 517.8h.1M266.4 521.2h.1M273.4 523.9h.1M280.6 526.5h.1M296.2 509.3h.1M270.2 522.8h.1M280.5 516.7h.1M286.8 519.1h.1M269.7 523.5h.1M269.9 515.5h.1M274.4 515.9h.1M276.6 522.6h.1M273.6 523.6h.1M270.5 517.5h.1M282.9 517.2h.1M281.4 520.8h.1M269.3 513.6h.1M285.5 519.7h.1M269.4 513.3h.1M258.9 519.0h.1M273.4 522.9h.1M292.0 522.0h.1M290.6 526.5h.1M265.2 521.4h.1M281.7 530.2h.1M273.5 527.0h.1M289.4 515.5h.1M258.0 525.3h.1M279.1 523.5h.1M272.8 514.8h.1M298.3 523.4h.1M274.4 514.9h.1M290.8 521.0h.1M265.9 516.0h.1M276.5 523.5h.1M298.5 510.0h.1M293.8 520.5h.1M264.6 515.9h.1M274.3 514.1h.1M265.7 512.6h.1M291.8 516.1h.1M268.3 523.3h.1M266.8 514.3h.1M265.3 523.0h.1M269.5 519.3h.1M257.9 519.4h.1M306.5 517.9h.1M274.4 510.7h.1M282.9 513.0h.1M271.1 523.2h.1M281.1 528.0h.1M254.5 527.1h.1M274.9 513.8h.1M285.8 517.0h.1M295.8 510.9h.1M262.0 525.3h.1M290.4 518.4h.1M268.4 521.3h.1M277.3 523.3h.1M266.2 521.6h.1M295.7 525.6h.1M291.6 517.7h.1M270.2 518.5h.1M263.3 524.2h.1M293.9 524.5h.1M284.9 505.2h.1M260.6 517.7h.1M293.0 513.0h.1M287.1 523.0h.1M254.6 516.7h.1M273.0 516.5h.1M295.5 528.0h.1M276.9 516.1h.1M281.0 526.6h.1M276.0 517.7h.1M260.2 520.8h.1M276.5 522.5h.1M278.8 518.2h.1M285.8 521.2h.1M269.6 528.3h.1M281.4 521.9h.1M293.3 515.1h.1M287.5 522.2h.1M250.6 521.9h.1M284.5 505.4h.1M261.6 525.5h.1M271.0 513.4h.1M272.5 519.2h.1M291.8 524.7h.1M285.4 517.8h.1M305.2 521.8h.1M282.9 515.7h.1M293.9 516.8h.1M278.3 525.3h.1M275.0 520.8h.1M298.5 525.2h.1M261.3 515.4h.1M280.8 522.5h.1M279.4 517.0h.1M272.3 509.9h.1M275.9 520.1h.1M266.9 516.1h.1M294.5 507.5h.1M257.1 522.1h.1M268.7 516.8h.1M287.6 525.9h.1M288.2 513.9h.1M271.9 528.4h.1M283.6 513.6h.1M298.1 519.7h.1M295.8 513.9h.1M264.3 527.6h.1M270.7 517.3h.1M291.5 518.0h.1M268.5 526.7h.1M292.7 518.4h.1M272.8 524.3h.1M263.5 523.6h.1M288.0 521.9h.1M275.8 528.7h.1M293.8 515.0h.1M267.5 510.6h.1M267.6 518.6h.1M269.5 524.6h.1M281.5 511.6h.1M282.1 519.0h.1M270.7 514.0h.1M288.5 520.3h.1M274.5 526.2h.1M276.7 524.1h.1M269.2 513.2h.1M284.9 519.9h.1M279.7 515.3h.1M279.1 527.6h.1M286.5 518.8h.1M264.7 510.5h.1M281.3 527.3h.1M276.7 531.6h.1M285.5 526.5h.1M272.1 518.3h.1M298.8 525.9h.1M290.9 525.3h.1M278.5 519.0h.1M284.2 515.9h.1M274.0 507.3h.1M282.0 524.2h.1M282.8 515.4h.1M288.2 514.9h.1M276.3 510.7h.1M275.1 521.8h.1M271.8 518.2h.1M287.3 526.9h.1M290.9 518.4h.1M284.3 520.0h.1M287.5 521.8h.1M285.9 512.3h.1M266.1 524.4h.1M284.7 516.7h.1M303.3 525.5h.1M275.9 520.0h.1M267.8 515.5h.1M258.9 506.0h.1M263.4 520.8h.1M282.6 517.4h.1M268.8 519.2h.1M269.9 524.1h.1M270.9 525.5h.1M274.8 519.3h.1M276.0 517.6h.1M295.0 517.0h.1M278.0 520.9h.1M282.5 517.0h.1M282.3 520.4h.1M274.1 515.8h.1M287.7 517.1h.1M270.6 525.8h.1M271.3 521.5h.1M281.4 526.1h.1M280.7 526.6h.1M267.5 519.6h.1M284.2 522.2h.1M278.6 524.8h.1M283.1 513.5h.1M277.5 521.4h.1M293.9 511.5h.1M296.1 520.8h.1M298.9 516.1h.1M296.8 525.5h.1M276.0 522.0h.1M266.1 517.5h.1M261.8 523.4h.1M286.5 523.5h.1M293.3 516.5h.1M284.9 515.3h.1M268.1 520.5h.1M264.9 515.6h.1M276.3 521.2h.1M284.2 517.2h.1M294.7 520.9h.1M302.9 514.4h.1M279.3 512.5h.1M272.1 510.0h.1M273.3 519.3h.1M280.8 522.9h.1M282.0 514.4h.1M263.5 515.4h.1M294.7 523.4h.1M257.7 513.3h.1M274.3 524.4h.1M259.0 531.4h.1M268.5 523.5h.1M273.4 509.0h.1M291.3 525.3h.1M272.3 512.9h.1M280.3 522.3h.1M244.6 520.1h.1M277.9 523.0h.1M248.2 525.2h.1M282.8 511.1h.1M277.6 512.7h.1M303.2 529.0h.1M277.4 520.9h.1M277.5 519.9h.1M285.5 518.7h.1M290.0 519.0h.1M297.4 516.4h.1M283.9 520.8h.1M265.6 525.7h.1M288.0 528.0h.1M282.0 520.1h.1M291.8 514.9h.1M296.3 517.7h.1M286.8 514.2h.1M297.0 521.5h.1M295.2 518.8h.1M282.2 523.0h.1M260.0 519.5h.1M290.1 526.9h.1M279.7 515.9h.1M300.6 510.1h.1M271.7 523.7h.1M284.2 514.5h.1M284.5 520.4h.1M269.2 518.1h.1M292.6 530.8h.1M283.7 522.9h.1M280.4 522.9h.1M257.6 515.8h.1M265.6 528.3h.1M290.3 522.0h.1M281.0 507.5h.1M285.8 515.2h.1M266.4 520.6h.1M294.2 514.0h.1M261.8 517.0h.1M278.0 522.0h.1M293.0 513.1h.1M290.0 526.1h.1M273.0 520.0h.1M278.3 511.7h.1M307.1 517.0h.1M281.0 526.4h.1M274.6 524.4h.1M275.0 529.3h.1M272.3 522.8h.1M289.8 521.5h.1M297.3 514.5h.1M283.3 522.4h.1M274.0 522.8h.1M279.0 521.5h.1M255.1 526.9h.1M297.3 521.3h.1M282.7 528.4h.1M278.8 519.6h.1M280.6 520.3h.1M275.3 521.2h.1M270.2 515.6h.1M267.1 518.1h.1M271.6 524.0h.1M293.8 526.1h.1M285.6 518.5h.1M285.6 520.7h.1M292.3 525.4h.1M297.6 513.8h.1M271.5 521.7h.1M278.2 513.9h.1M260.8 526.7h.1M282.9 532.6h.1M300.2 524.8h.1M290.4 528.6h.1M287.7 511.1h.1M260.5 513.1h.1M278.5 522.1h.1M292.6 516.7h.1M288.2 522.4h.1M277.0 518.8h.1M273.8 518.3h.1M272.7 513.3h.1M263.3 524.1h.1M288.9 529.6h.1M274.1 513.0h.1M279.0 515.6h.1M288.5 524.8h.1M275.4 515.9h.1M287.1 513.0h.1M301.7 516.3h.1M262.6 524.9h.1M277.2 524.1h.1M270.7 526.9h.1M304.2 522.9h.1M285.0 515.0h.1M267.6 521.4h.1M282.1 511.7h.1M273.0 520.9h.1M303.2 516.0h.1M266.9 518.1h.1M309.9 522.5h.1M276.4 513.7h.1M277.4 525.9h.1M274.0 516.3h.1M274.3 524.3h.1M287.5 525.1h.1M294.7 521.9h.1M287.4 523.9h.1M279.6 513.7h.1M279.2 532.6h.1M291.0 527.9h.1M297.3 528.0h.1M267.3 514.6h.1M263.4 517.6h.1M278.2 526.4h.1M249.0 517.0h.1M305.1 521.4h.1M284.6 522.3h.1M287.0 522.9h.1M265.6 514.9h.1M271.5 514.7h.1M278.9 522.8h.1M273.1 529.8h.1M284.8 523.6h.1M272.5 526.4h.1M293.1 526.5h.1M267.6 519.3h.1M267.8 519.5h.1M290.1 526.0h.1M286.7 519.1h.1M286.7 526.9h.1M281.9 521.3h.1M295.7 511.9h.1M278.5 509.2h.1M276.6 515.3h.1M290.4 522.1h.1M271.9 517.6h.1M292.3 513.7h.1M254.9 512.7h.1M283.9 514.4h.1M264.0 516.3h.1M276.0 517.0h.1M275.0 523.1h.1M275.6 516.1h.1M284.3 525.8h.1M273.5 515.1h.1M286.1 512.5h.1M278.4 522.1h.1M249.9 524.2h.1M285.7 528.0h.1M277.6 520.3h.1M273.9 508.9h.1M303.7 524.9h.1M281.7 516.5h.1M319.0 522.0h.1M287.3 523.1h.1M297.9 520.9h.1M266.7 512.1h.1M278.0 508.6h.1M294.4 511.7h.1M266.8 512.9h.1M295.0 526.4h.1M262.5 532.6h.1M275.5 517.0h.1M272.2 508.3h.1M306.2 519.8h.1M282.1 518.8h.1M306.8 525.5h.1M291.6 517.1h.1M264.1 517.2h.1M272.8 526.1h.1M274.8 516.4h.1M299.8 516.5h.1M283.3 517.7h.1M276.4 518.4h.1M273.8 513.8h.1M283.2 520.1h.1M275.8 523.3h.1M306.8 515.4h.1M270.8 522.4h.1M283.7 515.9h.1M288.6 521.9h.1M299.1 521.3h.1M267.0 508.8h.1M271.0 525.5h.1M287.8 516.7h.1M276.0 524.0h.1M263.5 519.2h.1M307.2 518.1h.1M264.0 513.4h.1M252.9 525.2h.1M269.4 518.9h.1M298.7 526.0h.1M291.2 522.2h.1M283.0 518.9h.1M273.3 509.0h.1M270.6 511.3h.1M302.5 512.6h.1M294.7 522.2h.1M276.1 519.2h.1M277.3 528.0h.1M277.2 526.0h.1M281.5 509.0h.1M253.4 507.7h.1M280.7 526.0h.1M291.7 515.8h.1M275.4 524.0h.1M294.4 504.4h.1M274.8 527.3h.1M262.6 527.1h.1M278.5 516.0h.1M270.8 523.5h.1M283.6 513.8h.1M282.0 520.8h.1M277.8 523.1h.1M295.8 527.8h.1M301.2 519.8h.1M275.8 523.4h.1M300.2 519.3h.1M260.9 524.8h.1M293.1 520.4h.1M286.8 513.0h.1M272.0 514.8h.1M290.4 521.3h.1M285.9 510.6h.1M277.7 524.0h.1M276.0 527.0h.1M262.0 523.8h.1M281.2 515.0h.1M285.6 529.9h.1M261.9 519.8h.1M309.2 513.4h.1M281.9 509.1h.1M283.9 509.3h.1M253.1 517.7h.1M283.6 522.6h.1M271.8 515.5h.1M306.3 520.4h.1M281.8 522.6h.1M285.2 523.2h.1M271.7 524.7h.1M281.3 519.5h.1M275.7 526.6h.1M272.6 528.2h.1M282.4 525.4h.1M272.8 529.9h.1M280.8 518.3h.1M271.9 516.9h.1M288.4 527.4h.1M275.9 516.1h.1M292.8 513.6h.1M275.9 525.8h.1M289.1 515.7h.1M286.4 520.1h.1M283.8 519.5h.1M259.9 522.0h.1M280.7 519.7h.1M273.3 528.5h.1M285.7 527.5h.1M276.0 524.1h.1M291.5 522.3h.1M269.2 519.6h.1M266.8 519.1h.1M285.2 518.3h.1M260.3 509.1h.1M285.4 520.9h.1M265.8 519.2h.1M280.9 517.3h.1M305.6 514.8h.1M277.6 517.1h.1M297.9 518.1h.1M272.6 510.4h.1M269.3 521.4h.1M274.2 513.0h.1M259.6 529.5h.1M275.8 510.3h.1M281.9 514.1h.1M296.9 523.1h.1M283.2 520.5h.1M292.1 520.8h.1M289.4 514.8h.1M287.5 510.9h.1M269.6 516.3h.1M299.6 514.4h.1M287.1 511.0h.1M276.8 523.7h.1M282.6 517.4h.1M296.0 520.2h.1M292.4 517.1h.1M287.5 511.5h.1M286.8 509.2h.1M269.4 503.7h.1M276.5 515.0h.1M276.7 522.1h.1M276.5 513.4h.1M271.2 515.0h.1M272.9 530.9h.1M277.8 517.4h.1M266.1 518.4h.1M287.6 516.0h.1M282.9 522.5h.1M299.2 522.4h.1M305.0 509.9h.1M253.4 522.5h.1M300.4 526.8h.1M283.4 523.8h.1M265.0 519.5h.1M274.6 522.3h.1M299.4 520.1h.1M287.0 517.4h.1M289.6 507.6h.1M292.3 512.4h.1M248.5 529.0h.1M285.5 525.1h.1M280.0 519.3h.1M267.2 525.7h.1M273.4 507.3h.1M285.6 514.0h.1M277.0 523.4h.1M291.1 525.5h.1M285.3 518.1h.1M289.7 511.2h.1M284.8 514.8h.1M263.8 520.1h.1M275.9 517.6h.1M295.6 520.8h.1M291.1 510.2h.1M285.8 520.9h.1M301.5 509.6h.1M287.0 503.5h.1M273.2 510.0h.1M261.6 519.0h.1M278.4 509.8h.1M277.5 521.5h.1M289.7 526.9h.1M260.0 518.5h.1M269.4 528.7h.1M292.1 523.4h.1M283.8 512.5h.1M303.0 514.4h.1M283.3 519.1h.1M313.4 517.4h.1M271.7 526.2h.1M268.7 528.2h.1M271.9 520.3h.1M256.9 529.7h.1M276.8 532.2h.1M280.8 530.7h.1M281.5 524.5h.1M261.5 515.9h.1M297.8 525.3h.1M300.5 510.1h.1M279.2 513.1h.1M290.5 516.1h.1M283.6 515.3h.1M293.5 529.6h.1M270.6 517.8h.1M266.8 516.6h.1M256.1 524.7h.1M272.0 514.7h.1M290.0 505.1h.1M273.6 522.0h.1M287.7 526.0h.1M269.4 522.4h.1M270.7 520.5h.1M270.3 512.0h.1M288.5 519.2h.1M280.8 519.3h.1M283.1 520.7h.1M286.7 523.7h.1M281.5 516.2h.1M297.5 522.7h.1M257.0 512.8h.1M289.5 514.5h.1M295.7 519.3h.1M286.1 518.0h.1M266.6 515.5h.1M275.4 517.8h.1M305.5 521.9h.1M289.5 528.3h.1M272.2 518.1h.1M275.6 516.4h.1M289.4 517.1h.1M274.4 521.1h.1M297.8 517.4h.1M276.1 520.8h.1M273.6 517.2h.1M300.8 513.6h.1M292.6 521.2h.1M301.8 529.3h.1M264.4 519.2h.1M272.8 524.3h.1M284.8 525.8h.1M273.4 524.0h.1M276.6 509.9h.1M267.7 516.8h.1M299.2 524.3h.1M277.3 516.2h.1M290.7 527.1h.1M278.4 518.6h.1M289.5 519.1h.1M273.7 516.9h.1M266.5 518.7h.1M288.0 508.8h.1M288.2 517.6h.1M274.3 516.0h.1M279.5 523.9h.1M303.1 520.6h.1M268.2 519.5h.1M261.2 521.6h.1M285.9 510.6h.1M272.5 516.5h.1M287.8 527.7h.1M275.8 522.4h.1M263.5 520.9h.1M282.2 508.4h.1M282.4 513.7h.1M287.8 520.6h.1M286.9 517.8h.1M276.9 517.9h.1M286.9 518.0h.1M275.8 519.7h.1M282.1 520.8h.1M268.4 521.9h.1M290.0 513.9h.1M258.4 524.5h.1M289.3 519.0h.1M302.9 526.9h.1M280.0 523.1h.1M295.4 522.5h.1M279.6 519.3h.1M298.7 524.2h.1M269.7 518.3h.1M295.4 518.8h.1M286.0 517.6h.1M275.7 516.4h.1M285.1 520.6h.1M276.5 515.4h.1M283.2 517.9h.1M279.2 519.8h.1M297.7 514.9h.1M295.2 517.3h.1M265.6 523.3h.1M283.6 526.3h.1M277.8 523.0h.1M279.2 519.2h.1M261.3 516.5h.1M279.0 529.0h.1M258.2 528.3h.1M295.0 520.0h.1M271.0 520.0h.1M282.5 506.3h.1M280.8 512.7h.1M275.3 509.6h.1M255.8 510.8h.1M263.4 512.5h.1M290.6 528.0h.1M264.1 526.9h.1M269.9 523.3h.1M287.3 518.7h.1M274.9 512.9h.1M275.1 524.8h.1M283.4 527.4h.1M270.2 510.3h.1M287.9 518.3h.1M261.0 518.9h.1M260.9 521.4h.1M288.0 520.1h.1M290.3 519.5h.1M297.2 516.8h.1M270.9 512.7h.1M295.0 515.0h.1M285.7 522.0h.1M275.2 519.7h.1M283.1 526.8h.1M291.9 520.8h.1M272.8 518.6h.1M279.1 516.2h.1M308.9 518.6h.1M287.6 524.1h.1M276.8 522.2h.1M274.4 520.0h.1M283.1 522.6h.1M273.4 507.4h.1M284.9 523.4h.1M306.8 520.2h.1M258.8 522.6h.1M264.6 517.7h.1M273.6 533.8h.1M288.3 528.6h.1M261.9 511.5h.1M297.7 518.9h.1M279.9 519.9h.1M260.1 513.7h.1M287.4 521.2h.1M287.1 524.9h.1M265.4 511.6h.1M289.9 521.5h.1M299.9 525.2h.1M273.7 523.4h.1M296.6 521.2h.1M278.9 519.3h.1M286.5 530.5h.1M264.4 515.1h.1M281.8 513.4h.1M273.0 524.5h.1M290.6 526.2h.1M290.7 522.5h.1M282.7 524.9h.1M276.7 520.1h.1M281.8 513.8h.1M274.9 511.5h.1M280.0 520.0h.1M277.8 513.6h.1M300.1 530.9h.1M292.1 510.7h.1M248.9 524.0h.1M268.6 531.6h.1M271.6 525.7h.1M279.8 517.3h.1M277.8 517.4h.1M275.3 526.6h.1M260.7 516.6h.1M280.1 514.5h.1M289.2 519.7h.1M269.5 521.8h.1M313.6 522.2h.1M271.9 514.7h.1M290.5 515.6h.1M285.7 528.4h.1M273.5 516.7h.1M279.6 520.3h.1M284.1 531.0h.1M297.3 528.3h.1M292.2 522.3h.1M264.8 525.3h.1M284.0 526.6h.1M314.4 523.3h.1M286.0 532.3h.1M269.9 526.2h.1M279.7 519.7h.1M287.1 516.4h.1M298.6 516.6h.1M289.4 510.0h.1M254.1 523.5h.1M276.5 522.2h.1M289.1 524.4h.1M278.7 516.3h.1M286.8 521.2h.1M271.6 522.4h.1M277.0 527.4h.1M303.7 513.5h.1M270.8 523.8h.1M271.8 516.0h.1M270.0 523.3h.1M289.9 514.8h.1M270.4 508.0h.1M289.0 523.9h.1M277.2 530.8h.1M268.2 517.1h.1M272.9 527.3h.1M264.8 512.6h.1M298.7 522.3h.1M288.7 528.3h.1M273.9 510.0h.1M290.9 521.5h.1M263.5 516.5h.1M269.5 520.7h.1M278.4 519.8h.1M287.2 517.8h.1M274.0 516.7h.1M282.3 512.0h.1M290.6 520.8h.1M283.9 520.3h.1M271.0 515.1h.1M264.9 515.4h.1M270.9 523.3h.1M277.1 519.3h.1M290.4 517.7h.1M280.0 511.0h.1M296.8 516.9h.1M292.0 520.1h.1M264.3 523.5h.1M291.5 520.2h.1M278.7 516.8h.1M297.6 523.7h.1M275.9 520.3h.1M282.1 516.0h.1M291.8 524.5h.1M290.2 514.3h.1M291.6 513.6h.1M280.7 520.2h.1M287.0 523.7h.1M270.3 521.2h.1M256.2 517.8h.1M271.0 523.6h.1M258.5 512.9h.1M284.5 525.4h.1M277.4 520.1h.1M294.0 521.1h.1M278.3 523.4h.1M274.1 523.1h.1M279.8 509.7h.1M285.4 516.2h.1M290.5 523.8h.1M280.7 524.0h.1M281.3 521.1h.1M274.7 517.6h.1M265.6 525.0h.1M276.8 521.9h.1M262.5 517.8h.1M278.7 525.3h.1M262.0 511.1h.1M280.9 519.6h.1M294.5 515.6h.1M280.4 523.4h.1M289.4 511.8h.1M283.9 516.7h.1M275.9 519.4h.1M275.7 520.8h.1M308.0 519.8h.1M301.6 530.5h.1M297.0 513.7h.1M288.6 518.7h.1M266.0 522.5h.1M278.5 516.9h.1M285.2 522.4h.1M274.1 524.0h.1M284.4 515.8h.1M293.0 519.3h.1M267.3 519.9h.1M262.8 517.6h.1M270.8 522.2h.1M286.2 518.9h.1M264.5 517.4h.1M274.6 523.3h.1M259.7 520.7h.1M278.5 525.9h.1M296.5 522.2h.1M269.6 522.7h.1M269.0 514.3h.1M276.0 509.8h.1M287.7 527.0h.1M281.4 525.5h.1M256.5 526.5h.1M266.0 521.0h.1M263.2 518.3h.1M277.5 518.1h.1M271.1 529.0h.1M265.0 516.4h.1M292.0 517.9h.1M280.9 524.3h.1M292.0 515.9h.1M287.8 520.0h.1M274.8 512.8h.1M292.0 511.7h.1M281.3 519.1h.1M275.4 526.8h.1M292.0 520.2h.1M250.2 515.0h.1M277.0 521.5h.1M284.3 514.7h.1M272.6 520.3h.1M262.5 530.0h.1M281.4 513.6h.1M265.8 530.2h.1M260.1 520.7h.1M270.1 530.3h.1M289.4 519.5h.1M285.3 528.2h.1M275.4 510.6h.1M285.1 513.7h.1M281.7 526.3h.1M273.5 525.0h.1M269.9 516.6h.1M289.3 514.9h.1M307.4 515.3h.1M275.4 527.3h.1M296.5 518.6h.1M281.5 516.6h.1M272.9 525.3h.1M290.1 518.3h.1M278.7 511.1h.1M294.3 520.1h.1M290.2 528.9h.1M272.8 531.3h.1M299.8 520.3h.1M276.0 528.9h.1M287.3 521.2h.1M258.2 520.4h.1M290.2 524.9h.1M285.7 513.1h.1M271.3 528.6h.1M270.0 508.5h.1M275.4 519.6h.1M284.7 521.7h.1M274.3 531.8h.1M263.5 515.6h.1M300.4 515.1h.1M286.5 519.8h.1M273.9 515.5h.1M283.7 517.8h.1M283.3 516.8h.1M291.4 528.3h.1M305.8 527.9h.1M291.0 519.3h.1M278.4 522.2h.1M262.4 524.3h.1M278.7 524.5h.1M282.6 513.2h.1M277.9 513.2h.1M260.3 522.2h.1M267.3 523.2h.1M298.4 520.3h.1M290.0 511.6h.1M286.9 511.4h.1M295.1 513.1h.1M285.0 517.5h.1M289.3 521.1h.1M272.2 515.6h.1M286.7 511.1h.1M274.5 510.8h.1M288.9 522.7h.1M268.9 526.1h.1M297.7 515.0h.1M282.5 516.2h.1M264.4 529.3h.1M261.3 532.2h.1M304.8 525.5h.1M263.1 522.4h.1M284.0 512.4h.1M276.8 516.5h.1M285.1 513.6h.1M270.2 518.5h.1M291.5 523.4h.1M269.4 525.8h.1M292.1 523.0h.1M274.8 517.3h.1M285.4 524.1h.1M285.8 515.7h.1M307.0 520.0h.1M280.4 516.7h.1M267.3 519.1h.1M261.7 523.4h.1M274.4 517.5h.1M267.3 515.5h.1M278.9 516.3h.1M282.3 522.9h.1M281.0 518.0h.1M263.3 530.9h.1M280.6 517.5h.1M304.9 519.9h.1M285.3 522.5h.1M280.5 522.7h.1M287.0 524.3h.1M283.5 525.7h.1M282.9 517.9h.1M282.7 520.7h.1M263.6 525.4h.1M260.3 522.1h.1M264.7 517.5h.1M279.4 514.0h.1M263.2 517.0h.1M283.7 515.1h.1M276.2 522.8h.1M268.2 513.1h.1M267.0 522.6h.1M260.8 522.1h.1M286.2 517.7h.1M292.6 514.4h.1M295.8 525.6h.1M298.8 519.0h.1M294.9 515.4h.1M291.1 523.1h.1M284.7 514.3h.1M265.9 514.6h.1M270.0 530.2h.1M284.2 522.2h.1M279.1 514.7h.1M271.8 519.7h.1M262.7 511.2h.1M276.3 526.4h.1M293.4 514.0h.1M286.4 521.7h.1M265.1 517.6h.1M304.5 527.8h.1M262.3 525.8h.1M264.1 527.8h.1M274.5 521.3h.1M263.9 522.6h.1M280.6 521.6h.1M275.4 523.9h.1M287.2 518.8h.1M287.4 521.3h.1M286.6 512.7h.1M272.7 509.5h.1M266.3 519.4h.1M289.9 516.8h.1M292.4 521.0h.1M266.6 523.8h.1M279.7 520.1h.1M290.9 508.5h.1M278.0 521.9h.1M283.4 513.7h.1M273.5 516.2h.1M264.7 513.7h.1M264.1 528.0h.1M275.4 517.8h.1M266.6 528.7h.1M260.4 520.0h.1M276.3 514.4h.1M288.4 515.8h.1M269.9 523.5h.1M293.5 528.0h.1M294.4 527.7h.1M269.2 512.3h.1M284.6 525.3h.1M270.1 518.1h.1M275.4 520.7h.1M287.7 511.7h.1M280.6 517.3h.1M287.1 510.6h.1M292.4 517.2h.1M270.8 517.8h.1M281.0 514.7h.1M291.1 520.3h.1M282.0 524.6h.1M261.1 523.8h.1M283.2 512.7h.1M279.1 512.4h.1M276.2 519.2h.1M281.7 521.9h.1M267.3 523.0h.1M273.4 529.8h.1M283.2 529.8h.1M278.6 523.2h.1M276.5 527.7h.1M283.5 530.2h.1M274.1 511.7h.1M264.3 525.9h.1M277.0 522.1h.1M265.1 517.4h.1M279.3 524.5h.1M300.7 529.1h.1M283.9 527.2h.1M298.1 517.2h.1M283.5 516.6h.1M291.9 514.9h.1M284.8 524.4h.1M279.9 509.4h.1M286.2 523.1h.1M292.0 531.3h.1M266.2 522.1h.1M258.6 520.6h.1M293.9 525.1h.1M274.7 514.3h.1M278.7 525.2h.1M276.0 522.8h.1M274.9 516.6h.1M262.9 506.5h.1M295.3 516.6h.1M276.2 527.0h.1M257.8 519.0h.1M257.0 514.9h.1M292.1 517.8h.1M285.1 524.2h.1M269.5 512.2h.1M281.3 525.8h.1M262.9 525.1h.1M273.3 517.8h.1M279.9 514.1h.1M288.2 522.2h.1M289.6 523.4h.1M279.4 524.7h.1M269.4 519.8h.1M273.6 527.9h.1M301.3 519.3h.1M276.3 508.4h.1M274.9 509.7h.1M283.6 514.7h.1M283.5 519.5h.1M277.8 522.6h.1M275.5 513.2h.1M278.5 522.6h.1M291.5 519.7h.1M290.0 525.8h.1M288.9 512.1h.1M279.2 516.6h.1M274.7 515.0h.1M258.0 519.9h.1M267.7 518.2h.1M256.9 521.6h.1M280.0 518.6h.1M281.3 515.3h.1M297.8 523.6h.1M291.0 513.1h.1M285.4 518.4h.1M272.4 516.9h.1M270.7 513.1h.1M293.7 516.4h.1M282.5 513.3h.1M297.4 516.9h.1M274.8 515.2h.1M270.7 521.6h.1M302.3 520.3h.1M269.8 521.0h.1M265.7 515.3h.1M264.3 503.5h.1M273.2 511.6h.1M273.3 530.0h.1M283.3 517.7h.1M271.4 524.5h.1M289.4 511.3h.1M274.3 516.6h.1M275.5 515.3h.1M267.0 509.5h.1M299.0 526.4h.1M275.1 521.3h.1M282.2 520.0h.1M253.9 515.2h.1M277.5 519.3h.1M299.3 511.4h.1M287.5 530.1h.1M257.3 515.5h.1M284.5 524.3h.1M282.3 519.9h.1M291.4 519.1h.1M300.7 518.0h.1M255.9 517.1h.1M268.8 520.9h.1M276.2 519.0h.1M248.5 518.5h.1M296.7 514.9h.1M263.7 520.3h.1M271.5 516.0h.1M290.7 522.2h.1M306.1 517.8h.1M273.2 520.5h.1M267.4 518.0h.1M276.3 524.6h.1M275.6 524.9h.1M277.3 516.9h.1M282.3 520.5h.1M277.1 512.9h.1M292.5 512.9h.1M272.8 518.7h.1M282.4 523.6h.1M283.1 522.5h.1M267.0 508.6h.1M301.0 518.2h.1M278.5 518.9h.1M279.2 527.3h.1M296.0 512.7h.1M286.9 525.8h.1M278.5 522.3h.1M265.3 512.1h.1M274.9 518.7h.1M286.3 525.6h.1M268.4 514.8h.1M278.0 514.9h.1M271.8 531.5h.1M281.1 521.8h.1M277.2 512.8h.1M272.4 518.5h.1M292.5 514.7h.1M300.9 511.0h.1M283.6 516.5h.1M258.8 514.4h.1M289.8 516.8h.1M296.5 525.0h.1M273.5 520.9h.1M289.5 510.8h.1M276.9 517.7h.1M292.2 525.1h.1M289.6 523.3h.1M259.4 509.1h.1M279.2 512.7h.1M295.7 515.7h.1M272.3 517.9h.1M277.7 514.3h.1M270.9 516.8h.1M285.5 513.2h.1M258.1 521.0h.1M287.9 518.9h.1M296.6 524.0h.1M260.4 521.0h.1M267.9 518.7h.1M272.1 525.3h.1M286.1 513.4h.1M268.1 525.7h.1M274.4 524.2h.1M288.0 507.0h.1M275.2 515.8h.1M273.9 521.4h.1M272.2 520.6h.1M270.1 512.4h.1M314.2 518.0h.1M306.4 519.4h.1M273.5 518.5h.1M275.3 528.9h.1M285.2 516.1h.1M280.8 514.7h.1M287.4 518.5h.1M274.4 523.4h.1M271.3 518.6h.1M271.3 530.7h.1M286.6 516.2h.1M274.4 514.9h.1M269.9 514.0h.1M278.7 524.3h.1M288.5 524.1h.1M294.7 533.8h.1M283.3 522.7h.1M297.2 522.4h.1M279.9 529.9h.1M293.1 515.1h.1M299.8 511.9h.1M296.6 516.6h.1M305.7 510.0h.1M302.0 511.2h.1M267.9 524.1h.1M269.5 521.4h.1M268.7 525.3h.1M277.4 518.6h.1M309.9 513.6h.1M273.8 522.4h.1M267.3 516.3h.1M277.6 520.5h.1M249.8 522.5h.1M269.1 528.6h.1M285.4 521.0h.1M260.5 517.4h.1M286.2 518.4h.1M269.2 523.7h.1M269.7 518.9h.1M266.8 521.4h.1M276.0 526.2h.1M266.9 521.9h.1M282.8 521.0h.1M283.2 525.2h.1M274.6 518.4h.1M275.5 523.3h.1M276.9 520.6h.1M282.5 520.5h.1M276.6 527.1h.1M278.1 524.9h.1M287.8 516.6h.1M291.7 526.4h.1M281.2 514.2h.1M277.8 528.5h.1M268.8 515.5h.1M275.0 528.5h.1M294.8 520.4h.1M264.7 525.1h.1M306.5 522.6h.1M288.8 519.0h.1M290.9 523.0h.1M285.9 525.1h.1M307.6 518.0h.1M288.8 523.8h.1M287.7 514.2h.1M280.9 529.8h.1M267.9 508.1h.1M287.5 516.4h.1M270.0 523.1h.1M290.0 508.5h.1M275.1 527.1h.1" stroke="#000" stroke-width="0.9" stroke-linecap="round" stroke-opacity="0.6" fill="none"/>
<path d="M230.8 464.9h.1M220.1 476.9h.1M243.2 482.5h.1M239.0 471.9h.1M238.1 484.2h.1M226.0 461.6h.1M237.2 474.7h.1M230.0 482.2h.1M240.8 492.9h.1M240.6 477.3h.1M225.5 479.8h.1M242.5 469.7h.1M227.0 480.8h.1M238.6 469.3h.1M228.3 479.6h.1M242.5 486.6h.1M230.4 470.6h.1M227.7 485.6h.1M223.1 472.6h.1M227.5 487.6h.1M239.5 489.0h.1M239.6 487.4h.1M233.4 484.3h.1M238.6 468.9h.1M233.8 493.5h.1M228.3 487.6h.1M225.2 484.8h.1M233.7 485.7h.1M232.9 478.6h.1M224.8 489.0h.1M228.1 471.6h.1M237.0 476.1h.1M229.4 480.8h.1M236.7 477.9h.1M231.4 481.2h.1M225.4 474.2h.1M226.9 486.7h.1M229.8 477.7h.1M225.4 462.8h.1M231.2 475.6h.1M232.4 485.7h.1M242.2 476.7h.1M238.5 465.5h.1M241.2 478.6h.1M223.8 479.8h.1M223.3 478.7h.1M242.6 478.5h.1M237.8 483.7h.1M221.7 487.5h.1M233.4 464.4h.1M238.4 465.9h.1M227.4 482.3h.1M229.7 471.8h.1M227.0 460.0h.1M238.2 482.3h.1M234.4 485.4h.1M226.5 493.7h.1M239.4 482.2h.1M238.9 485.4h.1M235.0 472.0h.1M229.5 486.4h.1M232.9 497.8h.1M238.4 488.7h.1M229.6 472.8h.1M228.5 477.3h.1M229.7 465.4h.1M228.7 478.8h.1M237.2 470.3h.1M232.2 474.2h.1M245.7 484.2h.1M235.9 486.9h.1M229.6 469.7h.1M230.9 489.2h.1M227.1 465.5h.1M231.3 476.6h.1M232.0 486.9h.1M229.5 476.9h.1M235.7 472.6h.1M239.3 489.3h.1M233.8 485.5h.1M223.5 467.3h.1M233.2 491.5h.1M233.4 483.5h.1M238.5 469.9h.1M235.7 486.2h.1M237.0 466.7h.1M219.8 465.5h.1M232.1 481.7h.1M235.0 498.3h.1M239.0 466.3h.1M232.4 477.1h.1M225.4 492.8h.1M232.3 488.4h.1M226.1 472.3h.1M231.4 471.1h.1M233.7 485.1h.1M233.3 468.7h.1M226.9 478.6h.1M236.6 468.8h.1M232.5 478.1h.1M233.7 464.2h.1M237.1 458.0h.1M231.1 495.0h.1M240.5 485.3h.1M248.6 487.1h.1M233.9 470.9h.1M237.5 470.9h.1M236.8 479.3h.1M243.8 490.0h.1M229.9 473.0h.1M237.4 486.7h.1M226.3 475.2h.1M229.8 473.5h.1M233.3 475.6h.1M231.3 487.7h.1M248.4 480.0h.1M233.5 481.1h.1M231.1 475.7h.1M224.7 471.5h.1M236.8 472.7h.1M243.7 473.2h.1M235.8 457.5h.1M232.4 463.1h.1M223.4 489.2h.1M228.9 497.9h.1M239.1 488.2h.1M237.9 491.4h.1M244.2 472.9h.1M229.8 463.3h.1M231.9 471.2h.1M225.9 482.5h.1M239.1 489.8h.1M240.5 477.1h.1M222.7 494.3h.1M240.6 483.4h.1M234.3 471.8h.1M232.3 492.6h.1M227.5 474.9h.1M233.9 480.7h.1M220.2 494.5h.1M229.3 478.2h.1M229.0 477.8h.1M231.0 501.8h.1M237.4 503.0h.1M227.6 477.2h.1M223.3 478.1h.1M243.8 468.7h.1M242.4 491.6h.1M235.0 479.6h.1M235.0 481.1h.1M240.6 484.8h.1M234.2 485.6h.1M239.7 500.1h.1M231.3 488.1h.1M230.3 472.2h.1M242.4 469.1h.1M230.6 476.2h.1M235.6 471.6h.1M226.4 481.9h.1M238.6 476.8h.1M232.4 474.2h.1M230.6 460.6h.1M241.8 474.8h.1M236.4 485.1h.1M239.0 453.4h.1M241.8 495.0h.1M231.0 479.5h.1M243.2 492.3h.1M232.1 478.6h.1M239.2 475.0h.1M225.3 487.7h.1M229.3 488.5h.1M228.3 489.9h.1M250.3 483.4h.1M237.6 471.1h.1M241.2 477.0h.1M235.6 471.6h.1M239.9 460.0h.1M231.1 450.3h.1M233.2 483.5h.1M274.0 501.6h.1M262.2 502.4h.1M261.4 498.6h.1M286.6 494.3h.1M274.5 485.2h.1M270.1 481.0h.1M288.2 499.7h.1M287.1 496.7h.1M279.6 497.0h.1M268.6 492.5h.1M268.3 483.5h.1M266.2 491.2h.1M283.8 501.5h.1M277.5 486.6h.1M270.7 485.1h.1M300.2 494.9h.1M280.1 506.8h.1M245.0 479.8h.1M271.3 479.1h.1M254.5 505.5h.1M269.3 498.2h.1M279.2 494.7h.1M256.9 499.3h.1M272.8 482.2h.1M277.7 487.2h.1M275.4 500.1h.1M258.9 487.2h.1M253.9 496.9h.1M267.3 502.2h.1M258.2 501.4h.1M245.6 495.4h.1M256.4 497.6h.1M272.0 486.6h.1M259.6 506.1h.1M260.8 501.4h.1M263.4 503.4h.1M287.9 492.1h.1M263.9 489.1h.1M253.2 482.4h.1M278.6 492.3h.1M254.8 499.8h.1M268.6 485.3h.1M260.3 493.1h.1M268.3 495.0h.1M277.7 506.6h.1M263.5 486.6h.1M269.9 509.9h.1M263.4 507.8h.1M275.7 479.0h.1M275.9 496.0h.1M256.3 492.6h.1M262.7 500.8h.1M294.4 493.5h.1M262.8 498.3h.1M272.1 491.8h.1M269.7 503.9h.1M245.0 489.6h.1M257.1 489.3h.1M280.5 486.4h.1M273.3 500.6h.1M259.2 495.0h.1M262.5 496.9h.1M268.9 487.3h.1M244.7 491.6h.1M276.4 494.4h.1M257.0 500.1h.1M282.8 496.4h.1M270.2 502.8h.1M252.8 472.7h.1M263.8 492.9h.1M270.0 483.7h.1M287.5 512.5h.1M271.9 485.5h.1M263.4 500.7h.1M289.3 484.3h.1M278.7 484.9h.1M257.0 496.8h.1M281.1 501.2h.1M267.5 481.7h.1M265.5 492.5h.1M277.5 471.5h.1M272.3 492.5h.1M261.5 479.9h.1M281.9 467.1h.1M272.0 504.5h.1M275.2 494.8h.1M270.9 482.7h.1M265.1 496.7h.1M241.2 499.5h.1M272.8 498.0h.1M271.2 499.2h.1M273.8 498.6h.1M242.6 480.6h.1M282.7 489.1h.1M273.9 483.8h.1M277.3 492.1h.1M283.6 497.3h.1M261.4 491.9h.1M274.9 496.9h.1M295.0 494.7h.1M259.1 500.1h.1M244.5 497.6h.1M268.6 490.6h.1M269.4 490.9h.1M269.3 489.9h.1M271.6 483.7h.1M265.0 478.1h.1M278.5 469.0h.1M280.2 490.2h.1M277.3 493.8h.1M287.9 498.8h.1M264.3 486.0h.1M267.2 473.8h.1M270.7 494.1h.1M266.1 492.3h.1M264.3 491.5h.1M263.5 483.5h.1M269.9 492.5h.1M266.9 497.8h.1M277.8 501.4h.1M252.9 488.4h.1M273.0 484.8h.1M288.1 491.7h.1M288.4 491.9h.1M294.9 493.9h.1M263.5 493.1h.1M273.9 488.0h.1M254.1 491.9h.1M256.5 496.9h.1M282.3 485.8h.1M239.5 475.9h.1M243.6 510.2h.1M264.1 497.1h.1M275.6 479.0h.1M252.5 502.2h.1M254.1 490.3h.1M265.1 501.5h.1M280.5 498.1h.1M273.7 479.8h.1M258.9 498.6h.1M275.6 476.8h.1M256.4 502.5h.1M261.1 477.7h.1M261.3 481.2h.1M237.2 492.3h.1M245.3 493.7h.1M284.0 471.8h.1M260.0 497.5h.1M259.2 494.3h.1M252.3 503.0h.1M309.0 529.3h.1M227.5 514.4h.1M253.1 504.4h.1M303.4 514.8h.1M288.3 506.7h.1M238.2 516.3h.1M248.1 523.0h.1M266.2 522.5h.1M263.2 519.7h.1M245.1 513.0h.1M283.9 514.7h.1M297.5 523.0h.1M241.5 509.4h.1M233.3 529.4h.1M302.7 523.9h.1M282.1 522.5h.1M262.0 508.5h.1M235.4 522.5h.1M256.9 521.3h.1M282.3 516.7h.1M272.5 516.6h.1M293.1 522.9h.1M255.8 518.8h.1M275.7 529.7h.1M267.3 519.6h.1M291.9 519.1h.1M266.4 517.0h.1M246.4 518.8h.1M256.4 509.2h.1M258.2 511.5h.1M270.5 516.0h.1M256.6 514.5h.1M266.0 512.6h.1M255.0 517.4h.1M254.4 516.2h.1M228.6 528.2h.1M235.1 523.8h.1M265.9 523.8h.1M244.3 526.6h.1M265.4 524.1h.1M288.7 515.7h.1M250.5 523.0h.1M282.6 514.0h.1M243.2 523.6h.1M287.4 508.9h.1M237.9 522.5h.1M242.8 528.4h.1M275.6 516.5h.1M270.6 509.9h.1M270.3 525.5h.1M273.1 530.7h.1M251.3 506.0h.1M224.6 516.0h.1M258.2 523.4h.1M246.7 516.8h.1M269.6 524.3h.1M246.6 527.0h.1M259.5 521.1h.1M261.8 521.2h.1M256.7 508.7h.1M262.7 520.4h.1M293.3 516.8h.1M256.5 506.4h.1M252.3 504.0h.1M300.8 508.9h.1M285.5 522.3h.1M284.5 522.6h.1M267.6 516.0h.1M293.4 509.0h.1M287.6 521.3h.1M297.0 507.8h.1M264.5 509.0h.1M232.4 519.2h.1M269.6 512.4h.1M230.2 513.5h.1M247.6 517.1h.1M277.9 511.4h.1M291.2 515.8h.1M238.3 511.8h.1M260.5 527.3h.1M251.1 508.0h.1M243.1 506.6h.1M259.5 510.4h.1M271.1 510.6h.1M244.5 510.3h.1M264.4 512.5h.1M237.4 527.6h.1M258.0 506.4h.1M277.9 518.0h.1M282.6 512.5h.1M297.2 513.6h.1M241.5 515.0h.1M269.5 518.6h.1M257.8 512.7h.1M278.3 529.3h.1M258.2 515.7h.1M219.0 496.6h.1M255.6 514.8h.1M275.1 515.0h.1M309.8 520.3h.1M260.0 519.5h.1M285.9 505.1h.1M253.3 533.2h.1M264.3 528.3h.1M264.5 517.7h.1M315.4 520.9h.1M223.0 527.3h.1M281.5 512.6h.1M241.4 526.4h.1M241.3 530.6h.1M255.7 512.2h.1M254.5 515.3h.1M320.8 530.6h.1M232.6 511.9h.1M242.4 533.7h.1M246.5 514.0h.1M293.9 528.6h.1M273.9 533.2h.1M269.3 517.5h.1M277.5 517.5h.1M246.6 501.8h.1M252.5 504.9h.1M288.8 523.8h.1M230.8 525.9h.1M271.4 507.7h.1M241.0 513.2h.1M255.9 512.6h.1M309.1 525.6h.1M242.6 521.4h.1M227.1 513.8h.1M272.3 523.0h.1M242.3 507.4h.1M250.6 518.8h.1M255.3 515.0h.1M226.6 520.6h.1M243.5 511.2h.1M261.3 505.2h.1M272.1 503.2h.1M229.5 524.9h.1M268.4 516.0h.1M281.2 518.1h.1M260.0 518.3h.1M279.2 516.1h.1M293.5 511.6h.1M291.2 510.0h.1M264.5 516.0h.1M272.5 516.3h.1M238.7 506.4h.1M263.5 522.4h.1M298.0 527.3h.1M232.7 533.6h.1M285.2 508.7h.1M292.5 512.4h.1" stroke="#000" stroke-width="0.9" stroke-linecap="round" stroke-opacity="0.45" fill="none"/>
<rect x="216.2" y="414.8" width="129.7" height="120.49999999999994" fill="none" stroke="#777" stroke-width="1"/>
<line x1="250.5" y1="414.8" x2="250.5" y2="535.3" stroke="#505050" stroke-width="1.35" />
<line x1="216.2" y1="504.8" x2="345.9" y2="504.8" stroke="#505050" stroke-width="1.35" />
<text transform="translate(217.39999999999998,422.1) scale(1.1,1)" font-size="6.8" font-weight="normal" text-anchor="start" fill="#444" >B1</text>
<text transform="translate(251.7,422.1) scale(1.1,1)" font-size="6.8" font-weight="normal" text-anchor="start" fill="#444" >B2</text>
<text transform="translate(217.39999999999998,512.6) scale(1.1,1)" font-size="6.8" font-weight="normal" text-anchor="start" fill="#444" >B3</text>
<text transform="translate(251.7,512.6) scale(1.1,1)" font-size="6.8" font-weight="normal" text-anchor="start" fill="#444" >B4</text>
<text transform="translate(316.7,431.2) scale(1.14,1)" font-size="10.3" font-weight="bold" text-anchor="middle" fill="#000" >+ 2.5 <tspan font-style="italic">µ</tspan>M</text>
<text transform="translate(316.7,442.6) scale(1.07,1)" font-size="11.2" font-weight="bold" text-anchor="middle" fill="#000" >Imatinib</text>
<text transform="translate(340.4,500.3) scale(1.02,1)" font-size="12" font-weight="bold" text-anchor="end" fill="#000" >6±4%</text>
<text transform="translate(341.8,527.2) scale(1.02,1)" font-size="12" font-weight="bold" text-anchor="end" fill="#000" >59±5%</text>
<text x="241.5" y="550.6" font-size="12" font-weight="bold">10<tspan dy="-5.3" dx="0" font-size="8.8" font-weight="normal" fill="#222">0</tspan></text>
<text x="273.7" y="550.6" font-size="12" font-weight="bold">10<tspan dy="-5.3" dx="0" font-size="8.8" font-weight="normal" fill="#222">1</tspan></text>
<text x="305.1" y="550.6" font-size="12" font-weight="bold">10<tspan dy="-5.3" dx="0" font-size="8.8" font-weight="normal" fill="#222">2</tspan></text>
<text x="337.9" y="550.6" font-size="12" font-weight="bold">10<tspan dy="-5.3" dx="0" font-size="8.8" font-weight="normal" fill="#222">3</tspan></text>
<text x="192.5" y="513.0" font-size="12" font-weight="bold">10<tspan dy="-5.3" dx="0" font-size="8.8" font-weight="normal" fill="#222">0</tspan></text>
<text x="192.5" y="483.0" font-size="12" font-weight="bold">10<tspan dy="-5.3" dx="0" font-size="8.8" font-weight="normal" fill="#222">1</tspan></text>
<text x="192.5" y="453.4" font-size="12" font-weight="bold">10<tspan dy="-5.3" dx="0" font-size="8.8" font-weight="normal" fill="#222">2</tspan></text>
<text x="192.5" y="422.3" font-size="12" font-weight="bold">10<tspan dy="-5.3" dx="0" font-size="8.8" font-weight="normal" fill="#222">3</tspan></text>
<line x1="217.2" y1="535.3" x2="217.2" y2="537.5" stroke="#888" stroke-width="0.8" />
<line x1="218.7" y1="535.3" x2="218.7" y2="538.5" stroke="#888" stroke-width="0.8" />
<line x1="228.3" y1="535.3" x2="228.3" y2="537.5" stroke="#888" stroke-width="0.8" />
<line x1="213.0" y1="527.6" x2="216.2" y2="527.6" stroke="#888" stroke-width="0.8" />
<line x1="233.9" y1="535.3" x2="233.9" y2="537.5" stroke="#888" stroke-width="0.8" />
<line x1="213.0" y1="522.2" x2="216.2" y2="522.2" stroke="#888" stroke-width="0.8" />
<line x1="237.8" y1="535.3" x2="237.8" y2="537.5" stroke="#888" stroke-width="0.8" />
<line x1="213.0" y1="518.4" x2="216.2" y2="518.4" stroke="#888" stroke-width="0.8" />
<line x1="240.9" y1="535.3" x2="240.9" y2="537.5" stroke="#888" stroke-width="0.8" />
<line x1="213.0" y1="515.5" x2="216.2" y2="515.5" stroke="#888" stroke-width="0.8" />
<line x1="243.4" y1="535.3" x2="243.4" y2="537.5" stroke="#888" stroke-width="0.8" />
<line x1="213.0" y1="513.1" x2="216.2" y2="513.1" stroke="#888" stroke-width="0.8" />
<line x1="245.6" y1="535.3" x2="245.6" y2="537.5" stroke="#888" stroke-width="0.8" />
<line x1="213.0" y1="511.0" x2="216.2" y2="511.0" stroke="#888" stroke-width="0.8" />
<line x1="247.4" y1="535.3" x2="247.4" y2="537.5" stroke="#888" stroke-width="0.8" />
<line x1="213.0" y1="509.3" x2="216.2" y2="509.3" stroke="#888" stroke-width="0.8" />
<line x1="249.0" y1="535.3" x2="249.0" y2="537.5" stroke="#888" stroke-width="0.8" />
<line x1="213.0" y1="507.7" x2="216.2" y2="507.7" stroke="#888" stroke-width="0.8" />
<line x1="250.5" y1="535.3" x2="250.5" y2="538.5" stroke="#888" stroke-width="0.8" />
<line x1="211.39999999999998" y1="506.3" x2="216.2" y2="506.3" stroke="#888" stroke-width="0.8" />
<line x1="260.1" y1="535.3" x2="260.1" y2="537.5" stroke="#888" stroke-width="0.8" />
<line x1="213.0" y1="497.1" x2="216.2" y2="497.1" stroke="#888" stroke-width="0.8" />
<line x1="265.7" y1="535.3" x2="265.7" y2="537.5" stroke="#888" stroke-width="0.8" />
<line x1="213.0" y1="491.7" x2="216.2" y2="491.7" stroke="#888" stroke-width="0.8" />
<line x1="269.6" y1="535.3" x2="269.6" y2="537.5" stroke="#888" stroke-width="0.8" />
<line x1="213.0" y1="487.9" x2="216.2" y2="487.9" stroke="#888" stroke-width="0.8" />
<line x1="272.7" y1="535.3" x2="272.7" y2="537.5" stroke="#888" stroke-width="0.8" />
<line x1="213.0" y1="485.0" x2="216.2" y2="485.0" stroke="#888" stroke-width="0.8" />
<line x1="275.2" y1="535.3" x2="275.2" y2="537.5" stroke="#888" stroke-width="0.8" />
<line x1="213.0" y1="482.6" x2="216.2" y2="482.6" stroke="#888" stroke-width="0.8" />
<line x1="277.4" y1="535.3" x2="277.4" y2="537.5" stroke="#888" stroke-width="0.8" />
<line x1="213.0" y1="480.5" x2="216.2" y2="480.5" stroke="#888" stroke-width="0.8" />
<line x1="279.2" y1="535.3" x2="279.2" y2="537.5" stroke="#888" stroke-width="0.8" />
<line x1="213.0" y1="478.8" x2="216.2" y2="478.8" stroke="#888" stroke-width="0.8" />
<line x1="280.8" y1="535.3" x2="280.8" y2="537.5" stroke="#888" stroke-width="0.8" />
<line x1="213.0" y1="477.2" x2="216.2" y2="477.2" stroke="#888" stroke-width="0.8" />
<line x1="282.3" y1="535.3" x2="282.3" y2="538.5" stroke="#888" stroke-width="0.8" />
<line x1="211.39999999999998" y1="475.8" x2="216.2" y2="475.8" stroke="#888" stroke-width="0.8" />
<line x1="291.9" y1="535.3" x2="291.9" y2="537.5" stroke="#888" stroke-width="0.8" />
<line x1="213.0" y1="466.6" x2="216.2" y2="466.6" stroke="#888" stroke-width="0.8" />
<line x1="297.5" y1="535.3" x2="297.5" y2="537.5" stroke="#888" stroke-width="0.8" />
<line x1="213.0" y1="461.2" x2="216.2" y2="461.2" stroke="#888" stroke-width="0.8" />
<line x1="301.4" y1="535.3" x2="301.4" y2="537.5" stroke="#888" stroke-width="0.8" />
<line x1="213.0" y1="457.4" x2="216.2" y2="457.4" stroke="#888" stroke-width="0.8" />
<line x1="304.5" y1="535.3" x2="304.5" y2="537.5" stroke="#888" stroke-width="0.8" />
<line x1="213.0" y1="454.5" x2="216.2" y2="454.5" stroke="#888" stroke-width="0.8" />
<line x1="307.0" y1="535.3" x2="307.0" y2="537.5" stroke="#888" stroke-width="0.8" />
<line x1="213.0" y1="452.1" x2="216.2" y2="452.1" stroke="#888" stroke-width="0.8" />
<line x1="309.2" y1="535.3" x2="309.2" y2="537.5" stroke="#888" stroke-width="0.8" />
<line x1="213.0" y1="450.0" x2="216.2" y2="450.0" stroke="#888" stroke-width="0.8" />
<line x1="311.0" y1="535.3" x2="311.0" y2="537.5" stroke="#888" stroke-width="0.8" />
<line x1="213.0" y1="448.3" x2="216.2" y2="448.3" stroke="#888" stroke-width="0.8" />
<line x1="312.6" y1="535.3" x2="312.6" y2="537.5" stroke="#888" stroke-width="0.8" />
<line x1="213.0" y1="446.7" x2="216.2" y2="446.7" stroke="#888" stroke-width="0.8" />
<line x1="314.1" y1="535.3" x2="314.1" y2="538.5" stroke="#888" stroke-width="0.8" />
<line x1="211.39999999999998" y1="445.3" x2="216.2" y2="445.3" stroke="#888" stroke-width="0.8" />
<line x1="323.7" y1="535.3" x2="323.7" y2="537.5" stroke="#888" stroke-width="0.8" />
<line x1="213.0" y1="436.1" x2="216.2" y2="436.1" stroke="#888" stroke-width="0.8" />
<line x1="329.3" y1="535.3" x2="329.3" y2="537.5" stroke="#888" stroke-width="0.8" />
<line x1="213.0" y1="430.7" x2="216.2" y2="430.7" stroke="#888" stroke-width="0.8" />
<line x1="333.2" y1="535.3" x2="333.2" y2="537.5" stroke="#888" stroke-width="0.8" />
<line x1="213.0" y1="426.9" x2="216.2" y2="426.9" stroke="#888" stroke-width="0.8" />
<line x1="336.3" y1="535.3" x2="336.3" y2="537.5" stroke="#888" stroke-width="0.8" />
<line x1="213.0" y1="424.0" x2="216.2" y2="424.0" stroke="#888" stroke-width="0.8" />
<line x1="338.8" y1="535.3" x2="338.8" y2="537.5" stroke="#888" stroke-width="0.8" />
<line x1="213.0" y1="421.6" x2="216.2" y2="421.6" stroke="#888" stroke-width="0.8" />
<line x1="341.0" y1="535.3" x2="341.0" y2="537.5" stroke="#888" stroke-width="0.8" />
<line x1="213.0" y1="419.5" x2="216.2" y2="419.5" stroke="#888" stroke-width="0.8" />
<line x1="342.8" y1="535.3" x2="342.8" y2="537.5" stroke="#888" stroke-width="0.8" />
<line x1="213.0" y1="417.8" x2="216.2" y2="417.8" stroke="#888" stroke-width="0.8" />
<line x1="344.4" y1="535.3" x2="344.4" y2="537.5" stroke="#888" stroke-width="0.8" />
<line x1="213.0" y1="416.2" x2="216.2" y2="416.2" stroke="#888" stroke-width="0.8" />
<path d="M432.5 518.1h.1M425.4 517.0h.1M437.9 520.6h.1M444.9 527.7h.1M447.0 517.0h.1M424.4 515.0h.1M433.5 517.3h.1M445.4 527.2h.1M436.9 521.1h.1M426.6 517.0h.1M432.0 509.9h.1M428.7 525.7h.1M427.1 523.9h.1M442.1 511.4h.1M444.0 524.3h.1M442.5 520.2h.1M428.6 524.8h.1M444.9 520.0h.1M433.5 511.7h.1M434.2 519.1h.1M434.0 520.4h.1M448.9 524.9h.1M434.8 521.8h.1M445.6 518.2h.1M436.5 517.4h.1M442.5 533.7h.1M449.9 524.6h.1M428.9 531.3h.1M443.9 519.0h.1M448.2 523.3h.1M419.3 522.3h.1M446.0 518.7h.1M421.5 520.4h.1M433.8 527.9h.1M422.3 521.2h.1M437.2 531.2h.1M449.4 507.0h.1M436.8 515.8h.1M448.8 516.1h.1M431.2 521.9h.1M437.2 522.1h.1M464.0 524.8h.1M446.5 518.2h.1M447.7 519.3h.1M431.8 518.8h.1M450.0 518.7h.1M439.4 523.5h.1M445.5 520.2h.1M433.6 521.3h.1M430.9 511.7h.1M435.9 520.0h.1M420.5 526.5h.1M442.7 516.2h.1M434.5 519.2h.1M441.1 521.7h.1M431.5 515.8h.1M437.3 520.3h.1M455.0 510.1h.1M425.2 529.5h.1M444.2 523.0h.1M438.1 516.0h.1M441.3 532.8h.1M438.5 521.7h.1M434.3 522.7h.1M422.1 522.1h.1M448.0 516.3h.1M425.7 513.7h.1M444.5 522.6h.1M443.8 525.9h.1M443.3 528.3h.1M445.2 529.2h.1M432.6 524.6h.1M449.0 524.1h.1M421.4 520.2h.1M435.5 518.8h.1M428.1 526.9h.1M438.4 522.2h.1M441.9 519.3h.1M440.5 519.1h.1M451.4 515.0h.1M443.2 513.3h.1M419.3 523.6h.1M428.6 518.0h.1M471.9 520.5h.1M433.1 520.8h.1M433.4 517.3h.1M435.3 524.0h.1M436.3 522.6h.1M445.7 518.6h.1M456.0 524.7h.1M430.8 525.3h.1M440.0 525.4h.1M443.0 516.2h.1M436.6 514.9h.1M469.3 517.1h.1M430.3 515.0h.1M422.7 517.0h.1M445.5 519.0h.1M443.2 523.0h.1M431.6 516.9h.1M435.8 526.0h.1M429.3 519.1h.1M453.7 509.4h.1M428.8 523.0h.1M428.2 520.8h.1M436.8 510.8h.1M432.6 513.8h.1M431.7 521.8h.1M436.9 523.9h.1M426.4 523.1h.1M441.5 508.7h.1M432.1 514.9h.1M445.4 520.8h.1M447.7 527.0h.1M437.1 518.2h.1M436.9 519.9h.1M430.5 517.6h.1M427.9 526.4h.1M445.9 519.6h.1M437.9 518.5h.1M441.4 528.5h.1M444.7 520.5h.1M459.6 516.4h.1M452.2 525.6h.1M437.7 521.8h.1M434.1 521.1h.1M441.4 518.8h.1M437.5 525.0h.1M437.3 522.2h.1M422.8 524.1h.1M432.2 524.4h.1M441.4 507.2h.1M439.9 509.3h.1M466.7 525.1h.1M422.7 523.6h.1M455.4 524.3h.1M418.7 518.2h.1M445.8 520.8h.1M440.1 524.9h.1M437.9 530.8h.1M452.9 525.1h.1M417.3 533.9h.1M432.7 520.3h.1M442.3 524.8h.1M446.6 517.6h.1M443.2 527.4h.1M450.2 527.0h.1M443.0 533.2h.1M426.1 520.9h.1M439.0 524.3h.1M446.5 514.8h.1M446.8 521.1h.1M408.7 521.2h.1M442.4 534.1h.1M431.9 516.6h.1M428.2 516.4h.1M440.6 514.2h.1M424.1 516.4h.1M437.1 517.9h.1M434.1 531.0h.1M423.7 525.7h.1M445.3 526.8h.1M450.6 515.2h.1M427.0 519.0h.1M441.6 514.0h.1M439.7 521.1h.1M440.3 519.4h.1M435.2 509.8h.1M405.8 513.1h.1M429.1 519.1h.1M419.4 528.7h.1M458.2 526.0h.1M452.0 519.5h.1M440.2 519.8h.1M436.7 517.4h.1M444.9 524.7h.1M425.1 527.1h.1M441.9 524.3h.1M443.7 519.6h.1M444.8 526.7h.1M442.5 521.5h.1M452.0 512.7h.1M438.8 518.3h.1M441.4 525.9h.1M435.0 513.9h.1M419.2 511.7h.1M432.4 517.7h.1M440.9 516.2h.1M435.5 519.4h.1M436.4 520.3h.1M442.3 511.1h.1M441.6 520.3h.1M438.4 520.9h.1M447.9 521.8h.1M434.4 519.9h.1M446.3 511.7h.1M455.8 520.6h.1M434.5 518.1h.1M440.0 513.9h.1M427.1 520.6h.1M438.5 527.4h.1M438.6 521.1h.1M437.3 516.1h.1M423.8 522.5h.1M438.2 516.1h.1M424.3 520.5h.1M433.7 519.6h.1M441.9 516.1h.1M437.9 524.3h.1M452.7 516.4h.1M432.5 519.9h.1M427.1 523.6h.1M439.1 517.0h.1M444.1 517.1h.1M447.3 522.9h.1M436.2 520.4h.1M437.9 522.5h.1M442.4 521.6h.1M440.8 517.4h.1M442.8 519.2h.1M445.2 525.6h.1M434.9 516.5h.1M439.6 519.3h.1M438.5 515.0h.1M434.7 523.6h.1M440.1 518.7h.1M455.6 512.6h.1M439.7 517.1h.1M439.8 518.3h.1M447.2 515.6h.1M432.3 524.8h.1M445.4 520.7h.1M441.6 517.2h.1M435.3 518.9h.1M438.0 520.0h.1M431.0 518.0h.1M445.9 522.1h.1M432.2 513.7h.1M433.8 520.2h.1M448.0 518.4h.1M427.7 521.5h.1M442.7 522.1h.1M421.9 519.1h.1M425.4 513.3h.1M449.0 515.1h.1M440.9 514.7h.1M437.2 532.7h.1M416.1 525.8h.1M441.2 515.1h.1M435.7 525.6h.1M443.7 525.0h.1M442.6 524.8h.1M452.7 516.7h.1M445.0 518.3h.1M460.2 520.4h.1M447.6 518.2h.1M441.4 514.4h.1M445.7 513.8h.1M438.0 521.0h.1M432.1 503.4h.1M435.8 521.0h.1M429.3 520.1h.1M448.8 521.0h.1M440.0 520.9h.1M441.6 529.1h.1M439.4 522.2h.1M439.2 520.8h.1M429.7 516.6h.1M431.9 516.7h.1M438.8 524.4h.1M437.0 519.2h.1M434.4 514.2h.1M428.0 514.9h.1M472.0 519.2h.1M442.6 523.5h.1M446.7 508.9h.1M436.0 521.0h.1M436.8 521.5h.1M439.7 518.5h.1M446.7 519.6h.1M483.5 517.5h.1M428.3 517.0h.1M418.5 522.6h.1M421.2 520.3h.1M442.3 518.7h.1M448.2 518.0h.1M425.8 531.3h.1M437.9 513.6h.1M432.8 515.7h.1M446.4 517.3h.1M429.7 528.0h.1M440.0 522.4h.1M443.5 521.5h.1M443.9 527.2h.1M424.9 528.7h.1M445.4 522.6h.1M419.7 508.8h.1M428.9 520.9h.1M442.7 508.8h.1M440.5 521.8h.1M433.5 511.4h.1M458.1 519.7h.1M439.2 520.4h.1M445.3 522.3h.1M426.7 515.1h.1M435.0 529.2h.1M427.5 519.1h.1M449.6 525.6h.1M433.0 515.1h.1M450.6 510.6h.1M417.7 509.0h.1M425.5 519.0h.1M447.2 511.7h.1M427.6 528.1h.1M428.8 519.0h.1M449.1 520.2h.1M414.8 515.4h.1M446.4 514.3h.1M417.9 517.3h.1M451.1 519.0h.1M436.3 516.4h.1M454.9 516.7h.1M435.1 522.6h.1M443.7 521.3h.1M450.5 524.4h.1M426.7 513.4h.1M445.6 516.7h.1M430.8 513.6h.1M430.9 506.0h.1M439.2 525.7h.1M428.4 524.4h.1M430.2 517.6h.1M433.3 519.8h.1M431.5 521.8h.1M447.0 520.7h.1M431.6 519.1h.1M445.7 518.0h.1M437.0 520.3h.1M439.0 518.6h.1M431.8 519.2h.1M413.1 526.2h.1M439.5 514.4h.1M457.0 518.7h.1M424.6 524.3h.1M429.6 521.8h.1M450.5 527.4h.1M431.2 519.9h.1M440.7 526.4h.1M435.8 514.2h.1M450.4 521.8h.1M425.8 528.8h.1M445.4 516.2h.1M427.1 524.8h.1M426.5 525.8h.1M434.5 522.8h.1M423.9 532.6h.1M431.8 514.5h.1M444.6 521.3h.1M440.6 514.9h.1M442.3 523.3h.1M418.6 513.9h.1M441.0 519.2h.1M437.4 524.7h.1M458.4 517.8h.1M424.9 513.9h.1M438.2 522.2h.1M432.0 517.0h.1M420.7 521.9h.1M444.4 520.2h.1M430.4 529.2h.1M428.0 533.1h.1M427.1 520.8h.1M437.5 510.5h.1M439.1 530.2h.1M429.7 511.2h.1M433.2 517.2h.1M435.9 514.9h.1M429.1 520.7h.1M442.4 516.0h.1M446.9 516.5h.1M426.5 521.6h.1M457.3 522.3h.1M453.0 499.2h.1M450.0 513.8h.1M442.3 518.5h.1M438.3 520.8h.1M429.8 522.8h.1M434.4 527.5h.1M437.8 522.6h.1M433.8 518.1h.1M414.6 522.9h.1M452.8 525.2h.1M451.6 515.7h.1M447.5 514.1h.1M440.8 505.1h.1M434.2 526.5h.1M444.6 517.7h.1M458.2 512.4h.1M437.1 525.7h.1M428.6 520.4h.1M440.1 522.2h.1M442.2 517.2h.1M449.7 521.1h.1M444.4 533.6h.1M431.7 522.8h.1M443.2 510.9h.1M424.6 511.8h.1M442.7 526.0h.1M454.7 520.1h.1M435.9 518.8h.1M449.9 531.5h.1M441.1 524.1h.1M447.7 530.4h.1M442.9 523.4h.1M447.1 522.0h.1M445.8 525.5h.1M442.8 534.4h.1M435.3 526.3h.1M436.8 520.1h.1M443.7 519.9h.1M430.5 519.4h.1M446.4 519.9h.1M444.2 523.4h.1M436.5 521.5h.1M439.7 521.3h.1M436.5 521.3h.1M444.1 526.3h.1M440.4 520.8h.1M439.9 525.3h.1M430.3 523.5h.1M432.0 517.3h.1M442.4 520.6h.1M423.1 518.4h.1M463.5 526.6h.1M446.4 517.2h.1M439.9 515.7h.1M435.4 523.8h.1M468.2 515.6h.1M438.4 507.9h.1M442.3 514.5h.1M437.4 524.5h.1M428.9 511.0h.1M441.8 529.3h.1M430.8 525.0h.1M420.6 515.9h.1M446.3 524.4h.1M429.6 521.3h.1M428.9 499.9h.1M429.0 520.2h.1M441.8 518.8h.1M433.8 528.2h.1M452.5 521.9h.1M453.3 524.2h.1M434.5 518.7h.1M457.5 528.6h.1M434.3 518.3h.1M438.3 521.1h.1M445.6 522.6h.1M448.9 526.8h.1M440.4 516.4h.1M425.6 519.6h.1M447.4 515.5h.1M419.5 524.9h.1M436.6 518.6h.1M440.7 517.2h.1M434.9 515.9h.1M451.8 517.3h.1M457.7 532.7h.1M444.4 519.8h.1M415.0 521.5h.1M444.5 507.9h.1M436.8 519.5h.1M439.1 522.6h.1M428.7 525.4h.1M440.4 523.8h.1M423.9 511.5h.1M420.1 523.9h.1M449.5 522.5h.1M431.2 520.5h.1M441.8 519.8h.1M439.3 529.4h.1M426.9 523.0h.1M435.3 516.1h.1M433.8 515.3h.1M451.6 529.6h.1M426.5 517.1h.1M446.8 531.3h.1M445.0 518.4h.1M459.7 521.8h.1M445.3 512.0h.1M445.5 515.6h.1M426.5 520.0h.1M409.4 518.0h.1M436.7 519.2h.1M395.6 530.2h.1M449.3 515.4h.1M435.4 519.1h.1M429.5 516.4h.1M444.2 526.9h.1M443.1 515.8h.1M420.3 530.2h.1M447.5 523.6h.1M420.4 528.7h.1M419.5 511.0h.1M445.2 516.7h.1M434.2 513.6h.1M428.1 515.4h.1M424.4 525.2h.1M442.6 524.1h.1M429.1 499.7h.1M446.2 520.6h.1M437.7 525.5h.1M433.5 527.5h.1M436.3 529.9h.1M431.6 526.3h.1M436.8 519.5h.1M432.4 520.1h.1M434.3 523.4h.1M433.0 518.1h.1M425.7 511.8h.1M444.8 523.5h.1M434.0 518.6h.1M446.5 519.2h.1M441.4 521.7h.1M437.5 496.0h.1M442.5 529.2h.1M438.1 520.0h.1M425.7 523.2h.1M439.9 522.7h.1M453.2 513.6h.1M424.0 515.0h.1M453.0 510.4h.1M436.3 518.9h.1M431.1 519.3h.1M434.3 520.4h.1M443.6 517.4h.1M442.3 518.6h.1M439.5 518.1h.1M428.8 526.2h.1M440.7 511.3h.1M446.7 523.9h.1M448.5 516.8h.1M422.9 526.2h.1M452.5 518.4h.1M444.0 515.8h.1M446.0 515.4h.1M439.4 523.6h.1M439.3 512.6h.1M438.9 528.6h.1M453.4 518.4h.1M431.3 524.9h.1M439.6 523.6h.1M449.9 514.2h.1M430.0 523.2h.1M436.0 517.4h.1M461.8 508.4h.1M444.3 522.0h.1M446.6 521.2h.1M429.5 519.8h.1M426.7 521.5h.1M432.2 526.7h.1M442.1 507.9h.1M424.8 511.2h.1M440.3 523.8h.1M430.6 524.5h.1M440.2 522.8h.1M439.8 530.3h.1M424.5 518.2h.1M457.1 518.6h.1M439.0 519.9h.1M437.0 524.1h.1M434.0 520.5h.1M454.8 516.6h.1M441.5 515.9h.1M435.9 504.7h.1M436.5 526.6h.1M424.2 519.2h.1M426.5 515.2h.1M424.5 510.0h.1M442.2 520.1h.1M438.4 487.3h.1M437.1 531.0h.1M437.4 513.9h.1M415.0 511.8h.1M437.0 514.6h.1M436.0 509.4h.1M436.0 518.4h.1M422.8 515.0h.1M438.9 513.7h.1M440.3 522.1h.1M450.8 520.2h.1M433.3 520.7h.1M428.6 516.1h.1M437.3 516.5h.1M434.3 517.4h.1M443.5 521.1h.1M406.1 523.5h.1M432.5 523.7h.1M388.3 527.8h.1M448.2 520.7h.1M434.3 525.8h.1M439.1 521.2h.1M454.8 515.7h.1M435.1 514.5h.1M422.7 529.0h.1M405.3 526.5h.1M440.9 517.6h.1M446.0 523.4h.1M433.7 522.7h.1M438.2 510.7h.1M448.4 520.3h.1M434.8 518.1h.1M437.9 519.6h.1M433.2 522.8h.1M427.2 518.4h.1M446.6 514.6h.1M453.6 526.5h.1M445.4 517.1h.1M425.1 499.5h.1M429.5 520.7h.1M450.2 502.7h.1M429.8 510.3h.1M422.1 523.3h.1M439.3 521.8h.1M433.3 517.6h.1M432.8 520.2h.1M434.1 524.6h.1M441.4 510.1h.1M436.4 514.1h.1M433.7 510.4h.1M417.1 531.5h.1M436.6 518.4h.1M445.9 516.3h.1M447.8 509.1h.1M443.9 520.4h.1M427.0 521.6h.1M419.7 520.1h.1M416.0 525.6h.1M423.5 518.4h.1M441.6 526.0h.1M433.2 518.5h.1M426.0 524.1h.1M436.1 526.2h.1M466.1 526.0h.1M434.4 520.8h.1M420.0 509.8h.1M447.6 514.7h.1M447.6 525.6h.1M433.9 519.0h.1M450.7 519.0h.1M393.6 524.7h.1M422.9 518.7h.1M441.9 522.7h.1M431.3 519.9h.1M448.0 518.0h.1M434.0 518.4h.1M447.3 521.1h.1M450.0 517.3h.1M436.7 514.8h.1M449.1 518.4h.1M430.8 524.1h.1M439.8 516.0h.1M434.5 529.4h.1M456.3 530.7h.1M439.5 523.1h.1M442.5 522.2h.1M446.5 525.4h.1M448.2 523.9h.1M444.8 522.7h.1M433.3 525.0h.1M443.1 521.6h.1M441.4 528.2h.1M443.3 521.5h.1M427.1 522.5h.1M440.1 508.9h.1M430.2 527.7h.1M433.5 517.2h.1M440.4 519.2h.1M444.3 526.3h.1M436.1 518.2h.1M419.8 519.1h.1M440.5 525.7h.1M432.6 532.0h.1M433.1 524.5h.1M453.4 511.2h.1M433.6 522.4h.1M432.1 522.9h.1M437.3 520.9h.1M438.2 509.1h.1M441.4 520.6h.1M443.1 517.4h.1M446.0 528.8h.1M440.4 520.9h.1M436.2 522.9h.1M441.9 519.9h.1M448.5 525.9h.1M433.0 520.2h.1M449.2 522.3h.1M445.8 517.6h.1M426.5 525.7h.1M434.5 513.0h.1M437.0 528.0h.1M434.3 525.7h.1M440.7 514.3h.1M461.7 523.9h.1M444.0 523.8h.1M434.4 516.2h.1M436.5 515.2h.1M447.5 517.7h.1M446.7 533.9h.1M438.4 521.5h.1M430.8 513.5h.1M434.6 519.6h.1M445.5 527.0h.1M401.0 516.5h.1M431.0 521.4h.1M441.8 522.9h.1M457.7 533.5h.1M418.8 517.9h.1M424.3 496.6h.1M436.6 523.0h.1M433.1 499.5h.1M438.7 519.5h.1M433.8 522.5h.1M440.0 517.4h.1M437.7 525.2h.1M437.0 515.6h.1M433.4 522.9h.1M460.6 518.4h.1M433.0 522.0h.1M446.7 513.6h.1M425.5 509.1h.1M437.5 519.5h.1M424.2 516.1h.1M428.0 530.8h.1M442.8 524.4h.1M448.7 518.0h.1M461.4 497.6h.1M442.7 518.3h.1M441.1 518.6h.1M436.0 533.6h.1M441.0 523.3h.1M418.6 511.1h.1M429.9 509.8h.1M448.4 525.2h.1M447.4 517.8h.1M453.9 518.6h.1M438.5 523.7h.1M440.2 531.5h.1M452.7 515.4h.1M419.9 521.7h.1M408.8 518.5h.1M452.3 519.2h.1M426.3 523.0h.1M414.9 515.9h.1M436.7 516.3h.1M431.6 526.5h.1M436.9 517.1h.1M461.9 517.1h.1M449.6 524.1h.1M433.2 529.2h.1M442.4 520.8h.1M426.4 525.9h.1M438.1 512.6h.1M432.1 528.2h.1M445.3 512.4h.1M430.2 513.4h.1M456.9 522.8h.1M447.8 516.0h.1M426.7 530.9h.1M438.4 514.0h.1M443.6 515.2h.1M435.0 518.9h.1M433.0 513.3h.1M441.1 519.2h.1M410.7 518.5h.1M429.5 511.8h.1M433.1 525.5h.1M438.0 517.1h.1M439.2 516.0h.1M441.6 517.9h.1M445.6 523.7h.1M433.5 522.4h.1M446.0 523.1h.1M428.7 522.2h.1M440.8 525.7h.1M461.1 518.2h.1M454.8 522.1h.1M431.9 521.8h.1M436.9 519.7h.1M428.1 520.8h.1M442.6 526.0h.1M419.2 532.9h.1M467.3 510.4h.1M439.0 516.3h.1M431.3 508.5h.1M436.9 519.2h.1M438.2 528.4h.1M430.3 515.8h.1M436.3 518.4h.1M427.7 518.9h.1M428.5 521.0h.1M424.0 520.3h.1M445.2 517.7h.1M445.2 521.8h.1M440.5 516.1h.1M453.9 522.6h.1M428.6 519.2h.1M440.8 506.5h.1M433.9 513.4h.1M427.0 509.5h.1M436.1 516.0h.1M442.6 518.4h.1M448.9 526.3h.1M453.5 516.2h.1M429.4 526.5h.1M429.7 530.9h.1M447.6 515.1h.1M441.8 519.8h.1M436.9 511.6h.1M432.3 519.3h.1M437.5 517.3h.1M454.0 519.5h.1M442.5 520.2h.1M428.5 511.3h.1M434.1 507.4h.1M438.9 520.6h.1M429.0 511.7h.1M434.2 515.0h.1M412.7 516.9h.1M448.3 510.9h.1M438.9 513.9h.1M432.0 524.8h.1M447.5 520.8h.1M430.8 508.7h.1M432.4 523.7h.1M442.8 524.3h.1M429.3 504.0h.1M442.5 520.2h.1M472.5 516.6h.1M433.1 512.3h.1M462.6 511.7h.1M447.8 518.5h.1M436.5 527.9h.1M433.0 523.8h.1M435.2 516.2h.1M447.3 515.1h.1M431.2 514.7h.1M432.7 521.4h.1M433.7 514.7h.1M430.2 513.4h.1M443.1 524.9h.1M429.5 523.6h.1M428.8 522.5h.1M455.3 531.2h.1M442.7 520.9h.1M436.5 515.6h.1M437.3 522.3h.1M438.8 513.3h.1M422.9 513.0h.1M461.7 518.5h.1M447.2 524.7h.1M432.4 519.5h.1M427.7 520.1h.1M428.3 521.2h.1M416.0 522.8h.1M449.2 516.3h.1M447.6 521.8h.1M459.0 506.4h.1M439.6 517.3h.1M443.9 519.5h.1M435.2 526.0h.1M440.0 523.0h.1M443.0 518.2h.1M428.7 517.4h.1M450.9 517.6h.1M429.6 509.2h.1M434.5 518.0h.1M430.7 515.3h.1M449.0 512.4h.1M438.0 519.7h.1M433.6 524.3h.1M447.1 526.5h.1M427.9 522.5h.1M431.3 507.3h.1M444.3 519.2h.1M437.3 509.8h.1M430.6 526.1h.1M443.3 519.0h.1M434.8 523.3h.1M437.7 519.9h.1M437.0 518.4h.1M456.8 522.2h.1M435.2 520.1h.1M437.1 525.8h.1M430.8 514.9h.1M449.9 522.4h.1M429.4 520.0h.1M416.8 528.4h.1M442.7 521.0h.1M432.5 523.3h.1M429.0 517.0h.1M441.6 523.4h.1M431.8 515.6h.1M442.3 525.1h.1M431.0 521.6h.1M419.6 522.7h.1M427.0 526.8h.1M437.6 514.5h.1M441.9 517.0h.1M442.3 509.6h.1M439.5 522.8h.1M436.4 518.4h.1M427.0 522.3h.1M435.8 510.4h.1M435.5 517.9h.1M450.8 519.2h.1M447.1 517.7h.1M440.2 526.1h.1M440.0 518.3h.1M438.6 513.7h.1M435.5 532.8h.1M475.4 521.0h.1M432.6 518.3h.1M412.2 519.0h.1M441.9 521.0h.1M447.2 514.1h.1M433.8 519.9h.1M430.4 527.2h.1M423.2 523.7h.1M440.6 518.8h.1M417.7 515.7h.1M434.9 513.2h.1M435.9 524.2h.1M424.0 519.1h.1M448.9 519.9h.1M440.5 520.8h.1M440.5 521.9h.1M454.7 529.8h.1M451.5 527.6h.1M430.4 518.2h.1M437.5 522.4h.1M451.7 528.4h.1M425.6 513.7h.1M429.1 515.7h.1M430.3 504.3h.1M437.7 523.0h.1M439.3 518.5h.1M441.4 514.6h.1M441.6 522.9h.1M433.8 508.1h.1M413.0 530.1h.1M433.4 521.8h.1M443.8 524.7h.1M443.0 516.3h.1M437.4 509.8h.1M444.9 519.4h.1M430.8 517.2h.1M444.7 523.3h.1M440.5 512.8h.1M436.0 517.3h.1M436.7 515.3h.1M439.4 523.3h.1M442.5 525.1h.1M442.0 508.0h.1M433.4 521.8h.1M435.4 527.6h.1M417.0 528.7h.1M415.9 514.9h.1M426.0 512.6h.1M423.1 522.2h.1M448.7 522.9h.1M454.3 511.2h.1M443.2 525.8h.1M432.9 520.6h.1M455.0 514.6h.1M412.0 522.5h.1M433.8 524.7h.1M434.1 524.2h.1M422.5 526.7h.1M440.3 515.8h.1M436.4 505.6h.1M439.1 516.2h.1M445.3 517.7h.1M447.9 517.5h.1M417.8 519.2h.1M440.9 530.6h.1M427.2 525.5h.1M444.8 529.8h.1M447.8 523.0h.1M450.5 526.7h.1M471.6 531.5h.1M417.0 503.9h.1M446.0 527.5h.1M442.0 524.1h.1M433.6 511.1h.1M441.4 514.6h.1M438.0 522.8h.1M430.9 522.9h.1M453.1 526.4h.1M429.6 528.2h.1M453.1 516.9h.1M435.9 521.6h.1M425.7 525.2h.1M452.4 517.2h.1M451.3 532.2h.1M447.9 515.4h.1M438.5 517.3h.1M453.5 517.9h.1M445.6 522.0h.1M409.1 511.2h.1M466.8 517.1h.1M452.1 530.7h.1M439.6 516.2h.1M441.6 517.7h.1M415.2 519.5h.1M448.3 523.3h.1M426.8 518.0h.1M431.8 517.8h.1M439.8 523.8h.1M433.1 516.5h.1M441.4 522.7h.1M427.7 523.8h.1M433.0 525.4h.1M438.8 514.1h.1M432.4 522.8h.1M435.3 521.8h.1M441.8 519.2h.1M416.4 520.4h.1M439.7 525.0h.1M429.9 515.9h.1M426.1 525.1h.1M432.2 519.1h.1M438.5 526.3h.1M435.4 517.5h.1M447.8 521.5h.1M426.2 526.7h.1M434.7 511.9h.1M443.9 511.6h.1M463.8 519.2h.1M435.1 525.4h.1M433.2 514.2h.1M453.3 522.8h.1M442.3 522.3h.1M439.2 523.3h.1M432.7 523.1h.1M442.8 528.7h.1M439.2 523.7h.1M430.9 503.6h.1M432.9 517.9h.1M434.2 520.5h.1M441.8 520.3h.1M425.2 521.8h.1M436.6 525.1h.1M421.3 531.5h.1M437.9 513.8h.1M420.7 519.4h.1M436.7 517.1h.1M438.0 520.7h.1M440.5 518.4h.1M452.8 513.9h.1M430.7 517.2h.1M440.0 511.6h.1M433.0 514.0h.1M402.8 527.6h.1M436.7 515.9h.1M433.0 508.6h.1M437.2 520.3h.1M436.4 520.3h.1M447.6 524.9h.1M421.4 513.9h.1M424.4 513.6h.1M436.1 521.6h.1M416.6 522.7h.1M419.0 506.1h.1M438.7 519.2h.1M415.2 524.7h.1M460.5 516.6h.1M443.5 532.9h.1M448.8 520.1h.1M421.2 530.0h.1M416.2 516.8h.1M433.4 525.7h.1M449.1 516.6h.1M436.4 513.7h.1M442.8 519.5h.1M449.7 521.5h.1M431.2 530.7h.1M425.3 517.0h.1M444.6 519.3h.1M435.0 517.6h.1M439.4 534.6h.1M420.0 520.0h.1M443.1 530.4h.1M439.4 518.1h.1M444.6 516.9h.1M424.5 514.4h.1M426.9 518.8h.1M437.1 514.5h.1M439.9 519.4h.1M443.6 519.9h.1M429.6 527.5h.1M432.8 516.0h.1M433.2 520.1h.1M444.1 518.8h.1M440.7 517.7h.1M434.1 518.3h.1M436.5 521.2h.1M413.6 501.0h.1M440.2 523.0h.1M441.2 513.1h.1M444.4 517.4h.1M441.4 518.9h.1M416.2 520.7h.1M432.0 524.6h.1M449.8 521.7h.1M438.0 520.7h.1M432.4 521.2h.1M436.6 513.7h.1M447.7 520.5h.1M433.7 519.9h.1M450.5 509.6h.1M433.3 525.0h.1M432.6 519.8h.1M441.6 521.2h.1M438.1 529.2h.1M440.5 514.8h.1M428.7 513.8h.1M409.4 527.8h.1M438.6 519.1h.1M440.5 519.5h.1M435.1 515.3h.1M435.7 521.4h.1M427.0 519.5h.1M443.2 534.6h.1M441.4 510.5h.1M447.5 519.1h.1M433.7 518.7h.1M443.0 518.5h.1M438.8 526.0h.1M433.9 529.1h.1M443.3 517.8h.1M438.1 514.9h.1M432.0 519.1h.1M433.3 521.0h.1M431.0 516.6h.1M443.1 517.0h.1M436.6 520.2h.1M427.5 521.8h.1M434.3 522.3h.1M424.9 522.8h.1M409.1 504.4h.1M452.9 521.5h.1M458.0 521.8h.1M454.2 513.1h.1M439.1 516.6h.1M433.1 508.9h.1M441.5 524.6h.1M444.6 517.3h.1M440.6 519.5h.1M434.1 522.3h.1M444.2 512.3h.1M475.8 520.5h.1M427.5 519.8h.1M429.4 527.8h.1M445.9 531.7h.1M422.1 519.1h.1M451.3 518.5h.1M427.2 520.0h.1M441.0 518.5h.1M418.8 522.3h.1M439.3 522.1h.1M429.8 524.2h.1M445.6 519.4h.1M436.4 522.0h.1M443.8 521.1h.1M431.0 513.5h.1M434.1 523.2h.1M454.0 523.7h.1M432.1 522.0h.1M445.1 512.6h.1M440.6 520.8h.1M429.4 531.4h.1M435.9 526.8h.1M443.3 522.8h.1M437.2 519.5h.1M438.4 526.3h.1M419.5 528.7h.1M453.8 504.2h.1M436.5 516.5h.1M440.7 533.1h.1M439.2 516.9h.1M445.6 527.8h.1M452.0 516.5h.1M449.5 518.4h.1M442.4 518.2h.1M429.5 517.5h.1M432.9 505.2h.1M438.3 521.1h.1M434.6 520.8h.1M421.8 515.0h.1M443.2 524.1h.1M417.7 521.8h.1M443.3 511.6h.1M400.2 528.6h.1M445.4 521.4h.1M446.9 524.5h.1M439.1 512.6h.1M430.6 518.5h.1M441.9 511.0h.1M448.7 518.4h.1M440.5 517.4h.1M458.4 518.2h.1M461.5 518.3h.1M422.2 516.9h.1M435.4 516.8h.1M437.0 520.6h.1M438.0 518.9h.1M445.0 515.3h.1M445.3 522.0h.1M438.0 514.8h.1M438.7 511.5h.1M437.5 520.5h.1M452.0 522.8h.1M432.2 519.4h.1M440.9 518.3h.1M437.2 505.7h.1M439.5 530.0h.1M433.1 520.8h.1M454.4 529.8h.1M430.7 506.2h.1M418.9 519.0h.1M427.0 514.2h.1M431.2 524.0h.1M429.3 515.8h.1M454.7 518.9h.1M449.1 521.7h.1M441.2 522.3h.1M437.2 519.3h.1M440.1 520.8h.1M444.9 514.7h.1M433.1 519.3h.1M435.3 518.4h.1M462.8 514.8h.1M446.9 516.7h.1M451.3 523.1h.1M451.5 520.9h.1M429.1 513.1h.1M445.1 522.0h.1M429.5 517.7h.1M443.1 525.4h.1M435.1 512.8h.1M434.3 518.1h.1M427.7 518.3h.1M436.7 523.0h.1M443.7 524.9h.1M440.5 515.9h.1M458.1 524.3h.1M445.1 521.2h.1M443.3 526.7h.1M427.7 521.4h.1M413.9 516.3h.1M417.8 499.3h.1M439.6 517.3h.1M448.3 526.9h.1M439.9 512.0h.1M432.7 525.6h.1M437.4 524.4h.1M446.3 521.7h.1M450.4 505.9h.1M440.8 520.7h.1M437.3 510.3h.1M457.3 519.7h.1M427.2 529.0h.1M428.5 517.8h.1M443.2 514.7h.1M445.8 513.2h.1M434.2 520.2h.1M448.9 516.2h.1M425.3 534.0h.1M433.2 518.7h.1M447.8 525.4h.1M417.3 510.2h.1M440.2 521.9h.1M434.3 516.3h.1M429.9 526.2h.1M433.9 524.2h.1M430.0 520.9h.1M444.2 521.3h.1M440.2 512.4h.1M438.0 526.2h.1M432.6 520.1h.1M431.0 520.8h.1M423.5 525.3h.1M435.8 518.7h.1M427.3 523.3h.1M442.2 510.1h.1M396.1 512.3h.1M434.1 513.6h.1M409.9 517.2h.1M450.3 522.3h.1M441.4 523.0h.1M430.1 511.5h.1M430.4 526.6h.1M433.1 522.5h.1M431.5 520.6h.1M434.9 513.8h.1M446.0 525.3h.1M442.5 525.3h.1M451.7 508.1h.1M439.2 514.0h.1M429.8 512.9h.1M433.6 525.2h.1M439.5 520.4h.1M450.0 516.7h.1M437.0 519.5h.1M438.8 517.1h.1M439.1 529.9h.1M443.6 521.8h.1M443.1 517.1h.1M428.2 510.0h.1M460.7 523.4h.1M421.2 522.1h.1M421.2 517.6h.1M433.3 515.8h.1M425.2 518.1h.1M460.2 522.3h.1M441.8 506.7h.1M442.9 523.4h.1M449.9 518.9h.1M440.2 523.8h.1M431.8 511.3h.1M439.6 528.0h.1M439.1 533.2h.1M424.8 511.0h.1M438.7 521.3h.1M458.6 521.8h.1M454.0 515.4h.1M459.5 519.6h.1M448.0 517.1h.1M420.4 516.3h.1M446.7 529.2h.1M426.8 523.7h.1M446.5 514.1h.1M423.7 518.6h.1M443.6 519.0h.1M442.9 518.3h.1M470.8 513.1h.1M442.1 524.1h.1M425.3 519.5h.1M439.0 517.6h.1M439.4 513.4h.1M445.4 517.6h.1M434.7 519.3h.1M448.0 522.0h.1M450.8 516.5h.1M466.7 516.6h.1M429.9 515.4h.1M438.3 523.5h.1M437.1 507.1h.1M429.2 514.6h.1M448.9 512.7h.1M432.2 522.6h.1M444.0 516.0h.1M446.5 521.8h.1M434.8 508.7h.1M437.0 522.4h.1M434.7 533.2h.1M411.1 515.8h.1M435.7 522.3h.1M436.4 502.3h.1M420.6 523.1h.1M434.7 533.2h.1M450.6 524.4h.1M450.4 513.6h.1M434.4 526.3h.1M418.8 517.1h.1M436.4 524.9h.1M444.3 524.5h.1M441.0 519.6h.1M410.6 531.8h.1M441.8 514.0h.1M422.2 514.3h.1M422.4 513.2h.1M434.1 517.2h.1M441.4 509.6h.1M448.9 521.3h.1M440.3 523.7h.1M441.6 516.8h.1M428.1 533.1h.1M440.3 513.5h.1M437.0 530.3h.1M422.9 499.8h.1M430.9 524.4h.1M448.8 502.5h.1M434.0 523.1h.1M442.1 517.3h.1M444.5 515.8h.1M432.5 516.9h.1M443.6 520.2h.1M447.2 517.2h.1M450.5 518.6h.1M431.7 519.7h.1M440.5 526.0h.1M462.0 522.3h.1M442.1 515.5h.1M439.5 511.9h.1M436.7 521.3h.1M425.2 525.2h.1M437.4 515.9h.1M444.6 520.3h.1M418.4 520.1h.1M446.7 516.2h.1M421.7 526.0h.1M419.1 531.4h.1M431.1 522.9h.1M432.6 515.6h.1M428.5 503.9h.1M424.5 531.2h.1M438.3 517.1h.1M457.3 519.7h.1M445.1 516.3h.1M434.8 516.4h.1M411.2 524.7h.1M434.7 512.4h.1M442.0 523.6h.1M446.3 522.4h.1M421.4 509.5h.1M448.0 523.4h.1M435.5 518.5h.1M444.7 516.0h.1M447.4 526.3h.1M440.5 529.6h.1M443.3 516.4h.1M439.0 519.6h.1M431.8 518.7h.1M412.2 514.9h.1M420.3 510.1h.1M453.1 522.0h.1M442.3 528.2h.1M438.1 523.8h.1M436.4 514.3h.1M450.9 524.7h.1M433.5 515.4h.1M431.5 525.5h.1M437.8 516.1h.1M435.4 513.2h.1M426.0 525.4h.1M425.3 517.8h.1M433.2 528.0h.1M449.6 517.5h.1M421.2 512.5h.1M438.3 523.5h.1M436.2 520.9h.1M437.4 518.6h.1M446.4 512.1h.1M433.7 523.9h.1M439.5 520.8h.1M444.0 526.0h.1M437.2 514.1h.1M429.9 503.9h.1M436.7 523.4h.1M442.7 505.5h.1M434.9 520.1h.1M432.4 525.1h.1M438.3 520.6h.1M428.3 518.8h.1M438.9 513.4h.1M430.6 515.4h.1M445.1 519.6h.1M445.4 520.1h.1M429.8 517.0h.1M441.0 524.1h.1M446.7 503.5h.1M416.9 505.6h.1M438.4 520.5h.1M436.4 527.3h.1M439.8 520.1h.1M457.1 522.5h.1M433.3 522.1h.1M449.0 518.4h.1M436.3 517.9h.1M431.3 520.5h.1M437.4 521.9h.1M428.6 521.6h.1M455.4 526.0h.1M443.5 523.3h.1M463.0 521.4h.1M429.0 519.5h.1M427.3 514.1h.1M441.1 523.8h.1M430.2 526.2h.1M427.9 518.2h.1M437.8 518.6h.1M445.2 522.9h.1M455.8 525.5h.1M455.0 524.8h.1M445.6 522.7h.1M455.0 511.7h.1M445.4 519.7h.1M430.8 517.2h.1M413.3 528.4h.1M437.2 517.6h.1M402.3 525.5h.1M438.9 520.6h.1M433.8 517.8h.1M426.7 522.8h.1M439.9 528.4h.1M428.1 521.8h.1M439.6 519.2h.1M441.7 521.5h.1M438.3 510.1h.1M436.3 524.0h.1M446.6 530.7h.1M443.9 521.6h.1M437.1 520.7h.1M431.0 517.1h.1M440.3 518.5h.1M437.3 522.3h.1M438.4 527.9h.1M413.8 526.2h.1M444.9 521.9h.1M430.4 518.4h.1M450.1 524.7h.1M428.3 520.3h.1M447.6 531.9h.1M462.5 531.5h.1M427.6 522.5h.1M438.8 518.5h.1M427.6 518.5h.1M441.2 523.3h.1M426.4 518.3h.1M433.6 523.7h.1M441.3 524.3h.1M430.9 522.4h.1M442.1 523.3h.1M443.9 517.3h.1M437.1 523.4h.1M457.3 520.7h.1M433.5 518.2h.1M441.8 523.2h.1M448.6 522.3h.1M418.9 520.6h.1M454.4 508.6h.1M441.7 512.8h.1M435.9 515.4h.1M431.9 506.3h.1M447.6 516.0h.1M437.1 524.1h.1M458.4 521.9h.1M426.1 514.2h.1M419.4 505.3h.1M430.9 517.6h.1M438.8 520.0h.1M429.5 515.1h.1M454.3 523.7h.1M439.7 520.6h.1M431.2 520.1h.1M429.3 518.6h.1M443.4 522.4h.1M438.9 525.7h.1M431.0 515.8h.1M433.7 519.2h.1M436.5 516.9h.1M430.4 517.5h.1M436.4 527.6h.1M447.1 519.2h.1M411.0 519.5h.1M431.0 515.4h.1M446.6 520.2h.1M443.8 522.5h.1M440.5 517.7h.1M426.6 527.1h.1M438.6 515.0h.1M440.9 514.7h.1M432.6 519.8h.1M443.0 526.5h.1M449.3 522.8h.1M430.7 527.8h.1M425.3 529.1h.1M435.1 528.3h.1M452.1 525.3h.1M433.3 511.6h.1M427.8 514.5h.1M436.0 518.3h.1M442.3 518.7h.1M436.1 514.8h.1M450.3 529.1h.1M436.3 522.4h.1M433.9 516.9h.1M436.4 525.0h.1M425.7 522.9h.1M440.5 513.1h.1M433.8 524.4h.1M414.5 524.9h.1M442.2 524.2h.1M438.9 518.5h.1M445.2 516.5h.1M437.9 517.6h.1M419.8 531.4h.1M454.6 512.8h.1M416.1 521.0h.1M437.6 527.2h.1M426.8 515.5h.1M439.7 519.6h.1M420.7 520.7h.1M444.8 519.6h.1M404.2 518.8h.1M451.1 523.7h.1M431.4 522.5h.1M417.4 513.1h.1M439.2 530.1h.1M450.7 513.4h.1M418.7 519.0h.1M449.5 523.8h.1M434.8 513.2h.1M419.5 521.6h.1M440.0 509.0h.1M430.7 526.1h.1M422.1 515.4h.1M440.7 524.4h.1M449.1 522.8h.1M426.6 517.3h.1M447.2 525.3h.1M453.0 525.8h.1M440.6 528.8h.1M450.7 518.2h.1M434.9 517.5h.1M430.2 521.6h.1M436.4 509.0h.1M429.3 516.2h.1M443.5 520.0h.1M438.8 517.1h.1M432.7 520.5h.1M433.0 520.8h.1M432.3 520.6h.1M448.2 522.4h.1M432.3 524.7h.1M434.4 516.4h.1M456.3 526.0h.1M453.9 519.0h.1M435.0 522.5h.1M451.2 520.9h.1M444.7 511.5h.1M446.6 517.9h.1M446.8 519.4h.1M444.4 518.0h.1M444.3 515.0h.1M442.1 519.7h.1M439.9 512.8h.1M417.9 516.2h.1M413.2 523.3h.1M442.2 526.8h.1M437.5 522.9h.1M442.3 511.4h.1M448.5 523.7h.1M453.2 519.3h.1M416.8 534.3h.1M434.7 526.1h.1M431.6 531.3h.1M449.7 529.8h.1M445.6 527.3h.1M469.4 526.6h.1M449.5 518.0h.1M443.5 519.1h.1M442.0 517.7h.1M434.0 525.9h.1M449.3 518.4h.1M431.4 516.3h.1M439.5 517.7h.1M428.8 514.2h.1M447.2 521.6h.1M436.2 515.9h.1M451.3 515.0h.1M427.9 513.3h.1M427.6 529.5h.1M436.5 525.1h.1M444.4 508.8h.1M432.9 524.3h.1M446.0 519.9h.1M427.2 509.8h.1M438.8 525.1h.1M445.4 516.9h.1M434.7 519.4h.1M428.3 517.3h.1M440.2 519.3h.1M434.0 523.2h.1M447.2 519.1h.1M432.6 519.1h.1M446.6 525.1h.1M444.1 523.3h.1M438.2 515.8h.1M438.9 523.4h.1M423.3 525.6h.1M446.8 517.4h.1M442.9 517.3h.1M436.1 516.1h.1M437.1 526.1h.1M431.7 520.3h.1M431.0 511.3h.1M428.2 512.7h.1M435.7 513.0h.1M445.6 514.9h.1M445.8 523.6h.1M429.6 530.0h.1M438.2 506.9h.1M445.6 518.4h.1M440.2 527.8h.1M416.7 514.5h.1M449.6 517.6h.1M428.4 518.1h.1M447.8 520.3h.1M440.2 514.9h.1M442.9 514.8h.1M444.1 527.8h.1M430.4 517.9h.1M437.9 526.5h.1M436.7 527.5h.1M458.5 504.2h.1M428.3 522.1h.1M434.5 519.9h.1M442.7 527.1h.1M442.1 526.9h.1M447.5 512.8h.1M442.1 532.3h.1M436.3 523.1h.1M429.5 522.0h.1M453.8 513.2h.1M428.7 512.5h.1M473.8 533.5h.1M444.6 521.4h.1M430.8 532.2h.1M458.3 529.0h.1M431.5 507.8h.1M430.4 516.8h.1M437.3 521.7h.1M431.6 524.2h.1M423.8 526.2h.1M436.5 508.2h.1M436.8 515.7h.1M442.7 528.5h.1M431.8 515.3h.1M439.0 529.7h.1M441.0 520.2h.1M443.4 509.0h.1M442.9 515.0h.1M446.2 515.0h.1M437.1 533.5h.1M440.1 514.1h.1M451.3 501.8h.1M436.0 526.5h.1M448.4 518.1h.1M447.8 523.0h.1M415.5 501.0h.1M435.4 518.1h.1M441.3 523.5h.1M453.0 526.6h.1M431.1 524.3h.1M435.9 520.7h.1M415.7 517.4h.1M442.9 516.1h.1M443.1 523.5h.1M452.2 523.2h.1M429.1 515.5h.1" stroke="#000" stroke-width="0.9" stroke-linecap="round" stroke-opacity="0.6" fill="none"/>
<path d="M409.4 508.4h.1M395.5 518.1h.1M392.9 521.5h.1M408.1 526.6h.1M384.9 526.8h.1M396.3 517.2h.1M398.1 526.4h.1M401.1 525.9h.1M386.0 522.7h.1M402.1 522.5h.1M402.1 518.8h.1M399.2 530.3h.1M392.4 525.9h.1M387.8 531.6h.1M405.7 524.4h.1M397.3 526.1h.1M398.5 524.7h.1M381.0 518.6h.1M408.7 519.2h.1M382.1 522.7h.1M394.3 517.6h.1M394.2 521.1h.1M383.7 514.0h.1M395.6 515.5h.1M387.9 515.1h.1M383.4 511.2h.1M388.0 515.8h.1M399.8 528.1h.1M400.0 531.8h.1M407.5 531.1h.1M394.2 520.3h.1M401.7 505.7h.1M387.8 531.4h.1M383.9 523.7h.1M391.3 518.0h.1M385.3 511.7h.1M392.1 509.4h.1M397.7 505.8h.1M395.9 523.8h.1M384.7 512.5h.1M396.2 533.7h.1M394.9 522.9h.1M402.8 526.7h.1M384.5 514.7h.1M382.7 527.8h.1M400.9 508.5h.1M386.8 516.5h.1M392.6 519.2h.1M400.2 506.4h.1M384.6 520.0h.1M407.2 521.5h.1M400.5 530.2h.1M392.9 515.0h.1M381.0 522.4h.1M393.5 517.0h.1M406.7 513.2h.1M387.4 512.3h.1M406.6 522.3h.1M391.8 522.2h.1M397.7 514.8h.1M407.1 527.0h.1M400.4 511.7h.1M384.4 515.0h.1M380.5 531.1h.1M404.3 522.1h.1M408.9 518.0h.1M403.9 526.2h.1M390.2 521.5h.1M382.7 514.7h.1M384.4 529.7h.1M387.5 511.5h.1M394.0 526.9h.1M415.2 517.6h.1M392.1 512.7h.1M394.5 526.8h.1M401.1 522.7h.1M411.5 509.3h.1M397.8 511.6h.1M405.0 528.6h.1M380.5 522.8h.1M401.1 525.2h.1M386.0 513.0h.1M390.1 520.5h.1M417.1 526.7h.1M382.5 523.0h.1M383.1 523.2h.1M386.7 528.6h.1M397.0 520.2h.1M380.7 511.0h.1M380.7 518.2h.1M390.7 514.1h.1M392.9 517.6h.1M391.5 520.3h.1M386.7 511.9h.1M396.9 519.5h.1M388.1 521.3h.1M405.7 529.9h.1M384.4 522.3h.1M401.3 516.5h.1M392.6 530.4h.1M396.6 513.3h.1M387.8 513.7h.1M383.0 516.8h.1M397.5 526.5h.1M395.9 522.6h.1M408.9 527.6h.1M403.8 523.8h.1M407.2 517.2h.1M395.7 522.7h.1M395.0 525.9h.1M382.1 519.7h.1M383.9 518.0h.1M395.3 530.8h.1M394.5 530.8h.1M391.2 519.5h.1M404.2 525.4h.1M401.5 525.7h.1M398.3 512.7h.1M384.3 527.3h.1M403.2 522.4h.1M391.5 515.5h.1M394.2 523.6h.1M402.7 511.8h.1M385.6 516.6h.1M390.8 527.0h.1M388.5 509.4h.1M395.4 533.1h.1M404.4 518.3h.1M404.8 521.3h.1M387.9 520.1h.1M390.0 515.4h.1M388.1 514.4h.1M395.4 532.4h.1M381.2 522.2h.1M400.9 524.0h.1M394.3 515.4h.1M396.4 517.8h.1M394.8 531.7h.1M394.3 516.2h.1M397.7 519.1h.1M388.4 524.3h.1M390.1 518.4h.1M404.6 525.1h.1M382.1 516.2h.1M390.3 519.2h.1M399.2 503.1h.1M381.8 521.6h.1M411.1 514.9h.1M400.3 523.7h.1M396.8 516.4h.1M404.0 532.6h.1M390.3 515.2h.1M388.5 522.6h.1M408.1 513.6h.1M385.7 512.7h.1M382.9 520.3h.1M392.1 509.7h.1M388.9 526.7h.1M391.2 519.1h.1M385.1 523.7h.1M412.6 528.8h.1M396.3 517.4h.1M381.9 527.2h.1M390.5 528.2h.1M408.3 513.0h.1M392.1 522.3h.1M403.3 511.8h.1M402.5 524.7h.1M395.1 520.8h.1M393.9 529.7h.1M390.4 525.7h.1M393.1 527.4h.1M393.6 515.6h.1M403.7 525.4h.1M398.7 517.8h.1M394.8 516.0h.1M382.1 530.8h.1M398.5 521.7h.1M390.1 513.5h.1M389.6 520.5h.1M399.3 512.2h.1M392.5 519.4h.1M394.4 522.7h.1M398.4 474.9h.1M390.8 470.1h.1M400.9 498.5h.1M399.1 484.5h.1M394.5 468.5h.1M405.8 473.1h.1M391.2 472.1h.1M397.6 463.5h.1M393.1 495.6h.1M394.9 487.6h.1M396.7 484.7h.1M401.9 479.6h.1M391.7 474.1h.1M396.2 484.1h.1M389.4 486.4h.1M398.1 481.9h.1M397.8 480.0h.1M406.8 496.6h.1M402.9 474.2h.1M403.2 477.0h.1M397.2 479.9h.1M392.1 472.5h.1M390.9 492.0h.1M392.4 472.4h.1M395.0 479.0h.1M399.3 476.1h.1M401.1 482.5h.1M394.5 469.5h.1M404.9 476.8h.1M394.1 481.3h.1M394.3 487.8h.1M387.4 489.5h.1M398.5 475.4h.1M394.3 476.1h.1M392.3 478.3h.1M403.4 486.4h.1M392.1 470.5h.1M390.2 480.4h.1M392.3 484.9h.1M385.4 477.6h.1M398.2 481.1h.1M401.0 471.4h.1M401.3 474.2h.1M395.0 488.2h.1M396.8 491.4h.1M387.0 482.4h.1M389.6 496.1h.1M398.3 474.6h.1M402.5 492.4h.1M388.0 486.8h.1M394.3 466.7h.1M393.3 480.9h.1M406.2 484.2h.1M394.2 493.0h.1M394.5 476.2h.1M392.7 482.5h.1M403.4 491.6h.1M390.4 485.8h.1M402.4 483.5h.1M406.5 492.3h.1M393.8 471.3h.1M395.9 487.4h.1M398.5 481.8h.1M390.5 485.5h.1M393.8 478.5h.1M404.6 475.7h.1M392.8 475.3h.1M396.8 472.8h.1M390.7 481.7h.1M394.6 466.8h.1M403.3 483.3h.1M393.2 498.8h.1M390.4 488.2h.1M380.9 490.6h.1M395.4 476.3h.1M384.8 487.6h.1M390.7 476.0h.1M392.3 488.0h.1M397.8 484.5h.1M384.1 472.3h.1M395.9 487.7h.1M399.0 495.7h.1M391.6 475.7h.1M387.9 484.9h.1M390.1 496.4h.1M400.1 478.6h.1M398.5 486.7h.1M389.2 494.9h.1M391.8 464.8h.1M394.2 480.1h.1M396.3 488.6h.1M392.3 486.7h.1M410.3 478.4h.1M390.7 482.6h.1M411.1 480.9h.1M389.9 489.9h.1M401.2 475.2h.1M395.5 485.4h.1M396.4 474.5h.1M403.2 488.9h.1M394.0 469.7h.1M390.9 477.8h.1M396.5 474.3h.1M391.6 476.5h.1M399.6 489.0h.1M390.9 455.0h.1M393.2 478.1h.1M402.3 478.8h.1M390.1 481.7h.1M388.4 484.0h.1M399.5 473.6h.1M404.9 483.1h.1M398.9 488.0h.1M384.1 482.1h.1M402.9 492.1h.1M390.3 488.3h.1M395.7 465.6h.1M395.9 480.8h.1M396.6 489.1h.1M396.2 484.8h.1M397.6 475.2h.1M405.0 462.0h.1M403.6 478.4h.1M403.2 479.5h.1M390.2 487.3h.1M392.0 482.5h.1M387.6 483.7h.1M395.2 476.0h.1M389.6 495.8h.1M393.7 477.3h.1M384.5 470.7h.1M392.0 484.8h.1M393.5 480.0h.1M387.7 491.3h.1M392.4 481.0h.1M388.6 493.9h.1M390.3 480.9h.1M408.9 476.2h.1M400.4 481.8h.1M386.5 486.3h.1M391.5 484.6h.1M389.2 479.8h.1M391.5 474.0h.1M405.3 469.4h.1M393.8 486.5h.1M385.2 477.9h.1M388.2 477.4h.1M399.1 494.4h.1M391.5 483.0h.1M385.7 486.6h.1M395.7 470.4h.1M406.8 466.6h.1M396.8 492.8h.1M388.4 475.6h.1M401.0 473.9h.1M392.2 487.5h.1M398.0 479.6h.1M396.5 480.8h.1M399.1 470.8h.1M390.2 468.8h.1M395.6 477.7h.1M393.5 480.2h.1M398.2 484.7h.1M398.6 476.5h.1M400.1 476.5h.1M397.4 471.9h.1M399.1 475.4h.1M395.6 474.6h.1M399.1 489.9h.1M391.9 479.5h.1M398.7 487.9h.1M396.9 476.3h.1M385.1 462.3h.1M403.8 478.8h.1M398.2 484.8h.1M397.2 463.8h.1M389.5 490.7h.1M411.1 476.6h.1M385.6 474.8h.1M390.6 474.1h.1M387.9 490.1h.1M393.5 481.5h.1M402.3 476.0h.1M392.1 480.7h.1M399.9 488.8h.1M392.0 480.0h.1M393.9 478.6h.1M393.7 484.1h.1M395.6 481.4h.1M392.0 483.2h.1M386.4 485.7h.1M402.0 484.8h.1M385.2 482.5h.1M400.4 487.4h.1M404.0 476.5h.1M395.3 476.6h.1M387.8 479.4h.1M393.3 491.4h.1M392.2 478.3h.1M390.1 477.0h.1M395.5 488.0h.1M394.2 466.3h.1M398.4 475.3h.1M395.0 482.1h.1M394.1 478.4h.1M398.7 489.0h.1M394.2 489.4h.1M403.7 481.4h.1M392.9 480.6h.1M386.7 481.6h.1M384.7 478.6h.1M393.2 490.1h.1M384.0 484.7h.1M391.8 479.4h.1M400.9 476.7h.1M396.2 477.5h.1M395.4 473.7h.1M395.5 484.3h.1M394.6 474.1h.1M397.7 475.6h.1M394.2 486.8h.1M396.7 483.6h.1M401.4 473.8h.1M396.4 475.5h.1M394.2 483.6h.1M387.2 482.2h.1M397.7 492.5h.1M392.1 475.7h.1M388.6 485.5h.1M385.9 484.1h.1M397.9 487.3h.1M402.9 472.1h.1M386.1 489.9h.1M388.5 481.0h.1M395.3 485.6h.1M391.0 489.0h.1M385.1 487.5h.1M406.4 487.6h.1M404.8 477.0h.1M397.8 479.4h.1M383.5 476.8h.1M392.7 485.6h.1M394.8 482.1h.1M395.0 482.6h.1M395.0 468.7h.1M394.9 484.0h.1M382.6 486.6h.1M398.8 475.6h.1M393.6 479.3h.1M399.0 472.3h.1M384.4 474.9h.1M397.0 472.4h.1M397.3 481.3h.1M394.0 479.4h.1M387.2 481.4h.1M385.0 494.6h.1M393.5 487.6h.1M389.3 484.5h.1M392.8 483.8h.1M394.6 486.2h.1M400.2 480.2h.1M400.1 488.7h.1M386.3 485.1h.1M401.0 475.7h.1M396.4 483.5h.1M392.2 481.5h.1M391.7 473.8h.1M384.8 475.6h.1M395.7 502.6h.1M396.2 475.3h.1M387.1 479.8h.1M396.2 492.3h.1M392.2 483.5h.1M407.0 479.4h.1M404.2 493.6h.1M392.1 477.9h.1M388.3 488.1h.1M397.9 476.1h.1M390.5 490.2h.1M398.3 482.2h.1M407.6 480.2h.1M385.9 477.7h.1M392.3 471.4h.1M396.6 459.3h.1M384.3 484.8h.1M390.4 477.6h.1M383.8 495.5h.1M395.1 484.6h.1M396.9 477.3h.1M395.0 489.3h.1M388.4 475.7h.1M397.7 491.0h.1M391.7 489.9h.1M405.1 467.1h.1M396.0 466.3h.1M387.6 485.7h.1M399.6 473.6h.1M397.1 466.8h.1M390.2 482.6h.1M385.1 483.6h.1M390.5 480.1h.1M400.1 480.5h.1M397.2 482.0h.1M388.6 479.3h.1M402.7 464.0h.1M384.3 472.6h.1M400.4 485.0h.1M403.0 471.7h.1M389.8 477.4h.1M391.3 486.3h.1M407.5 484.8h.1M385.3 482.5h.1M405.2 482.1h.1M403.3 484.3h.1M388.6 475.6h.1M394.0 470.5h.1M400.6 477.7h.1M390.4 482.2h.1M402.2 494.4h.1M402.4 472.8h.1M404.4 479.5h.1M399.0 480.5h.1M390.8 481.3h.1M388.1 500.8h.1M400.0 486.7h.1M395.0 473.7h.1M396.6 487.8h.1M394.7 473.2h.1M434.1 492.5h.1M425.0 506.4h.1M425.6 487.3h.1M422.3 493.8h.1M443.0 487.4h.1M418.8 487.3h.1M409.3 490.2h.1M445.8 486.5h.1M435.8 483.9h.1M444.8 492.5h.1M433.6 485.2h.1M437.2 484.2h.1M442.4 494.4h.1M438.9 495.1h.1M446.4 492.0h.1M414.6 503.5h.1M426.8 474.4h.1M433.8 489.5h.1M447.3 494.1h.1M435.5 496.6h.1M440.2 500.4h.1M418.8 493.6h.1M448.5 478.6h.1M453.2 503.6h.1M434.1 493.3h.1M429.5 501.6h.1M432.8 495.8h.1M439.6 485.3h.1M441.3 496.7h.1M429.0 495.5h.1M453.4 490.6h.1M423.3 486.8h.1M430.3 489.7h.1M442.7 486.5h.1M422.2 493.4h.1M435.2 476.1h.1M443.2 493.9h.1M428.5 508.1h.1M424.1 488.1h.1M438.5 483.3h.1M431.6 487.8h.1M431.3 494.0h.1M422.1 488.0h.1M426.8 498.8h.1M445.5 501.3h.1M432.6 488.2h.1M428.1 503.7h.1M429.9 488.6h.1M423.9 495.0h.1M424.1 487.3h.1M439.7 488.1h.1M436.6 491.8h.1M442.9 492.0h.1M444.1 474.9h.1M438.3 487.9h.1M419.4 497.1h.1M421.4 486.1h.1M429.0 472.6h.1M429.3 495.5h.1M444.4 484.9h.1M402.1 490.4h.1M417.0 502.8h.1M445.0 483.4h.1M453.4 491.6h.1M440.5 494.8h.1M437.9 481.2h.1M413.6 481.3h.1M434.8 493.3h.1M411.5 483.1h.1M434.7 483.1h.1M442.1 500.9h.1M446.7 493.5h.1M440.2 496.6h.1M426.2 468.8h.1M445.1 500.9h.1M439.1 502.0h.1M442.9 487.1h.1M421.7 485.2h.1M444.2 492.5h.1M420.5 490.1h.1M446.9 497.8h.1M455.0 487.1h.1M430.5 500.3h.1M430.9 487.5h.1M439.8 489.2h.1M449.1 476.2h.1M420.8 490.6h.1M441.2 509.4h.1M412.9 483.1h.1M433.7 492.6h.1M421.3 478.9h.1M429.4 489.3h.1M432.8 488.9h.1M406.5 490.8h.1M425.0 487.9h.1M441.7 484.3h.1M428.6 488.6h.1M435.7 494.7h.1M414.6 487.4h.1M432.4 497.3h.1M447.5 490.0h.1M415.3 500.4h.1M444.9 483.4h.1M420.4 493.4h.1M431.9 507.0h.1M443.4 501.9h.1M425.8 497.8h.1M433.2 497.1h.1M426.9 498.5h.1M430.8 494.6h.1M418.9 489.4h.1M453.5 496.4h.1M450.8 483.7h.1M443.0 507.1h.1M430.2 501.7h.1M433.6 497.6h.1M439.5 510.5h.1M423.5 473.5h.1M428.5 493.3h.1M416.2 487.8h.1M440.3 485.0h.1M432.6 487.4h.1M440.3 494.9h.1M433.5 482.6h.1M446.1 503.3h.1M447.4 488.5h.1M421.4 485.6h.1M421.2 482.1h.1M454.9 491.3h.1M412.2 499.6h.1M432.3 484.0h.1M423.3 496.8h.1M432.7 488.2h.1M447.2 501.6h.1M452.0 506.9h.1M411.9 482.5h.1M458.3 493.3h.1M419.7 502.6h.1M421.0 488.1h.1M433.1 503.3h.1M442.7 498.8h.1M419.5 494.1h.1M432.1 490.3h.1M422.0 497.6h.1M428.6 502.8h.1M411.8 489.8h.1M441.3 488.5h.1M434.8 479.1h.1M438.4 495.4h.1M449.6 494.3h.1M434.6 482.9h.1M429.0 489.3h.1M430.8 488.1h.1M415.6 474.6h.1M437.5 481.3h.1M427.4 486.9h.1M438.4 482.2h.1M444.6 478.4h.1M426.4 483.7h.1M400.6 494.8h.1M438.4 492.4h.1M445.1 484.4h.1M435.0 478.2h.1M453.1 486.7h.1M437.8 483.8h.1M437.5 506.6h.1M430.3 494.9h.1M428.7 509.6h.1M419.8 489.0h.1M449.9 480.2h.1M420.2 496.3h.1M423.9 500.0h.1M439.6 493.7h.1M420.9 504.7h.1M429.7 481.8h.1M414.6 498.5h.1M417.0 496.4h.1M452.8 487.8h.1M414.8 485.3h.1M429.1 483.8h.1M448.2 495.1h.1M449.8 486.4h.1M432.8 496.4h.1M421.0 489.2h.1M415.9 510.3h.1M423.9 500.4h.1M452.0 493.7h.1M436.9 490.0h.1M436.0 492.5h.1M415.0 486.4h.1M429.1 486.0h.1M435.0 478.8h.1M416.0 489.6h.1M410.2 491.5h.1M443.0 491.3h.1M436.7 508.0h.1M440.7 497.0h.1M428.3 480.2h.1M433.6 493.4h.1M418.6 494.4h.1M437.5 488.9h.1M437.0 476.7h.1M441.4 494.9h.1M418.4 495.0h.1M429.2 474.2h.1M447.0 488.6h.1M441.0 500.4h.1M446.5 488.4h.1M429.3 492.9h.1M437.4 494.8h.1M427.0 497.6h.1M417.1 488.1h.1M426.9 499.4h.1M422.1 493.3h.1M434.5 493.6h.1M435.7 480.4h.1M444.4 487.8h.1M437.2 487.5h.1M419.1 491.7h.1M429.4 493.1h.1M431.4 489.3h.1M435.2 488.6h.1M442.5 483.6h.1M395.2 485.8h.1M427.6 495.9h.1M442.8 499.9h.1M441.7 499.0h.1M423.5 490.1h.1M447.8 495.8h.1M426.4 490.1h.1M430.5 487.0h.1M409.7 495.5h.1M457.5 486.7h.1M417.8 468.3h.1M437.9 496.2h.1M426.1 487.5h.1M440.5 491.7h.1M411.7 487.6h.1M442.3 499.1h.1M431.8 468.5h.1M432.6 489.8h.1M429.8 485.0h.1M439.1 488.9h.1M431.9 478.7h.1M423.3 496.5h.1M431.1 496.6h.1M438.4 497.5h.1M444.2 498.2h.1M442.4 487.4h.1M431.5 491.9h.1M425.2 484.6h.1M439.4 497.3h.1M414.8 487.6h.1M428.7 501.6h.1M451.6 485.0h.1M438.6 495.4h.1M417.8 479.9h.1M432.1 492.9h.1M414.1 485.0h.1M410.6 509.6h.1M423.8 490.5h.1M426.1 485.0h.1M429.3 499.8h.1M440.3 481.0h.1M437.9 479.4h.1M431.7 496.9h.1M434.2 502.1h.1M420.5 496.9h.1M432.1 504.4h.1M438.7 489.8h.1M429.7 495.1h.1M416.2 490.8h.1M407.4 486.7h.1M430.3 488.4h.1M424.3 506.1h.1M420.1 497.3h.1M430.3 490.2h.1M440.2 496.9h.1M427.8 490.4h.1M436.6 485.1h.1M418.8 483.7h.1M453.0 480.1h.1M436.4 501.1h.1M443.5 489.7h.1M433.7 479.8h.1M445.1 489.0h.1M429.3 510.6h.1M450.8 500.7h.1M442.7 490.3h.1M421.0 500.6h.1M417.9 481.6h.1M419.2 490.3h.1M440.3 472.5h.1M428.7 498.9h.1M432.1 490.7h.1M429.2 492.4h.1M438.4 502.4h.1M437.6 483.7h.1M444.0 485.9h.1M436.8 479.3h.1M447.8 511.2h.1M440.3 508.0h.1M411.7 531.7h.1M421.3 528.2h.1M455.0 511.0h.1M415.5 504.4h.1M413.8 528.7h.1M435.6 504.0h.1M454.7 504.5h.1M439.8 510.6h.1M431.2 511.4h.1M381.7 522.6h.1M414.5 511.2h.1M446.6 525.4h.1M431.6 511.6h.1M396.2 525.9h.1M426.0 520.4h.1M413.0 511.7h.1M433.1 524.5h.1M394.7 521.0h.1M430.6 512.2h.1M477.8 505.9h.1M437.8 524.7h.1M420.0 517.7h.1M453.3 516.8h.1M415.6 509.7h.1M436.8 519.2h.1M421.6 523.7h.1M417.3 533.2h.1M432.7 520.5h.1M424.5 501.0h.1M438.1 514.2h.1M413.9 521.9h.1M427.1 522.8h.1M430.5 509.4h.1M443.0 516.6h.1M453.6 533.1h.1M444.3 515.4h.1M419.4 525.9h.1M412.2 516.6h.1M429.5 523.8h.1M455.1 510.1h.1M413.2 510.5h.1M397.3 500.7h.1M440.8 514.0h.1M467.3 515.4h.1M404.7 531.2h.1M389.6 526.5h.1M426.8 509.8h.1M425.7 517.6h.1M435.1 508.0h.1M409.4 520.4h.1M417.8 522.6h.1M412.4 525.4h.1M433.0 534.3h.1M405.9 520.1h.1M418.4 525.7h.1M449.9 497.9h.1M417.1 527.3h.1M426.8 528.0h.1M421.6 528.3h.1M422.5 514.9h.1M442.6 511.0h.1M407.6 529.4h.1M434.4 502.7h.1M421.3 527.9h.1M403.2 504.2h.1M397.4 516.6h.1M459.9 519.0h.1M457.1 521.0h.1M410.2 517.1h.1M440.7 505.2h.1M439.8 519.3h.1M428.1 508.3h.1M440.2 528.2h.1M441.2 524.9h.1M423.0 523.6h.1M432.8 525.6h.1M417.0 521.5h.1M453.8 513.9h.1M440.6 513.4h.1M409.7 510.7h.1M415.7 514.6h.1M412.9 523.8h.1M435.8 534.6h.1M433.4 518.4h.1M426.1 517.7h.1M423.2 518.4h.1M432.4 518.8h.1M426.4 511.7h.1M438.1 522.3h.1M409.8 517.4h.1M417.0 516.9h.1M410.9 526.6h.1M428.3 516.7h.1M417.4 517.7h.1M440.2 515.7h.1M436.9 512.2h.1M413.5 520.1h.1M413.3 516.1h.1M434.7 527.5h.1M428.8 503.2h.1M420.2 532.0h.1M459.5 515.4h.1M448.6 517.7h.1M405.9 510.7h.1M439.7 523.0h.1M406.8 514.1h.1M447.5 504.5h.1M425.2 519.2h.1M428.9 514.8h.1M441.7 509.0h.1M452.7 510.0h.1M440.3 532.3h.1M420.8 511.2h.1M437.2 518.9h.1M434.1 520.8h.1M438.7 516.2h.1M466.1 527.9h.1M453.4 530.8h.1M418.7 518.5h.1M394.6 521.5h.1M450.6 515.2h.1M453.8 523.0h.1M402.3 514.8h.1M437.1 518.5h.1M439.3 512.7h.1M432.9 519.1h.1M388.2 523.9h.1M402.8 519.6h.1M406.9 502.7h.1M445.5 524.6h.1M400.4 529.6h.1M416.0 525.1h.1M433.4 520.5h.1M416.6 509.1h.1M430.6 511.8h.1M419.3 511.4h.1M385.9 523.6h.1M439.9 513.7h.1M414.6 523.2h.1M423.3 514.1h.1M434.1 522.2h.1M446.6 519.7h.1M437.1 523.4h.1M425.3 515.4h.1M435.0 508.2h.1M420.2 509.4h.1M393.8 508.6h.1" stroke="#000" stroke-width="0.9" stroke-linecap="round" stroke-opacity="0.45" fill="none"/>
<rect x="377.7" y="415.4" width="130.8" height="120.80000000000007" fill="none" stroke="#777" stroke-width="1"/>
<line x1="412.3" y1="415.4" x2="412.3" y2="536.2" stroke="#505050" stroke-width="1.35" />
<line x1="377.7" y1="505" x2="508.5" y2="505" stroke="#505050" stroke-width="1.35" />
<text transform="translate(378.9,422.7) scale(1.1,1)" font-size="6.8" font-weight="normal" text-anchor="start" fill="#444" >B1</text>
<text transform="translate(413.5,422.7) scale(1.1,1)" font-size="6.8" font-weight="normal" text-anchor="start" fill="#444" >B2</text>
<text transform="translate(378.9,512.8) scale(1.1,1)" font-size="6.8" font-weight="normal" text-anchor="start" fill="#444" >B3</text>
<text transform="translate(413.5,512.8) scale(1.1,1)" font-size="6.8" font-weight="normal" text-anchor="start" fill="#444" >B4</text>
<text transform="translate(477.3,431.2) scale(1.14,1)" font-size="10.3" font-weight="bold" text-anchor="middle" fill="#000" >+ 5 <tspan font-style="italic">µ</tspan>M</text>
<text transform="translate(477.3,443.6) scale(1.07,1)" font-size="11.2" font-weight="bold" text-anchor="middle" fill="#000" >Imatinib</text>
<text transform="translate(501.8,497.4) scale(1.02,1)" font-size="12" font-weight="bold" text-anchor="end" fill="#000" >6±3%</text>
<text transform="translate(508.5,531) scale(1.02,1)" font-size="12" font-weight="bold" text-anchor="end" fill="#000" >78±5%</text>
<text x="402.7" y="550.8" font-size="12" font-weight="bold">10<tspan dy="-5.3" dx="0" font-size="8.8" font-weight="normal" fill="#222">0</tspan></text>
<text x="434.7" y="550.8" font-size="12" font-weight="bold">10<tspan dy="-5.3" dx="0" font-size="8.8" font-weight="normal" fill="#222">1</tspan></text>
<text x="466.0" y="550.8" font-size="12" font-weight="bold">10<tspan dy="-5.3" dx="0" font-size="8.8" font-weight="normal" fill="#222">2</tspan></text>
<text x="499.0" y="550.8" font-size="12" font-weight="bold">10<tspan dy="-5.3" dx="0" font-size="8.8" font-weight="normal" fill="#222">3</tspan></text>
<text x="353.8" y="513.0" font-size="12" font-weight="bold">10<tspan dy="-5.3" dx="0" font-size="8.8" font-weight="normal" fill="#222">0</tspan></text>
<text x="353.8" y="483.0" font-size="12" font-weight="bold">10<tspan dy="-5.3" dx="0" font-size="8.8" font-weight="normal" fill="#222">1</tspan></text>
<text x="353.8" y="453.4" font-size="12" font-weight="bold">10<tspan dy="-5.3" dx="0" font-size="8.8" font-weight="normal" fill="#222">2</tspan></text>
<text x="353.8" y="422.3" font-size="12" font-weight="bold">10<tspan dy="-5.3" dx="0" font-size="8.8" font-weight="normal" fill="#222">3</tspan></text>
<line x1="378.8" y1="536.2" x2="378.8" y2="538.4000000000001" stroke="#888" stroke-width="0.8" />
<line x1="380.2" y1="536.2" x2="380.2" y2="539.4000000000001" stroke="#888" stroke-width="0.8" />
<line x1="389.9" y1="536.2" x2="389.9" y2="538.4000000000001" stroke="#888" stroke-width="0.8" />
<line x1="374.5" y1="527.7" x2="377.7" y2="527.7" stroke="#888" stroke-width="0.8" />
<line x1="395.5" y1="536.2" x2="395.5" y2="538.4000000000001" stroke="#888" stroke-width="0.8" />
<line x1="374.5" y1="522.4" x2="377.7" y2="522.4" stroke="#888" stroke-width="0.8" />
<line x1="399.5" y1="536.2" x2="399.5" y2="538.4000000000001" stroke="#888" stroke-width="0.8" />
<line x1="374.5" y1="518.6" x2="377.7" y2="518.6" stroke="#888" stroke-width="0.8" />
<line x1="402.6" y1="536.2" x2="402.6" y2="538.4000000000001" stroke="#888" stroke-width="0.8" />
<line x1="374.5" y1="515.6" x2="377.7" y2="515.6" stroke="#888" stroke-width="0.8" />
<line x1="405.2" y1="536.2" x2="405.2" y2="538.4000000000001" stroke="#888" stroke-width="0.8" />
<line x1="374.5" y1="513.2" x2="377.7" y2="513.2" stroke="#888" stroke-width="0.8" />
<line x1="407.3" y1="536.2" x2="407.3" y2="538.4000000000001" stroke="#888" stroke-width="0.8" />
<line x1="374.5" y1="511.2" x2="377.7" y2="511.2" stroke="#888" stroke-width="0.8" />
<line x1="409.2" y1="536.2" x2="409.2" y2="538.4000000000001" stroke="#888" stroke-width="0.8" />
<line x1="374.5" y1="509.4" x2="377.7" y2="509.4" stroke="#888" stroke-width="0.8" />
<line x1="410.8" y1="536.2" x2="410.8" y2="538.4000000000001" stroke="#888" stroke-width="0.8" />
<line x1="374.5" y1="507.9" x2="377.7" y2="507.9" stroke="#888" stroke-width="0.8" />
<line x1="412.3" y1="536.2" x2="412.3" y2="539.4000000000001" stroke="#888" stroke-width="0.8" />
<line x1="372.9" y1="506.5" x2="377.7" y2="506.5" stroke="#888" stroke-width="0.8" />
<line x1="422.0" y1="536.2" x2="422.0" y2="538.4000000000001" stroke="#888" stroke-width="0.8" />
<line x1="374.5" y1="497.4" x2="377.7" y2="497.4" stroke="#888" stroke-width="0.8" />
<line x1="427.6" y1="536.2" x2="427.6" y2="538.4000000000001" stroke="#888" stroke-width="0.8" />
<line x1="374.5" y1="492.0" x2="377.7" y2="492.0" stroke="#888" stroke-width="0.8" />
<line x1="431.6" y1="536.2" x2="431.6" y2="538.4000000000001" stroke="#888" stroke-width="0.8" />
<line x1="374.5" y1="488.2" x2="377.7" y2="488.2" stroke="#888" stroke-width="0.8" />
<line x1="434.7" y1="536.2" x2="434.7" y2="538.4000000000001" stroke="#888" stroke-width="0.8" />
<line x1="374.5" y1="485.3" x2="377.7" y2="485.3" stroke="#888" stroke-width="0.8" />
<line x1="437.3" y1="536.2" x2="437.3" y2="538.4000000000001" stroke="#888" stroke-width="0.8" />
<line x1="374.5" y1="482.9" x2="377.7" y2="482.9" stroke="#888" stroke-width="0.8" />
<line x1="439.4" y1="536.2" x2="439.4" y2="538.4000000000001" stroke="#888" stroke-width="0.8" />
<line x1="374.5" y1="480.8" x2="377.7" y2="480.8" stroke="#888" stroke-width="0.8" />
<line x1="441.3" y1="536.2" x2="441.3" y2="538.4000000000001" stroke="#888" stroke-width="0.8" />
<line x1="374.5" y1="479.1" x2="377.7" y2="479.1" stroke="#888" stroke-width="0.8" />
<line x1="442.9" y1="536.2" x2="442.9" y2="538.4000000000001" stroke="#888" stroke-width="0.8" />
<line x1="374.5" y1="477.5" x2="377.7" y2="477.5" stroke="#888" stroke-width="0.8" />
<line x1="444.4" y1="536.2" x2="444.4" y2="539.4000000000001" stroke="#888" stroke-width="0.8" />
<line x1="372.9" y1="476.1" x2="377.7" y2="476.1" stroke="#888" stroke-width="0.8" />
<line x1="454.0" y1="536.2" x2="454.0" y2="538.4000000000001" stroke="#888" stroke-width="0.8" />
<line x1="374.5" y1="467.0" x2="377.7" y2="467.0" stroke="#888" stroke-width="0.8" />
<line x1="459.7" y1="536.2" x2="459.7" y2="538.4000000000001" stroke="#888" stroke-width="0.8" />
<line x1="374.5" y1="461.6" x2="377.7" y2="461.6" stroke="#888" stroke-width="0.8" />
<line x1="463.7" y1="536.2" x2="463.7" y2="538.4000000000001" stroke="#888" stroke-width="0.8" />
<line x1="374.5" y1="457.9" x2="377.7" y2="457.9" stroke="#888" stroke-width="0.8" />
<line x1="466.8" y1="536.2" x2="466.8" y2="538.4000000000001" stroke="#888" stroke-width="0.8" />
<line x1="374.5" y1="454.9" x2="377.7" y2="454.9" stroke="#888" stroke-width="0.8" />
<line x1="469.3" y1="536.2" x2="469.3" y2="538.4000000000001" stroke="#888" stroke-width="0.8" />
<line x1="374.5" y1="452.5" x2="377.7" y2="452.5" stroke="#888" stroke-width="0.8" />
<line x1="471.5" y1="536.2" x2="471.5" y2="538.4000000000001" stroke="#888" stroke-width="0.8" />
<line x1="374.5" y1="450.5" x2="377.7" y2="450.5" stroke="#888" stroke-width="0.8" />
<line x1="473.3" y1="536.2" x2="473.3" y2="538.4000000000001" stroke="#888" stroke-width="0.8" />
<line x1="374.5" y1="448.7" x2="377.7" y2="448.7" stroke="#888" stroke-width="0.8" />
<line x1="475.0" y1="536.2" x2="475.0" y2="538.4000000000001" stroke="#888" stroke-width="0.8" />
<line x1="374.5" y1="447.2" x2="377.7" y2="447.2" stroke="#888" stroke-width="0.8" />
<line x1="476.4" y1="536.2" x2="476.4" y2="539.4000000000001" stroke="#888" stroke-width="0.8" />
<line x1="372.9" y1="445.8" x2="377.7" y2="445.8" stroke="#888" stroke-width="0.8" />
<line x1="486.1" y1="536.2" x2="486.1" y2="538.4000000000001" stroke="#888" stroke-width="0.8" />
<line x1="374.5" y1="436.6" x2="377.7" y2="436.6" stroke="#888" stroke-width="0.8" />
<line x1="491.7" y1="536.2" x2="491.7" y2="538.4000000000001" stroke="#888" stroke-width="0.8" />
<line x1="374.5" y1="431.3" x2="377.7" y2="431.3" stroke="#888" stroke-width="0.8" />
<line x1="495.7" y1="536.2" x2="495.7" y2="538.4000000000001" stroke="#888" stroke-width="0.8" />
<line x1="374.5" y1="427.5" x2="377.7" y2="427.5" stroke="#888" stroke-width="0.8" />
<line x1="498.8" y1="536.2" x2="498.8" y2="538.4000000000001" stroke="#888" stroke-width="0.8" />
<line x1="374.5" y1="424.5" x2="377.7" y2="424.5" stroke="#888" stroke-width="0.8" />
<line x1="501.4" y1="536.2" x2="501.4" y2="538.4000000000001" stroke="#888" stroke-width="0.8" />
<line x1="374.5" y1="422.1" x2="377.7" y2="422.1" stroke="#888" stroke-width="0.8" />
<line x1="503.5" y1="536.2" x2="503.5" y2="538.4000000000001" stroke="#888" stroke-width="0.8" />
<line x1="374.5" y1="420.1" x2="377.7" y2="420.1" stroke="#888" stroke-width="0.8" />
<line x1="505.4" y1="536.2" x2="505.4" y2="538.4000000000001" stroke="#888" stroke-width="0.8" />
<line x1="374.5" y1="418.3" x2="377.7" y2="418.3" stroke="#888" stroke-width="0.8" />
<line x1="507.0" y1="536.2" x2="507.0" y2="538.4000000000001" stroke="#888" stroke-width="0.8" />
<line x1="374.5" y1="416.8" x2="377.7" y2="416.8" stroke="#888" stroke-width="0.8" />
<text transform="translate(19.8,470) rotate(-90)" font-size="14" font-weight="bold" text-anchor="middle">FL3-H</text>
<text x="289" y="566.5" font-size="13.2" font-weight="bold" text-anchor="middle" fill="#000" >FL1-H</text>
<line x1="85.5" y1="585.5" x2="267.5" y2="585.5" stroke="#777" stroke-width="1" stroke-dasharray="6.4,3"/>
<path d="M86 647.5 C86.5 644,88 642,91.3 640 C96 637,100 636,105 634.5 C113 632.5,120 631,130 629.3 C140 627.8,150 626.3,160 625 C170 623.7,185 621.5,200 618.8 C210 617,218 615.8,225 614.5 C231 613.2,236 612,240 610.5 C244 609,247 608,250 606.3 C253 604.5,255.5 602.5,257.5 600.5 C259.5 598.5,261 597,262.5 595 C264 592.5,265 590.5,266 587.5 C266.8 585,267.2 583,267.5 580" fill="none" stroke="#777" stroke-width="1"/>
<line x1="85.5" y1="585.0" x2="85.5" y2="680.1" stroke="#555" stroke-width="1.4" />
<line x1="84.9" y1="679.5" x2="268.5" y2="679.5" stroke="#555" stroke-width="1.4" />
<text transform="translate(78.3,683.8) scale(1.07,1)" font-size="11.5" font-weight="bold" text-anchor="end" fill="#000" >0</text>
<line x1="80.7" y1="679.5" x2="85.5" y2="679.5" stroke="#444" stroke-width="1.2" />
<text transform="translate(86.3,695.3) scale(1.05,1)" font-size="11.8" font-weight="bold" text-anchor="middle" fill="#000" >0</text>
<line x1="85.5" y1="679.5" x2="85.5" y2="683.5" stroke="#444" stroke-width="1.2" />
<text transform="translate(78.3,665.0) scale(1.07,1)" font-size="11.5" font-weight="bold" text-anchor="end" fill="#000" >0.2</text>
<line x1="80.7" y1="660.7" x2="85.5" y2="660.7" stroke="#444" stroke-width="1.2" />
<text transform="translate(122.7,695.3) scale(1.05,1)" font-size="11.8" font-weight="bold" text-anchor="middle" fill="#000" >0.2</text>
<line x1="121.9" y1="679.5" x2="121.9" y2="683.5" stroke="#444" stroke-width="1.2" />
<text transform="translate(78.3,646.1999999999999) scale(1.07,1)" font-size="11.5" font-weight="bold" text-anchor="end" fill="#000" >0.4</text>
<line x1="80.7" y1="641.9" x2="85.5" y2="641.9" stroke="#444" stroke-width="1.2" />
<text transform="translate(159.10000000000002,695.3) scale(1.05,1)" font-size="11.8" font-weight="bold" text-anchor="middle" fill="#000" >0.4</text>
<line x1="158.3" y1="679.5" x2="158.3" y2="683.5" stroke="#444" stroke-width="1.2" />
<text transform="translate(78.3,627.4) scale(1.07,1)" font-size="11.5" font-weight="bold" text-anchor="end" fill="#000" >0.6</text>
<line x1="80.7" y1="623.1" x2="85.5" y2="623.1" stroke="#444" stroke-width="1.2" />
<text transform="translate(195.5,695.3) scale(1.05,1)" font-size="11.8" font-weight="bold" text-anchor="middle" fill="#000" >0.6</text>
<line x1="194.7" y1="679.5" x2="194.7" y2="683.5" stroke="#444" stroke-width="1.2" />
<text transform="translate(78.3,608.5999999999999) scale(1.07,1)" font-size="11.5" font-weight="bold" text-anchor="end" fill="#000" >0.8</text>
<line x1="80.7" y1="604.3" x2="85.5" y2="604.3" stroke="#444" stroke-width="1.2" />
<text transform="translate(231.9,695.3) scale(1.05,1)" font-size="11.8" font-weight="bold" text-anchor="middle" fill="#000" >0.8</text>
<line x1="231.1" y1="679.5" x2="231.1" y2="683.5" stroke="#444" stroke-width="1.2" />
<text transform="translate(78.3,589.8) scale(1.07,1)" font-size="11.5" font-weight="bold" text-anchor="end" fill="#000" >1.0</text>
<line x1="80.7" y1="585.5" x2="85.5" y2="585.5" stroke="#444" stroke-width="1.2" />
<text transform="translate(268.3,695.3) scale(1.05,1)" font-size="11.8" font-weight="bold" text-anchor="middle" fill="#000" >1.0</text>
<line x1="267.5" y1="679.5" x2="267.5" y2="683.5" stroke="#444" stroke-width="1.2" />
<text x="176.5" y="714.5" font-size="14" font-weight="bold" text-anchor="middle" fill="#000" >Fractional Effect</text>
<text x="207.5" y="670" font-size="15.7" font-weight="bold" text-anchor="start" fill="#000" >E225K</text>
<circle cx="99.3" cy="644.8" r="2.7" fill="#000"/>
<circle cx="131" cy="618.3" r="2.7" fill="#000"/>
<circle cx="160" cy="609.4" r="2.7" fill="#000"/>
<circle cx="224.5" cy="610.8" r="2.7" fill="#000"/>
<circle cx="263" cy="611.8" r="2.7" fill="#000"/>
<circle cx="265" cy="598.8" r="2.7" fill="#000"/>
<text transform="translate(52,630.5) rotate(-90)" font-size="16" font-weight="bold" text-anchor="middle">CI</text>
<line x1="307" y1="586.3" x2="491.8" y2="586.3" stroke="#c4c4c4" stroke-width="1" stroke-dasharray="6.4,3"/>
<path d="M307.5 605 C308 608,309 610,310 611.3 C311.5 613.5,313 614.7,315 615.5 C318 616.8,321 617.5,325 618 C331 618.8,338 619.1,345 619.3 C355 619.6,362 619.8,370 619.8 C380 620,385 620,390 620 C410 620,425 619.6,440 619 C450 618.6,458 618.2,465 617.5 C471 617,476 616.8,480 616.3 C483 615.8,485.5 615.3,487.5 614.5 C489.5 613.5,490.7 612,491.3 610" fill="none" stroke="#777" stroke-width="1"/>
<line x1="307" y1="585.8" x2="307" y2="681.9" stroke="#555" stroke-width="1.4" />
<line x1="306.4" y1="681.3" x2="492.8" y2="681.3" stroke="#555" stroke-width="1.4" />
<text transform="translate(300,685.5999999999999) scale(1.07,1)" font-size="11.5" font-weight="bold" text-anchor="end" fill="#000" >0</text>
<line x1="302.2" y1="681.3" x2="307" y2="681.3" stroke="#444" stroke-width="1.2" />
<text transform="translate(311.3,696.3) scale(1.05,1)" font-size="11.8" font-weight="bold" text-anchor="middle" fill="#000" >0</text>
<line x1="307.5" y1="681.3" x2="307.5" y2="685.3" stroke="#444" stroke-width="1.2" />
<text transform="translate(300,666.5999999999999) scale(1.07,1)" font-size="11.5" font-weight="bold" text-anchor="end" fill="#000" >0.2</text>
<line x1="302.2" y1="662.3" x2="307" y2="662.3" stroke="#444" stroke-width="1.2" />
<text transform="translate(345.16,696.3) scale(1.05,1)" font-size="11.8" font-weight="bold" text-anchor="middle" fill="#000" >0.2</text>
<line x1="344.36" y1="681.3" x2="344.36" y2="685.3" stroke="#444" stroke-width="1.2" />
<text transform="translate(300,647.5999999999999) scale(1.07,1)" font-size="11.5" font-weight="bold" text-anchor="end" fill="#000" >0.4</text>
<line x1="302.2" y1="643.3" x2="307" y2="643.3" stroke="#444" stroke-width="1.2" />
<text transform="translate(382.02000000000004,696.3) scale(1.05,1)" font-size="11.8" font-weight="bold" text-anchor="middle" fill="#000" >0.4</text>
<line x1="381.22" y1="681.3" x2="381.22" y2="685.3" stroke="#444" stroke-width="1.2" />
<text transform="translate(300,628.5999999999999) scale(1.07,1)" font-size="11.5" font-weight="bold" text-anchor="end" fill="#000" >0.6</text>
<line x1="302.2" y1="624.3" x2="307" y2="624.3" stroke="#444" stroke-width="1.2" />
<text transform="translate(418.88000000000005,696.3) scale(1.05,1)" font-size="11.8" font-weight="bold" text-anchor="middle" fill="#000" >0.6</text>
<line x1="418.08000000000004" y1="681.3" x2="418.08000000000004" y2="685.3" stroke="#444" stroke-width="1.2" />
<text transform="translate(300,609.5999999999999) scale(1.07,1)" font-size="11.5" font-weight="bold" text-anchor="end" fill="#000" >0.8</text>
<line x1="302.2" y1="605.3" x2="307" y2="605.3" stroke="#444" stroke-width="1.2" />
<text transform="translate(455.74,696.3) scale(1.05,1)" font-size="11.8" font-weight="bold" text-anchor="middle" fill="#000" >0.8</text>
<line x1="454.94" y1="681.3" x2="454.94" y2="685.3" stroke="#444" stroke-width="1.2" />
<text transform="translate(300,590.5999999999999) scale(1.07,1)" font-size="11.5" font-weight="bold" text-anchor="end" fill="#000" >1.0</text>
<line x1="302.2" y1="586.3" x2="307" y2="586.3" stroke="#444" stroke-width="1.2" />
<text transform="translate(492.6,696.3) scale(1.05,1)" font-size="11.8" font-weight="bold" text-anchor="middle" fill="#000" >1.0</text>
<line x1="491.8" y1="681.3" x2="491.8" y2="685.3" stroke="#444" stroke-width="1.2" />
<text x="402.8" y="714.5" font-size="14" font-weight="bold" text-anchor="middle" fill="#000" >Fractional Effect</text>
<text x="432" y="673" font-size="15.7" font-weight="bold" text-anchor="start" fill="#000" >T315I</text>
<circle cx="335.8" cy="637" r="2.7" fill="#000"/>
<circle cx="350.5" cy="601.8" r="2.7" fill="#000"/>
<circle cx="373" cy="597" r="2.7" fill="#000"/>
<circle cx="436" cy="615.5" r="2.7" fill="#000"/>
<circle cx="464.3" cy="611.8" r="2.7" fill="#000"/>
<circle cx="490" cy="620.5" r="2.7" fill="#000"/>
<circle cx="487" cy="629.3" r="2.7" fill="#000"/>
</svg></body></html>
